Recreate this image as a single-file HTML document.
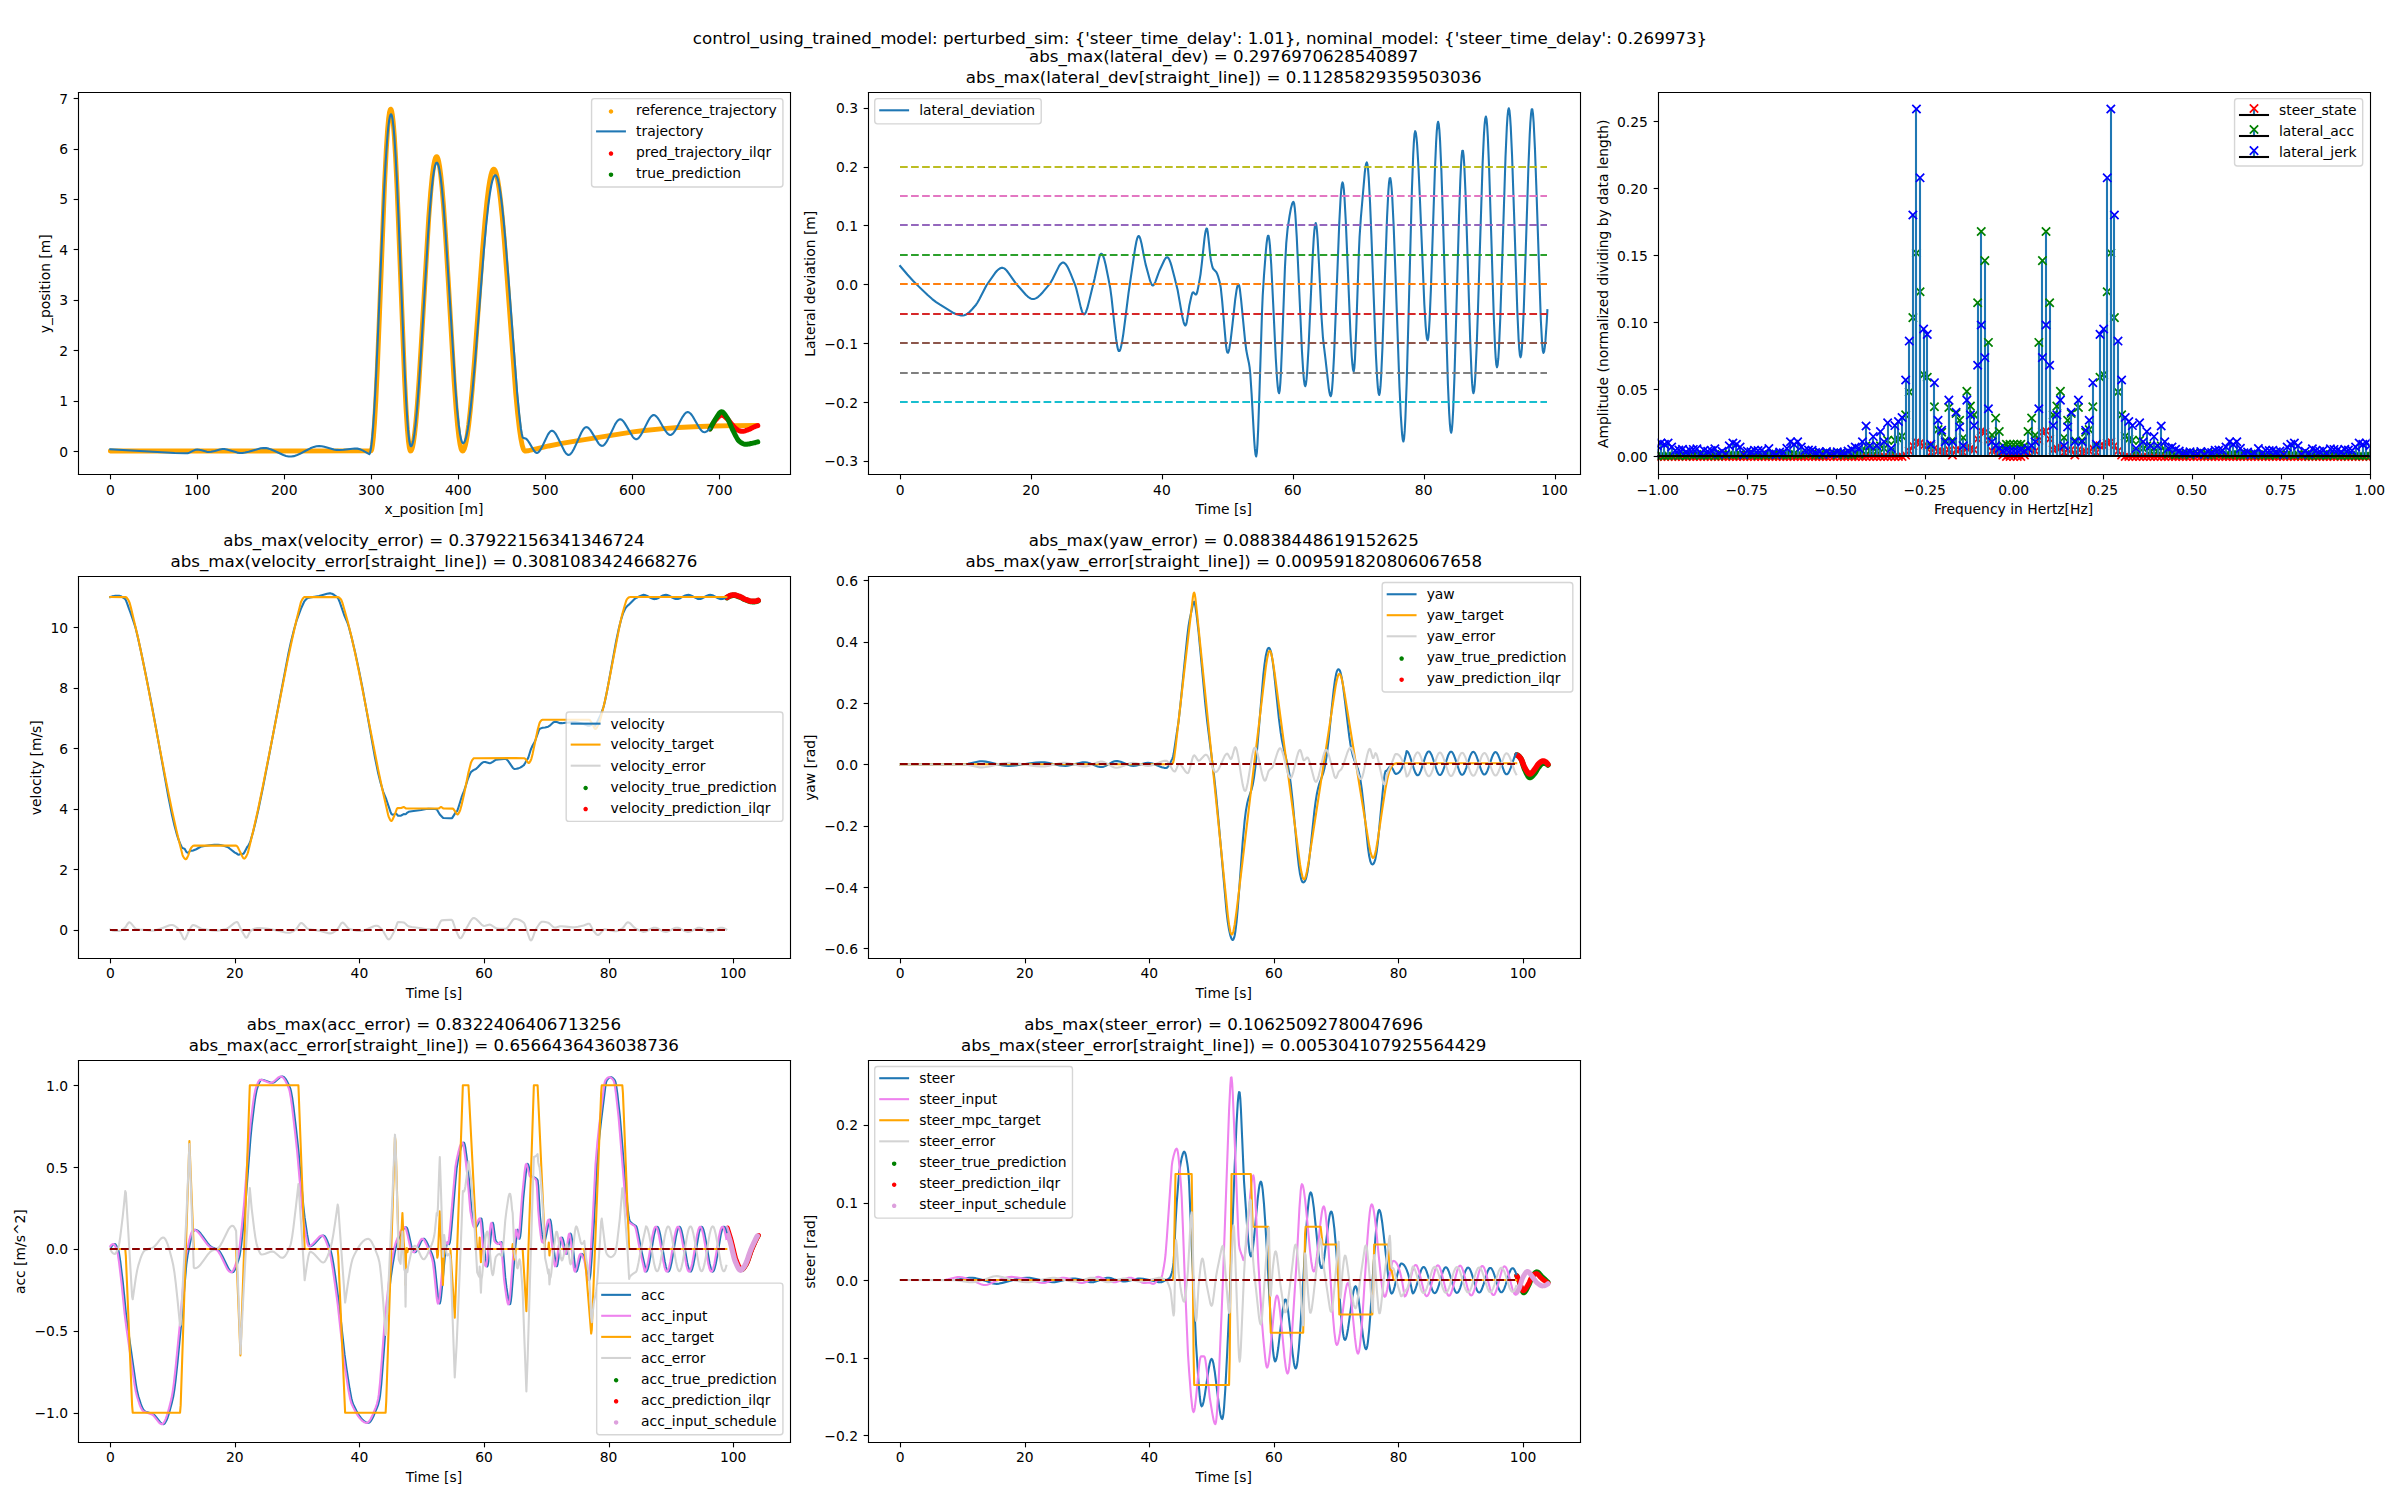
<!DOCTYPE html>
<html><head><meta charset="utf-8"><title>control_using_trained_model</title>
<style>html,body{margin:0;padding:0;background:#fff}svg{display:block}text{font-family:'DejaVu Sans','Liberation Sans',sans-serif}</style>
</head><body>
<svg width="2400" height="1500" viewBox="0 0 1728 1080" version="1.1">
<defs>
<style type="text/css">*{stroke-linejoin: round; stroke-linecap: butt}</style>
</defs>
<g id="figure_1">
<g id="patch_1">
<path d="M 0 1080 L 1728 1080 L 1728 0 L 0 0 z" style="fill: #ffffff"/>
</g>
<g id="axes_1">
<g id="patch_2">
<path d="M 56.090 341.140 L 568.71 341.140 L 568.71 65.998 L 56.090 65.998 z" style="fill: #ffffff"/>
</g>
<g id="line2d_1">
<path d="M 79.414 324.733 L 267.159 324.660 L 267.472 324.079 L 267.785 322.920 L 268.255 320.110 L 268.882 314.413 L 269.664 304.317 L 270.604 288.242 L 271.700 264.908 L 273.266 225.636 L 276.867 132.747 L 278.120 107.661 L 279.060 93.397 L 279.842 84.997 L 280.469 80.743 L 280.939 79.048 L 281.252 78.641 L 281.408 78.656 L 281.721 79.121 L 282.035 80.165 L 282.504 82.804 L 283.131 88.282 L 283.914 98.122 L 284.853 113.926 L 285.949 137.009 L 287.515 176.070 L 291.273 272.703 L 292.369 294.602 L 293.309 309.151 L 294.092 317.817 L 294.718 322.296 L 295.188 324.163 L 295.501 324.686 L 295.814 324.680 L 296.127 324.357 L 296.597 323.325 L 297.067 321.642 L 297.693 318.404 L 298.476 312.810 L 299.416 303.963 L 300.512 290.980 L 301.764 273.180 L 303.487 244.960 L 308.654 157.302 L 310.063 138.755 L 311.159 127.372 L 312.099 120.063 L 312.882 115.840 L 313.508 113.741 L 313.978 112.928 L 314.291 112.752 L 314.604 112.869 L 314.917 113.280 L 315.387 114.442 L 315.857 116.254 L 316.483 119.661 L 317.266 125.455 L 318.206 134.526 L 319.302 147.737 L 320.711 168.179 L 322.590 199.604 L 326.974 274.608 L 328.384 294.180 L 329.480 306.539 L 330.419 314.782 L 331.202 319.834 L 331.829 322.621 L 332.298 323.957 L 332.768 324.639 L 333.081 324.729 L 333.394 324.593 L 333.864 324.027 L 334.334 323.029 L 334.960 321.033 L 335.743 317.490 L 336.526 312.825 L 337.466 305.823 L 338.562 295.874 L 339.971 280.630 L 341.693 259.063 L 344.355 222.171 L 347.487 179.345 L 349.209 158.842 L 350.619 144.775 L 351.715 135.901 L 352.654 129.912 L 353.437 126.141 L 354.220 123.528 L 354.846 122.293 L 355.316 121.872 L 355.629 121.834 L 355.943 121.989 L 356.412 122.583 L 356.882 123.610 L 357.508 125.644 L 358.291 129.233 L 359.231 135.014 L 360.327 143.664 L 361.580 155.811 L 362.989 171.913 L 364.868 196.343 L 371.288 282.804 L 372.697 297.707 L 373.950 308.562 L 375.046 315.937 L 375.985 320.543 L 376.768 323.109 L 377.395 324.306 L 377.864 324.698 L 378.334 324.720 L 380.057 324.551 L 381.936 324.147 L 386.946 322.939 L 395.089 321.117 L 404.484 319.290 L 416.384 317.265 L 455.843 310.957 L 463.986 309.953 L 477.765 308.601 L 488.413 307.802 L 499.687 307.225 L 514.093 306.738 L 527.872 306.470 L 545.410 306.329 L 545.410 306.329" clip-path="url(#paa9dff0b9c)" style="fill: none; stroke: #ffa500; stroke-width: 3.5; stroke-linecap: round"/>
</g>
<g id="PathCollection_1"/>
<g id="PathCollection_2"/>
<g id="PathCollection_3"/>
<g id="line2d_2">
<path d="M 511.274 308.834 L 511.975 307.449 L 512.675 306.145 L 513.376 304.940 L 514.076 303.850 L 514.777 302.894 L 515.477 302.085 L 516.178 301.306 L 516.878 300.540 L 517.579 299.851 L 518.279 299.299 L 518.980 298.947 L 519.680 298.858 L 520.381 299.041 L 521.081 299.437 L 521.781 299.978 L 522.482 300.600 L 523.182 301.236 L 523.883 301.862 L 524.583 302.606 L 525.284 303.446 L 525.984 304.333 L 526.685 305.219 L 527.385 306.056 L 528.086 306.805 L 528.786 307.558 L 529.487 308.295 L 530.187 308.942 L 530.888 309.427 L 531.588 309.770 L 532.289 310.085 L 532.989 310.346 L 533.690 310.520 L 534.390 310.576 L 535.090 310.519 L 535.791 310.383 L 536.491 310.189 L 537.192 309.956 L 537.892 309.707 L 538.593 309.462 L 539.293 309.177 L 539.994 308.834 L 540.694 308.463 L 541.395 308.092 L 542.095 307.753 L 542.796 307.455 L 543.496 307.172 L 544.197 306.901 L 544.897 306.645 L 545.598 306.402" clip-path="url(#paa9dff0b9c)" style="fill: none; stroke: #ff0000; stroke-width: 3.6; stroke-linecap: round"/>
</g>
<g id="line2d_3">
<path d="M 511.274 308.834 L 511.975 307.398 L 512.675 306.025 L 513.376 304.722 L 514.076 303.497 L 514.777 302.358 L 515.477 301.308 L 516.178 300.206 L 516.878 299.068 L 517.579 298.008 L 518.279 297.139 L 518.980 296.575 L 519.680 296.429 L 520.381 296.723 L 521.081 297.360 L 521.781 298.239 L 522.482 299.260 L 523.182 300.324 L 523.883 301.406 L 524.583 302.759 L 525.284 304.324 L 525.984 305.996 L 526.685 307.669 L 527.385 309.239 L 528.086 310.618 L 528.786 311.992 L 529.487 313.384 L 530.187 314.726 L 530.888 315.948 L 531.588 316.982 L 532.289 317.758 L 532.989 318.270 L 533.690 318.729 L 534.390 319.142 L 535.090 319.486 L 535.791 319.740 L 536.491 319.882 L 537.192 319.899 L 537.892 319.848 L 538.593 319.754 L 539.293 319.630 L 539.994 319.492 L 540.694 319.351 L 541.395 319.217 L 542.095 319.073 L 542.796 318.914 L 543.496 318.743 L 544.197 318.560 L 544.897 318.366 L 545.598 318.163" clip-path="url(#paa9dff0b9c)" style="fill: none; stroke: #008000; stroke-width: 3.6; stroke-linecap: round"/>
</g>
<g id="matplotlib.axis_1">
<g id="xtick_1">
<g id="line2d_4">
<defs>
<path id="md68f95e51d" d="M 0 0 L 0 3.5" style="stroke: #000000; stroke-width: 0.8"/>
</defs>
<g>
<use href="#md68f95e51d" x="79.56" y="341.64" style="stroke: #000000; stroke-width: 0.8"/>
</g>
</g>
<g id="text_1">
<text style="font-size: 10px; font-family: 'DejaVu Sans'; text-anchor: middle" x="79.414" y="356.060">0</text>
</g>
</g>
<g id="xtick_2">
<g id="line2d_5">
<g>
<use href="#md68f95e51d" x="142.2" y="341.64" style="stroke: #000000; stroke-width: 0.8"/>
</g>
</g>
<g id="text_2">
<text style="font-size: 10px; font-family: 'DejaVu Sans'; text-anchor: middle" x="142.048" y="356.060">100</text>
</g>
</g>
<g id="xtick_3">
<g id="line2d_6">
<g>
<use href="#md68f95e51d" x="204.84" y="341.64" style="stroke: #000000; stroke-width: 0.8"/>
</g>
</g>
<g id="text_3">
<text style="font-size: 10px; font-family: 'DejaVu Sans'; text-anchor: middle" x="204.682" y="356.060">200</text>
</g>
</g>
<g id="xtick_4">
<g id="line2d_7">
<g>
<use href="#md68f95e51d" x="267.48" y="341.64" style="stroke: #000000; stroke-width: 0.8"/>
</g>
</g>
<g id="text_4">
<text style="font-size: 10px; font-family: 'DejaVu Sans'; text-anchor: middle" x="267.316" y="356.060">300</text>
</g>
</g>
<g id="xtick_5">
<g id="line2d_8">
<g>
<use href="#md68f95e51d" x="330.12" y="341.64" style="stroke: #000000; stroke-width: 0.8"/>
</g>
</g>
<g id="text_5">
<text style="font-size: 10px; font-family: 'DejaVu Sans'; text-anchor: middle" x="329.949" y="356.060">400</text>
</g>
</g>
<g id="xtick_6">
<g id="line2d_9">
<g>
<use href="#md68f95e51d" x="392.76" y="341.64" style="stroke: #000000; stroke-width: 0.8"/>
</g>
</g>
<g id="text_6">
<text style="font-size: 10px; font-family: 'DejaVu Sans'; text-anchor: middle" x="392.583" y="356.060">500</text>
</g>
</g>
<g id="xtick_7">
<g id="line2d_10">
<g>
<use href="#md68f95e51d" x="455.4" y="341.64" style="stroke: #000000; stroke-width: 0.8"/>
</g>
</g>
<g id="text_7">
<text style="font-size: 10px; font-family: 'DejaVu Sans'; text-anchor: middle" x="455.217" y="356.060">600</text>
</g>
</g>
<g id="xtick_8">
<g id="line2d_11">
<g>
<use href="#md68f95e51d" x="518.04" y="341.64" style="stroke: #000000; stroke-width: 0.8"/>
</g>
</g>
<g id="text_8">
<text style="font-size: 10px; font-family: 'DejaVu Sans'; text-anchor: middle" x="517.851" y="356.060">700</text>
</g>
</g>
<g id="text_9">
<text style="font-size: 10px; font-family: 'DejaVu Sans'; text-anchor: middle" x="312.400" y="370.140">x_position [m]</text>
</g>
</g>
<g id="matplotlib.axis_2">
<g id="ytick_1">
<g id="line2d_12">
<defs>
<path id="me6279a2b69" d="M 0 0 L -3.5 0" style="stroke: #000000; stroke-width: 0.8"/>
</defs>
<g>
<use href="#me6279a2b69" x="56.52" y="325.08" style="stroke: #000000; stroke-width: 0.8"/>
</g>
</g>
<g id="text_10">
<text style="font-size: 10px; font-family: 'DejaVu Sans'; text-anchor: end" x="49.090" y="328.693">0</text>
</g>
</g>
<g id="ytick_2">
<g id="line2d_13">
<g>
<use href="#me6279a2b69" x="56.52" y="289.08" style="stroke: #000000; stroke-width: 0.8"/>
</g>
</g>
<g id="text_11">
<text style="font-size: 10px; font-family: 'DejaVu Sans'; text-anchor: end" x="49.090" y="292.394">1</text>
</g>
</g>
<g id="ytick_3">
<g id="line2d_14">
<g>
<use href="#me6279a2b69" x="56.52" y="252.36" style="stroke: #000000; stroke-width: 0.8"/>
</g>
</g>
<g id="text_12">
<text style="font-size: 10px; font-family: 'DejaVu Sans'; text-anchor: end" x="49.090" y="256.096">2</text>
</g>
</g>
<g id="ytick_4">
<g id="line2d_15">
<g>
<use href="#me6279a2b69" x="56.52" y="216.36" style="stroke: #000000; stroke-width: 0.8"/>
</g>
</g>
<g id="text_13">
<text style="font-size: 10px; font-family: 'DejaVu Sans'; text-anchor: end" x="49.090" y="219.798">3</text>
</g>
</g>
<g id="ytick_5">
<g id="line2d_16">
<g>
<use href="#me6279a2b69" x="56.52" y="179.64" style="stroke: #000000; stroke-width: 0.8"/>
</g>
</g>
<g id="text_14">
<text style="font-size: 10px; font-family: 'DejaVu Sans'; text-anchor: end" x="49.090" y="183.499">4</text>
</g>
</g>
<g id="ytick_6">
<g id="line2d_17">
<g>
<use href="#me6279a2b69" x="56.52" y="143.64" style="stroke: #000000; stroke-width: 0.8"/>
</g>
</g>
<g id="text_15">
<text style="font-size: 10px; font-family: 'DejaVu Sans'; text-anchor: end" x="49.090" y="147.201">5</text>
</g>
</g>
<g id="ytick_7">
<g id="line2d_18">
<g>
<use href="#me6279a2b69" x="56.52" y="107.64" style="stroke: #000000; stroke-width: 0.8"/>
</g>
</g>
<g id="text_16">
<text style="font-size: 10px; font-family: 'DejaVu Sans'; text-anchor: end" x="49.090" y="110.903">6</text>
</g>
</g>
<g id="ytick_8">
<g id="line2d_19">
<g>
<use href="#me6279a2b69" x="56.52" y="70.92" style="stroke: #000000; stroke-width: 0.8"/>
</g>
</g>
<g id="text_17">
<text style="font-size: 10px; font-family: 'DejaVu Sans'; text-anchor: end" x="49.090" y="74.604">7</text>
</g>
</g>
<g id="text_18">
<text style="font-size: 10px; font-family: 'DejaVu Sans'; text-anchor: middle" x="35.718" y="204.289" transform="rotate(-90 35.718 204.289)">y_position [m]</text>
</g>
</g>
<g id="line2d_20">
<path d="M 79.414 323.462 L 125.763 326.201 L 133.279 326.399 L 135.158 326.305 L 136.411 325.894 L 138.916 324.628 L 140.795 323.836 L 142.048 323.644 L 143.301 323.759 L 145.180 324.243 L 148.938 325.343 L 150.191 325.459 L 152.070 325.279 L 154.575 324.655 L 158.333 323.586 L 160.212 323.302 L 161.465 323.302 L 163.344 323.583 L 165.849 324.303 L 170.860 325.883 L 172.739 326.164 L 174.618 326.128 L 176.497 325.857 L 179.002 325.244 L 187.771 322.770 L 189.650 322.569 L 191.529 322.633 L 193.408 323.012 L 195.287 323.637 L 197.792 324.727 L 204.056 327.643 L 205.935 328.268 L 207.814 328.647 L 209.693 328.705 L 211.572 328.417 L 213.451 327.842 L 215.956 326.749 L 219.714 324.741 L 223.472 322.779 L 225.977 321.767 L 227.856 321.280 L 229.735 321.103 L 231.614 321.250 L 233.493 321.633 L 236.625 322.555 L 240.383 323.625 L 242.262 323.939 L 244.141 323.999 L 247.273 323.771 L 255.415 322.926 L 257.294 323.016 L 259.173 323.492 L 261.052 324.285 L 263.558 325.688 L 265.906 327.033 L 266.220 326.557 L 266.533 325.609 L 267.003 323.307 L 267.629 318.630 L 268.412 310.308 L 269.351 296.964 L 270.447 277.369 L 271.857 247.261 L 274.519 183.419 L 276.398 140.844 L 277.650 117.042 L 278.746 100.619 L 279.529 91.872 L 280.156 86.835 L 280.782 83.627 L 281.252 82.452 L 281.565 82.262 L 281.878 82.600 L 282.191 83.498 L 282.661 85.886 L 283.287 90.972 L 283.914 98.140 L 284.697 109.820 L 285.636 127.363 L 286.889 155.491 L 289.081 211.638 L 291.117 262.055 L 292.369 287.779 L 293.309 302.939 L 294.092 312.335 L 294.718 317.527 L 295.188 319.998 L 295.657 321.219 L 295.971 321.344 L 296.284 321.116 L 296.597 320.602 L 297.067 319.301 L 297.693 316.590 L 298.319 312.789 L 299.102 306.575 L 300.042 297.116 L 301.138 283.627 L 302.547 263.124 L 304.583 229.477 L 308.184 169.578 L 309.594 149.938 L 310.846 135.730 L 311.786 127.489 L 312.569 122.375 L 313.195 119.498 L 313.821 117.735 L 314.291 117.158 L 314.604 117.128 L 314.917 117.374 L 315.387 118.253 L 315.857 119.740 L 316.483 122.651 L 317.266 127.736 L 318.206 135.843 L 319.302 147.811 L 320.554 164.307 L 322.277 190.615 L 327.914 280.076 L 329.167 295.214 L 330.263 305.750 L 331.202 312.486 L 331.985 316.352 L 332.611 318.254 L 333.081 318.970 L 333.394 319.106 L 333.708 319.020 L 334.177 318.567 L 334.647 317.726 L 335.273 316.011 L 336.056 312.927 L 336.839 308.832 L 337.779 302.650 L 338.875 293.817 L 340.284 280.199 L 342.007 260.781 L 344.355 231.209 L 348.426 179.689 L 350.149 160.917 L 351.558 147.996 L 352.811 138.766 L 353.750 133.407 L 354.533 130.036 L 355.316 127.702 L 355.943 126.599 L 356.412 126.223 L 356.725 126.189 L 357.039 126.341 L 357.508 126.922 L 357.978 127.926 L 358.604 129.915 L 359.387 133.423 L 360.327 139.074 L 361.423 147.530 L 362.676 159.403 L 364.085 175.138 L 365.964 199.006 L 372.384 283.373 L 373.793 297.882 L 375.046 308.432 L 375.610 311.930 L 376.236 314.629 L 376.549 315.253 L 377.175 315.455 L 378.428 315.704 L 379.054 316.098 L 379.994 317.127 L 381.247 319.067 L 384.378 324.402 L 385.318 325.482 L 385.944 325.919 L 386.570 326.076 L 387.197 325.922 L 387.823 325.486 L 388.763 324.383 L 389.702 322.852 L 391.268 319.688 L 394.400 313.140 L 395.339 311.659 L 396.279 310.622 L 396.905 310.240 L 397.531 310.146 L 398.158 310.338 L 398.784 310.781 L 399.724 311.849 L 400.663 313.312 L 401.916 315.702 L 406.613 325.216 L 407.553 326.481 L 408.492 327.297 L 409.119 327.541 L 409.745 327.513 L 410.371 327.217 L 410.998 326.679 L 411.937 325.480 L 413.190 323.297 L 414.756 319.944 L 418.514 311.551 L 419.766 309.427 L 420.706 308.287 L 421.332 307.795 L 421.959 307.550 L 422.585 307.571 L 423.211 307.828 L 424.151 308.591 L 425.090 309.722 L 426.343 311.642 L 431.040 319.403 L 431.980 320.374 L 432.606 320.798 L 433.233 321.011 L 433.859 320.983 L 434.485 320.707 L 435.112 320.207 L 436.051 319.090 L 437.304 317.052 L 438.870 313.910 L 442.941 305.394 L 444.194 303.468 L 445.133 302.463 L 445.759 302.049 L 446.386 301.870 L 447.012 301.943 L 447.638 302.246 L 448.578 303.074 L 449.517 304.266 L 450.770 306.263 L 455.468 314.353 L 456.407 315.410 L 457.347 316.065 L 457.973 316.234 L 458.599 316.158 L 459.226 315.846 L 460.165 314.987 L 461.105 313.738 L 462.357 311.615 L 464.236 307.870 L 466.742 302.905 L 467.994 300.899 L 468.934 299.770 L 469.873 299.061 L 470.500 298.863 L 471.126 298.909 L 471.752 299.176 L 472.692 299.935 L 473.631 301.050 L 474.884 302.943 L 477.389 307.372 L 479.268 310.465 L 480.521 312.042 L 481.461 312.828 L 482.087 313.116 L 482.713 313.185 L 483.340 313.020 L 483.966 312.640 L 484.905 311.717 L 485.845 310.446 L 487.098 308.350 L 489.603 303.521 L 491.482 300.108 L 492.735 298.298 L 493.674 297.324 L 494.301 296.903 L 494.927 296.693 L 495.553 296.717 L 496.180 296.966 L 497.119 297.707 L 498.059 298.815 L 499.311 300.713 L 501.503 304.621 L 503.382 307.863 L 504.635 309.609 L 505.575 310.557 L 506.514 311.099 L 507.140 311.193 L 508.080 311.002 L 509.019 310.511 L 509.959 309.768 L 511.212 308.471 L 511.212 308.471" clip-path="url(#paa9dff0b9c)" style="fill: none; stroke: #1f77b4; stroke-width: 1.5; stroke-linecap: square"/>
</g>
<g id="patch_3">
<path d="M 56.52 341.64 L 56.52 66.6" style="fill: none; stroke: #000000; stroke-width: 0.8; stroke-linejoin: miter; stroke-linecap: square"/>
</g>
<g id="patch_4">
<path d="M 569.16 341.64 L 569.16 66.6" style="fill: none; stroke: #000000; stroke-width: 0.8; stroke-linejoin: miter; stroke-linecap: square"/>
</g>
<g id="patch_5">
<path d="M 56.52 341.64 L 569.16 341.64" style="fill: none; stroke: #000000; stroke-width: 0.8; stroke-linejoin: miter; stroke-linecap: square"/>
</g>
<g id="patch_6">
<path d="M 56.52 66.6 L 569.16 66.6" style="fill: none; stroke: #000000; stroke-width: 0.8; stroke-linejoin: miter; stroke-linecap: square"/>
</g>
<g id="legend_1">
<g id="patch_7">
<path d="M 427.92 134.622 L 561.71 134.622 Q 563.71 134.622 563.71 132.622 L 563.71 72.998 Q 563.71 70.998 561.71 70.998 L 427.92 70.998 Q 425.92 70.998 425.92 72.998 L 425.92 132.622 Q 425.92 134.622 427.92 134.622 z" style="fill: #ffffff; opacity: 0.8; stroke: #cccccc; stroke-linejoin: miter"/>
</g>
<g id="PathCollection_4">
<defs>
<path id="ma696efecd9" d="M 0 1.118 C 0.296 1.118 0.580 1.000 0.790 0.790 C 1.000 0.580 1.118 0.296 1.118 0 C 1.118 -0.296 1.000 -0.580 0.790 -0.790 C 0.580 -1.000 0.296 -1.118 0 -1.118 C -0.296 -1.118 -0.580 -1.000 -0.790 -0.790 C -1.000 -0.580 -1.118 -0.296 -1.118 0 C -1.118 0.296 -1.000 0.580 -0.790 0.790 C -0.580 1.000 -0.296 1.118 0 1.118 z" style="stroke: #ffa500"/>
</defs>
<g>
<use href="#ma696efecd9" x="439.92" y="80.293" style="fill: #ffa500; stroke: #ffa500"/>
</g>
</g>
<g id="text_19">
<text style="font-size: 10px; font-family: 'DejaVu Sans'; text-anchor: start" x="457.92" y="82.918">reference_trajectory</text>
</g>
<g id="line2d_21">
<path d="M 429.92 94.599 L 439.92 94.599 L 449.92 94.599" style="fill: none; stroke: #1f77b4; stroke-width: 1.5; stroke-linecap: square"/>
</g>
<g id="text_20">
<text style="font-size: 10px; font-family: 'DejaVu Sans'; text-anchor: start" x="457.92" y="98.099">trajectory</text>
</g>
<g id="PathCollection_5">
<defs>
<path id="me06b111425" d="M 0 1.118 C 0.296 1.118 0.580 1.000 0.790 0.790 C 1.000 0.580 1.118 0.296 1.118 0 C 1.118 -0.296 1.000 -0.580 0.790 -0.790 C 0.580 -1.000 0.296 -1.118 0 -1.118 C -0.296 -1.118 -0.580 -1.000 -0.790 -0.790 C -1.000 -0.580 -1.118 -0.296 -1.118 0 C -1.118 0.296 -1.000 0.580 -0.790 0.790 C -0.580 1.000 -0.296 1.118 0 1.118 z" style="stroke: #ff0000"/>
</defs>
<g>
<use href="#me06b111425" x="439.92" y="110.554" style="fill: #ff0000; stroke: #ff0000"/>
</g>
</g>
<g id="text_21">
<text style="font-size: 10px; font-family: 'DejaVu Sans'; text-anchor: start" x="457.92" y="113.179">pred_trajectory_ilqr</text>
</g>
<g id="PathCollection_6">
<defs>
<path id="m0045b0ffa0" d="M 0 1.118 C 0.296 1.118 0.580 1.000 0.790 0.790 C 1.000 0.580 1.118 0.296 1.118 0 C 1.118 -0.296 1.000 -0.580 0.790 -0.790 C 0.580 -1.000 0.296 -1.118 0 -1.118 C -0.296 -1.118 -0.580 -1.000 -0.790 -0.790 C -1.000 -0.580 -1.118 -0.296 -1.118 0 C -1.118 0.296 -1.000 0.580 -0.790 0.790 C -0.580 1.000 -0.296 1.118 0 1.118 z" style="stroke: #008000"/>
</defs>
<g>
<use href="#m0045b0ffa0" x="439.92" y="125.736" style="fill: #008000; stroke: #008000"/>
</g>
</g>
<g id="text_22">
<text style="font-size: 10px; font-family: 'DejaVu Sans'; text-anchor: start" x="457.92" y="128.361">true_prediction</text>
</g>
</g>
</g>
<g id="axes_2">
<g id="patch_8">
<path d="M 624.800 341.140 L 1137.42 341.140 L 1137.42 65.998 L 624.800 65.998 z" style="fill: #ffffff"/>
</g>
<g id="matplotlib.axis_3">
<g id="xtick_9">
<g id="line2d_22">
<g>
<use href="#md68f95e51d" x="648.36" y="341.64" style="stroke: #000000; stroke-width: 0.8"/>
</g>
</g>
<g id="text_23">
<text style="font-size: 10px; font-family: 'DejaVu Sans'; text-anchor: middle" x="648.100" y="356.060">0</text>
</g>
</g>
<g id="xtick_10">
<g id="line2d_23">
<g>
<use href="#md68f95e51d" x="742.68" y="341.64" style="stroke: #000000; stroke-width: 0.8"/>
</g>
</g>
<g id="text_24">
<text style="font-size: 10px; font-family: 'DejaVu Sans'; text-anchor: middle" x="742.341" y="356.060">20</text>
</g>
</g>
<g id="xtick_11">
<g id="line2d_24">
<g>
<use href="#md68f95e51d" x="837" y="341.64" style="stroke: #000000; stroke-width: 0.8"/>
</g>
</g>
<g id="text_25">
<text style="font-size: 10px; font-family: 'DejaVu Sans'; text-anchor: middle" x="836.581" y="356.060">40</text>
</g>
</g>
<g id="xtick_12">
<g id="line2d_25">
<g>
<use href="#md68f95e51d" x="931.32" y="341.64" style="stroke: #000000; stroke-width: 0.8"/>
</g>
</g>
<g id="text_26">
<text style="font-size: 10px; font-family: 'DejaVu Sans'; text-anchor: middle" x="930.821" y="356.060">60</text>
</g>
</g>
<g id="xtick_13">
<g id="line2d_26">
<g>
<use href="#md68f95e51d" x="1025.64" y="341.64" style="stroke: #000000; stroke-width: 0.8"/>
</g>
</g>
<g id="text_27">
<text style="font-size: 10px; font-family: 'DejaVu Sans'; text-anchor: middle" x="1025.062" y="356.060">80</text>
</g>
</g>
<g id="xtick_14">
<g id="line2d_27">
<g>
<use href="#md68f95e51d" x="1119.96" y="341.64" style="stroke: #000000; stroke-width: 0.8"/>
</g>
</g>
<g id="text_28">
<text style="font-size: 10px; font-family: 'DejaVu Sans'; text-anchor: middle" x="1119.302" y="356.060">100</text>
</g>
</g>
<g id="text_29">
<text style="font-size: 10px; font-family: 'DejaVu Sans'; text-anchor: middle" x="881.110" y="370.140">Time [s]</text>
</g>
</g>
<g id="matplotlib.axis_4">
<g id="ytick_9">
<g id="line2d_28">
<g>
<use href="#me6279a2b69" x="625.32" y="332.28" style="stroke: #000000; stroke-width: 0.8"/>
</g>
</g>
<g id="text_30">
<text style="font-size: 10px; font-family: 'DejaVu Sans'; text-anchor: end" x="617.800" y="335.856">−0.3</text>
</g>
</g>
<g id="ytick_10">
<g id="line2d_29">
<g>
<use href="#me6279a2b69" x="625.32" y="289.8" style="stroke: #000000; stroke-width: 0.8"/>
</g>
</g>
<g id="text_31">
<text style="font-size: 10px; font-family: 'DejaVu Sans'; text-anchor: end" x="617.800" y="293.455">−0.2</text>
</g>
</g>
<g id="ytick_11">
<g id="line2d_30">
<g>
<use href="#me6279a2b69" x="625.32" y="247.32" style="stroke: #000000; stroke-width: 0.8"/>
</g>
</g>
<g id="text_32">
<text style="font-size: 10px; font-family: 'DejaVu Sans'; text-anchor: end" x="617.800" y="251.054">−0.1</text>
</g>
</g>
<g id="ytick_12">
<g id="line2d_31">
<g>
<use href="#me6279a2b69" x="625.32" y="204.84" style="stroke: #000000; stroke-width: 0.8"/>
</g>
</g>
<g id="text_33">
<text style="font-size: 10px; font-family: 'DejaVu Sans'; text-anchor: end" x="617.800" y="208.652">0.0</text>
</g>
</g>
<g id="ytick_13">
<g id="line2d_32">
<g>
<use href="#me6279a2b69" x="625.32" y="162.36" style="stroke: #000000; stroke-width: 0.8"/>
</g>
</g>
<g id="text_34">
<text style="font-size: 10px; font-family: 'DejaVu Sans'; text-anchor: end" x="617.800" y="166.251">0.1</text>
</g>
</g>
<g id="ytick_14">
<g id="line2d_33">
<g>
<use href="#me6279a2b69" x="625.32" y="120.6" style="stroke: #000000; stroke-width: 0.8"/>
</g>
</g>
<g id="text_35">
<text style="font-size: 10px; font-family: 'DejaVu Sans'; text-anchor: end" x="617.800" y="123.850">0.2</text>
</g>
</g>
<g id="ytick_15">
<g id="line2d_34">
<g>
<use href="#me6279a2b69" x="625.32" y="78.12" style="stroke: #000000; stroke-width: 0.8"/>
</g>
</g>
<g id="text_36">
<text style="font-size: 10px; font-family: 'DejaVu Sans'; text-anchor: end" x="617.800" y="81.449">0.3</text>
</g>
</g>
<g id="text_37">
<text style="font-size: 10px; font-family: 'DejaVu Sans'; text-anchor: middle" x="586.71" y="204.289" transform="rotate(-90 586.71 204.289)">Lateral deviation [m]</text>
</g>
</g>
<g id="line2d_35">
<path d="M 648.100 191.548 L 653.284 197.660 L 657.524 202.296 L 661.765 206.556 L 667.891 212.450 L 671.189 215.332 L 674.017 217.528 L 676.844 219.402 L 685.797 224.953 L 688.153 226.046 L 690.037 226.688 L 691.922 227.073 L 693.336 227.165 L 694.278 227.041 L 695.221 226.691 L 696.634 225.808 L 698.048 224.588 L 699.933 222.620 L 702.760 219.386 L 703.702 218.000 L 705.116 215.461 L 710.299 205.379 L 716.425 196.590 L 717.838 194.954 L 719.252 193.708 L 720.194 193.153 L 721.137 192.858 L 722.079 192.871 L 723.021 193.254 L 723.964 193.963 L 724.906 194.938 L 726.320 196.769 L 731.503 204.187 L 734.801 207.881 L 738.571 212.232 L 739.985 213.560 L 741.398 214.571 L 742.341 215.022 L 743.283 215.261 L 744.226 215.264 L 745.168 215.044 L 746.110 214.627 L 747.524 213.680 L 748.938 212.420 L 750.822 210.387 L 755.534 204.692 L 756.477 203.400 L 757.890 200.865 L 762.602 191.446 L 763.545 190.158 L 764.487 189.310 L 764.958 189.083 L 765.430 189.004 L 765.901 189.085 L 766.372 189.319 L 767.314 190.204 L 768.257 191.568 L 769.199 193.319 L 770.613 196.473 L 773.911 204.692 L 774.854 207.547 L 776.267 213.327 L 778.152 221.307 L 779.094 224.333 L 779.566 225.395 L 780.037 226.077 L 780.508 226.317 L 780.979 226.111 L 781.450 225.523 L 781.922 224.597 L 782.864 221.906 L 784.278 216.434 L 787.105 204.692 L 788.047 200.853 L 791.346 185.698 L 791.817 184.277 L 792.288 183.259 L 792.759 182.715 L 793.230 182.703 L 793.702 183.158 L 794.173 184.022 L 795.115 186.788 L 796.058 190.619 L 797.942 199.952 L 799.356 207.330 L 800.298 214.340 L 802.183 231.814 L 803.597 244.025 L 804.539 249.874 L 805.010 251.739 L 805.482 252.730 L 805.953 252.770 L 806.424 252.077 L 806.895 250.756 L 807.838 246.504 L 808.780 240.562 L 810.194 229.682 L 812.550 210.862 L 817.262 178.908 L 818.204 173.887 L 818.675 172.029 L 819.147 170.711 L 819.618 170.014 L 820.089 170.012 L 820.560 170.682 L 821.031 171.923 L 821.974 175.713 L 823.859 185.659 L 824.801 190.181 L 828.099 202.284 L 829.042 204.636 L 829.513 205.303 L 829.984 205.540 L 830.455 205.349 L 830.927 204.814 L 831.869 202.943 L 833.283 199.008 L 834.696 195.111 L 838.466 187.021 L 839.408 185.693 L 839.879 185.320 L 840.351 185.188 L 840.822 185.361 L 841.293 185.856 L 841.764 186.642 L 842.707 188.944 L 843.649 191.998 L 845.534 199.275 L 847.890 208.807 L 849.303 216.820 L 851.188 227.650 L 852.131 231.718 L 852.602 233.141 L 853.073 234.052 L 853.544 234.373 L 854.015 233.661 L 854.487 231.769 L 855.429 225.908 L 856.371 219.717 L 857.785 213.366 L 858.256 211.643 L 858.727 210.606 L 859.199 210.517 L 859.670 210.899 L 860.612 211.941 L 861.083 212.155 L 861.555 211.625 L 862.026 210.200 L 862.968 205.643 L 864.382 197.547 L 865.324 189.593 L 867.209 171.868 L 867.680 168.467 L 868.151 165.962 L 868.623 164.594 L 869.094 164.721 L 869.565 166.941 L 870.507 175.381 L 871.450 184.572 L 871.921 187.732 L 872.863 191.963 L 873.335 193.244 L 873.806 193.924 L 875.691 195.788 L 876.162 196.675 L 877.104 199.226 L 878.047 202.679 L 878.518 204.692 L 878.989 207.498 L 879.932 216.464 L 882.759 248.994 L 883.230 252.145 L 883.701 253.861 L 884.172 253.956 L 884.644 252.939 L 885.115 251.031 L 886.057 245.071 L 887.471 232.750 L 889.356 215.551 L 890.298 208.998 L 890.769 206.694 L 891.240 205.215 L 891.712 204.692 L 892.183 205.540 L 892.654 207.881 L 893.596 215.835 L 896.424 244.830 L 897.366 252.394 L 898.308 257.231 L 899.251 261.568 L 899.722 264.478 L 900.193 268.982 L 901.136 283.249 L 903.020 316.880 L 903.492 323.029 L 903.963 327.136 L 904.434 328.631 L 904.905 326.278 L 905.376 319.751 L 905.848 309.846 L 906.790 283.094 L 908.675 224.140 L 909.146 212.916 L 910.088 198.132 L 911.502 179.713 L 911.973 175.036 L 912.444 171.610 L 912.916 169.747 L 913.387 169.806 L 913.858 172.146 L 914.329 176.535 L 915.272 190.246 L 916.685 218.591 L 918.570 258.154 L 919.512 273.231 L 919.984 278.531 L 920.455 281.933 L 920.926 283.135 L 921.397 281.110 L 921.868 275.487 L 922.340 266.946 L 923.282 243.822 L 925.167 192.424 L 926.109 175.012 L 927.052 164.898 L 928.465 155.527 L 929.408 150.333 L 930.350 146.699 L 930.821 145.687 L 931.292 145.331 L 931.764 146.514 L 932.235 149.882 L 932.706 155.161 L 933.648 170.363 L 935.062 200.674 L 937.418 253.014 L 938.360 268.216 L 938.832 273.495 L 939.303 276.863 L 939.774 278.047 L 940.245 276.727 L 940.716 273.000 L 941.188 267.207 L 942.130 250.806 L 943.544 219.321 L 944.957 187.836 L 945.900 171.434 L 946.371 165.642 L 946.842 161.914 L 947.313 160.595 L 947.785 162.107 L 948.256 166.310 L 948.727 172.704 L 949.669 190.070 L 951.554 229.139 L 952.497 242.854 L 953.439 251.090 L 954.381 258.697 L 956.737 279.807 L 957.209 282.681 L 957.680 284.573 L 958.151 285.255 L 958.622 283.882 L 959.093 279.976 L 959.565 273.854 L 960.507 256.224 L 961.921 221.070 L 964.277 160.369 L 965.219 142.740 L 965.690 136.617 L 966.161 132.711 L 966.633 131.338 L 967.104 132.696 L 967.575 136.547 L 968.046 142.558 L 968.989 159.735 L 970.402 193.394 L 972.287 239.050 L 973.229 256.226 L 973.701 262.238 L 974.172 266.089 L 974.643 267.446 L 975.114 265.021 L 975.585 258.360 L 976.528 236.024 L 978.413 181.121 L 978.884 170.647 L 979.826 156.744 L 982.653 124.133 L 983.125 120.338 L 983.596 117.829 L 984.067 116.922 L 984.538 118.265 L 985.009 122.099 L 985.481 128.130 L 986.423 145.613 L 987.365 168.371 L 990.664 255.715 L 991.606 273.199 L 992.077 279.230 L 992.549 283.064 L 993.020 284.407 L 993.491 282.752 L 993.962 278.068 L 994.433 270.771 L 995.376 250.012 L 996.789 209.731 L 998.674 156.511 L 999.617 137.633 L 1000.088 131.590 L 1000.559 128.369 L 1001.030 128.280 L 1001.501 130.848 L 1001.973 135.732 L 1002.444 142.667 L 1003.386 161.629 L 1004.800 198.837 L 1007.627 278.612 L 1008.569 299.029 L 1009.512 312.832 L 1009.983 316.592 L 1010.454 317.904 L 1010.925 315.911 L 1011.397 310.241 L 1011.868 301.351 L 1012.810 275.757 L 1014.224 224.721 L 1016.580 136.596 L 1017.522 111.001 L 1017.994 102.112 L 1018.465 96.442 L 1018.936 94.449 L 1019.407 95.656 L 1019.878 99.102 L 1020.350 104.522 L 1021.292 120.235 L 1022.234 140.688 L 1025.533 219.188 L 1026.475 234.901 L 1026.946 240.321 L 1027.418 243.767 L 1027.889 244.974 L 1028.360 243.207 L 1028.831 238.214 L 1029.302 230.456 L 1030.245 208.488 L 1031.658 166.319 L 1033.072 124.150 L 1034.014 102.182 L 1034.486 94.424 L 1034.957 89.432 L 1035.428 87.665 L 1035.899 89.288 L 1036.370 93.934 L 1036.842 101.266 L 1037.784 122.646 L 1038.726 150.743 L 1042.496 276.562 L 1043.438 297.943 L 1043.910 305.275 L 1044.381 309.920 L 1044.852 311.543 L 1045.323 309.626 L 1045.794 304.176 L 1046.266 295.651 L 1047.208 271.194 L 1048.622 222.832 L 1050.506 155.691 L 1051.449 129.184 L 1051.920 119.292 L 1052.391 112.247 L 1052.862 108.507 L 1053.334 108.490 L 1053.805 112.096 L 1054.276 118.860 L 1055.218 139.989 L 1056.632 183.669 L 1058.517 244.639 L 1059.459 267.873 L 1059.930 276.040 L 1060.402 281.283 L 1060.873 283.135 L 1061.344 281.537 L 1061.815 276.975 L 1062.286 269.799 L 1063.229 248.995 L 1064.171 221.917 L 1067.470 117.988 L 1068.412 97.185 L 1068.883 90.009 L 1069.354 85.447 L 1069.826 83.849 L 1070.297 85.650 L 1070.768 90.761 L 1071.239 98.739 L 1072.182 121.534 L 1073.595 166.204 L 1075.480 226.793 L 1076.422 249.588 L 1076.894 257.566 L 1077.365 262.677 L 1077.836 264.478 L 1078.307 262.815 L 1078.778 258.080 L 1079.250 250.658 L 1080.192 229.289 L 1081.606 186.679 L 1083.962 113.102 L 1084.904 91.732 L 1085.375 84.311 L 1085.847 79.576 L 1086.318 77.913 L 1086.789 79.512 L 1087.260 84.064 L 1087.731 91.198 L 1088.674 111.742 L 1090.087 152.706 L 1092.443 223.441 L 1093.386 243.984 L 1093.857 251.119 L 1094.328 255.671 L 1094.799 257.270 L 1095.271 255.584 L 1095.742 250.793 L 1096.213 243.297 L 1097.155 221.796 L 1098.569 179.278 L 1100.454 120.250 L 1101.396 96.946 L 1101.867 88.249 L 1102.339 82.055 L 1102.810 78.767 L 1103.281 78.759 L 1103.752 81.989 L 1104.223 88.072 L 1105.166 107.224 L 1106.108 133.065 L 1109.407 230.741 L 1110.349 247.728 L 1110.820 252.434 L 1111.291 254.090 L 1111.763 253.062 L 1112.234 250.118 L 1112.705 245.466 L 1113.647 231.873 L 1114.119 223.349 L 1114.119 223.349" clip-path="url(#p4e9524a545)" style="fill: none; stroke: #1f77b4; stroke-width: 1.5; stroke-linecap: square"/>
</g>
<g id="line2d_36">
<path d="M 648 204.48 L 1113.84 204.48" clip-path="url(#p4e9524a545)" style="fill: none; stroke-dasharray: 5.55,2.4; stroke-dashoffset: 0; stroke: #ff7f0e; stroke-width: 1.5"/>
</g>
<g id="line2d_37">
<path d="M 648 183.6 L 1113.84 183.6" clip-path="url(#p4e9524a545)" style="fill: none; stroke-dasharray: 5.55,2.4; stroke-dashoffset: 0; stroke: #2ca02c; stroke-width: 1.5"/>
</g>
<g id="line2d_38">
<path d="M 648 226.08 L 1113.84 226.08" clip-path="url(#p4e9524a545)" style="fill: none; stroke-dasharray: 5.55,2.4; stroke-dashoffset: 0; stroke: #d62728; stroke-width: 1.5"/>
</g>
<g id="line2d_39">
<path d="M 648 162 L 1113.84 162" clip-path="url(#p4e9524a545)" style="fill: none; stroke-dasharray: 5.55,2.4; stroke-dashoffset: 0; stroke: #9467bd; stroke-width: 1.5"/>
</g>
<g id="line2d_40">
<path d="M 648 246.96 L 1113.84 246.96" clip-path="url(#p4e9524a545)" style="fill: none; stroke-dasharray: 5.55,2.4; stroke-dashoffset: 0; stroke: #8c564b; stroke-width: 1.5"/>
</g>
<g id="line2d_41">
<path d="M 648 141.12 L 1113.84 141.12" clip-path="url(#p4e9524a545)" style="fill: none; stroke-dasharray: 5.55,2.4; stroke-dashoffset: 0; stroke: #e377c2; stroke-width: 1.5"/>
</g>
<g id="line2d_42">
<path d="M 648 268.56 L 1113.84 268.56" clip-path="url(#p4e9524a545)" style="fill: none; stroke-dasharray: 5.55,2.4; stroke-dashoffset: 0; stroke: #7f7f7f; stroke-width: 1.5"/>
</g>
<g id="line2d_43">
<path d="M 648 120.24 L 1113.84 120.24" clip-path="url(#p4e9524a545)" style="fill: none; stroke-dasharray: 5.55,2.4; stroke-dashoffset: 0; stroke: #bcbd22; stroke-width: 1.5"/>
</g>
<g id="line2d_44">
<path d="M 648 289.44 L 1113.84 289.44" clip-path="url(#p4e9524a545)" style="fill: none; stroke-dasharray: 5.55,2.4; stroke-dashoffset: 0; stroke: #17becf; stroke-width: 1.5"/>
</g>
<g id="patch_9">
<path d="M 625.32 341.64 L 625.32 66.6" style="fill: none; stroke: #000000; stroke-width: 0.8; stroke-linejoin: miter; stroke-linecap: square"/>
</g>
<g id="patch_10">
<path d="M 1137.96 341.64 L 1137.96 66.6" style="fill: none; stroke: #000000; stroke-width: 0.8; stroke-linejoin: miter; stroke-linecap: square"/>
</g>
<g id="patch_11">
<path d="M 625.32 341.64 L 1137.96 341.64" style="fill: none; stroke: #000000; stroke-width: 0.8; stroke-linejoin: miter; stroke-linecap: square"/>
</g>
<g id="patch_12">
<path d="M 625.32 66.6 L 1137.96 66.6" style="fill: none; stroke: #000000; stroke-width: 0.8; stroke-linejoin: miter; stroke-linecap: square"/>
</g>
<g id="text_38">
<text style="font-size: 12px; font-family: 'DejaVu Sans'; text-anchor: middle" x="881.11" y="44.831">abs_max(lateral_dev) = 0.2976970628540897</text>
<text style="font-size: 12px; font-family: 'DejaVu Sans'; text-anchor: middle" x="881.11" y="59.998">abs_max(lateral_dev[straight_line]) = 0.11285829359503036</text>
</g>
<g id="legend_2">
<g id="patch_13">
<path d="M 631.800 89.179 L 747.680 89.179 Q 749.680 89.179 749.680 87.179 L 749.680 72.998 Q 749.680 70.998 747.680 70.998 L 631.800 70.998 Q 629.800 70.998 629.800 72.998 L 629.800 87.179 Q 629.800 89.179 631.800 89.179 z" style="fill: #ffffff; opacity: 0.8; stroke: #cccccc; stroke-linejoin: miter"/>
</g>
<g id="line2d_45">
<path d="M 633.800 79.418 L 643.800 79.418 L 653.800 79.418" style="fill: none; stroke: #1f77b4; stroke-width: 1.5; stroke-linecap: square"/>
</g>
<g id="text_39">
<text style="font-size: 10px; font-family: 'DejaVu Sans'; text-anchor: start" x="661.800" y="82.918">lateral_deviation</text>
</g>
</g>
</g>
<g id="axes_3">
<g id="patch_14">
<path d="M 1193.510 341.140 L 1706.13 341.140 L 1706.13 65.998 L 1193.510 65.998 z" style="fill: #ffffff"/>
</g>
<g id="matplotlib.axis_5">
<g id="xtick_15">
<g id="line2d_46">
<g>
<use href="#md68f95e51d" x="1194.12" y="341.64" style="stroke: #000000; stroke-width: 0.8"/>
</g>
</g>
<g id="text_40">
<text style="font-size: 10px; font-family: 'DejaVu Sans'; text-anchor: middle" x="1193.510" y="356.060">−1.00</text>
</g>
</g>
<g id="xtick_16">
<g id="line2d_47">
<g>
<use href="#md68f95e51d" x="1258.2" y="341.64" style="stroke: #000000; stroke-width: 0.8"/>
</g>
</g>
<g id="text_41">
<text style="font-size: 10px; font-family: 'DejaVu Sans'; text-anchor: middle" x="1257.587" y="356.060">−0.75</text>
</g>
</g>
<g id="xtick_17">
<g id="line2d_48">
<g>
<use href="#md68f95e51d" x="1322.28" y="341.64" style="stroke: #000000; stroke-width: 0.8"/>
</g>
</g>
<g id="text_42">
<text style="font-size: 10px; font-family: 'DejaVu Sans'; text-anchor: middle" x="1321.665" y="356.060">−0.50</text>
</g>
</g>
<g id="xtick_18">
<g id="line2d_49">
<g>
<use href="#md68f95e51d" x="1386.36" y="341.64" style="stroke: #000000; stroke-width: 0.8"/>
</g>
</g>
<g id="text_43">
<text style="font-size: 10px; font-family: 'DejaVu Sans'; text-anchor: middle" x="1385.742" y="356.060">−0.25</text>
</g>
</g>
<g id="xtick_19">
<g id="line2d_50">
<g>
<use href="#md68f95e51d" x="1450.44" y="341.64" style="stroke: #000000; stroke-width: 0.8"/>
</g>
</g>
<g id="text_44">
<text style="font-size: 10px; font-family: 'DejaVu Sans'; text-anchor: middle" x="1449.820" y="356.060">0.00</text>
</g>
</g>
<g id="xtick_20">
<g id="line2d_51">
<g>
<use href="#md68f95e51d" x="1514.52" y="341.64" style="stroke: #000000; stroke-width: 0.8"/>
</g>
</g>
<g id="text_45">
<text style="font-size: 10px; font-family: 'DejaVu Sans'; text-anchor: middle" x="1513.897" y="356.060">0.25</text>
</g>
</g>
<g id="xtick_21">
<g id="line2d_52">
<g>
<use href="#md68f95e51d" x="1578.6" y="341.64" style="stroke: #000000; stroke-width: 0.8"/>
</g>
</g>
<g id="text_46">
<text style="font-size: 10px; font-family: 'DejaVu Sans'; text-anchor: middle" x="1577.975" y="356.060">0.50</text>
</g>
</g>
<g id="xtick_22">
<g id="line2d_53">
<g>
<use href="#md68f95e51d" x="1642.68" y="341.64" style="stroke: #000000; stroke-width: 0.8"/>
</g>
</g>
<g id="text_47">
<text style="font-size: 10px; font-family: 'DejaVu Sans'; text-anchor: middle" x="1642.052" y="356.060">0.75</text>
</g>
</g>
<g id="xtick_23">
<g id="line2d_54">
<g>
<use href="#md68f95e51d" x="1706.76" y="341.64" style="stroke: #000000; stroke-width: 0.8"/>
</g>
</g>
<g id="text_48">
<text style="font-size: 10px; font-family: 'DejaVu Sans'; text-anchor: middle" x="1706.13" y="356.060">1.00</text>
</g>
</g>
<g id="text_49">
<text style="font-size: 10px; font-family: 'DejaVu Sans'; text-anchor: middle" x="1449.820" y="370.140">Frequency in Hertz[Hz]</text>
</g>
</g>
<g id="matplotlib.axis_6">
<g id="ytick_16">
<g id="line2d_55">
<g>
<use href="#me6279a2b69" x="1194.12" y="328.68" style="stroke: #000000; stroke-width: 0.8"/>
</g>
</g>
<g id="text_50">
<text style="font-size: 10px; font-family: 'DejaVu Sans'; text-anchor: end" x="1186.510" y="332.593">0.00</text>
</g>
</g>
<g id="ytick_17">
<g id="line2d_56">
<g>
<use href="#me6279a2b69" x="1194.12" y="280.44" style="stroke: #000000; stroke-width: 0.8"/>
</g>
</g>
<g id="text_51">
<text style="font-size: 10px; font-family: 'DejaVu Sans'; text-anchor: end" x="1186.510" y="284.306">0.05</text>
</g>
</g>
<g id="ytick_18">
<g id="line2d_57">
<g>
<use href="#me6279a2b69" x="1194.12" y="232.2" style="stroke: #000000; stroke-width: 0.8"/>
</g>
</g>
<g id="text_52">
<text style="font-size: 10px; font-family: 'DejaVu Sans'; text-anchor: end" x="1186.510" y="236.018">0.10</text>
</g>
</g>
<g id="ytick_19">
<g id="line2d_58">
<g>
<use href="#me6279a2b69" x="1194.12" y="183.96" style="stroke: #000000; stroke-width: 0.8"/>
</g>
</g>
<g id="text_53">
<text style="font-size: 10px; font-family: 'DejaVu Sans'; text-anchor: end" x="1186.510" y="187.731">0.15</text>
</g>
</g>
<g id="ytick_20">
<g id="line2d_59">
<g>
<use href="#me6279a2b69" x="1194.12" y="135.72" style="stroke: #000000; stroke-width: 0.8"/>
</g>
</g>
<g id="text_54">
<text style="font-size: 10px; font-family: 'DejaVu Sans'; text-anchor: end" x="1186.510" y="139.444">0.20</text>
</g>
</g>
<g id="ytick_21">
<g id="line2d_60">
<g>
<use href="#me6279a2b69" x="1194.12" y="87.48" style="stroke: #000000; stroke-width: 0.8"/>
</g>
</g>
<g id="text_55">
<text style="font-size: 10px; font-family: 'DejaVu Sans'; text-anchor: end" x="1186.510" y="91.156">0.25</text>
</g>
</g>
<g id="text_56">
<text style="font-size: 10px; font-family: 'DejaVu Sans'; text-anchor: middle" x="1157.49" y="204.289" transform="rotate(-90 1157.49 204.289)">Amplitude (normalized dividing by data length)</text>
</g>
</g>
<g id="LineCollection_1">
<path d="M 1182.96 328.32 L 1182.96 328.32" clip-path="url(#p6fe620b129)" style="fill: none; stroke: #1f77b4; stroke-width: 1.5"/>
<path d="M 1185.12 328.32 L 1185.12 328.32" clip-path="url(#p6fe620b129)" style="fill: none; stroke: #1f77b4; stroke-width: 1.5"/>
<path d="M 1188 328.32 L 1188 328.32" clip-path="url(#p6fe620b129)" style="fill: none; stroke: #1f77b4; stroke-width: 1.5"/>
<path d="M 1190.88 328.32 L 1190.88 328.32" clip-path="url(#p6fe620b129)" style="fill: none; stroke: #1f77b4; stroke-width: 1.5"/>
<path d="M 1193.04 328.32 L 1193.04 328.32" clip-path="url(#p6fe620b129)" style="fill: none; stroke: #1f77b4; stroke-width: 1.5"/>
<path d="M 1195.92 328.32 L 1195.92 328.32" clip-path="url(#p6fe620b129)" style="fill: none; stroke: #1f77b4; stroke-width: 1.5"/>
<path d="M 1198.08 328.32 L 1198.08 328.32" clip-path="url(#p6fe620b129)" style="fill: none; stroke: #1f77b4; stroke-width: 1.5"/>
<path d="M 1200.96 328.32 L 1200.96 328.32" clip-path="url(#p6fe620b129)" style="fill: none; stroke: #1f77b4; stroke-width: 1.5"/>
<path d="M 1203.84 328.32 L 1203.84 328.32" clip-path="url(#p6fe620b129)" style="fill: none; stroke: #1f77b4; stroke-width: 1.5"/>
<path d="M 1206 328.32 L 1206 328.32" clip-path="url(#p6fe620b129)" style="fill: none; stroke: #1f77b4; stroke-width: 1.5"/>
<path d="M 1208.88 328.32 L 1208.88 328.32" clip-path="url(#p6fe620b129)" style="fill: none; stroke: #1f77b4; stroke-width: 1.5"/>
<path d="M 1211.04 328.32 L 1211.04 328.32" clip-path="url(#p6fe620b129)" style="fill: none; stroke: #1f77b4; stroke-width: 1.5"/>
<path d="M 1213.92 328.32 L 1213.92 328.32" clip-path="url(#p6fe620b129)" style="fill: none; stroke: #1f77b4; stroke-width: 1.5"/>
<path d="M 1216.8 328.32 L 1216.8 328.32" clip-path="url(#p6fe620b129)" style="fill: none; stroke: #1f77b4; stroke-width: 1.5"/>
<path d="M 1218.96 328.32 L 1218.96 328.32" clip-path="url(#p6fe620b129)" style="fill: none; stroke: #1f77b4; stroke-width: 1.5"/>
<path d="M 1221.84 328.32 L 1221.84 328.32" clip-path="url(#p6fe620b129)" style="fill: none; stroke: #1f77b4; stroke-width: 1.5"/>
<path d="M 1224 328.32 L 1224 328.32" clip-path="url(#p6fe620b129)" style="fill: none; stroke: #1f77b4; stroke-width: 1.5"/>
<path d="M 1226.88 328.32 L 1226.88 328.32" clip-path="url(#p6fe620b129)" style="fill: none; stroke: #1f77b4; stroke-width: 1.5"/>
<path d="M 1229.76 328.32 L 1229.76 328.32" clip-path="url(#p6fe620b129)" style="fill: none; stroke: #1f77b4; stroke-width: 1.5"/>
<path d="M 1231.92 328.32 L 1231.92 328.32" clip-path="url(#p6fe620b129)" style="fill: none; stroke: #1f77b4; stroke-width: 1.5"/>
<path d="M 1234.8 328.32 L 1234.8 328.32" clip-path="url(#p6fe620b129)" style="fill: none; stroke: #1f77b4; stroke-width: 1.5"/>
<path d="M 1236.96 328.32 L 1236.96 328.32" clip-path="url(#p6fe620b129)" style="fill: none; stroke: #1f77b4; stroke-width: 1.5"/>
<path d="M 1239.84 328.32 L 1239.84 328.32" clip-path="url(#p6fe620b129)" style="fill: none; stroke: #1f77b4; stroke-width: 1.5"/>
<path d="M 1242.72 328.32 L 1242.72 328.32" clip-path="url(#p6fe620b129)" style="fill: none; stroke: #1f77b4; stroke-width: 1.5"/>
<path d="M 1244.88 328.32 L 1244.88 328.32" clip-path="url(#p6fe620b129)" style="fill: none; stroke: #1f77b4; stroke-width: 1.5"/>
<path d="M 1247.76 328.32 L 1247.76 328.32" clip-path="url(#p6fe620b129)" style="fill: none; stroke: #1f77b4; stroke-width: 1.5"/>
<path d="M 1249.92 328.32 L 1249.92 328.32" clip-path="url(#p6fe620b129)" style="fill: none; stroke: #1f77b4; stroke-width: 1.5"/>
<path d="M 1252.8 328.32 L 1252.8 328.32" clip-path="url(#p6fe620b129)" style="fill: none; stroke: #1f77b4; stroke-width: 1.5"/>
<path d="M 1255.68 328.32 L 1255.68 328.32" clip-path="url(#p6fe620b129)" style="fill: none; stroke: #1f77b4; stroke-width: 1.5"/>
<path d="M 1257.84 328.32 L 1257.84 328.32" clip-path="url(#p6fe620b129)" style="fill: none; stroke: #1f77b4; stroke-width: 1.5"/>
<path d="M 1260.72 328.32 L 1260.72 328.32" clip-path="url(#p6fe620b129)" style="fill: none; stroke: #1f77b4; stroke-width: 1.5"/>
<path d="M 1262.88 328.32 L 1262.88 328.32" clip-path="url(#p6fe620b129)" style="fill: none; stroke: #1f77b4; stroke-width: 1.5"/>
<path d="M 1265.76 328.32 L 1265.76 328.32" clip-path="url(#p6fe620b129)" style="fill: none; stroke: #1f77b4; stroke-width: 1.5"/>
<path d="M 1268.64 328.32 L 1268.64 328.32" clip-path="url(#p6fe620b129)" style="fill: none; stroke: #1f77b4; stroke-width: 1.5"/>
<path d="M 1270.8 328.32 L 1270.8 328.32" clip-path="url(#p6fe620b129)" style="fill: none; stroke: #1f77b4; stroke-width: 1.5"/>
<path d="M 1273.68 328.32 L 1273.68 328.32" clip-path="url(#p6fe620b129)" style="fill: none; stroke: #1f77b4; stroke-width: 1.5"/>
<path d="M 1275.84 328.32 L 1275.84 328.32" clip-path="url(#p6fe620b129)" style="fill: none; stroke: #1f77b4; stroke-width: 1.5"/>
<path d="M 1278.72 328.32 L 1278.72 328.32" clip-path="url(#p6fe620b129)" style="fill: none; stroke: #1f77b4; stroke-width: 1.5"/>
<path d="M 1281.6 328.32 L 1281.6 328.32" clip-path="url(#p6fe620b129)" style="fill: none; stroke: #1f77b4; stroke-width: 1.5"/>
<path d="M 1283.76 328.32 L 1283.76 328.32" clip-path="url(#p6fe620b129)" style="fill: none; stroke: #1f77b4; stroke-width: 1.5"/>
<path d="M 1286.64 328.32 L 1286.64 328.32" clip-path="url(#p6fe620b129)" style="fill: none; stroke: #1f77b4; stroke-width: 1.5"/>
<path d="M 1288.8 328.32 L 1288.8 328.32" clip-path="url(#p6fe620b129)" style="fill: none; stroke: #1f77b4; stroke-width: 1.5"/>
<path d="M 1291.68 328.32 L 1291.68 328.32" clip-path="url(#p6fe620b129)" style="fill: none; stroke: #1f77b4; stroke-width: 1.5"/>
<path d="M 1294.56 328.32 L 1294.56 328.32" clip-path="url(#p6fe620b129)" style="fill: none; stroke: #1f77b4; stroke-width: 1.5"/>
<path d="M 1296.72 328.32 L 1296.72 328.32" clip-path="url(#p6fe620b129)" style="fill: none; stroke: #1f77b4; stroke-width: 1.5"/>
<path d="M 1299.6 328.32 L 1299.6 328.32" clip-path="url(#p6fe620b129)" style="fill: none; stroke: #1f77b4; stroke-width: 1.5"/>
<path d="M 1301.76 328.32 L 1301.76 328.32" clip-path="url(#p6fe620b129)" style="fill: none; stroke: #1f77b4; stroke-width: 1.5"/>
<path d="M 1304.64 328.32 L 1304.64 328.32" clip-path="url(#p6fe620b129)" style="fill: none; stroke: #1f77b4; stroke-width: 1.5"/>
<path d="M 1307.52 328.32 L 1307.52 328.32" clip-path="url(#p6fe620b129)" style="fill: none; stroke: #1f77b4; stroke-width: 1.5"/>
<path d="M 1309.68 328.32 L 1309.68 328.32" clip-path="url(#p6fe620b129)" style="fill: none; stroke: #1f77b4; stroke-width: 1.5"/>
<path d="M 1312.56 328.32 L 1312.56 328.32" clip-path="url(#p6fe620b129)" style="fill: none; stroke: #1f77b4; stroke-width: 1.5"/>
<path d="M 1314.72 328.32 L 1314.72 328.32" clip-path="url(#p6fe620b129)" style="fill: none; stroke: #1f77b4; stroke-width: 1.5"/>
<path d="M 1317.6 328.32 L 1317.6 328.32" clip-path="url(#p6fe620b129)" style="fill: none; stroke: #1f77b4; stroke-width: 1.5"/>
<path d="M 1320.48 328.32 L 1320.48 328.32" clip-path="url(#p6fe620b129)" style="fill: none; stroke: #1f77b4; stroke-width: 1.5"/>
<path d="M 1322.64 328.32 L 1322.64 328.32" clip-path="url(#p6fe620b129)" style="fill: none; stroke: #1f77b4; stroke-width: 1.5"/>
<path d="M 1325.52 328.32 L 1325.52 328.32" clip-path="url(#p6fe620b129)" style="fill: none; stroke: #1f77b4; stroke-width: 1.5"/>
<path d="M 1327.68 328.32 L 1327.68 328.32" clip-path="url(#p6fe620b129)" style="fill: none; stroke: #1f77b4; stroke-width: 1.5"/>
<path d="M 1330.56 328.32 L 1330.56 328.32" clip-path="url(#p6fe620b129)" style="fill: none; stroke: #1f77b4; stroke-width: 1.5"/>
<path d="M 1333.44 328.32 L 1333.44 328.32" clip-path="url(#p6fe620b129)" style="fill: none; stroke: #1f77b4; stroke-width: 1.5"/>
<path d="M 1335.6 328.32 L 1335.6 328.32" clip-path="url(#p6fe620b129)" style="fill: none; stroke: #1f77b4; stroke-width: 1.5"/>
<path d="M 1338.48 328.32 L 1338.48 328.32" clip-path="url(#p6fe620b129)" style="fill: none; stroke: #1f77b4; stroke-width: 1.5"/>
<path d="M 1340.64 328.32 L 1340.64 328.32" clip-path="url(#p6fe620b129)" style="fill: none; stroke: #1f77b4; stroke-width: 1.5"/>
<path d="M 1343.52 328.32 L 1343.52 328.32" clip-path="url(#p6fe620b129)" style="fill: none; stroke: #1f77b4; stroke-width: 1.5"/>
<path d="M 1346.4 328.32 L 1346.4 328.32" clip-path="url(#p6fe620b129)" style="fill: none; stroke: #1f77b4; stroke-width: 1.5"/>
<path d="M 1348.56 328.32 L 1348.56 328.32" clip-path="url(#p6fe620b129)" style="fill: none; stroke: #1f77b4; stroke-width: 1.5"/>
<path d="M 1351.44 328.32 L 1351.44 328.32" clip-path="url(#p6fe620b129)" style="fill: none; stroke: #1f77b4; stroke-width: 1.5"/>
<path d="M 1353.6 328.32 L 1353.6 328.32" clip-path="url(#p6fe620b129)" style="fill: none; stroke: #1f77b4; stroke-width: 1.5"/>
<path d="M 1356.48 328.32 L 1356.48 328.32" clip-path="url(#p6fe620b129)" style="fill: none; stroke: #1f77b4; stroke-width: 1.5"/>
<path d="M 1359.36 328.32 L 1359.36 328.32" clip-path="url(#p6fe620b129)" style="fill: none; stroke: #1f77b4; stroke-width: 1.5"/>
<path d="M 1361.52 328.32 L 1361.52 328.32" clip-path="url(#p6fe620b129)" style="fill: none; stroke: #1f77b4; stroke-width: 1.5"/>
<path d="M 1364.4 328.32 L 1364.4 328.32" clip-path="url(#p6fe620b129)" style="fill: none; stroke: #1f77b4; stroke-width: 1.5"/>
<path d="M 1366.56 328.32 L 1366.56 328.32" clip-path="url(#p6fe620b129)" style="fill: none; stroke: #1f77b4; stroke-width: 1.5"/>
<path d="M 1369.44 328.32 L 1369.44 328.32" clip-path="url(#p6fe620b129)" style="fill: none; stroke: #1f77b4; stroke-width: 1.5"/>
<path d="M 1372.32 328.32 L 1372.32 327.6" clip-path="url(#p6fe620b129)" style="fill: none; stroke: #1f77b4; stroke-width: 1.5"/>
<path d="M 1374.48 328.32 L 1374.48 324.72" clip-path="url(#p6fe620b129)" style="fill: none; stroke: #1f77b4; stroke-width: 1.5"/>
<path d="M 1377.36 328.32 L 1377.36 321.12" clip-path="url(#p6fe620b129)" style="fill: none; stroke: #1f77b4; stroke-width: 1.5"/>
<path d="M 1379.52 328.32 L 1379.52 318.24" clip-path="url(#p6fe620b129)" style="fill: none; stroke: #1f77b4; stroke-width: 1.5"/>
<path d="M 1382.4 328.32 L 1382.4 318.96" clip-path="url(#p6fe620b129)" style="fill: none; stroke: #1f77b4; stroke-width: 1.5"/>
<path d="M 1385.28 328.32 L 1385.28 321.12" clip-path="url(#p6fe620b129)" style="fill: none; stroke: #1f77b4; stroke-width: 1.5"/>
<path d="M 1387.44 328.32 L 1387.44 321.12" clip-path="url(#p6fe620b129)" style="fill: none; stroke: #1f77b4; stroke-width: 1.5"/>
<path d="M 1390.32 328.32 L 1390.32 325.44" clip-path="url(#p6fe620b129)" style="fill: none; stroke: #1f77b4; stroke-width: 1.5"/>
<path d="M 1392.48 328.32 L 1392.48 322.56" clip-path="url(#p6fe620b129)" style="fill: none; stroke: #1f77b4; stroke-width: 1.5"/>
<path d="M 1395.36 328.32 L 1395.36 324.72" clip-path="url(#p6fe620b129)" style="fill: none; stroke: #1f77b4; stroke-width: 1.5"/>
<path d="M 1398.24 328.32 L 1398.24 324.72" clip-path="url(#p6fe620b129)" style="fill: none; stroke: #1f77b4; stroke-width: 1.5"/>
<path d="M 1400.4 328.32 L 1400.4 325.44" clip-path="url(#p6fe620b129)" style="fill: none; stroke: #1f77b4; stroke-width: 1.5"/>
<path d="M 1403.28 328.32 L 1403.28 324" clip-path="url(#p6fe620b129)" style="fill: none; stroke: #1f77b4; stroke-width: 1.5"/>
<path d="M 1405.44 328.32 L 1405.44 327.6" clip-path="url(#p6fe620b129)" style="fill: none; stroke: #1f77b4; stroke-width: 1.5"/>
<path d="M 1408.32 328.32 L 1408.32 324" clip-path="url(#p6fe620b129)" style="fill: none; stroke: #1f77b4; stroke-width: 1.5"/>
<path d="M 1411.2 328.32 L 1411.2 324" clip-path="url(#p6fe620b129)" style="fill: none; stroke: #1f77b4; stroke-width: 1.5"/>
<path d="M 1413.36 328.32 L 1413.36 325.44" clip-path="url(#p6fe620b129)" style="fill: none; stroke: #1f77b4; stroke-width: 1.5"/>
<path d="M 1416.24 328.32 L 1416.24 321.84" clip-path="url(#p6fe620b129)" style="fill: none; stroke: #1f77b4; stroke-width: 1.5"/>
<path d="M 1418.4 328.32 L 1418.4 322.56" clip-path="url(#p6fe620b129)" style="fill: none; stroke: #1f77b4; stroke-width: 1.5"/>
<path d="M 1421.28 328.32 L 1421.28 324" clip-path="url(#p6fe620b129)" style="fill: none; stroke: #1f77b4; stroke-width: 1.5"/>
<path d="M 1424.16 328.32 L 1424.16 316.08" clip-path="url(#p6fe620b129)" style="fill: none; stroke: #1f77b4; stroke-width: 1.5"/>
<path d="M 1426.32 328.32 L 1426.32 310.32" clip-path="url(#p6fe620b129)" style="fill: none; stroke: #1f77b4; stroke-width: 1.5"/>
<path d="M 1429.2 328.32 L 1429.2 311.04" clip-path="url(#p6fe620b129)" style="fill: none; stroke: #1f77b4; stroke-width: 1.5"/>
<path d="M 1431.36 328.32 L 1431.36 316.8" clip-path="url(#p6fe620b129)" style="fill: none; stroke: #1f77b4; stroke-width: 1.5"/>
<path d="M 1434.24 328.32 L 1434.24 324.72" clip-path="url(#p6fe620b129)" style="fill: none; stroke: #1f77b4; stroke-width: 1.5"/>
<path d="M 1437.12 328.32 L 1437.12 324" clip-path="url(#p6fe620b129)" style="fill: none; stroke: #1f77b4; stroke-width: 1.5"/>
<path d="M 1439.28 328.32 L 1439.28 325.44" clip-path="url(#p6fe620b129)" style="fill: none; stroke: #1f77b4; stroke-width: 1.5"/>
<path d="M 1442.16 328.32 L 1442.16 327.6" clip-path="url(#p6fe620b129)" style="fill: none; stroke: #1f77b4; stroke-width: 1.5"/>
<path d="M 1444.32 328.32 L 1444.32 328.32" clip-path="url(#p6fe620b129)" style="fill: none; stroke: #1f77b4; stroke-width: 1.5"/>
<path d="M 1447.2 328.32 L 1447.2 328.32" clip-path="url(#p6fe620b129)" style="fill: none; stroke: #1f77b4; stroke-width: 1.5"/>
<path d="M 1450.08 328.32 L 1450.08 328.32" clip-path="url(#p6fe620b129)" style="fill: none; stroke: #1f77b4; stroke-width: 1.5"/>
<path d="M 1452.24 328.32 L 1452.24 328.32" clip-path="url(#p6fe620b129)" style="fill: none; stroke: #1f77b4; stroke-width: 1.5"/>
<path d="M 1455.12 328.32 L 1455.12 328.32" clip-path="url(#p6fe620b129)" style="fill: none; stroke: #1f77b4; stroke-width: 1.5"/>
<path d="M 1457.28 328.32 L 1457.28 327.6" clip-path="url(#p6fe620b129)" style="fill: none; stroke: #1f77b4; stroke-width: 1.5"/>
<path d="M 1460.16 328.32 L 1460.16 325.44" clip-path="url(#p6fe620b129)" style="fill: none; stroke: #1f77b4; stroke-width: 1.5"/>
<path d="M 1463.04 328.32 L 1463.04 324" clip-path="url(#p6fe620b129)" style="fill: none; stroke: #1f77b4; stroke-width: 1.5"/>
<path d="M 1465.2 328.32 L 1465.2 324.72" clip-path="url(#p6fe620b129)" style="fill: none; stroke: #1f77b4; stroke-width: 1.5"/>
<path d="M 1468.08 328.32 L 1468.08 316.8" clip-path="url(#p6fe620b129)" style="fill: none; stroke: #1f77b4; stroke-width: 1.5"/>
<path d="M 1470.24 328.32 L 1470.24 311.04" clip-path="url(#p6fe620b129)" style="fill: none; stroke: #1f77b4; stroke-width: 1.5"/>
<path d="M 1473.12 328.32 L 1473.12 310.32" clip-path="url(#p6fe620b129)" style="fill: none; stroke: #1f77b4; stroke-width: 1.5"/>
<path d="M 1476 328.32 L 1476 316.08" clip-path="url(#p6fe620b129)" style="fill: none; stroke: #1f77b4; stroke-width: 1.5"/>
<path d="M 1478.16 328.32 L 1478.16 324" clip-path="url(#p6fe620b129)" style="fill: none; stroke: #1f77b4; stroke-width: 1.5"/>
<path d="M 1481.04 328.32 L 1481.04 322.56" clip-path="url(#p6fe620b129)" style="fill: none; stroke: #1f77b4; stroke-width: 1.5"/>
<path d="M 1483.2 328.32 L 1483.2 321.84" clip-path="url(#p6fe620b129)" style="fill: none; stroke: #1f77b4; stroke-width: 1.5"/>
<path d="M 1486.08 328.32 L 1486.08 325.44" clip-path="url(#p6fe620b129)" style="fill: none; stroke: #1f77b4; stroke-width: 1.5"/>
<path d="M 1488.96 328.32 L 1488.96 324" clip-path="url(#p6fe620b129)" style="fill: none; stroke: #1f77b4; stroke-width: 1.5"/>
<path d="M 1491.12 328.32 L 1491.12 324" clip-path="url(#p6fe620b129)" style="fill: none; stroke: #1f77b4; stroke-width: 1.5"/>
<path d="M 1494 328.32 L 1494 327.6" clip-path="url(#p6fe620b129)" style="fill: none; stroke: #1f77b4; stroke-width: 1.5"/>
<path d="M 1496.16 328.32 L 1496.16 324" clip-path="url(#p6fe620b129)" style="fill: none; stroke: #1f77b4; stroke-width: 1.5"/>
<path d="M 1499.04 328.32 L 1499.04 325.44" clip-path="url(#p6fe620b129)" style="fill: none; stroke: #1f77b4; stroke-width: 1.5"/>
<path d="M 1501.92 328.32 L 1501.92 324.72" clip-path="url(#p6fe620b129)" style="fill: none; stroke: #1f77b4; stroke-width: 1.5"/>
<path d="M 1504.08 328.32 L 1504.08 324.72" clip-path="url(#p6fe620b129)" style="fill: none; stroke: #1f77b4; stroke-width: 1.5"/>
<path d="M 1506.96 328.32 L 1506.96 322.56" clip-path="url(#p6fe620b129)" style="fill: none; stroke: #1f77b4; stroke-width: 1.5"/>
<path d="M 1509.12 328.32 L 1509.12 325.44" clip-path="url(#p6fe620b129)" style="fill: none; stroke: #1f77b4; stroke-width: 1.5"/>
<path d="M 1512 328.32 L 1512 321.12" clip-path="url(#p6fe620b129)" style="fill: none; stroke: #1f77b4; stroke-width: 1.5"/>
<path d="M 1514.88 328.32 L 1514.88 321.12" clip-path="url(#p6fe620b129)" style="fill: none; stroke: #1f77b4; stroke-width: 1.5"/>
<path d="M 1517.04 328.32 L 1517.04 318.96" clip-path="url(#p6fe620b129)" style="fill: none; stroke: #1f77b4; stroke-width: 1.5"/>
<path d="M 1519.92 328.32 L 1519.92 318.24" clip-path="url(#p6fe620b129)" style="fill: none; stroke: #1f77b4; stroke-width: 1.5"/>
<path d="M 1522.08 328.32 L 1522.08 321.12" clip-path="url(#p6fe620b129)" style="fill: none; stroke: #1f77b4; stroke-width: 1.5"/>
<path d="M 1524.96 328.32 L 1524.96 324.72" clip-path="url(#p6fe620b129)" style="fill: none; stroke: #1f77b4; stroke-width: 1.5"/>
<path d="M 1527.84 328.32 L 1527.84 327.6" clip-path="url(#p6fe620b129)" style="fill: none; stroke: #1f77b4; stroke-width: 1.5"/>
<path d="M 1530 328.32 L 1530 328.32" clip-path="url(#p6fe620b129)" style="fill: none; stroke: #1f77b4; stroke-width: 1.5"/>
<path d="M 1532.88 328.32 L 1532.88 328.32" clip-path="url(#p6fe620b129)" style="fill: none; stroke: #1f77b4; stroke-width: 1.5"/>
<path d="M 1535.04 328.32 L 1535.04 328.32" clip-path="url(#p6fe620b129)" style="fill: none; stroke: #1f77b4; stroke-width: 1.5"/>
<path d="M 1537.92 328.32 L 1537.92 328.32" clip-path="url(#p6fe620b129)" style="fill: none; stroke: #1f77b4; stroke-width: 1.5"/>
<path d="M 1540.8 328.32 L 1540.8 328.32" clip-path="url(#p6fe620b129)" style="fill: none; stroke: #1f77b4; stroke-width: 1.5"/>
<path d="M 1542.96 328.32 L 1542.96 328.32" clip-path="url(#p6fe620b129)" style="fill: none; stroke: #1f77b4; stroke-width: 1.5"/>
<path d="M 1545.84 328.32 L 1545.84 328.32" clip-path="url(#p6fe620b129)" style="fill: none; stroke: #1f77b4; stroke-width: 1.5"/>
<path d="M 1548 328.32 L 1548 328.32" clip-path="url(#p6fe620b129)" style="fill: none; stroke: #1f77b4; stroke-width: 1.5"/>
<path d="M 1550.88 328.32 L 1550.88 328.32" clip-path="url(#p6fe620b129)" style="fill: none; stroke: #1f77b4; stroke-width: 1.5"/>
<path d="M 1553.76 328.32 L 1553.76 328.32" clip-path="url(#p6fe620b129)" style="fill: none; stroke: #1f77b4; stroke-width: 1.5"/>
<path d="M 1555.92 328.32 L 1555.92 328.32" clip-path="url(#p6fe620b129)" style="fill: none; stroke: #1f77b4; stroke-width: 1.5"/>
<path d="M 1558.8 328.32 L 1558.8 328.32" clip-path="url(#p6fe620b129)" style="fill: none; stroke: #1f77b4; stroke-width: 1.5"/>
<path d="M 1560.96 328.32 L 1560.96 328.32" clip-path="url(#p6fe620b129)" style="fill: none; stroke: #1f77b4; stroke-width: 1.5"/>
<path d="M 1563.84 328.32 L 1563.84 328.32" clip-path="url(#p6fe620b129)" style="fill: none; stroke: #1f77b4; stroke-width: 1.5"/>
<path d="M 1566.72 328.32 L 1566.72 328.32" clip-path="url(#p6fe620b129)" style="fill: none; stroke: #1f77b4; stroke-width: 1.5"/>
<path d="M 1568.88 328.32 L 1568.88 328.32" clip-path="url(#p6fe620b129)" style="fill: none; stroke: #1f77b4; stroke-width: 1.5"/>
<path d="M 1571.76 328.32 L 1571.76 328.32" clip-path="url(#p6fe620b129)" style="fill: none; stroke: #1f77b4; stroke-width: 1.5"/>
<path d="M 1573.92 328.32 L 1573.92 328.32" clip-path="url(#p6fe620b129)" style="fill: none; stroke: #1f77b4; stroke-width: 1.5"/>
<path d="M 1576.8 328.32 L 1576.8 328.32" clip-path="url(#p6fe620b129)" style="fill: none; stroke: #1f77b4; stroke-width: 1.5"/>
<path d="M 1579.68 328.32 L 1579.68 328.32" clip-path="url(#p6fe620b129)" style="fill: none; stroke: #1f77b4; stroke-width: 1.5"/>
<path d="M 1581.84 328.32 L 1581.84 328.32" clip-path="url(#p6fe620b129)" style="fill: none; stroke: #1f77b4; stroke-width: 1.5"/>
<path d="M 1584.72 328.32 L 1584.72 328.32" clip-path="url(#p6fe620b129)" style="fill: none; stroke: #1f77b4; stroke-width: 1.5"/>
<path d="M 1586.88 328.32 L 1586.88 328.32" clip-path="url(#p6fe620b129)" style="fill: none; stroke: #1f77b4; stroke-width: 1.5"/>
<path d="M 1589.76 328.32 L 1589.76 328.32" clip-path="url(#p6fe620b129)" style="fill: none; stroke: #1f77b4; stroke-width: 1.5"/>
<path d="M 1592.64 328.32 L 1592.64 328.32" clip-path="url(#p6fe620b129)" style="fill: none; stroke: #1f77b4; stroke-width: 1.5"/>
<path d="M 1594.8 328.32 L 1594.8 328.32" clip-path="url(#p6fe620b129)" style="fill: none; stroke: #1f77b4; stroke-width: 1.5"/>
<path d="M 1597.68 328.32 L 1597.68 328.32" clip-path="url(#p6fe620b129)" style="fill: none; stroke: #1f77b4; stroke-width: 1.5"/>
<path d="M 1599.84 328.32 L 1599.84 328.32" clip-path="url(#p6fe620b129)" style="fill: none; stroke: #1f77b4; stroke-width: 1.5"/>
<path d="M 1602.72 328.32 L 1602.72 328.32" clip-path="url(#p6fe620b129)" style="fill: none; stroke: #1f77b4; stroke-width: 1.5"/>
<path d="M 1605.6 328.32 L 1605.6 328.32" clip-path="url(#p6fe620b129)" style="fill: none; stroke: #1f77b4; stroke-width: 1.5"/>
<path d="M 1607.76 328.32 L 1607.76 328.32" clip-path="url(#p6fe620b129)" style="fill: none; stroke: #1f77b4; stroke-width: 1.5"/>
<path d="M 1610.64 328.32 L 1610.64 328.32" clip-path="url(#p6fe620b129)" style="fill: none; stroke: #1f77b4; stroke-width: 1.5"/>
<path d="M 1612.8 328.32 L 1612.8 328.32" clip-path="url(#p6fe620b129)" style="fill: none; stroke: #1f77b4; stroke-width: 1.5"/>
<path d="M 1615.68 328.32 L 1615.68 328.32" clip-path="url(#p6fe620b129)" style="fill: none; stroke: #1f77b4; stroke-width: 1.5"/>
<path d="M 1618.56 328.32 L 1618.56 328.32" clip-path="url(#p6fe620b129)" style="fill: none; stroke: #1f77b4; stroke-width: 1.5"/>
<path d="M 1620.72 328.32 L 1620.72 328.32" clip-path="url(#p6fe620b129)" style="fill: none; stroke: #1f77b4; stroke-width: 1.5"/>
<path d="M 1623.6 328.32 L 1623.6 328.32" clip-path="url(#p6fe620b129)" style="fill: none; stroke: #1f77b4; stroke-width: 1.5"/>
<path d="M 1625.76 328.32 L 1625.76 328.32" clip-path="url(#p6fe620b129)" style="fill: none; stroke: #1f77b4; stroke-width: 1.5"/>
<path d="M 1628.64 328.32 L 1628.64 328.32" clip-path="url(#p6fe620b129)" style="fill: none; stroke: #1f77b4; stroke-width: 1.5"/>
<path d="M 1631.52 328.32 L 1631.52 328.32" clip-path="url(#p6fe620b129)" style="fill: none; stroke: #1f77b4; stroke-width: 1.5"/>
<path d="M 1633.68 328.32 L 1633.68 328.32" clip-path="url(#p6fe620b129)" style="fill: none; stroke: #1f77b4; stroke-width: 1.5"/>
<path d="M 1636.56 328.32 L 1636.56 328.32" clip-path="url(#p6fe620b129)" style="fill: none; stroke: #1f77b4; stroke-width: 1.5"/>
<path d="M 1638.72 328.32 L 1638.72 328.32" clip-path="url(#p6fe620b129)" style="fill: none; stroke: #1f77b4; stroke-width: 1.5"/>
<path d="M 1641.6 328.32 L 1641.6 328.32" clip-path="url(#p6fe620b129)" style="fill: none; stroke: #1f77b4; stroke-width: 1.5"/>
<path d="M 1644.48 328.32 L 1644.48 328.32" clip-path="url(#p6fe620b129)" style="fill: none; stroke: #1f77b4; stroke-width: 1.5"/>
<path d="M 1646.64 328.32 L 1646.64 328.32" clip-path="url(#p6fe620b129)" style="fill: none; stroke: #1f77b4; stroke-width: 1.5"/>
<path d="M 1649.52 328.32 L 1649.52 328.32" clip-path="url(#p6fe620b129)" style="fill: none; stroke: #1f77b4; stroke-width: 1.5"/>
<path d="M 1651.68 328.32 L 1651.68 328.32" clip-path="url(#p6fe620b129)" style="fill: none; stroke: #1f77b4; stroke-width: 1.5"/>
<path d="M 1654.56 328.32 L 1654.56 328.32" clip-path="url(#p6fe620b129)" style="fill: none; stroke: #1f77b4; stroke-width: 1.5"/>
<path d="M 1657.44 328.32 L 1657.44 328.32" clip-path="url(#p6fe620b129)" style="fill: none; stroke: #1f77b4; stroke-width: 1.5"/>
<path d="M 1659.6 328.32 L 1659.6 328.32" clip-path="url(#p6fe620b129)" style="fill: none; stroke: #1f77b4; stroke-width: 1.5"/>
<path d="M 1662.48 328.32 L 1662.48 328.32" clip-path="url(#p6fe620b129)" style="fill: none; stroke: #1f77b4; stroke-width: 1.5"/>
<path d="M 1664.64 328.32 L 1664.64 328.32" clip-path="url(#p6fe620b129)" style="fill: none; stroke: #1f77b4; stroke-width: 1.5"/>
<path d="M 1667.52 328.32 L 1667.52 328.32" clip-path="url(#p6fe620b129)" style="fill: none; stroke: #1f77b4; stroke-width: 1.5"/>
<path d="M 1670.4 328.32 L 1670.4 328.32" clip-path="url(#p6fe620b129)" style="fill: none; stroke: #1f77b4; stroke-width: 1.5"/>
<path d="M 1672.56 328.32 L 1672.56 328.32" clip-path="url(#p6fe620b129)" style="fill: none; stroke: #1f77b4; stroke-width: 1.5"/>
<path d="M 1675.44 328.32 L 1675.44 328.32" clip-path="url(#p6fe620b129)" style="fill: none; stroke: #1f77b4; stroke-width: 1.5"/>
<path d="M 1677.6 328.32 L 1677.6 328.32" clip-path="url(#p6fe620b129)" style="fill: none; stroke: #1f77b4; stroke-width: 1.5"/>
<path d="M 1680.48 328.32 L 1680.48 328.32" clip-path="url(#p6fe620b129)" style="fill: none; stroke: #1f77b4; stroke-width: 1.5"/>
<path d="M 1683.36 328.32 L 1683.36 328.32" clip-path="url(#p6fe620b129)" style="fill: none; stroke: #1f77b4; stroke-width: 1.5"/>
<path d="M 1685.52 328.32 L 1685.52 328.32" clip-path="url(#p6fe620b129)" style="fill: none; stroke: #1f77b4; stroke-width: 1.5"/>
<path d="M 1688.4 328.32 L 1688.4 328.32" clip-path="url(#p6fe620b129)" style="fill: none; stroke: #1f77b4; stroke-width: 1.5"/>
<path d="M 1690.56 328.32 L 1690.56 328.32" clip-path="url(#p6fe620b129)" style="fill: none; stroke: #1f77b4; stroke-width: 1.5"/>
<path d="M 1693.44 328.32 L 1693.44 328.32" clip-path="url(#p6fe620b129)" style="fill: none; stroke: #1f77b4; stroke-width: 1.5"/>
<path d="M 1696.32 328.32 L 1696.32 328.32" clip-path="url(#p6fe620b129)" style="fill: none; stroke: #1f77b4; stroke-width: 1.5"/>
<path d="M 1698.48 328.32 L 1698.48 328.32" clip-path="url(#p6fe620b129)" style="fill: none; stroke: #1f77b4; stroke-width: 1.5"/>
<path d="M 1701.36 328.32 L 1701.36 328.32" clip-path="url(#p6fe620b129)" style="fill: none; stroke: #1f77b4; stroke-width: 1.5"/>
<path d="M 1703.52 328.32 L 1703.52 328.32" clip-path="url(#p6fe620b129)" style="fill: none; stroke: #1f77b4; stroke-width: 1.5"/>
<path d="M 1706.4 328.32 L 1706.4 328.32" clip-path="url(#p6fe620b129)" style="fill: none; stroke: #1f77b4; stroke-width: 1.5"/>
<path d="M 1709.28 328.32 L 1709.28 328.32" clip-path="url(#p6fe620b129)" style="fill: none; stroke: #1f77b4; stroke-width: 1.5"/>
<path d="M 1711.44 328.32 L 1711.44 328.32" clip-path="url(#p6fe620b129)" style="fill: none; stroke: #1f77b4; stroke-width: 1.5"/>
<path d="M 1714.32 328.32 L 1714.32 328.32" clip-path="url(#p6fe620b129)" style="fill: none; stroke: #1f77b4; stroke-width: 1.5"/>
<path d="M 1716.48 328.32 L 1716.48 328.32" clip-path="url(#p6fe620b129)" style="fill: none; stroke: #1f77b4; stroke-width: 1.5"/>
</g>
<g id="line2d_61">
<defs>
<path id="m13b112fa2a" d="M -3 3 L 3 -3 M -3 -3 L 3 3" style="stroke: #ff0000; stroke-width: 1.25"/>
</defs>
<g clip-path="url(#p6fe620b129)">
<use href="#m13b112fa2a" x="1182.884" y="328.633" style="fill: #ff0000; stroke: #ff0000; stroke-width: 1.25"/>
<use href="#m13b112fa2a" x="1185.476" y="328.633" style="fill: #ff0000; stroke: #ff0000; stroke-width: 1.25"/>
<use href="#m13b112fa2a" x="1188.067" y="328.633" style="fill: #ff0000; stroke: #ff0000; stroke-width: 1.25"/>
<use href="#m13b112fa2a" x="1190.659" y="328.633" style="fill: #ff0000; stroke: #ff0000; stroke-width: 1.25"/>
<use href="#m13b112fa2a" x="1193.250" y="328.633" style="fill: #ff0000; stroke: #ff0000; stroke-width: 1.25"/>
<use href="#m13b112fa2a" x="1195.842" y="328.633" style="fill: #ff0000; stroke: #ff0000; stroke-width: 1.25"/>
<use href="#m13b112fa2a" x="1198.434" y="328.633" style="fill: #ff0000; stroke: #ff0000; stroke-width: 1.25"/>
<use href="#m13b112fa2a" x="1201.025" y="328.633" style="fill: #ff0000; stroke: #ff0000; stroke-width: 1.25"/>
<use href="#m13b112fa2a" x="1203.617" y="328.633" style="fill: #ff0000; stroke: #ff0000; stroke-width: 1.25"/>
<use href="#m13b112fa2a" x="1206.208" y="328.633" style="fill: #ff0000; stroke: #ff0000; stroke-width: 1.25"/>
<use href="#m13b112fa2a" x="1208.800" y="328.633" style="fill: #ff0000; stroke: #ff0000; stroke-width: 1.25"/>
<use href="#m13b112fa2a" x="1211.392" y="328.633" style="fill: #ff0000; stroke: #ff0000; stroke-width: 1.25"/>
<use href="#m13b112fa2a" x="1213.983" y="328.633" style="fill: #ff0000; stroke: #ff0000; stroke-width: 1.25"/>
<use href="#m13b112fa2a" x="1216.575" y="328.633" style="fill: #ff0000; stroke: #ff0000; stroke-width: 1.25"/>
<use href="#m13b112fa2a" x="1219.166" y="328.633" style="fill: #ff0000; stroke: #ff0000; stroke-width: 1.25"/>
<use href="#m13b112fa2a" x="1221.758" y="328.633" style="fill: #ff0000; stroke: #ff0000; stroke-width: 1.25"/>
<use href="#m13b112fa2a" x="1224.350" y="328.633" style="fill: #ff0000; stroke: #ff0000; stroke-width: 1.25"/>
<use href="#m13b112fa2a" x="1226.941" y="328.633" style="fill: #ff0000; stroke: #ff0000; stroke-width: 1.25"/>
<use href="#m13b112fa2a" x="1229.533" y="328.633" style="fill: #ff0000; stroke: #ff0000; stroke-width: 1.25"/>
<use href="#m13b112fa2a" x="1232.124" y="328.633" style="fill: #ff0000; stroke: #ff0000; stroke-width: 1.25"/>
<use href="#m13b112fa2a" x="1234.716" y="328.633" style="fill: #ff0000; stroke: #ff0000; stroke-width: 1.25"/>
<use href="#m13b112fa2a" x="1237.308" y="328.633" style="fill: #ff0000; stroke: #ff0000; stroke-width: 1.25"/>
<use href="#m13b112fa2a" x="1239.899" y="328.633" style="fill: #ff0000; stroke: #ff0000; stroke-width: 1.25"/>
<use href="#m13b112fa2a" x="1242.491" y="328.633" style="fill: #ff0000; stroke: #ff0000; stroke-width: 1.25"/>
<use href="#m13b112fa2a" x="1245.083" y="328.633" style="fill: #ff0000; stroke: #ff0000; stroke-width: 1.25"/>
<use href="#m13b112fa2a" x="1247.674" y="328.633" style="fill: #ff0000; stroke: #ff0000; stroke-width: 1.25"/>
<use href="#m13b112fa2a" x="1250.266" y="328.633" style="fill: #ff0000; stroke: #ff0000; stroke-width: 1.25"/>
<use href="#m13b112fa2a" x="1252.857" y="328.633" style="fill: #ff0000; stroke: #ff0000; stroke-width: 1.25"/>
<use href="#m13b112fa2a" x="1255.449" y="328.633" style="fill: #ff0000; stroke: #ff0000; stroke-width: 1.25"/>
<use href="#m13b112fa2a" x="1258.041" y="328.633" style="fill: #ff0000; stroke: #ff0000; stroke-width: 1.25"/>
<use href="#m13b112fa2a" x="1260.632" y="328.633" style="fill: #ff0000; stroke: #ff0000; stroke-width: 1.25"/>
<use href="#m13b112fa2a" x="1263.224" y="328.633" style="fill: #ff0000; stroke: #ff0000; stroke-width: 1.25"/>
<use href="#m13b112fa2a" x="1265.815" y="328.633" style="fill: #ff0000; stroke: #ff0000; stroke-width: 1.25"/>
<use href="#m13b112fa2a" x="1268.407" y="328.633" style="fill: #ff0000; stroke: #ff0000; stroke-width: 1.25"/>
<use href="#m13b112fa2a" x="1270.999" y="328.633" style="fill: #ff0000; stroke: #ff0000; stroke-width: 1.25"/>
<use href="#m13b112fa2a" x="1273.590" y="328.633" style="fill: #ff0000; stroke: #ff0000; stroke-width: 1.25"/>
<use href="#m13b112fa2a" x="1276.182" y="328.633" style="fill: #ff0000; stroke: #ff0000; stroke-width: 1.25"/>
<use href="#m13b112fa2a" x="1278.773" y="328.633" style="fill: #ff0000; stroke: #ff0000; stroke-width: 1.25"/>
<use href="#m13b112fa2a" x="1281.365" y="328.633" style="fill: #ff0000; stroke: #ff0000; stroke-width: 1.25"/>
<use href="#m13b112fa2a" x="1283.957" y="328.633" style="fill: #ff0000; stroke: #ff0000; stroke-width: 1.25"/>
<use href="#m13b112fa2a" x="1286.548" y="328.633" style="fill: #ff0000; stroke: #ff0000; stroke-width: 1.25"/>
<use href="#m13b112fa2a" x="1289.140" y="328.633" style="fill: #ff0000; stroke: #ff0000; stroke-width: 1.25"/>
<use href="#m13b112fa2a" x="1291.731" y="328.633" style="fill: #ff0000; stroke: #ff0000; stroke-width: 1.25"/>
<use href="#m13b112fa2a" x="1294.323" y="328.633" style="fill: #ff0000; stroke: #ff0000; stroke-width: 1.25"/>
<use href="#m13b112fa2a" x="1296.915" y="328.633" style="fill: #ff0000; stroke: #ff0000; stroke-width: 1.25"/>
<use href="#m13b112fa2a" x="1299.506" y="328.633" style="fill: #ff0000; stroke: #ff0000; stroke-width: 1.25"/>
<use href="#m13b112fa2a" x="1302.098" y="328.633" style="fill: #ff0000; stroke: #ff0000; stroke-width: 1.25"/>
<use href="#m13b112fa2a" x="1304.689" y="328.633" style="fill: #ff0000; stroke: #ff0000; stroke-width: 1.25"/>
<use href="#m13b112fa2a" x="1307.281" y="328.633" style="fill: #ff0000; stroke: #ff0000; stroke-width: 1.25"/>
<use href="#m13b112fa2a" x="1309.873" y="328.633" style="fill: #ff0000; stroke: #ff0000; stroke-width: 1.25"/>
<use href="#m13b112fa2a" x="1312.464" y="328.633" style="fill: #ff0000; stroke: #ff0000; stroke-width: 1.25"/>
<use href="#m13b112fa2a" x="1315.056" y="328.633" style="fill: #ff0000; stroke: #ff0000; stroke-width: 1.25"/>
<use href="#m13b112fa2a" x="1317.648" y="328.633" style="fill: #ff0000; stroke: #ff0000; stroke-width: 1.25"/>
<use href="#m13b112fa2a" x="1320.239" y="328.633" style="fill: #ff0000; stroke: #ff0000; stroke-width: 1.25"/>
<use href="#m13b112fa2a" x="1322.831" y="328.633" style="fill: #ff0000; stroke: #ff0000; stroke-width: 1.25"/>
<use href="#m13b112fa2a" x="1325.422" y="328.633" style="fill: #ff0000; stroke: #ff0000; stroke-width: 1.25"/>
<use href="#m13b112fa2a" x="1328.014" y="328.633" style="fill: #ff0000; stroke: #ff0000; stroke-width: 1.25"/>
<use href="#m13b112fa2a" x="1330.606" y="328.633" style="fill: #ff0000; stroke: #ff0000; stroke-width: 1.25"/>
<use href="#m13b112fa2a" x="1333.197" y="328.633" style="fill: #ff0000; stroke: #ff0000; stroke-width: 1.25"/>
<use href="#m13b112fa2a" x="1335.789" y="328.633" style="fill: #ff0000; stroke: #ff0000; stroke-width: 1.25"/>
<use href="#m13b112fa2a" x="1338.380" y="328.633" style="fill: #ff0000; stroke: #ff0000; stroke-width: 1.25"/>
<use href="#m13b112fa2a" x="1340.972" y="328.633" style="fill: #ff0000; stroke: #ff0000; stroke-width: 1.25"/>
<use href="#m13b112fa2a" x="1343.564" y="328.633" style="fill: #ff0000; stroke: #ff0000; stroke-width: 1.25"/>
<use href="#m13b112fa2a" x="1346.155" y="328.633" style="fill: #ff0000; stroke: #ff0000; stroke-width: 1.25"/>
<use href="#m13b112fa2a" x="1348.747" y="328.633" style="fill: #ff0000; stroke: #ff0000; stroke-width: 1.25"/>
<use href="#m13b112fa2a" x="1351.338" y="328.633" style="fill: #ff0000; stroke: #ff0000; stroke-width: 1.25"/>
<use href="#m13b112fa2a" x="1353.930" y="328.633" style="fill: #ff0000; stroke: #ff0000; stroke-width: 1.25"/>
<use href="#m13b112fa2a" x="1356.522" y="328.633" style="fill: #ff0000; stroke: #ff0000; stroke-width: 1.25"/>
<use href="#m13b112fa2a" x="1359.113" y="328.633" style="fill: #ff0000; stroke: #ff0000; stroke-width: 1.25"/>
<use href="#m13b112fa2a" x="1361.705" y="328.633" style="fill: #ff0000; stroke: #ff0000; stroke-width: 1.25"/>
<use href="#m13b112fa2a" x="1364.296" y="328.633" style="fill: #ff0000; stroke: #ff0000; stroke-width: 1.25"/>
<use href="#m13b112fa2a" x="1366.888" y="328.633" style="fill: #ff0000; stroke: #ff0000; stroke-width: 1.25"/>
<use href="#m13b112fa2a" x="1369.480" y="328.633" style="fill: #ff0000; stroke: #ff0000; stroke-width: 1.25"/>
<use href="#m13b112fa2a" x="1372.071" y="327.667" style="fill: #ff0000; stroke: #ff0000; stroke-width: 1.25"/>
<use href="#m13b112fa2a" x="1374.663" y="324.770" style="fill: #ff0000; stroke: #ff0000; stroke-width: 1.25"/>
<use href="#m13b112fa2a" x="1377.254" y="320.907" style="fill: #ff0000; stroke: #ff0000; stroke-width: 1.25"/>
<use href="#m13b112fa2a" x="1379.846" y="318.010" style="fill: #ff0000; stroke: #ff0000; stroke-width: 1.25"/>
<use href="#m13b112fa2a" x="1382.438" y="318.976" style="fill: #ff0000; stroke: #ff0000; stroke-width: 1.25"/>
<use href="#m13b112fa2a" x="1385.029" y="320.907" style="fill: #ff0000; stroke: #ff0000; stroke-width: 1.25"/>
<use href="#m13b112fa2a" x="1387.621" y="320.907" style="fill: #ff0000; stroke: #ff0000; stroke-width: 1.25"/>
<use href="#m13b112fa2a" x="1390.213" y="325.736" style="fill: #ff0000; stroke: #ff0000; stroke-width: 1.25"/>
<use href="#m13b112fa2a" x="1392.804" y="322.839" style="fill: #ff0000; stroke: #ff0000; stroke-width: 1.25"/>
<use href="#m13b112fa2a" x="1395.396" y="324.770" style="fill: #ff0000; stroke: #ff0000; stroke-width: 1.25"/>
<use href="#m13b112fa2a" x="1397.987" y="324.770" style="fill: #ff0000; stroke: #ff0000; stroke-width: 1.25"/>
<use href="#m13b112fa2a" x="1400.579" y="325.736" style="fill: #ff0000; stroke: #ff0000; stroke-width: 1.25"/>
<use href="#m13b112fa2a" x="1403.171" y="323.804" style="fill: #ff0000; stroke: #ff0000; stroke-width: 1.25"/>
<use href="#m13b112fa2a" x="1405.762" y="327.667" style="fill: #ff0000; stroke: #ff0000; stroke-width: 1.25"/>
<use href="#m13b112fa2a" x="1408.354" y="323.804" style="fill: #ff0000; stroke: #ff0000; stroke-width: 1.25"/>
<use href="#m13b112fa2a" x="1410.945" y="323.804" style="fill: #ff0000; stroke: #ff0000; stroke-width: 1.25"/>
<use href="#m13b112fa2a" x="1413.537" y="325.736" style="fill: #ff0000; stroke: #ff0000; stroke-width: 1.25"/>
<use href="#m13b112fa2a" x="1416.129" y="321.873" style="fill: #ff0000; stroke: #ff0000; stroke-width: 1.25"/>
<use href="#m13b112fa2a" x="1418.720" y="322.839" style="fill: #ff0000; stroke: #ff0000; stroke-width: 1.25"/>
<use href="#m13b112fa2a" x="1421.312" y="323.804" style="fill: #ff0000; stroke: #ff0000; stroke-width: 1.25"/>
<use href="#m13b112fa2a" x="1423.903" y="316.078" style="fill: #ff0000; stroke: #ff0000; stroke-width: 1.25"/>
<use href="#m13b112fa2a" x="1426.495" y="310.284" style="fill: #ff0000; stroke: #ff0000; stroke-width: 1.25"/>
<use href="#m13b112fa2a" x="1429.087" y="311.250" style="fill: #ff0000; stroke: #ff0000; stroke-width: 1.25"/>
<use href="#m13b112fa2a" x="1431.678" y="317.044" style="fill: #ff0000; stroke: #ff0000; stroke-width: 1.25"/>
<use href="#m13b112fa2a" x="1434.270" y="324.770" style="fill: #ff0000; stroke: #ff0000; stroke-width: 1.25"/>
<use href="#m13b112fa2a" x="1436.861" y="323.804" style="fill: #ff0000; stroke: #ff0000; stroke-width: 1.25"/>
<use href="#m13b112fa2a" x="1439.453" y="325.736" style="fill: #ff0000; stroke: #ff0000; stroke-width: 1.25"/>
<use href="#m13b112fa2a" x="1442.045" y="327.667" style="fill: #ff0000; stroke: #ff0000; stroke-width: 1.25"/>
<use href="#m13b112fa2a" x="1444.636" y="328.633" style="fill: #ff0000; stroke: #ff0000; stroke-width: 1.25"/>
<use href="#m13b112fa2a" x="1447.228" y="328.633" style="fill: #ff0000; stroke: #ff0000; stroke-width: 1.25"/>
<use href="#m13b112fa2a" x="1449.820" y="328.633" style="fill: #ff0000; stroke: #ff0000; stroke-width: 1.25"/>
<use href="#m13b112fa2a" x="1452.411" y="328.633" style="fill: #ff0000; stroke: #ff0000; stroke-width: 1.25"/>
<use href="#m13b112fa2a" x="1455.003" y="328.633" style="fill: #ff0000; stroke: #ff0000; stroke-width: 1.25"/>
<use href="#m13b112fa2a" x="1457.594" y="327.667" style="fill: #ff0000; stroke: #ff0000; stroke-width: 1.25"/>
<use href="#m13b112fa2a" x="1460.186" y="325.736" style="fill: #ff0000; stroke: #ff0000; stroke-width: 1.25"/>
<use href="#m13b112fa2a" x="1462.778" y="323.804" style="fill: #ff0000; stroke: #ff0000; stroke-width: 1.25"/>
<use href="#m13b112fa2a" x="1465.369" y="324.770" style="fill: #ff0000; stroke: #ff0000; stroke-width: 1.25"/>
<use href="#m13b112fa2a" x="1467.961" y="317.044" style="fill: #ff0000; stroke: #ff0000; stroke-width: 1.25"/>
<use href="#m13b112fa2a" x="1470.552" y="311.250" style="fill: #ff0000; stroke: #ff0000; stroke-width: 1.25"/>
<use href="#m13b112fa2a" x="1473.144" y="310.284" style="fill: #ff0000; stroke: #ff0000; stroke-width: 1.25"/>
<use href="#m13b112fa2a" x="1475.736" y="316.078" style="fill: #ff0000; stroke: #ff0000; stroke-width: 1.25"/>
<use href="#m13b112fa2a" x="1478.327" y="323.804" style="fill: #ff0000; stroke: #ff0000; stroke-width: 1.25"/>
<use href="#m13b112fa2a" x="1480.919" y="322.839" style="fill: #ff0000; stroke: #ff0000; stroke-width: 1.25"/>
<use href="#m13b112fa2a" x="1483.510" y="321.873" style="fill: #ff0000; stroke: #ff0000; stroke-width: 1.25"/>
<use href="#m13b112fa2a" x="1486.102" y="325.736" style="fill: #ff0000; stroke: #ff0000; stroke-width: 1.25"/>
<use href="#m13b112fa2a" x="1488.694" y="323.804" style="fill: #ff0000; stroke: #ff0000; stroke-width: 1.25"/>
<use href="#m13b112fa2a" x="1491.285" y="323.804" style="fill: #ff0000; stroke: #ff0000; stroke-width: 1.25"/>
<use href="#m13b112fa2a" x="1493.877" y="327.667" style="fill: #ff0000; stroke: #ff0000; stroke-width: 1.25"/>
<use href="#m13b112fa2a" x="1496.468" y="323.804" style="fill: #ff0000; stroke: #ff0000; stroke-width: 1.25"/>
<use href="#m13b112fa2a" x="1499.060" y="325.736" style="fill: #ff0000; stroke: #ff0000; stroke-width: 1.25"/>
<use href="#m13b112fa2a" x="1501.652" y="324.770" style="fill: #ff0000; stroke: #ff0000; stroke-width: 1.25"/>
<use href="#m13b112fa2a" x="1504.243" y="324.770" style="fill: #ff0000; stroke: #ff0000; stroke-width: 1.25"/>
<use href="#m13b112fa2a" x="1506.835" y="322.839" style="fill: #ff0000; stroke: #ff0000; stroke-width: 1.25"/>
<use href="#m13b112fa2a" x="1509.426" y="325.736" style="fill: #ff0000; stroke: #ff0000; stroke-width: 1.25"/>
<use href="#m13b112fa2a" x="1512.018" y="320.907" style="fill: #ff0000; stroke: #ff0000; stroke-width: 1.25"/>
<use href="#m13b112fa2a" x="1514.610" y="320.907" style="fill: #ff0000; stroke: #ff0000; stroke-width: 1.25"/>
<use href="#m13b112fa2a" x="1517.201" y="318.976" style="fill: #ff0000; stroke: #ff0000; stroke-width: 1.25"/>
<use href="#m13b112fa2a" x="1519.793" y="318.010" style="fill: #ff0000; stroke: #ff0000; stroke-width: 1.25"/>
<use href="#m13b112fa2a" x="1522.385" y="320.907" style="fill: #ff0000; stroke: #ff0000; stroke-width: 1.25"/>
<use href="#m13b112fa2a" x="1524.976" y="324.770" style="fill: #ff0000; stroke: #ff0000; stroke-width: 1.25"/>
<use href="#m13b112fa2a" x="1527.568" y="327.667" style="fill: #ff0000; stroke: #ff0000; stroke-width: 1.25"/>
<use href="#m13b112fa2a" x="1530.159" y="328.633" style="fill: #ff0000; stroke: #ff0000; stroke-width: 1.25"/>
<use href="#m13b112fa2a" x="1532.751" y="328.633" style="fill: #ff0000; stroke: #ff0000; stroke-width: 1.25"/>
<use href="#m13b112fa2a" x="1535.343" y="328.633" style="fill: #ff0000; stroke: #ff0000; stroke-width: 1.25"/>
<use href="#m13b112fa2a" x="1537.934" y="328.633" style="fill: #ff0000; stroke: #ff0000; stroke-width: 1.25"/>
<use href="#m13b112fa2a" x="1540.526" y="328.633" style="fill: #ff0000; stroke: #ff0000; stroke-width: 1.25"/>
<use href="#m13b112fa2a" x="1543.117" y="328.633" style="fill: #ff0000; stroke: #ff0000; stroke-width: 1.25"/>
<use href="#m13b112fa2a" x="1545.709" y="328.633" style="fill: #ff0000; stroke: #ff0000; stroke-width: 1.25"/>
<use href="#m13b112fa2a" x="1548.301" y="328.633" style="fill: #ff0000; stroke: #ff0000; stroke-width: 1.25"/>
<use href="#m13b112fa2a" x="1550.892" y="328.633" style="fill: #ff0000; stroke: #ff0000; stroke-width: 1.25"/>
<use href="#m13b112fa2a" x="1553.484" y="328.633" style="fill: #ff0000; stroke: #ff0000; stroke-width: 1.25"/>
<use href="#m13b112fa2a" x="1556.075" y="328.633" style="fill: #ff0000; stroke: #ff0000; stroke-width: 1.25"/>
<use href="#m13b112fa2a" x="1558.667" y="328.633" style="fill: #ff0000; stroke: #ff0000; stroke-width: 1.25"/>
<use href="#m13b112fa2a" x="1561.259" y="328.633" style="fill: #ff0000; stroke: #ff0000; stroke-width: 1.25"/>
<use href="#m13b112fa2a" x="1563.850" y="328.633" style="fill: #ff0000; stroke: #ff0000; stroke-width: 1.25"/>
<use href="#m13b112fa2a" x="1566.442" y="328.633" style="fill: #ff0000; stroke: #ff0000; stroke-width: 1.25"/>
<use href="#m13b112fa2a" x="1569.033" y="328.633" style="fill: #ff0000; stroke: #ff0000; stroke-width: 1.25"/>
<use href="#m13b112fa2a" x="1571.625" y="328.633" style="fill: #ff0000; stroke: #ff0000; stroke-width: 1.25"/>
<use href="#m13b112fa2a" x="1574.217" y="328.633" style="fill: #ff0000; stroke: #ff0000; stroke-width: 1.25"/>
<use href="#m13b112fa2a" x="1576.808" y="328.633" style="fill: #ff0000; stroke: #ff0000; stroke-width: 1.25"/>
<use href="#m13b112fa2a" x="1579.400" y="328.633" style="fill: #ff0000; stroke: #ff0000; stroke-width: 1.25"/>
<use href="#m13b112fa2a" x="1581.991" y="328.633" style="fill: #ff0000; stroke: #ff0000; stroke-width: 1.25"/>
<use href="#m13b112fa2a" x="1584.583" y="328.633" style="fill: #ff0000; stroke: #ff0000; stroke-width: 1.25"/>
<use href="#m13b112fa2a" x="1587.175" y="328.633" style="fill: #ff0000; stroke: #ff0000; stroke-width: 1.25"/>
<use href="#m13b112fa2a" x="1589.766" y="328.633" style="fill: #ff0000; stroke: #ff0000; stroke-width: 1.25"/>
<use href="#m13b112fa2a" x="1592.358" y="328.633" style="fill: #ff0000; stroke: #ff0000; stroke-width: 1.25"/>
<use href="#m13b112fa2a" x="1594.950" y="328.633" style="fill: #ff0000; stroke: #ff0000; stroke-width: 1.25"/>
<use href="#m13b112fa2a" x="1597.541" y="328.633" style="fill: #ff0000; stroke: #ff0000; stroke-width: 1.25"/>
<use href="#m13b112fa2a" x="1600.133" y="328.633" style="fill: #ff0000; stroke: #ff0000; stroke-width: 1.25"/>
<use href="#m13b112fa2a" x="1602.724" y="328.633" style="fill: #ff0000; stroke: #ff0000; stroke-width: 1.25"/>
<use href="#m13b112fa2a" x="1605.316" y="328.633" style="fill: #ff0000; stroke: #ff0000; stroke-width: 1.25"/>
<use href="#m13b112fa2a" x="1607.908" y="328.633" style="fill: #ff0000; stroke: #ff0000; stroke-width: 1.25"/>
<use href="#m13b112fa2a" x="1610.499" y="328.633" style="fill: #ff0000; stroke: #ff0000; stroke-width: 1.25"/>
<use href="#m13b112fa2a" x="1613.091" y="328.633" style="fill: #ff0000; stroke: #ff0000; stroke-width: 1.25"/>
<use href="#m13b112fa2a" x="1615.682" y="328.633" style="fill: #ff0000; stroke: #ff0000; stroke-width: 1.25"/>
<use href="#m13b112fa2a" x="1618.274" y="328.633" style="fill: #ff0000; stroke: #ff0000; stroke-width: 1.25"/>
<use href="#m13b112fa2a" x="1620.866" y="328.633" style="fill: #ff0000; stroke: #ff0000; stroke-width: 1.25"/>
<use href="#m13b112fa2a" x="1623.457" y="328.633" style="fill: #ff0000; stroke: #ff0000; stroke-width: 1.25"/>
<use href="#m13b112fa2a" x="1626.049" y="328.633" style="fill: #ff0000; stroke: #ff0000; stroke-width: 1.25"/>
<use href="#m13b112fa2a" x="1628.640" y="328.633" style="fill: #ff0000; stroke: #ff0000; stroke-width: 1.25"/>
<use href="#m13b112fa2a" x="1631.232" y="328.633" style="fill: #ff0000; stroke: #ff0000; stroke-width: 1.25"/>
<use href="#m13b112fa2a" x="1633.824" y="328.633" style="fill: #ff0000; stroke: #ff0000; stroke-width: 1.25"/>
<use href="#m13b112fa2a" x="1636.415" y="328.633" style="fill: #ff0000; stroke: #ff0000; stroke-width: 1.25"/>
<use href="#m13b112fa2a" x="1639.007" y="328.633" style="fill: #ff0000; stroke: #ff0000; stroke-width: 1.25"/>
<use href="#m13b112fa2a" x="1641.598" y="328.633" style="fill: #ff0000; stroke: #ff0000; stroke-width: 1.25"/>
<use href="#m13b112fa2a" x="1644.190" y="328.633" style="fill: #ff0000; stroke: #ff0000; stroke-width: 1.25"/>
<use href="#m13b112fa2a" x="1646.782" y="328.633" style="fill: #ff0000; stroke: #ff0000; stroke-width: 1.25"/>
<use href="#m13b112fa2a" x="1649.373" y="328.633" style="fill: #ff0000; stroke: #ff0000; stroke-width: 1.25"/>
<use href="#m13b112fa2a" x="1651.965" y="328.633" style="fill: #ff0000; stroke: #ff0000; stroke-width: 1.25"/>
<use href="#m13b112fa2a" x="1654.557" y="328.633" style="fill: #ff0000; stroke: #ff0000; stroke-width: 1.25"/>
<use href="#m13b112fa2a" x="1657.148" y="328.633" style="fill: #ff0000; stroke: #ff0000; stroke-width: 1.25"/>
<use href="#m13b112fa2a" x="1659.740" y="328.633" style="fill: #ff0000; stroke: #ff0000; stroke-width: 1.25"/>
<use href="#m13b112fa2a" x="1662.331" y="328.633" style="fill: #ff0000; stroke: #ff0000; stroke-width: 1.25"/>
<use href="#m13b112fa2a" x="1664.923" y="328.633" style="fill: #ff0000; stroke: #ff0000; stroke-width: 1.25"/>
<use href="#m13b112fa2a" x="1667.515" y="328.633" style="fill: #ff0000; stroke: #ff0000; stroke-width: 1.25"/>
<use href="#m13b112fa2a" x="1670.106" y="328.633" style="fill: #ff0000; stroke: #ff0000; stroke-width: 1.25"/>
<use href="#m13b112fa2a" x="1672.698" y="328.633" style="fill: #ff0000; stroke: #ff0000; stroke-width: 1.25"/>
<use href="#m13b112fa2a" x="1675.289" y="328.633" style="fill: #ff0000; stroke: #ff0000; stroke-width: 1.25"/>
<use href="#m13b112fa2a" x="1677.881" y="328.633" style="fill: #ff0000; stroke: #ff0000; stroke-width: 1.25"/>
<use href="#m13b112fa2a" x="1680.473" y="328.633" style="fill: #ff0000; stroke: #ff0000; stroke-width: 1.25"/>
<use href="#m13b112fa2a" x="1683.064" y="328.633" style="fill: #ff0000; stroke: #ff0000; stroke-width: 1.25"/>
<use href="#m13b112fa2a" x="1685.656" y="328.633" style="fill: #ff0000; stroke: #ff0000; stroke-width: 1.25"/>
<use href="#m13b112fa2a" x="1688.247" y="328.633" style="fill: #ff0000; stroke: #ff0000; stroke-width: 1.25"/>
<use href="#m13b112fa2a" x="1690.839" y="328.633" style="fill: #ff0000; stroke: #ff0000; stroke-width: 1.25"/>
<use href="#m13b112fa2a" x="1693.431" y="328.633" style="fill: #ff0000; stroke: #ff0000; stroke-width: 1.25"/>
<use href="#m13b112fa2a" x="1696.022" y="328.633" style="fill: #ff0000; stroke: #ff0000; stroke-width: 1.25"/>
<use href="#m13b112fa2a" x="1698.614" y="328.633" style="fill: #ff0000; stroke: #ff0000; stroke-width: 1.25"/>
<use href="#m13b112fa2a" x="1701.205" y="328.633" style="fill: #ff0000; stroke: #ff0000; stroke-width: 1.25"/>
<use href="#m13b112fa2a" x="1703.797" y="328.633" style="fill: #ff0000; stroke: #ff0000; stroke-width: 1.25"/>
<use href="#m13b112fa2a" x="1706.389" y="328.633" style="fill: #ff0000; stroke: #ff0000; stroke-width: 1.25"/>
<use href="#m13b112fa2a" x="1708.980" y="328.633" style="fill: #ff0000; stroke: #ff0000; stroke-width: 1.25"/>
<use href="#m13b112fa2a" x="1711.572" y="328.633" style="fill: #ff0000; stroke: #ff0000; stroke-width: 1.25"/>
<use href="#m13b112fa2a" x="1714.163" y="328.633" style="fill: #ff0000; stroke: #ff0000; stroke-width: 1.25"/>
<use href="#m13b112fa2a" x="1716.755" y="328.633" style="fill: #ff0000; stroke: #ff0000; stroke-width: 1.25"/>
</g>
</g>
<g id="line2d_62">
<path d="M 1182.96 328.32 L 1716.48 328.32" clip-path="url(#p6fe620b129)" style="fill: none; stroke: #000000; stroke-width: 1.5; stroke-linecap: square"/>
</g>
<g id="LineCollection_2">
<path d="M 1182.96 328.32 L 1182.96 327.6" clip-path="url(#p6fe620b129)" style="fill: none; stroke: #1f77b4; stroke-width: 1.5"/>
<path d="M 1185.12 328.32 L 1185.12 327.6" clip-path="url(#p6fe620b129)" style="fill: none; stroke: #1f77b4; stroke-width: 1.5"/>
<path d="M 1188 328.32 L 1188 327.6" clip-path="url(#p6fe620b129)" style="fill: none; stroke: #1f77b4; stroke-width: 1.5"/>
<path d="M 1190.88 328.32 L 1190.88 328.32" clip-path="url(#p6fe620b129)" style="fill: none; stroke: #1f77b4; stroke-width: 1.5"/>
<path d="M 1193.04 328.32 L 1193.04 328.32" clip-path="url(#p6fe620b129)" style="fill: none; stroke: #1f77b4; stroke-width: 1.5"/>
<path d="M 1195.92 328.32 L 1195.92 327.6" clip-path="url(#p6fe620b129)" style="fill: none; stroke: #1f77b4; stroke-width: 1.5"/>
<path d="M 1198.08 328.32 L 1198.08 328.32" clip-path="url(#p6fe620b129)" style="fill: none; stroke: #1f77b4; stroke-width: 1.5"/>
<path d="M 1200.96 328.32 L 1200.96 328.32" clip-path="url(#p6fe620b129)" style="fill: none; stroke: #1f77b4; stroke-width: 1.5"/>
<path d="M 1203.84 328.32 L 1203.84 327.6" clip-path="url(#p6fe620b129)" style="fill: none; stroke: #1f77b4; stroke-width: 1.5"/>
<path d="M 1206 328.32 L 1206 327.6" clip-path="url(#p6fe620b129)" style="fill: none; stroke: #1f77b4; stroke-width: 1.5"/>
<path d="M 1208.88 328.32 L 1208.88 328.32" clip-path="url(#p6fe620b129)" style="fill: none; stroke: #1f77b4; stroke-width: 1.5"/>
<path d="M 1211.04 328.32 L 1211.04 327.6" clip-path="url(#p6fe620b129)" style="fill: none; stroke: #1f77b4; stroke-width: 1.5"/>
<path d="M 1213.92 328.32 L 1213.92 328.32" clip-path="url(#p6fe620b129)" style="fill: none; stroke: #1f77b4; stroke-width: 1.5"/>
<path d="M 1216.8 328.32 L 1216.8 327.6" clip-path="url(#p6fe620b129)" style="fill: none; stroke: #1f77b4; stroke-width: 1.5"/>
<path d="M 1218.96 328.32 L 1218.96 327.6" clip-path="url(#p6fe620b129)" style="fill: none; stroke: #1f77b4; stroke-width: 1.5"/>
<path d="M 1221.84 328.32 L 1221.84 327.6" clip-path="url(#p6fe620b129)" style="fill: none; stroke: #1f77b4; stroke-width: 1.5"/>
<path d="M 1224 328.32 L 1224 328.32" clip-path="url(#p6fe620b129)" style="fill: none; stroke: #1f77b4; stroke-width: 1.5"/>
<path d="M 1226.88 328.32 L 1226.88 327.6" clip-path="url(#p6fe620b129)" style="fill: none; stroke: #1f77b4; stroke-width: 1.5"/>
<path d="M 1229.76 328.32 L 1229.76 327.6" clip-path="url(#p6fe620b129)" style="fill: none; stroke: #1f77b4; stroke-width: 1.5"/>
<path d="M 1231.92 328.32 L 1231.92 327.6" clip-path="url(#p6fe620b129)" style="fill: none; stroke: #1f77b4; stroke-width: 1.5"/>
<path d="M 1234.8 328.32 L 1234.8 328.32" clip-path="url(#p6fe620b129)" style="fill: none; stroke: #1f77b4; stroke-width: 1.5"/>
<path d="M 1236.96 328.32 L 1236.96 328.32" clip-path="url(#p6fe620b129)" style="fill: none; stroke: #1f77b4; stroke-width: 1.5"/>
<path d="M 1239.84 328.32 L 1239.84 327.6" clip-path="url(#p6fe620b129)" style="fill: none; stroke: #1f77b4; stroke-width: 1.5"/>
<path d="M 1242.72 328.32 L 1242.72 327.6" clip-path="url(#p6fe620b129)" style="fill: none; stroke: #1f77b4; stroke-width: 1.5"/>
<path d="M 1244.88 328.32 L 1244.88 326.88" clip-path="url(#p6fe620b129)" style="fill: none; stroke: #1f77b4; stroke-width: 1.5"/>
<path d="M 1247.76 328.32 L 1247.76 327.6" clip-path="url(#p6fe620b129)" style="fill: none; stroke: #1f77b4; stroke-width: 1.5"/>
<path d="M 1249.92 328.32 L 1249.92 327.6" clip-path="url(#p6fe620b129)" style="fill: none; stroke: #1f77b4; stroke-width: 1.5"/>
<path d="M 1252.8 328.32 L 1252.8 326.88" clip-path="url(#p6fe620b129)" style="fill: none; stroke: #1f77b4; stroke-width: 1.5"/>
<path d="M 1255.68 328.32 L 1255.68 327.6" clip-path="url(#p6fe620b129)" style="fill: none; stroke: #1f77b4; stroke-width: 1.5"/>
<path d="M 1257.84 328.32 L 1257.84 326.88" clip-path="url(#p6fe620b129)" style="fill: none; stroke: #1f77b4; stroke-width: 1.5"/>
<path d="M 1260.72 328.32 L 1260.72 327.6" clip-path="url(#p6fe620b129)" style="fill: none; stroke: #1f77b4; stroke-width: 1.5"/>
<path d="M 1262.88 328.32 L 1262.88 326.88" clip-path="url(#p6fe620b129)" style="fill: none; stroke: #1f77b4; stroke-width: 1.5"/>
<path d="M 1265.76 328.32 L 1265.76 327.6" clip-path="url(#p6fe620b129)" style="fill: none; stroke: #1f77b4; stroke-width: 1.5"/>
<path d="M 1268.64 328.32 L 1268.64 327.6" clip-path="url(#p6fe620b129)" style="fill: none; stroke: #1f77b4; stroke-width: 1.5"/>
<path d="M 1270.8 328.32 L 1270.8 327.6" clip-path="url(#p6fe620b129)" style="fill: none; stroke: #1f77b4; stroke-width: 1.5"/>
<path d="M 1273.68 328.32 L 1273.68 327.6" clip-path="url(#p6fe620b129)" style="fill: none; stroke: #1f77b4; stroke-width: 1.5"/>
<path d="M 1275.84 328.32 L 1275.84 327.6" clip-path="url(#p6fe620b129)" style="fill: none; stroke: #1f77b4; stroke-width: 1.5"/>
<path d="M 1278.72 328.32 L 1278.72 326.88" clip-path="url(#p6fe620b129)" style="fill: none; stroke: #1f77b4; stroke-width: 1.5"/>
<path d="M 1281.6 328.32 L 1281.6 326.88" clip-path="url(#p6fe620b129)" style="fill: none; stroke: #1f77b4; stroke-width: 1.5"/>
<path d="M 1283.76 328.32 L 1283.76 327.6" clip-path="url(#p6fe620b129)" style="fill: none; stroke: #1f77b4; stroke-width: 1.5"/>
<path d="M 1286.64 328.32 L 1286.64 327.6" clip-path="url(#p6fe620b129)" style="fill: none; stroke: #1f77b4; stroke-width: 1.5"/>
<path d="M 1288.8 328.32 L 1288.8 326.88" clip-path="url(#p6fe620b129)" style="fill: none; stroke: #1f77b4; stroke-width: 1.5"/>
<path d="M 1291.68 328.32 L 1291.68 326.88" clip-path="url(#p6fe620b129)" style="fill: none; stroke: #1f77b4; stroke-width: 1.5"/>
<path d="M 1294.56 328.32 L 1294.56 327.6" clip-path="url(#p6fe620b129)" style="fill: none; stroke: #1f77b4; stroke-width: 1.5"/>
<path d="M 1296.72 328.32 L 1296.72 326.88" clip-path="url(#p6fe620b129)" style="fill: none; stroke: #1f77b4; stroke-width: 1.5"/>
<path d="M 1299.6 328.32 L 1299.6 326.88" clip-path="url(#p6fe620b129)" style="fill: none; stroke: #1f77b4; stroke-width: 1.5"/>
<path d="M 1301.76 328.32 L 1301.76 326.16" clip-path="url(#p6fe620b129)" style="fill: none; stroke: #1f77b4; stroke-width: 1.5"/>
<path d="M 1304.64 328.32 L 1304.64 326.88" clip-path="url(#p6fe620b129)" style="fill: none; stroke: #1f77b4; stroke-width: 1.5"/>
<path d="M 1307.52 328.32 L 1307.52 327.6" clip-path="url(#p6fe620b129)" style="fill: none; stroke: #1f77b4; stroke-width: 1.5"/>
<path d="M 1309.68 328.32 L 1309.68 327.6" clip-path="url(#p6fe620b129)" style="fill: none; stroke: #1f77b4; stroke-width: 1.5"/>
<path d="M 1312.56 328.32 L 1312.56 326.88" clip-path="url(#p6fe620b129)" style="fill: none; stroke: #1f77b4; stroke-width: 1.5"/>
<path d="M 1314.72 328.32 L 1314.72 326.16" clip-path="url(#p6fe620b129)" style="fill: none; stroke: #1f77b4; stroke-width: 1.5"/>
<path d="M 1317.6 328.32 L 1317.6 326.16" clip-path="url(#p6fe620b129)" style="fill: none; stroke: #1f77b4; stroke-width: 1.5"/>
<path d="M 1320.48 328.32 L 1320.48 326.16" clip-path="url(#p6fe620b129)" style="fill: none; stroke: #1f77b4; stroke-width: 1.5"/>
<path d="M 1322.64 328.32 L 1322.64 327.6" clip-path="url(#p6fe620b129)" style="fill: none; stroke: #1f77b4; stroke-width: 1.5"/>
<path d="M 1325.52 328.32 L 1325.52 326.16" clip-path="url(#p6fe620b129)" style="fill: none; stroke: #1f77b4; stroke-width: 1.5"/>
<path d="M 1327.68 328.32 L 1327.68 326.88" clip-path="url(#p6fe620b129)" style="fill: none; stroke: #1f77b4; stroke-width: 1.5"/>
<path d="M 1330.56 328.32 L 1330.56 326.88" clip-path="url(#p6fe620b129)" style="fill: none; stroke: #1f77b4; stroke-width: 1.5"/>
<path d="M 1333.44 328.32 L 1333.44 327.6" clip-path="url(#p6fe620b129)" style="fill: none; stroke: #1f77b4; stroke-width: 1.5"/>
<path d="M 1335.6 328.32 L 1335.6 326.16" clip-path="url(#p6fe620b129)" style="fill: none; stroke: #1f77b4; stroke-width: 1.5"/>
<path d="M 1338.48 328.32 L 1338.48 326.88" clip-path="url(#p6fe620b129)" style="fill: none; stroke: #1f77b4; stroke-width: 1.5"/>
<path d="M 1340.64 328.32 L 1340.64 324.72" clip-path="url(#p6fe620b129)" style="fill: none; stroke: #1f77b4; stroke-width: 1.5"/>
<path d="M 1343.52 328.32 L 1343.52 321.12" clip-path="url(#p6fe620b129)" style="fill: none; stroke: #1f77b4; stroke-width: 1.5"/>
<path d="M 1346.4 328.32 L 1346.4 324.72" clip-path="url(#p6fe620b129)" style="fill: none; stroke: #1f77b4; stroke-width: 1.5"/>
<path d="M 1348.56 328.32 L 1348.56 322.56" clip-path="url(#p6fe620b129)" style="fill: none; stroke: #1f77b4; stroke-width: 1.5"/>
<path d="M 1351.44 328.32 L 1351.44 324.72" clip-path="url(#p6fe620b129)" style="fill: none; stroke: #1f77b4; stroke-width: 1.5"/>
<path d="M 1353.6 328.32 L 1353.6 321.12" clip-path="url(#p6fe620b129)" style="fill: none; stroke: #1f77b4; stroke-width: 1.5"/>
<path d="M 1356.48 328.32 L 1356.48 322.56" clip-path="url(#p6fe620b129)" style="fill: none; stroke: #1f77b4; stroke-width: 1.5"/>
<path d="M 1359.36 328.32 L 1359.36 316.8" clip-path="url(#p6fe620b129)" style="fill: none; stroke: #1f77b4; stroke-width: 1.5"/>
<path d="M 1361.52 328.32 L 1361.52 324.72" clip-path="url(#p6fe620b129)" style="fill: none; stroke: #1f77b4; stroke-width: 1.5"/>
<path d="M 1364.4 328.32 L 1364.4 316.8" clip-path="url(#p6fe620b129)" style="fill: none; stroke: #1f77b4; stroke-width: 1.5"/>
<path d="M 1366.56 328.32 L 1366.56 316.08" clip-path="url(#p6fe620b129)" style="fill: none; stroke: #1f77b4; stroke-width: 1.5"/>
<path d="M 1369.44 328.32 L 1369.44 313.92" clip-path="url(#p6fe620b129)" style="fill: none; stroke: #1f77b4; stroke-width: 1.5"/>
<path d="M 1372.32 328.32 L 1372.32 298.8" clip-path="url(#p6fe620b129)" style="fill: none; stroke: #1f77b4; stroke-width: 1.5"/>
<path d="M 1374.48 328.32 L 1374.48 282.24" clip-path="url(#p6fe620b129)" style="fill: none; stroke: #1f77b4; stroke-width: 1.5"/>
<path d="M 1377.36 328.32 L 1377.36 228.96" clip-path="url(#p6fe620b129)" style="fill: none; stroke: #1f77b4; stroke-width: 1.5"/>
<path d="M 1379.52 328.32 L 1379.52 182.16" clip-path="url(#p6fe620b129)" style="fill: none; stroke: #1f77b4; stroke-width: 1.5"/>
<path d="M 1382.4 328.32 L 1382.4 210.24" clip-path="url(#p6fe620b129)" style="fill: none; stroke: #1f77b4; stroke-width: 1.5"/>
<path d="M 1385.28 328.32 L 1385.28 270" clip-path="url(#p6fe620b129)" style="fill: none; stroke: #1f77b4; stroke-width: 1.5"/>
<path d="M 1387.44 328.32 L 1387.44 271.44" clip-path="url(#p6fe620b129)" style="fill: none; stroke: #1f77b4; stroke-width: 1.5"/>
<path d="M 1390.32 328.32 L 1390.32 321.12" clip-path="url(#p6fe620b129)" style="fill: none; stroke: #1f77b4; stroke-width: 1.5"/>
<path d="M 1392.48 328.32 L 1392.48 293.04" clip-path="url(#p6fe620b129)" style="fill: none; stroke: #1f77b4; stroke-width: 1.5"/>
<path d="M 1395.36 328.32 L 1395.36 309.6" clip-path="url(#p6fe620b129)" style="fill: none; stroke: #1f77b4; stroke-width: 1.5"/>
<path d="M 1398.24 328.32 L 1398.24 311.04" clip-path="url(#p6fe620b129)" style="fill: none; stroke: #1f77b4; stroke-width: 1.5"/>
<path d="M 1400.4 328.32 L 1400.4 316.8" clip-path="url(#p6fe620b129)" style="fill: none; stroke: #1f77b4; stroke-width: 1.5"/>
<path d="M 1403.28 328.32 L 1403.28 293.04" clip-path="url(#p6fe620b129)" style="fill: none; stroke: #1f77b4; stroke-width: 1.5"/>
<path d="M 1405.44 328.32 L 1405.44 316.8" clip-path="url(#p6fe620b129)" style="fill: none; stroke: #1f77b4; stroke-width: 1.5"/>
<path d="M 1408.32 328.32 L 1408.32 298.08" clip-path="url(#p6fe620b129)" style="fill: none; stroke: #1f77b4; stroke-width: 1.5"/>
<path d="M 1411.2 328.32 L 1411.2 302.4" clip-path="url(#p6fe620b129)" style="fill: none; stroke: #1f77b4; stroke-width: 1.5"/>
<path d="M 1413.36 328.32 L 1413.36 315.36" clip-path="url(#p6fe620b129)" style="fill: none; stroke: #1f77b4; stroke-width: 1.5"/>
<path d="M 1416.24 328.32 L 1416.24 281.52" clip-path="url(#p6fe620b129)" style="fill: none; stroke: #1f77b4; stroke-width: 1.5"/>
<path d="M 1418.4 328.32 L 1418.4 292.32" clip-path="url(#p6fe620b129)" style="fill: none; stroke: #1f77b4; stroke-width: 1.5"/>
<path d="M 1421.28 328.32 L 1421.28 298.8" clip-path="url(#p6fe620b129)" style="fill: none; stroke: #1f77b4; stroke-width: 1.5"/>
<path d="M 1424.16 328.32 L 1424.16 218.16" clip-path="url(#p6fe620b129)" style="fill: none; stroke: #1f77b4; stroke-width: 1.5"/>
<path d="M 1426.32 328.32 L 1426.32 166.32" clip-path="url(#p6fe620b129)" style="fill: none; stroke: #1f77b4; stroke-width: 1.5"/>
<path d="M 1429.2 328.32 L 1429.2 187.92" clip-path="url(#p6fe620b129)" style="fill: none; stroke: #1f77b4; stroke-width: 1.5"/>
<path d="M 1431.36 328.32 L 1431.36 246.24" clip-path="url(#p6fe620b129)" style="fill: none; stroke: #1f77b4; stroke-width: 1.5"/>
<path d="M 1434.24 328.32 L 1434.24 313.2" clip-path="url(#p6fe620b129)" style="fill: none; stroke: #1f77b4; stroke-width: 1.5"/>
<path d="M 1437.12 328.32 L 1437.12 300.96" clip-path="url(#p6fe620b129)" style="fill: none; stroke: #1f77b4; stroke-width: 1.5"/>
<path d="M 1439.28 328.32 L 1439.28 310.32" clip-path="url(#p6fe620b129)" style="fill: none; stroke: #1f77b4; stroke-width: 1.5"/>
<path d="M 1442.16 328.32 L 1442.16 321.12" clip-path="url(#p6fe620b129)" style="fill: none; stroke: #1f77b4; stroke-width: 1.5"/>
<path d="M 1444.32 328.32 L 1444.32 319.68" clip-path="url(#p6fe620b129)" style="fill: none; stroke: #1f77b4; stroke-width: 1.5"/>
<path d="M 1447.2 328.32 L 1447.2 319.68" clip-path="url(#p6fe620b129)" style="fill: none; stroke: #1f77b4; stroke-width: 1.5"/>
<path d="M 1450.08 328.32 L 1450.08 319.68" clip-path="url(#p6fe620b129)" style="fill: none; stroke: #1f77b4; stroke-width: 1.5"/>
<path d="M 1452.24 328.32 L 1452.24 319.68" clip-path="url(#p6fe620b129)" style="fill: none; stroke: #1f77b4; stroke-width: 1.5"/>
<path d="M 1455.12 328.32 L 1455.12 319.68" clip-path="url(#p6fe620b129)" style="fill: none; stroke: #1f77b4; stroke-width: 1.5"/>
<path d="M 1457.28 328.32 L 1457.28 321.12" clip-path="url(#p6fe620b129)" style="fill: none; stroke: #1f77b4; stroke-width: 1.5"/>
<path d="M 1460.16 328.32 L 1460.16 310.32" clip-path="url(#p6fe620b129)" style="fill: none; stroke: #1f77b4; stroke-width: 1.5"/>
<path d="M 1463.04 328.32 L 1463.04 300.96" clip-path="url(#p6fe620b129)" style="fill: none; stroke: #1f77b4; stroke-width: 1.5"/>
<path d="M 1465.2 328.32 L 1465.2 313.2" clip-path="url(#p6fe620b129)" style="fill: none; stroke: #1f77b4; stroke-width: 1.5"/>
<path d="M 1468.08 328.32 L 1468.08 246.24" clip-path="url(#p6fe620b129)" style="fill: none; stroke: #1f77b4; stroke-width: 1.5"/>
<path d="M 1470.24 328.32 L 1470.24 187.92" clip-path="url(#p6fe620b129)" style="fill: none; stroke: #1f77b4; stroke-width: 1.5"/>
<path d="M 1473.12 328.32 L 1473.12 166.32" clip-path="url(#p6fe620b129)" style="fill: none; stroke: #1f77b4; stroke-width: 1.5"/>
<path d="M 1476 328.32 L 1476 218.16" clip-path="url(#p6fe620b129)" style="fill: none; stroke: #1f77b4; stroke-width: 1.5"/>
<path d="M 1478.16 328.32 L 1478.16 298.8" clip-path="url(#p6fe620b129)" style="fill: none; stroke: #1f77b4; stroke-width: 1.5"/>
<path d="M 1481.04 328.32 L 1481.04 292.32" clip-path="url(#p6fe620b129)" style="fill: none; stroke: #1f77b4; stroke-width: 1.5"/>
<path d="M 1483.2 328.32 L 1483.2 281.52" clip-path="url(#p6fe620b129)" style="fill: none; stroke: #1f77b4; stroke-width: 1.5"/>
<path d="M 1486.08 328.32 L 1486.08 315.36" clip-path="url(#p6fe620b129)" style="fill: none; stroke: #1f77b4; stroke-width: 1.5"/>
<path d="M 1488.96 328.32 L 1488.96 302.4" clip-path="url(#p6fe620b129)" style="fill: none; stroke: #1f77b4; stroke-width: 1.5"/>
<path d="M 1491.12 328.32 L 1491.12 298.08" clip-path="url(#p6fe620b129)" style="fill: none; stroke: #1f77b4; stroke-width: 1.5"/>
<path d="M 1494 328.32 L 1494 316.8" clip-path="url(#p6fe620b129)" style="fill: none; stroke: #1f77b4; stroke-width: 1.5"/>
<path d="M 1496.16 328.32 L 1496.16 293.04" clip-path="url(#p6fe620b129)" style="fill: none; stroke: #1f77b4; stroke-width: 1.5"/>
<path d="M 1499.04 328.32 L 1499.04 316.8" clip-path="url(#p6fe620b129)" style="fill: none; stroke: #1f77b4; stroke-width: 1.5"/>
<path d="M 1501.92 328.32 L 1501.92 311.04" clip-path="url(#p6fe620b129)" style="fill: none; stroke: #1f77b4; stroke-width: 1.5"/>
<path d="M 1504.08 328.32 L 1504.08 309.6" clip-path="url(#p6fe620b129)" style="fill: none; stroke: #1f77b4; stroke-width: 1.5"/>
<path d="M 1506.96 328.32 L 1506.96 293.04" clip-path="url(#p6fe620b129)" style="fill: none; stroke: #1f77b4; stroke-width: 1.5"/>
<path d="M 1509.12 328.32 L 1509.12 321.12" clip-path="url(#p6fe620b129)" style="fill: none; stroke: #1f77b4; stroke-width: 1.5"/>
<path d="M 1512 328.32 L 1512 271.44" clip-path="url(#p6fe620b129)" style="fill: none; stroke: #1f77b4; stroke-width: 1.5"/>
<path d="M 1514.88 328.32 L 1514.88 270" clip-path="url(#p6fe620b129)" style="fill: none; stroke: #1f77b4; stroke-width: 1.5"/>
<path d="M 1517.04 328.32 L 1517.04 210.24" clip-path="url(#p6fe620b129)" style="fill: none; stroke: #1f77b4; stroke-width: 1.5"/>
<path d="M 1519.92 328.32 L 1519.92 182.16" clip-path="url(#p6fe620b129)" style="fill: none; stroke: #1f77b4; stroke-width: 1.5"/>
<path d="M 1522.08 328.32 L 1522.08 228.96" clip-path="url(#p6fe620b129)" style="fill: none; stroke: #1f77b4; stroke-width: 1.5"/>
<path d="M 1524.96 328.32 L 1524.96 282.24" clip-path="url(#p6fe620b129)" style="fill: none; stroke: #1f77b4; stroke-width: 1.5"/>
<path d="M 1527.84 328.32 L 1527.84 298.8" clip-path="url(#p6fe620b129)" style="fill: none; stroke: #1f77b4; stroke-width: 1.5"/>
<path d="M 1530 328.32 L 1530 313.92" clip-path="url(#p6fe620b129)" style="fill: none; stroke: #1f77b4; stroke-width: 1.5"/>
<path d="M 1532.88 328.32 L 1532.88 316.08" clip-path="url(#p6fe620b129)" style="fill: none; stroke: #1f77b4; stroke-width: 1.5"/>
<path d="M 1535.04 328.32 L 1535.04 316.8" clip-path="url(#p6fe620b129)" style="fill: none; stroke: #1f77b4; stroke-width: 1.5"/>
<path d="M 1537.92 328.32 L 1537.92 324.72" clip-path="url(#p6fe620b129)" style="fill: none; stroke: #1f77b4; stroke-width: 1.5"/>
<path d="M 1540.8 328.32 L 1540.8 316.8" clip-path="url(#p6fe620b129)" style="fill: none; stroke: #1f77b4; stroke-width: 1.5"/>
<path d="M 1542.96 328.32 L 1542.96 322.56" clip-path="url(#p6fe620b129)" style="fill: none; stroke: #1f77b4; stroke-width: 1.5"/>
<path d="M 1545.84 328.32 L 1545.84 321.12" clip-path="url(#p6fe620b129)" style="fill: none; stroke: #1f77b4; stroke-width: 1.5"/>
<path d="M 1548 328.32 L 1548 324.72" clip-path="url(#p6fe620b129)" style="fill: none; stroke: #1f77b4; stroke-width: 1.5"/>
<path d="M 1550.88 328.32 L 1550.88 322.56" clip-path="url(#p6fe620b129)" style="fill: none; stroke: #1f77b4; stroke-width: 1.5"/>
<path d="M 1553.76 328.32 L 1553.76 324.72" clip-path="url(#p6fe620b129)" style="fill: none; stroke: #1f77b4; stroke-width: 1.5"/>
<path d="M 1555.92 328.32 L 1555.92 321.12" clip-path="url(#p6fe620b129)" style="fill: none; stroke: #1f77b4; stroke-width: 1.5"/>
<path d="M 1558.8 328.32 L 1558.8 324.72" clip-path="url(#p6fe620b129)" style="fill: none; stroke: #1f77b4; stroke-width: 1.5"/>
<path d="M 1560.96 328.32 L 1560.96 326.88" clip-path="url(#p6fe620b129)" style="fill: none; stroke: #1f77b4; stroke-width: 1.5"/>
<path d="M 1563.84 328.32 L 1563.84 326.16" clip-path="url(#p6fe620b129)" style="fill: none; stroke: #1f77b4; stroke-width: 1.5"/>
<path d="M 1566.72 328.32 L 1566.72 327.6" clip-path="url(#p6fe620b129)" style="fill: none; stroke: #1f77b4; stroke-width: 1.5"/>
<path d="M 1568.88 328.32 L 1568.88 326.88" clip-path="url(#p6fe620b129)" style="fill: none; stroke: #1f77b4; stroke-width: 1.5"/>
<path d="M 1571.76 328.32 L 1571.76 326.88" clip-path="url(#p6fe620b129)" style="fill: none; stroke: #1f77b4; stroke-width: 1.5"/>
<path d="M 1573.92 328.32 L 1573.92 326.16" clip-path="url(#p6fe620b129)" style="fill: none; stroke: #1f77b4; stroke-width: 1.5"/>
<path d="M 1576.8 328.32 L 1576.8 327.6" clip-path="url(#p6fe620b129)" style="fill: none; stroke: #1f77b4; stroke-width: 1.5"/>
<path d="M 1579.68 328.32 L 1579.68 326.16" clip-path="url(#p6fe620b129)" style="fill: none; stroke: #1f77b4; stroke-width: 1.5"/>
<path d="M 1581.84 328.32 L 1581.84 326.16" clip-path="url(#p6fe620b129)" style="fill: none; stroke: #1f77b4; stroke-width: 1.5"/>
<path d="M 1584.72 328.32 L 1584.72 326.16" clip-path="url(#p6fe620b129)" style="fill: none; stroke: #1f77b4; stroke-width: 1.5"/>
<path d="M 1586.88 328.32 L 1586.88 326.88" clip-path="url(#p6fe620b129)" style="fill: none; stroke: #1f77b4; stroke-width: 1.5"/>
<path d="M 1589.76 328.32 L 1589.76 327.6" clip-path="url(#p6fe620b129)" style="fill: none; stroke: #1f77b4; stroke-width: 1.5"/>
<path d="M 1592.64 328.32 L 1592.64 327.6" clip-path="url(#p6fe620b129)" style="fill: none; stroke: #1f77b4; stroke-width: 1.5"/>
<path d="M 1594.8 328.32 L 1594.8 326.88" clip-path="url(#p6fe620b129)" style="fill: none; stroke: #1f77b4; stroke-width: 1.5"/>
<path d="M 1597.68 328.32 L 1597.68 326.16" clip-path="url(#p6fe620b129)" style="fill: none; stroke: #1f77b4; stroke-width: 1.5"/>
<path d="M 1599.84 328.32 L 1599.84 326.88" clip-path="url(#p6fe620b129)" style="fill: none; stroke: #1f77b4; stroke-width: 1.5"/>
<path d="M 1602.72 328.32 L 1602.72 326.88" clip-path="url(#p6fe620b129)" style="fill: none; stroke: #1f77b4; stroke-width: 1.5"/>
<path d="M 1605.6 328.32 L 1605.6 327.6" clip-path="url(#p6fe620b129)" style="fill: none; stroke: #1f77b4; stroke-width: 1.5"/>
<path d="M 1607.76 328.32 L 1607.76 326.88" clip-path="url(#p6fe620b129)" style="fill: none; stroke: #1f77b4; stroke-width: 1.5"/>
<path d="M 1610.64 328.32 L 1610.64 326.88" clip-path="url(#p6fe620b129)" style="fill: none; stroke: #1f77b4; stroke-width: 1.5"/>
<path d="M 1612.8 328.32 L 1612.8 327.6" clip-path="url(#p6fe620b129)" style="fill: none; stroke: #1f77b4; stroke-width: 1.5"/>
<path d="M 1615.68 328.32 L 1615.68 327.6" clip-path="url(#p6fe620b129)" style="fill: none; stroke: #1f77b4; stroke-width: 1.5"/>
<path d="M 1618.56 328.32 L 1618.56 326.88" clip-path="url(#p6fe620b129)" style="fill: none; stroke: #1f77b4; stroke-width: 1.5"/>
<path d="M 1620.72 328.32 L 1620.72 326.88" clip-path="url(#p6fe620b129)" style="fill: none; stroke: #1f77b4; stroke-width: 1.5"/>
<path d="M 1623.6 328.32 L 1623.6 327.6" clip-path="url(#p6fe620b129)" style="fill: none; stroke: #1f77b4; stroke-width: 1.5"/>
<path d="M 1625.76 328.32 L 1625.76 327.6" clip-path="url(#p6fe620b129)" style="fill: none; stroke: #1f77b4; stroke-width: 1.5"/>
<path d="M 1628.64 328.32 L 1628.64 327.6" clip-path="url(#p6fe620b129)" style="fill: none; stroke: #1f77b4; stroke-width: 1.5"/>
<path d="M 1631.52 328.32 L 1631.52 327.6" clip-path="url(#p6fe620b129)" style="fill: none; stroke: #1f77b4; stroke-width: 1.5"/>
<path d="M 1633.68 328.32 L 1633.68 327.6" clip-path="url(#p6fe620b129)" style="fill: none; stroke: #1f77b4; stroke-width: 1.5"/>
<path d="M 1636.56 328.32 L 1636.56 326.88" clip-path="url(#p6fe620b129)" style="fill: none; stroke: #1f77b4; stroke-width: 1.5"/>
<path d="M 1638.72 328.32 L 1638.72 327.6" clip-path="url(#p6fe620b129)" style="fill: none; stroke: #1f77b4; stroke-width: 1.5"/>
<path d="M 1641.6 328.32 L 1641.6 326.88" clip-path="url(#p6fe620b129)" style="fill: none; stroke: #1f77b4; stroke-width: 1.5"/>
<path d="M 1644.48 328.32 L 1644.48 327.6" clip-path="url(#p6fe620b129)" style="fill: none; stroke: #1f77b4; stroke-width: 1.5"/>
<path d="M 1646.64 328.32 L 1646.64 326.88" clip-path="url(#p6fe620b129)" style="fill: none; stroke: #1f77b4; stroke-width: 1.5"/>
<path d="M 1649.52 328.32 L 1649.52 327.6" clip-path="url(#p6fe620b129)" style="fill: none; stroke: #1f77b4; stroke-width: 1.5"/>
<path d="M 1651.68 328.32 L 1651.68 327.6" clip-path="url(#p6fe620b129)" style="fill: none; stroke: #1f77b4; stroke-width: 1.5"/>
<path d="M 1654.56 328.32 L 1654.56 326.88" clip-path="url(#p6fe620b129)" style="fill: none; stroke: #1f77b4; stroke-width: 1.5"/>
<path d="M 1657.44 328.32 L 1657.44 327.6" clip-path="url(#p6fe620b129)" style="fill: none; stroke: #1f77b4; stroke-width: 1.5"/>
<path d="M 1659.6 328.32 L 1659.6 327.6" clip-path="url(#p6fe620b129)" style="fill: none; stroke: #1f77b4; stroke-width: 1.5"/>
<path d="M 1662.48 328.32 L 1662.48 328.32" clip-path="url(#p6fe620b129)" style="fill: none; stroke: #1f77b4; stroke-width: 1.5"/>
<path d="M 1664.64 328.32 L 1664.64 328.32" clip-path="url(#p6fe620b129)" style="fill: none; stroke: #1f77b4; stroke-width: 1.5"/>
<path d="M 1667.52 328.32 L 1667.52 327.6" clip-path="url(#p6fe620b129)" style="fill: none; stroke: #1f77b4; stroke-width: 1.5"/>
<path d="M 1670.4 328.32 L 1670.4 327.6" clip-path="url(#p6fe620b129)" style="fill: none; stroke: #1f77b4; stroke-width: 1.5"/>
<path d="M 1672.56 328.32 L 1672.56 327.6" clip-path="url(#p6fe620b129)" style="fill: none; stroke: #1f77b4; stroke-width: 1.5"/>
<path d="M 1675.44 328.32 L 1675.44 328.32" clip-path="url(#p6fe620b129)" style="fill: none; stroke: #1f77b4; stroke-width: 1.5"/>
<path d="M 1677.6 328.32 L 1677.6 327.6" clip-path="url(#p6fe620b129)" style="fill: none; stroke: #1f77b4; stroke-width: 1.5"/>
<path d="M 1680.48 328.32 L 1680.48 327.6" clip-path="url(#p6fe620b129)" style="fill: none; stroke: #1f77b4; stroke-width: 1.5"/>
<path d="M 1683.36 328.32 L 1683.36 327.6" clip-path="url(#p6fe620b129)" style="fill: none; stroke: #1f77b4; stroke-width: 1.5"/>
<path d="M 1685.52 328.32 L 1685.52 328.32" clip-path="url(#p6fe620b129)" style="fill: none; stroke: #1f77b4; stroke-width: 1.5"/>
<path d="M 1688.4 328.32 L 1688.4 327.6" clip-path="url(#p6fe620b129)" style="fill: none; stroke: #1f77b4; stroke-width: 1.5"/>
<path d="M 1690.56 328.32 L 1690.56 328.32" clip-path="url(#p6fe620b129)" style="fill: none; stroke: #1f77b4; stroke-width: 1.5"/>
<path d="M 1693.44 328.32 L 1693.44 327.6" clip-path="url(#p6fe620b129)" style="fill: none; stroke: #1f77b4; stroke-width: 1.5"/>
<path d="M 1696.32 328.32 L 1696.32 327.6" clip-path="url(#p6fe620b129)" style="fill: none; stroke: #1f77b4; stroke-width: 1.5"/>
<path d="M 1698.48 328.32 L 1698.48 328.32" clip-path="url(#p6fe620b129)" style="fill: none; stroke: #1f77b4; stroke-width: 1.5"/>
<path d="M 1701.36 328.32 L 1701.36 328.32" clip-path="url(#p6fe620b129)" style="fill: none; stroke: #1f77b4; stroke-width: 1.5"/>
<path d="M 1703.52 328.32 L 1703.52 327.6" clip-path="url(#p6fe620b129)" style="fill: none; stroke: #1f77b4; stroke-width: 1.5"/>
<path d="M 1706.4 328.32 L 1706.4 328.32" clip-path="url(#p6fe620b129)" style="fill: none; stroke: #1f77b4; stroke-width: 1.5"/>
<path d="M 1709.28 328.32 L 1709.28 328.32" clip-path="url(#p6fe620b129)" style="fill: none; stroke: #1f77b4; stroke-width: 1.5"/>
<path d="M 1711.44 328.32 L 1711.44 327.6" clip-path="url(#p6fe620b129)" style="fill: none; stroke: #1f77b4; stroke-width: 1.5"/>
<path d="M 1714.32 328.32 L 1714.32 327.6" clip-path="url(#p6fe620b129)" style="fill: none; stroke: #1f77b4; stroke-width: 1.5"/>
<path d="M 1716.48 328.32 L 1716.48 327.6" clip-path="url(#p6fe620b129)" style="fill: none; stroke: #1f77b4; stroke-width: 1.5"/>
</g>
<g id="line2d_63">
<defs>
<path id="m3e2bcab6c5" d="M -3 3 L 3 -3 M -3 -3 L 3 3" style="stroke: #008000; stroke-width: 1.25"/>
</defs>
<g clip-path="url(#p6fe620b129)">
<use href="#m3e2bcab6c5" x="1182.884" y="327.863" style="fill: #008000; stroke: #008000; stroke-width: 1.25"/>
<use href="#m3e2bcab6c5" x="1185.476" y="327.912" style="fill: #008000; stroke: #008000; stroke-width: 1.25"/>
<use href="#m3e2bcab6c5" x="1188.067" y="327.945" style="fill: #008000; stroke: #008000; stroke-width: 1.25"/>
<use href="#m3e2bcab6c5" x="1190.659" y="328.122" style="fill: #008000; stroke: #008000; stroke-width: 1.25"/>
<use href="#m3e2bcab6c5" x="1193.250" y="328.196" style="fill: #008000; stroke: #008000; stroke-width: 1.25"/>
<use href="#m3e2bcab6c5" x="1195.842" y="327.831" style="fill: #008000; stroke: #008000; stroke-width: 1.25"/>
<use href="#m3e2bcab6c5" x="1198.434" y="328.180" style="fill: #008000; stroke: #008000; stroke-width: 1.25"/>
<use href="#m3e2bcab6c5" x="1201.025" y="328.179" style="fill: #008000; stroke: #008000; stroke-width: 1.25"/>
<use href="#m3e2bcab6c5" x="1203.617" y="327.865" style="fill: #008000; stroke: #008000; stroke-width: 1.25"/>
<use href="#m3e2bcab6c5" x="1206.208" y="327.490" style="fill: #008000; stroke: #008000; stroke-width: 1.25"/>
<use href="#m3e2bcab6c5" x="1208.800" y="328.161" style="fill: #008000; stroke: #008000; stroke-width: 1.25"/>
<use href="#m3e2bcab6c5" x="1211.392" y="327.798" style="fill: #008000; stroke: #008000; stroke-width: 1.25"/>
<use href="#m3e2bcab6c5" x="1213.983" y="328.135" style="fill: #008000; stroke: #008000; stroke-width: 1.25"/>
<use href="#m3e2bcab6c5" x="1216.575" y="327.460" style="fill: #008000; stroke: #008000; stroke-width: 1.25"/>
<use href="#m3e2bcab6c5" x="1219.166" y="327.733" style="fill: #008000; stroke: #008000; stroke-width: 1.25"/>
<use href="#m3e2bcab6c5" x="1221.758" y="327.285" style="fill: #008000; stroke: #008000; stroke-width: 1.25"/>
<use href="#m3e2bcab6c5" x="1224.350" y="328.024" style="fill: #008000; stroke: #008000; stroke-width: 1.25"/>
<use href="#m3e2bcab6c5" x="1226.941" y="327.674" style="fill: #008000; stroke: #008000; stroke-width: 1.25"/>
<use href="#m3e2bcab6c5" x="1229.533" y="327.861" style="fill: #008000; stroke: #008000; stroke-width: 1.25"/>
<use href="#m3e2bcab6c5" x="1232.124" y="327.421" style="fill: #008000; stroke: #008000; stroke-width: 1.25"/>
<use href="#m3e2bcab6c5" x="1234.716" y="328.082" style="fill: #008000; stroke: #008000; stroke-width: 1.25"/>
<use href="#m3e2bcab6c5" x="1237.308" y="328.083" style="fill: #008000; stroke: #008000; stroke-width: 1.25"/>
<use href="#m3e2bcab6c5" x="1239.899" y="327.259" style="fill: #008000; stroke: #008000; stroke-width: 1.25"/>
<use href="#m3e2bcab6c5" x="1242.491" y="327.382" style="fill: #008000; stroke: #008000; stroke-width: 1.25"/>
<use href="#m3e2bcab6c5" x="1245.083" y="327.098" style="fill: #008000; stroke: #008000; stroke-width: 1.25"/>
<use href="#m3e2bcab6c5" x="1247.674" y="327.724" style="fill: #008000; stroke: #008000; stroke-width: 1.25"/>
<use href="#m3e2bcab6c5" x="1250.266" y="327.262" style="fill: #008000; stroke: #008000; stroke-width: 1.25"/>
<use href="#m3e2bcab6c5" x="1252.857" y="327.000" style="fill: #008000; stroke: #008000; stroke-width: 1.25"/>
<use href="#m3e2bcab6c5" x="1255.449" y="327.805" style="fill: #008000; stroke: #008000; stroke-width: 1.25"/>
<use href="#m3e2bcab6c5" x="1258.041" y="327.164" style="fill: #008000; stroke: #008000; stroke-width: 1.25"/>
<use href="#m3e2bcab6c5" x="1260.632" y="327.421" style="fill: #008000; stroke: #008000; stroke-width: 1.25"/>
<use href="#m3e2bcab6c5" x="1263.224" y="327.041" style="fill: #008000; stroke: #008000; stroke-width: 1.25"/>
<use href="#m3e2bcab6c5" x="1265.815" y="327.912" style="fill: #008000; stroke: #008000; stroke-width: 1.25"/>
<use href="#m3e2bcab6c5" x="1268.407" y="327.353" style="fill: #008000; stroke: #008000; stroke-width: 1.25"/>
<use href="#m3e2bcab6c5" x="1270.999" y="327.467" style="fill: #008000; stroke: #008000; stroke-width: 1.25"/>
<use href="#m3e2bcab6c5" x="1273.590" y="327.641" style="fill: #008000; stroke: #008000; stroke-width: 1.25"/>
<use href="#m3e2bcab6c5" x="1276.182" y="327.578" style="fill: #008000; stroke: #008000; stroke-width: 1.25"/>
<use href="#m3e2bcab6c5" x="1278.773" y="326.858" style="fill: #008000; stroke: #008000; stroke-width: 1.25"/>
<use href="#m3e2bcab6c5" x="1281.365" y="326.850" style="fill: #008000; stroke: #008000; stroke-width: 1.25"/>
<use href="#m3e2bcab6c5" x="1283.957" y="327.659" style="fill: #008000; stroke: #008000; stroke-width: 1.25"/>
<use href="#m3e2bcab6c5" x="1286.548" y="327.814" style="fill: #008000; stroke: #008000; stroke-width: 1.25"/>
<use href="#m3e2bcab6c5" x="1289.140" y="326.702" style="fill: #008000; stroke: #008000; stroke-width: 1.25"/>
<use href="#m3e2bcab6c5" x="1291.731" y="326.725" style="fill: #008000; stroke: #008000; stroke-width: 1.25"/>
<use href="#m3e2bcab6c5" x="1294.323" y="327.488" style="fill: #008000; stroke: #008000; stroke-width: 1.25"/>
<use href="#m3e2bcab6c5" x="1296.915" y="327.180" style="fill: #008000; stroke: #008000; stroke-width: 1.25"/>
<use href="#m3e2bcab6c5" x="1299.506" y="326.830" style="fill: #008000; stroke: #008000; stroke-width: 1.25"/>
<use href="#m3e2bcab6c5" x="1302.098" y="326.392" style="fill: #008000; stroke: #008000; stroke-width: 1.25"/>
<use href="#m3e2bcab6c5" x="1304.689" y="326.568" style="fill: #008000; stroke: #008000; stroke-width: 1.25"/>
<use href="#m3e2bcab6c5" x="1307.281" y="327.462" style="fill: #008000; stroke: #008000; stroke-width: 1.25"/>
<use href="#m3e2bcab6c5" x="1309.873" y="327.500" style="fill: #008000; stroke: #008000; stroke-width: 1.25"/>
<use href="#m3e2bcab6c5" x="1312.464" y="327.214" style="fill: #008000; stroke: #008000; stroke-width: 1.25"/>
<use href="#m3e2bcab6c5" x="1315.056" y="326.187" style="fill: #008000; stroke: #008000; stroke-width: 1.25"/>
<use href="#m3e2bcab6c5" x="1317.648" y="326.437" style="fill: #008000; stroke: #008000; stroke-width: 1.25"/>
<use href="#m3e2bcab6c5" x="1320.239" y="326.261" style="fill: #008000; stroke: #008000; stroke-width: 1.25"/>
<use href="#m3e2bcab6c5" x="1322.831" y="327.491" style="fill: #008000; stroke: #008000; stroke-width: 1.25"/>
<use href="#m3e2bcab6c5" x="1325.422" y="326.186" style="fill: #008000; stroke: #008000; stroke-width: 1.25"/>
<use href="#m3e2bcab6c5" x="1328.014" y="326.971" style="fill: #008000; stroke: #008000; stroke-width: 1.25"/>
<use href="#m3e2bcab6c5" x="1330.606" y="327.138" style="fill: #008000; stroke: #008000; stroke-width: 1.25"/>
<use href="#m3e2bcab6c5" x="1333.197" y="327.438" style="fill: #008000; stroke: #008000; stroke-width: 1.25"/>
<use href="#m3e2bcab6c5" x="1335.789" y="326.303" style="fill: #008000; stroke: #008000; stroke-width: 1.25"/>
<use href="#m3e2bcab6c5" x="1338.380" y="326.974" style="fill: #008000; stroke: #008000; stroke-width: 1.25"/>
<use href="#m3e2bcab6c5" x="1340.972" y="324.770" style="fill: #008000; stroke: #008000; stroke-width: 1.25"/>
<use href="#m3e2bcab6c5" x="1343.564" y="320.907" style="fill: #008000; stroke: #008000; stroke-width: 1.25"/>
<use href="#m3e2bcab6c5" x="1346.155" y="324.770" style="fill: #008000; stroke: #008000; stroke-width: 1.25"/>
<use href="#m3e2bcab6c5" x="1348.747" y="322.839" style="fill: #008000; stroke: #008000; stroke-width: 1.25"/>
<use href="#m3e2bcab6c5" x="1351.338" y="324.770" style="fill: #008000; stroke: #008000; stroke-width: 1.25"/>
<use href="#m3e2bcab6c5" x="1353.930" y="320.907" style="fill: #008000; stroke: #008000; stroke-width: 1.25"/>
<use href="#m3e2bcab6c5" x="1356.522" y="322.839" style="fill: #008000; stroke: #008000; stroke-width: 1.25"/>
<use href="#m3e2bcab6c5" x="1359.113" y="317.044" style="fill: #008000; stroke: #008000; stroke-width: 1.25"/>
<use href="#m3e2bcab6c5" x="1361.705" y="324.770" style="fill: #008000; stroke: #008000; stroke-width: 1.25"/>
<use href="#m3e2bcab6c5" x="1364.296" y="317.044" style="fill: #008000; stroke: #008000; stroke-width: 1.25"/>
<use href="#m3e2bcab6c5" x="1366.888" y="316.078" style="fill: #008000; stroke: #008000; stroke-width: 1.25"/>
<use href="#m3e2bcab6c5" x="1369.480" y="314.147" style="fill: #008000; stroke: #008000; stroke-width: 1.25"/>
<use href="#m3e2bcab6c5" x="1372.071" y="298.695" style="fill: #008000; stroke: #008000; stroke-width: 1.25"/>
<use href="#m3e2bcab6c5" x="1374.663" y="282.277" style="fill: #008000; stroke: #008000; stroke-width: 1.25"/>
<use href="#m3e2bcab6c5" x="1377.254" y="228.678" style="fill: #008000; stroke: #008000; stroke-width: 1.25"/>
<use href="#m3e2bcab6c5" x="1379.846" y="182.226" style="fill: #008000; stroke: #008000; stroke-width: 1.25"/>
<use href="#m3e2bcab6c5" x="1382.438" y="210.039" style="fill: #008000; stroke: #008000; stroke-width: 1.25"/>
<use href="#m3e2bcab6c5" x="1385.029" y="269.722" style="fill: #008000; stroke: #008000; stroke-width: 1.25"/>
<use href="#m3e2bcab6c5" x="1387.621" y="271.654" style="fill: #008000; stroke: #008000; stroke-width: 1.25"/>
<use href="#m3e2bcab6c5" x="1390.213" y="320.907" style="fill: #008000; stroke: #008000; stroke-width: 1.25"/>
<use href="#m3e2bcab6c5" x="1392.804" y="292.900" style="fill: #008000; stroke: #008000; stroke-width: 1.25"/>
<use href="#m3e2bcab6c5" x="1395.396" y="309.318" style="fill: #008000; stroke: #008000; stroke-width: 1.25"/>
<use href="#m3e2bcab6c5" x="1397.987" y="311.250" style="fill: #008000; stroke: #008000; stroke-width: 1.25"/>
<use href="#m3e2bcab6c5" x="1400.579" y="317.044" style="fill: #008000; stroke: #008000; stroke-width: 1.25"/>
<use href="#m3e2bcab6c5" x="1403.171" y="293.383" style="fill: #008000; stroke: #008000; stroke-width: 1.25"/>
<use href="#m3e2bcab6c5" x="1405.762" y="317.044" style="fill: #008000; stroke: #008000; stroke-width: 1.25"/>
<use href="#m3e2bcab6c5" x="1408.354" y="297.729" style="fill: #008000; stroke: #008000; stroke-width: 1.25"/>
<use href="#m3e2bcab6c5" x="1410.945" y="302.558" style="fill: #008000; stroke: #008000; stroke-width: 1.25"/>
<use href="#m3e2bcab6c5" x="1413.537" y="315.113" style="fill: #008000; stroke: #008000; stroke-width: 1.25"/>
<use href="#m3e2bcab6c5" x="1416.129" y="281.794" style="fill: #008000; stroke: #008000; stroke-width: 1.25"/>
<use href="#m3e2bcab6c5" x="1418.720" y="292.418" style="fill: #008000; stroke: #008000; stroke-width: 1.25"/>
<use href="#m3e2bcab6c5" x="1421.312" y="298.695" style="fill: #008000; stroke: #008000; stroke-width: 1.25"/>
<use href="#m3e2bcab6c5" x="1423.903" y="217.958" style="fill: #008000; stroke: #008000; stroke-width: 1.25"/>
<use href="#m3e2bcab6c5" x="1426.495" y="166.677" style="fill: #008000; stroke: #008000; stroke-width: 1.25"/>
<use href="#m3e2bcab6c5" x="1429.087" y="187.634" style="fill: #008000; stroke: #008000; stroke-width: 1.25"/>
<use href="#m3e2bcab6c5" x="1431.678" y="246.545" style="fill: #008000; stroke: #008000; stroke-width: 1.25"/>
<use href="#m3e2bcab6c5" x="1434.270" y="313.181" style="fill: #008000; stroke: #008000; stroke-width: 1.25"/>
<use href="#m3e2bcab6c5" x="1436.861" y="301.013" style="fill: #008000; stroke: #008000; stroke-width: 1.25"/>
<use href="#m3e2bcab6c5" x="1439.453" y="310.670" style="fill: #008000; stroke: #008000; stroke-width: 1.25"/>
<use href="#m3e2bcab6c5" x="1442.045" y="320.907" style="fill: #008000; stroke: #008000; stroke-width: 1.25"/>
<use href="#m3e2bcab6c5" x="1444.636" y="319.941" style="fill: #008000; stroke: #008000; stroke-width: 1.25"/>
<use href="#m3e2bcab6c5" x="1447.228" y="319.941" style="fill: #008000; stroke: #008000; stroke-width: 1.25"/>
<use href="#m3e2bcab6c5" x="1449.820" y="319.941" style="fill: #008000; stroke: #008000; stroke-width: 1.25"/>
<use href="#m3e2bcab6c5" x="1452.411" y="319.941" style="fill: #008000; stroke: #008000; stroke-width: 1.25"/>
<use href="#m3e2bcab6c5" x="1455.003" y="319.941" style="fill: #008000; stroke: #008000; stroke-width: 1.25"/>
<use href="#m3e2bcab6c5" x="1457.594" y="320.907" style="fill: #008000; stroke: #008000; stroke-width: 1.25"/>
<use href="#m3e2bcab6c5" x="1460.186" y="310.670" style="fill: #008000; stroke: #008000; stroke-width: 1.25"/>
<use href="#m3e2bcab6c5" x="1462.778" y="301.013" style="fill: #008000; stroke: #008000; stroke-width: 1.25"/>
<use href="#m3e2bcab6c5" x="1465.369" y="313.181" style="fill: #008000; stroke: #008000; stroke-width: 1.25"/>
<use href="#m3e2bcab6c5" x="1467.961" y="246.545" style="fill: #008000; stroke: #008000; stroke-width: 1.25"/>
<use href="#m3e2bcab6c5" x="1470.552" y="187.634" style="fill: #008000; stroke: #008000; stroke-width: 1.25"/>
<use href="#m3e2bcab6c5" x="1473.144" y="166.677" style="fill: #008000; stroke: #008000; stroke-width: 1.25"/>
<use href="#m3e2bcab6c5" x="1475.736" y="217.958" style="fill: #008000; stroke: #008000; stroke-width: 1.25"/>
<use href="#m3e2bcab6c5" x="1478.327" y="298.695" style="fill: #008000; stroke: #008000; stroke-width: 1.25"/>
<use href="#m3e2bcab6c5" x="1480.919" y="292.418" style="fill: #008000; stroke: #008000; stroke-width: 1.25"/>
<use href="#m3e2bcab6c5" x="1483.510" y="281.794" style="fill: #008000; stroke: #008000; stroke-width: 1.25"/>
<use href="#m3e2bcab6c5" x="1486.102" y="315.113" style="fill: #008000; stroke: #008000; stroke-width: 1.25"/>
<use href="#m3e2bcab6c5" x="1488.694" y="302.558" style="fill: #008000; stroke: #008000; stroke-width: 1.25"/>
<use href="#m3e2bcab6c5" x="1491.285" y="297.729" style="fill: #008000; stroke: #008000; stroke-width: 1.25"/>
<use href="#m3e2bcab6c5" x="1493.877" y="317.044" style="fill: #008000; stroke: #008000; stroke-width: 1.25"/>
<use href="#m3e2bcab6c5" x="1496.468" y="293.383" style="fill: #008000; stroke: #008000; stroke-width: 1.25"/>
<use href="#m3e2bcab6c5" x="1499.060" y="317.044" style="fill: #008000; stroke: #008000; stroke-width: 1.25"/>
<use href="#m3e2bcab6c5" x="1501.652" y="311.250" style="fill: #008000; stroke: #008000; stroke-width: 1.25"/>
<use href="#m3e2bcab6c5" x="1504.243" y="309.318" style="fill: #008000; stroke: #008000; stroke-width: 1.25"/>
<use href="#m3e2bcab6c5" x="1506.835" y="292.900" style="fill: #008000; stroke: #008000; stroke-width: 1.25"/>
<use href="#m3e2bcab6c5" x="1509.426" y="320.907" style="fill: #008000; stroke: #008000; stroke-width: 1.25"/>
<use href="#m3e2bcab6c5" x="1512.018" y="271.654" style="fill: #008000; stroke: #008000; stroke-width: 1.25"/>
<use href="#m3e2bcab6c5" x="1514.610" y="269.722" style="fill: #008000; stroke: #008000; stroke-width: 1.25"/>
<use href="#m3e2bcab6c5" x="1517.201" y="210.039" style="fill: #008000; stroke: #008000; stroke-width: 1.25"/>
<use href="#m3e2bcab6c5" x="1519.793" y="182.226" style="fill: #008000; stroke: #008000; stroke-width: 1.25"/>
<use href="#m3e2bcab6c5" x="1522.385" y="228.678" style="fill: #008000; stroke: #008000; stroke-width: 1.25"/>
<use href="#m3e2bcab6c5" x="1524.976" y="282.277" style="fill: #008000; stroke: #008000; stroke-width: 1.25"/>
<use href="#m3e2bcab6c5" x="1527.568" y="298.695" style="fill: #008000; stroke: #008000; stroke-width: 1.25"/>
<use href="#m3e2bcab6c5" x="1530.159" y="314.147" style="fill: #008000; stroke: #008000; stroke-width: 1.25"/>
<use href="#m3e2bcab6c5" x="1532.751" y="316.078" style="fill: #008000; stroke: #008000; stroke-width: 1.25"/>
<use href="#m3e2bcab6c5" x="1535.343" y="317.044" style="fill: #008000; stroke: #008000; stroke-width: 1.25"/>
<use href="#m3e2bcab6c5" x="1537.934" y="324.770" style="fill: #008000; stroke: #008000; stroke-width: 1.25"/>
<use href="#m3e2bcab6c5" x="1540.526" y="317.044" style="fill: #008000; stroke: #008000; stroke-width: 1.25"/>
<use href="#m3e2bcab6c5" x="1543.117" y="322.839" style="fill: #008000; stroke: #008000; stroke-width: 1.25"/>
<use href="#m3e2bcab6c5" x="1545.709" y="320.907" style="fill: #008000; stroke: #008000; stroke-width: 1.25"/>
<use href="#m3e2bcab6c5" x="1548.301" y="324.770" style="fill: #008000; stroke: #008000; stroke-width: 1.25"/>
<use href="#m3e2bcab6c5" x="1550.892" y="322.839" style="fill: #008000; stroke: #008000; stroke-width: 1.25"/>
<use href="#m3e2bcab6c5" x="1553.484" y="324.770" style="fill: #008000; stroke: #008000; stroke-width: 1.25"/>
<use href="#m3e2bcab6c5" x="1556.075" y="320.907" style="fill: #008000; stroke: #008000; stroke-width: 1.25"/>
<use href="#m3e2bcab6c5" x="1558.667" y="324.770" style="fill: #008000; stroke: #008000; stroke-width: 1.25"/>
<use href="#m3e2bcab6c5" x="1561.259" y="326.974" style="fill: #008000; stroke: #008000; stroke-width: 1.25"/>
<use href="#m3e2bcab6c5" x="1563.850" y="326.303" style="fill: #008000; stroke: #008000; stroke-width: 1.25"/>
<use href="#m3e2bcab6c5" x="1566.442" y="327.438" style="fill: #008000; stroke: #008000; stroke-width: 1.25"/>
<use href="#m3e2bcab6c5" x="1569.033" y="327.138" style="fill: #008000; stroke: #008000; stroke-width: 1.25"/>
<use href="#m3e2bcab6c5" x="1571.625" y="326.971" style="fill: #008000; stroke: #008000; stroke-width: 1.25"/>
<use href="#m3e2bcab6c5" x="1574.217" y="326.186" style="fill: #008000; stroke: #008000; stroke-width: 1.25"/>
<use href="#m3e2bcab6c5" x="1576.808" y="327.491" style="fill: #008000; stroke: #008000; stroke-width: 1.25"/>
<use href="#m3e2bcab6c5" x="1579.400" y="326.261" style="fill: #008000; stroke: #008000; stroke-width: 1.25"/>
<use href="#m3e2bcab6c5" x="1581.991" y="326.437" style="fill: #008000; stroke: #008000; stroke-width: 1.25"/>
<use href="#m3e2bcab6c5" x="1584.583" y="326.187" style="fill: #008000; stroke: #008000; stroke-width: 1.25"/>
<use href="#m3e2bcab6c5" x="1587.175" y="327.214" style="fill: #008000; stroke: #008000; stroke-width: 1.25"/>
<use href="#m3e2bcab6c5" x="1589.766" y="327.500" style="fill: #008000; stroke: #008000; stroke-width: 1.25"/>
<use href="#m3e2bcab6c5" x="1592.358" y="327.462" style="fill: #008000; stroke: #008000; stroke-width: 1.25"/>
<use href="#m3e2bcab6c5" x="1594.950" y="326.568" style="fill: #008000; stroke: #008000; stroke-width: 1.25"/>
<use href="#m3e2bcab6c5" x="1597.541" y="326.392" style="fill: #008000; stroke: #008000; stroke-width: 1.25"/>
<use href="#m3e2bcab6c5" x="1600.133" y="326.830" style="fill: #008000; stroke: #008000; stroke-width: 1.25"/>
<use href="#m3e2bcab6c5" x="1602.724" y="327.180" style="fill: #008000; stroke: #008000; stroke-width: 1.25"/>
<use href="#m3e2bcab6c5" x="1605.316" y="327.488" style="fill: #008000; stroke: #008000; stroke-width: 1.25"/>
<use href="#m3e2bcab6c5" x="1607.908" y="326.725" style="fill: #008000; stroke: #008000; stroke-width: 1.25"/>
<use href="#m3e2bcab6c5" x="1610.499" y="326.702" style="fill: #008000; stroke: #008000; stroke-width: 1.25"/>
<use href="#m3e2bcab6c5" x="1613.091" y="327.814" style="fill: #008000; stroke: #008000; stroke-width: 1.25"/>
<use href="#m3e2bcab6c5" x="1615.682" y="327.659" style="fill: #008000; stroke: #008000; stroke-width: 1.25"/>
<use href="#m3e2bcab6c5" x="1618.274" y="326.850" style="fill: #008000; stroke: #008000; stroke-width: 1.25"/>
<use href="#m3e2bcab6c5" x="1620.866" y="326.858" style="fill: #008000; stroke: #008000; stroke-width: 1.25"/>
<use href="#m3e2bcab6c5" x="1623.457" y="327.578" style="fill: #008000; stroke: #008000; stroke-width: 1.25"/>
<use href="#m3e2bcab6c5" x="1626.049" y="327.641" style="fill: #008000; stroke: #008000; stroke-width: 1.25"/>
<use href="#m3e2bcab6c5" x="1628.640" y="327.467" style="fill: #008000; stroke: #008000; stroke-width: 1.25"/>
<use href="#m3e2bcab6c5" x="1631.232" y="327.353" style="fill: #008000; stroke: #008000; stroke-width: 1.25"/>
<use href="#m3e2bcab6c5" x="1633.824" y="327.912" style="fill: #008000; stroke: #008000; stroke-width: 1.25"/>
<use href="#m3e2bcab6c5" x="1636.415" y="327.041" style="fill: #008000; stroke: #008000; stroke-width: 1.25"/>
<use href="#m3e2bcab6c5" x="1639.007" y="327.421" style="fill: #008000; stroke: #008000; stroke-width: 1.25"/>
<use href="#m3e2bcab6c5" x="1641.598" y="327.164" style="fill: #008000; stroke: #008000; stroke-width: 1.25"/>
<use href="#m3e2bcab6c5" x="1644.190" y="327.805" style="fill: #008000; stroke: #008000; stroke-width: 1.25"/>
<use href="#m3e2bcab6c5" x="1646.782" y="327.000" style="fill: #008000; stroke: #008000; stroke-width: 1.25"/>
<use href="#m3e2bcab6c5" x="1649.373" y="327.262" style="fill: #008000; stroke: #008000; stroke-width: 1.25"/>
<use href="#m3e2bcab6c5" x="1651.965" y="327.724" style="fill: #008000; stroke: #008000; stroke-width: 1.25"/>
<use href="#m3e2bcab6c5" x="1654.557" y="327.098" style="fill: #008000; stroke: #008000; stroke-width: 1.25"/>
<use href="#m3e2bcab6c5" x="1657.148" y="327.382" style="fill: #008000; stroke: #008000; stroke-width: 1.25"/>
<use href="#m3e2bcab6c5" x="1659.740" y="327.259" style="fill: #008000; stroke: #008000; stroke-width: 1.25"/>
<use href="#m3e2bcab6c5" x="1662.331" y="328.083" style="fill: #008000; stroke: #008000; stroke-width: 1.25"/>
<use href="#m3e2bcab6c5" x="1664.923" y="328.082" style="fill: #008000; stroke: #008000; stroke-width: 1.25"/>
<use href="#m3e2bcab6c5" x="1667.515" y="327.421" style="fill: #008000; stroke: #008000; stroke-width: 1.25"/>
<use href="#m3e2bcab6c5" x="1670.106" y="327.861" style="fill: #008000; stroke: #008000; stroke-width: 1.25"/>
<use href="#m3e2bcab6c5" x="1672.698" y="327.674" style="fill: #008000; stroke: #008000; stroke-width: 1.25"/>
<use href="#m3e2bcab6c5" x="1675.289" y="328.024" style="fill: #008000; stroke: #008000; stroke-width: 1.25"/>
<use href="#m3e2bcab6c5" x="1677.881" y="327.285" style="fill: #008000; stroke: #008000; stroke-width: 1.25"/>
<use href="#m3e2bcab6c5" x="1680.473" y="327.733" style="fill: #008000; stroke: #008000; stroke-width: 1.25"/>
<use href="#m3e2bcab6c5" x="1683.064" y="327.460" style="fill: #008000; stroke: #008000; stroke-width: 1.25"/>
<use href="#m3e2bcab6c5" x="1685.656" y="328.135" style="fill: #008000; stroke: #008000; stroke-width: 1.25"/>
<use href="#m3e2bcab6c5" x="1688.247" y="327.798" style="fill: #008000; stroke: #008000; stroke-width: 1.25"/>
<use href="#m3e2bcab6c5" x="1690.839" y="328.161" style="fill: #008000; stroke: #008000; stroke-width: 1.25"/>
<use href="#m3e2bcab6c5" x="1693.431" y="327.490" style="fill: #008000; stroke: #008000; stroke-width: 1.25"/>
<use href="#m3e2bcab6c5" x="1696.022" y="327.865" style="fill: #008000; stroke: #008000; stroke-width: 1.25"/>
<use href="#m3e2bcab6c5" x="1698.614" y="328.179" style="fill: #008000; stroke: #008000; stroke-width: 1.25"/>
<use href="#m3e2bcab6c5" x="1701.205" y="328.180" style="fill: #008000; stroke: #008000; stroke-width: 1.25"/>
<use href="#m3e2bcab6c5" x="1703.797" y="327.831" style="fill: #008000; stroke: #008000; stroke-width: 1.25"/>
<use href="#m3e2bcab6c5" x="1706.389" y="328.196" style="fill: #008000; stroke: #008000; stroke-width: 1.25"/>
<use href="#m3e2bcab6c5" x="1708.980" y="328.122" style="fill: #008000; stroke: #008000; stroke-width: 1.25"/>
<use href="#m3e2bcab6c5" x="1711.572" y="327.945" style="fill: #008000; stroke: #008000; stroke-width: 1.25"/>
<use href="#m3e2bcab6c5" x="1714.163" y="327.912" style="fill: #008000; stroke: #008000; stroke-width: 1.25"/>
<use href="#m3e2bcab6c5" x="1716.755" y="327.863" style="fill: #008000; stroke: #008000; stroke-width: 1.25"/>
</g>
</g>
<g id="line2d_64">
<path d="M 1182.96 328.32 L 1716.48 328.32" clip-path="url(#p6fe620b129)" style="fill: none; stroke: #000000; stroke-width: 1.5; stroke-linecap: square"/>
</g>
<g id="LineCollection_3">
<path d="M 1182.96 328.32 L 1182.96 323.28" clip-path="url(#p6fe620b129)" style="fill: none; stroke: #1f77b4; stroke-width: 1.5"/>
<path d="M 1185.12 328.32 L 1185.12 324" clip-path="url(#p6fe620b129)" style="fill: none; stroke: #1f77b4; stroke-width: 1.5"/>
<path d="M 1188 328.32 L 1188 324" clip-path="url(#p6fe620b129)" style="fill: none; stroke: #1f77b4; stroke-width: 1.5"/>
<path d="M 1190.88 328.32 L 1190.88 326.88" clip-path="url(#p6fe620b129)" style="fill: none; stroke: #1f77b4; stroke-width: 1.5"/>
<path d="M 1193.04 328.32 L 1193.04 321.12" clip-path="url(#p6fe620b129)" style="fill: none; stroke: #1f77b4; stroke-width: 1.5"/>
<path d="M 1195.92 328.32 L 1195.92 318.96" clip-path="url(#p6fe620b129)" style="fill: none; stroke: #1f77b4; stroke-width: 1.5"/>
<path d="M 1198.08 328.32 L 1198.08 319.68" clip-path="url(#p6fe620b129)" style="fill: none; stroke: #1f77b4; stroke-width: 1.5"/>
<path d="M 1200.96 328.32 L 1200.96 318.96" clip-path="url(#p6fe620b129)" style="fill: none; stroke: #1f77b4; stroke-width: 1.5"/>
<path d="M 1203.84 328.32 L 1203.84 321.84" clip-path="url(#p6fe620b129)" style="fill: none; stroke: #1f77b4; stroke-width: 1.5"/>
<path d="M 1206 328.32 L 1206 324.72" clip-path="url(#p6fe620b129)" style="fill: none; stroke: #1f77b4; stroke-width: 1.5"/>
<path d="M 1208.88 328.32 L 1208.88 324" clip-path="url(#p6fe620b129)" style="fill: none; stroke: #1f77b4; stroke-width: 1.5"/>
<path d="M 1211.04 328.32 L 1211.04 323.28" clip-path="url(#p6fe620b129)" style="fill: none; stroke: #1f77b4; stroke-width: 1.5"/>
<path d="M 1213.92 328.32 L 1213.92 325.44" clip-path="url(#p6fe620b129)" style="fill: none; stroke: #1f77b4; stroke-width: 1.5"/>
<path d="M 1216.8 328.32 L 1216.8 324" clip-path="url(#p6fe620b129)" style="fill: none; stroke: #1f77b4; stroke-width: 1.5"/>
<path d="M 1218.96 328.32 L 1218.96 323.28" clip-path="url(#p6fe620b129)" style="fill: none; stroke: #1f77b4; stroke-width: 1.5"/>
<path d="M 1221.84 328.32 L 1221.84 323.28" clip-path="url(#p6fe620b129)" style="fill: none; stroke: #1f77b4; stroke-width: 1.5"/>
<path d="M 1224 328.32 L 1224 326.16" clip-path="url(#p6fe620b129)" style="fill: none; stroke: #1f77b4; stroke-width: 1.5"/>
<path d="M 1226.88 328.32 L 1226.88 324" clip-path="url(#p6fe620b129)" style="fill: none; stroke: #1f77b4; stroke-width: 1.5"/>
<path d="M 1229.76 328.32 L 1229.76 324.72" clip-path="url(#p6fe620b129)" style="fill: none; stroke: #1f77b4; stroke-width: 1.5"/>
<path d="M 1231.92 328.32 L 1231.92 324" clip-path="url(#p6fe620b129)" style="fill: none; stroke: #1f77b4; stroke-width: 1.5"/>
<path d="M 1234.8 328.32 L 1234.8 323.28" clip-path="url(#p6fe620b129)" style="fill: none; stroke: #1f77b4; stroke-width: 1.5"/>
<path d="M 1236.96 328.32 L 1236.96 326.88" clip-path="url(#p6fe620b129)" style="fill: none; stroke: #1f77b4; stroke-width: 1.5"/>
<path d="M 1239.84 328.32 L 1239.84 324.72" clip-path="url(#p6fe620b129)" style="fill: none; stroke: #1f77b4; stroke-width: 1.5"/>
<path d="M 1242.72 328.32 L 1242.72 326.88" clip-path="url(#p6fe620b129)" style="fill: none; stroke: #1f77b4; stroke-width: 1.5"/>
<path d="M 1244.88 328.32 L 1244.88 321.12" clip-path="url(#p6fe620b129)" style="fill: none; stroke: #1f77b4; stroke-width: 1.5"/>
<path d="M 1247.76 328.32 L 1247.76 318.96" clip-path="url(#p6fe620b129)" style="fill: none; stroke: #1f77b4; stroke-width: 1.5"/>
<path d="M 1249.92 328.32 L 1249.92 319.68" clip-path="url(#p6fe620b129)" style="fill: none; stroke: #1f77b4; stroke-width: 1.5"/>
<path d="M 1252.8 328.32 L 1252.8 321.84" clip-path="url(#p6fe620b129)" style="fill: none; stroke: #1f77b4; stroke-width: 1.5"/>
<path d="M 1255.68 328.32 L 1255.68 326.88" clip-path="url(#p6fe620b129)" style="fill: none; stroke: #1f77b4; stroke-width: 1.5"/>
<path d="M 1257.84 328.32 L 1257.84 324.72" clip-path="url(#p6fe620b129)" style="fill: none; stroke: #1f77b4; stroke-width: 1.5"/>
<path d="M 1260.72 328.32 L 1260.72 325.44" clip-path="url(#p6fe620b129)" style="fill: none; stroke: #1f77b4; stroke-width: 1.5"/>
<path d="M 1262.88 328.32 L 1262.88 324" clip-path="url(#p6fe620b129)" style="fill: none; stroke: #1f77b4; stroke-width: 1.5"/>
<path d="M 1265.76 328.32 L 1265.76 324.72" clip-path="url(#p6fe620b129)" style="fill: none; stroke: #1f77b4; stroke-width: 1.5"/>
<path d="M 1268.64 328.32 L 1268.64 324" clip-path="url(#p6fe620b129)" style="fill: none; stroke: #1f77b4; stroke-width: 1.5"/>
<path d="M 1270.8 328.32 L 1270.8 326.16" clip-path="url(#p6fe620b129)" style="fill: none; stroke: #1f77b4; stroke-width: 1.5"/>
<path d="M 1273.68 328.32 L 1273.68 323.28" clip-path="url(#p6fe620b129)" style="fill: none; stroke: #1f77b4; stroke-width: 1.5"/>
<path d="M 1275.84 328.32 L 1275.84 326.16" clip-path="url(#p6fe620b129)" style="fill: none; stroke: #1f77b4; stroke-width: 1.5"/>
<path d="M 1278.72 328.32 L 1278.72 326.88" clip-path="url(#p6fe620b129)" style="fill: none; stroke: #1f77b4; stroke-width: 1.5"/>
<path d="M 1281.6 328.32 L 1281.6 325.44" clip-path="url(#p6fe620b129)" style="fill: none; stroke: #1f77b4; stroke-width: 1.5"/>
<path d="M 1283.76 328.32 L 1283.76 326.16" clip-path="url(#p6fe620b129)" style="fill: none; stroke: #1f77b4; stroke-width: 1.5"/>
<path d="M 1286.64 328.32 L 1286.64 322.56" clip-path="url(#p6fe620b129)" style="fill: none; stroke: #1f77b4; stroke-width: 1.5"/>
<path d="M 1288.8 328.32 L 1288.8 318.24" clip-path="url(#p6fe620b129)" style="fill: none; stroke: #1f77b4; stroke-width: 1.5"/>
<path d="M 1291.68 328.32 L 1291.68 319.68" clip-path="url(#p6fe620b129)" style="fill: none; stroke: #1f77b4; stroke-width: 1.5"/>
<path d="M 1294.56 328.32 L 1294.56 318.24" clip-path="url(#p6fe620b129)" style="fill: none; stroke: #1f77b4; stroke-width: 1.5"/>
<path d="M 1296.72 328.32 L 1296.72 321.84" clip-path="url(#p6fe620b129)" style="fill: none; stroke: #1f77b4; stroke-width: 1.5"/>
<path d="M 1299.6 328.32 L 1299.6 324" clip-path="url(#p6fe620b129)" style="fill: none; stroke: #1f77b4; stroke-width: 1.5"/>
<path d="M 1301.76 328.32 L 1301.76 324" clip-path="url(#p6fe620b129)" style="fill: none; stroke: #1f77b4; stroke-width: 1.5"/>
<path d="M 1304.64 328.32 L 1304.64 324" clip-path="url(#p6fe620b129)" style="fill: none; stroke: #1f77b4; stroke-width: 1.5"/>
<path d="M 1307.52 328.32 L 1307.52 325.44" clip-path="url(#p6fe620b129)" style="fill: none; stroke: #1f77b4; stroke-width: 1.5"/>
<path d="M 1309.68 328.32 L 1309.68 325.44" clip-path="url(#p6fe620b129)" style="fill: none; stroke: #1f77b4; stroke-width: 1.5"/>
<path d="M 1312.56 328.32 L 1312.56 326.88" clip-path="url(#p6fe620b129)" style="fill: none; stroke: #1f77b4; stroke-width: 1.5"/>
<path d="M 1314.72 328.32 L 1314.72 325.44" clip-path="url(#p6fe620b129)" style="fill: none; stroke: #1f77b4; stroke-width: 1.5"/>
<path d="M 1317.6 328.32 L 1317.6 326.88" clip-path="url(#p6fe620b129)" style="fill: none; stroke: #1f77b4; stroke-width: 1.5"/>
<path d="M 1320.48 328.32 L 1320.48 326.88" clip-path="url(#p6fe620b129)" style="fill: none; stroke: #1f77b4; stroke-width: 1.5"/>
<path d="M 1322.64 328.32 L 1322.64 325.44" clip-path="url(#p6fe620b129)" style="fill: none; stroke: #1f77b4; stroke-width: 1.5"/>
<path d="M 1325.52 328.32 L 1325.52 326.16" clip-path="url(#p6fe620b129)" style="fill: none; stroke: #1f77b4; stroke-width: 1.5"/>
<path d="M 1327.68 328.32 L 1327.68 326.16" clip-path="url(#p6fe620b129)" style="fill: none; stroke: #1f77b4; stroke-width: 1.5"/>
<path d="M 1330.56 328.32 L 1330.56 324.72" clip-path="url(#p6fe620b129)" style="fill: none; stroke: #1f77b4; stroke-width: 1.5"/>
<path d="M 1333.44 328.32 L 1333.44 323.28" clip-path="url(#p6fe620b129)" style="fill: none; stroke: #1f77b4; stroke-width: 1.5"/>
<path d="M 1335.6 328.32 L 1335.6 321.84" clip-path="url(#p6fe620b129)" style="fill: none; stroke: #1f77b4; stroke-width: 1.5"/>
<path d="M 1338.48 328.32 L 1338.48 322.56" clip-path="url(#p6fe620b129)" style="fill: none; stroke: #1f77b4; stroke-width: 1.5"/>
<path d="M 1340.64 328.32 L 1340.64 318.24" clip-path="url(#p6fe620b129)" style="fill: none; stroke: #1f77b4; stroke-width: 1.5"/>
<path d="M 1343.52 328.32 L 1343.52 306.72" clip-path="url(#p6fe620b129)" style="fill: none; stroke: #1f77b4; stroke-width: 1.5"/>
<path d="M 1346.4 328.32 L 1346.4 321.12" clip-path="url(#p6fe620b129)" style="fill: none; stroke: #1f77b4; stroke-width: 1.5"/>
<path d="M 1348.56 328.32 L 1348.56 314.64" clip-path="url(#p6fe620b129)" style="fill: none; stroke: #1f77b4; stroke-width: 1.5"/>
<path d="M 1351.44 328.32 L 1351.44 321.12" clip-path="url(#p6fe620b129)" style="fill: none; stroke: #1f77b4; stroke-width: 1.5"/>
<path d="M 1353.6 328.32 L 1353.6 311.04" clip-path="url(#p6fe620b129)" style="fill: none; stroke: #1f77b4; stroke-width: 1.5"/>
<path d="M 1356.48 328.32 L 1356.48 318.24" clip-path="url(#p6fe620b129)" style="fill: none; stroke: #1f77b4; stroke-width: 1.5"/>
<path d="M 1359.36 328.32 L 1359.36 304.56" clip-path="url(#p6fe620b129)" style="fill: none; stroke: #1f77b4; stroke-width: 1.5"/>
<path d="M 1361.52 328.32 L 1361.52 322.56" clip-path="url(#p6fe620b129)" style="fill: none; stroke: #1f77b4; stroke-width: 1.5"/>
<path d="M 1364.4 328.32 L 1364.4 306.72" clip-path="url(#p6fe620b129)" style="fill: none; stroke: #1f77b4; stroke-width: 1.5"/>
<path d="M 1366.56 328.32 L 1366.56 303.84" clip-path="url(#p6fe620b129)" style="fill: none; stroke: #1f77b4; stroke-width: 1.5"/>
<path d="M 1369.44 328.32 L 1369.44 300.96" clip-path="url(#p6fe620b129)" style="fill: none; stroke: #1f77b4; stroke-width: 1.5"/>
<path d="M 1372.32 328.32 L 1372.32 273.6" clip-path="url(#p6fe620b129)" style="fill: none; stroke: #1f77b4; stroke-width: 1.5"/>
<path d="M 1374.48 328.32 L 1374.48 245.52" clip-path="url(#p6fe620b129)" style="fill: none; stroke: #1f77b4; stroke-width: 1.5"/>
<path d="M 1377.36 328.32 L 1377.36 154.8" clip-path="url(#p6fe620b129)" style="fill: none; stroke: #1f77b4; stroke-width: 1.5"/>
<path d="M 1379.52 328.32 L 1379.52 78.48" clip-path="url(#p6fe620b129)" style="fill: none; stroke: #1f77b4; stroke-width: 1.5"/>
<path d="M 1382.4 328.32 L 1382.4 128.16" clip-path="url(#p6fe620b129)" style="fill: none; stroke: #1f77b4; stroke-width: 1.5"/>
<path d="M 1385.28 328.32 L 1385.28 236.88" clip-path="url(#p6fe620b129)" style="fill: none; stroke: #1f77b4; stroke-width: 1.5"/>
<path d="M 1387.44 328.32 L 1387.44 240.48" clip-path="url(#p6fe620b129)" style="fill: none; stroke: #1f77b4; stroke-width: 1.5"/>
<path d="M 1390.32 328.32 L 1390.32 319.68" clip-path="url(#p6fe620b129)" style="fill: none; stroke: #1f77b4; stroke-width: 1.5"/>
<path d="M 1392.48 328.32 L 1392.48 275.76" clip-path="url(#p6fe620b129)" style="fill: none; stroke: #1f77b4; stroke-width: 1.5"/>
<path d="M 1395.36 328.32 L 1395.36 302.4" clip-path="url(#p6fe620b129)" style="fill: none; stroke: #1f77b4; stroke-width: 1.5"/>
<path d="M 1398.24 328.32 L 1398.24 309.6" clip-path="url(#p6fe620b129)" style="fill: none; stroke: #1f77b4; stroke-width: 1.5"/>
<path d="M 1400.4 328.32 L 1400.4 318.24" clip-path="url(#p6fe620b129)" style="fill: none; stroke: #1f77b4; stroke-width: 1.5"/>
<path d="M 1403.28 328.32 L 1403.28 288" clip-path="url(#p6fe620b129)" style="fill: none; stroke: #1f77b4; stroke-width: 1.5"/>
<path d="M 1405.44 328.32 L 1405.44 318.24" clip-path="url(#p6fe620b129)" style="fill: none; stroke: #1f77b4; stroke-width: 1.5"/>
<path d="M 1408.32 328.32 L 1408.32 296.64" clip-path="url(#p6fe620b129)" style="fill: none; stroke: #1f77b4; stroke-width: 1.5"/>
<path d="M 1411.2 328.32 L 1411.2 307.44" clip-path="url(#p6fe620b129)" style="fill: none; stroke: #1f77b4; stroke-width: 1.5"/>
<path d="M 1413.36 328.32 L 1413.36 321.12" clip-path="url(#p6fe620b129)" style="fill: none; stroke: #1f77b4; stroke-width: 1.5"/>
<path d="M 1416.24 328.32 L 1416.24 288" clip-path="url(#p6fe620b129)" style="fill: none; stroke: #1f77b4; stroke-width: 1.5"/>
<path d="M 1418.4 328.32 L 1418.4 298.8" clip-path="url(#p6fe620b129)" style="fill: none; stroke: #1f77b4; stroke-width: 1.5"/>
<path d="M 1421.28 328.32 L 1421.28 306.72" clip-path="url(#p6fe620b129)" style="fill: none; stroke: #1f77b4; stroke-width: 1.5"/>
<path d="M 1424.16 328.32 L 1424.16 262.8" clip-path="url(#p6fe620b129)" style="fill: none; stroke: #1f77b4; stroke-width: 1.5"/>
<path d="M 1426.32 328.32 L 1426.32 234" clip-path="url(#p6fe620b129)" style="fill: none; stroke: #1f77b4; stroke-width: 1.5"/>
<path d="M 1429.2 328.32 L 1429.2 257.76" clip-path="url(#p6fe620b129)" style="fill: none; stroke: #1f77b4; stroke-width: 1.5"/>
<path d="M 1431.36 328.32 L 1431.36 294.48" clip-path="url(#p6fe620b129)" style="fill: none; stroke: #1f77b4; stroke-width: 1.5"/>
<path d="M 1434.24 328.32 L 1434.24 318.24" clip-path="url(#p6fe620b129)" style="fill: none; stroke: #1f77b4; stroke-width: 1.5"/>
<path d="M 1437.12 328.32 L 1437.12 321.12" clip-path="url(#p6fe620b129)" style="fill: none; stroke: #1f77b4; stroke-width: 1.5"/>
<path d="M 1439.28 328.32 L 1439.28 322.56" clip-path="url(#p6fe620b129)" style="fill: none; stroke: #1f77b4; stroke-width: 1.5"/>
<path d="M 1442.16 328.32 L 1442.16 324.72" clip-path="url(#p6fe620b129)" style="fill: none; stroke: #1f77b4; stroke-width: 1.5"/>
<path d="M 1444.32 328.32 L 1444.32 324" clip-path="url(#p6fe620b129)" style="fill: none; stroke: #1f77b4; stroke-width: 1.5"/>
<path d="M 1447.2 328.32 L 1447.2 324.72" clip-path="url(#p6fe620b129)" style="fill: none; stroke: #1f77b4; stroke-width: 1.5"/>
<path d="M 1450.08 328.32 L 1450.08 324.72" clip-path="url(#p6fe620b129)" style="fill: none; stroke: #1f77b4; stroke-width: 1.5"/>
<path d="M 1452.24 328.32 L 1452.24 324.72" clip-path="url(#p6fe620b129)" style="fill: none; stroke: #1f77b4; stroke-width: 1.5"/>
<path d="M 1455.12 328.32 L 1455.12 324" clip-path="url(#p6fe620b129)" style="fill: none; stroke: #1f77b4; stroke-width: 1.5"/>
<path d="M 1457.28 328.32 L 1457.28 324.72" clip-path="url(#p6fe620b129)" style="fill: none; stroke: #1f77b4; stroke-width: 1.5"/>
<path d="M 1460.16 328.32 L 1460.16 322.56" clip-path="url(#p6fe620b129)" style="fill: none; stroke: #1f77b4; stroke-width: 1.5"/>
<path d="M 1463.04 328.32 L 1463.04 321.12" clip-path="url(#p6fe620b129)" style="fill: none; stroke: #1f77b4; stroke-width: 1.5"/>
<path d="M 1465.2 328.32 L 1465.2 318.24" clip-path="url(#p6fe620b129)" style="fill: none; stroke: #1f77b4; stroke-width: 1.5"/>
<path d="M 1468.08 328.32 L 1468.08 294.48" clip-path="url(#p6fe620b129)" style="fill: none; stroke: #1f77b4; stroke-width: 1.5"/>
<path d="M 1470.24 328.32 L 1470.24 257.76" clip-path="url(#p6fe620b129)" style="fill: none; stroke: #1f77b4; stroke-width: 1.5"/>
<path d="M 1473.12 328.32 L 1473.12 234" clip-path="url(#p6fe620b129)" style="fill: none; stroke: #1f77b4; stroke-width: 1.5"/>
<path d="M 1476 328.32 L 1476 262.8" clip-path="url(#p6fe620b129)" style="fill: none; stroke: #1f77b4; stroke-width: 1.5"/>
<path d="M 1478.16 328.32 L 1478.16 306.72" clip-path="url(#p6fe620b129)" style="fill: none; stroke: #1f77b4; stroke-width: 1.5"/>
<path d="M 1481.04 328.32 L 1481.04 298.8" clip-path="url(#p6fe620b129)" style="fill: none; stroke: #1f77b4; stroke-width: 1.5"/>
<path d="M 1483.2 328.32 L 1483.2 288" clip-path="url(#p6fe620b129)" style="fill: none; stroke: #1f77b4; stroke-width: 1.5"/>
<path d="M 1486.08 328.32 L 1486.08 321.12" clip-path="url(#p6fe620b129)" style="fill: none; stroke: #1f77b4; stroke-width: 1.5"/>
<path d="M 1488.96 328.32 L 1488.96 307.44" clip-path="url(#p6fe620b129)" style="fill: none; stroke: #1f77b4; stroke-width: 1.5"/>
<path d="M 1491.12 328.32 L 1491.12 296.64" clip-path="url(#p6fe620b129)" style="fill: none; stroke: #1f77b4; stroke-width: 1.5"/>
<path d="M 1494 328.32 L 1494 318.24" clip-path="url(#p6fe620b129)" style="fill: none; stroke: #1f77b4; stroke-width: 1.5"/>
<path d="M 1496.16 328.32 L 1496.16 288" clip-path="url(#p6fe620b129)" style="fill: none; stroke: #1f77b4; stroke-width: 1.5"/>
<path d="M 1499.04 328.32 L 1499.04 318.24" clip-path="url(#p6fe620b129)" style="fill: none; stroke: #1f77b4; stroke-width: 1.5"/>
<path d="M 1501.92 328.32 L 1501.92 309.6" clip-path="url(#p6fe620b129)" style="fill: none; stroke: #1f77b4; stroke-width: 1.5"/>
<path d="M 1504.08 328.32 L 1504.08 302.4" clip-path="url(#p6fe620b129)" style="fill: none; stroke: #1f77b4; stroke-width: 1.5"/>
<path d="M 1506.96 328.32 L 1506.96 275.76" clip-path="url(#p6fe620b129)" style="fill: none; stroke: #1f77b4; stroke-width: 1.5"/>
<path d="M 1509.12 328.32 L 1509.12 319.68" clip-path="url(#p6fe620b129)" style="fill: none; stroke: #1f77b4; stroke-width: 1.5"/>
<path d="M 1512 328.32 L 1512 240.48" clip-path="url(#p6fe620b129)" style="fill: none; stroke: #1f77b4; stroke-width: 1.5"/>
<path d="M 1514.88 328.32 L 1514.88 236.88" clip-path="url(#p6fe620b129)" style="fill: none; stroke: #1f77b4; stroke-width: 1.5"/>
<path d="M 1517.04 328.32 L 1517.04 128.16" clip-path="url(#p6fe620b129)" style="fill: none; stroke: #1f77b4; stroke-width: 1.5"/>
<path d="M 1519.92 328.32 L 1519.92 78.48" clip-path="url(#p6fe620b129)" style="fill: none; stroke: #1f77b4; stroke-width: 1.5"/>
<path d="M 1522.08 328.32 L 1522.08 154.8" clip-path="url(#p6fe620b129)" style="fill: none; stroke: #1f77b4; stroke-width: 1.5"/>
<path d="M 1524.96 328.32 L 1524.96 245.52" clip-path="url(#p6fe620b129)" style="fill: none; stroke: #1f77b4; stroke-width: 1.5"/>
<path d="M 1527.84 328.32 L 1527.84 273.6" clip-path="url(#p6fe620b129)" style="fill: none; stroke: #1f77b4; stroke-width: 1.5"/>
<path d="M 1530 328.32 L 1530 300.96" clip-path="url(#p6fe620b129)" style="fill: none; stroke: #1f77b4; stroke-width: 1.5"/>
<path d="M 1532.88 328.32 L 1532.88 303.84" clip-path="url(#p6fe620b129)" style="fill: none; stroke: #1f77b4; stroke-width: 1.5"/>
<path d="M 1535.04 328.32 L 1535.04 306.72" clip-path="url(#p6fe620b129)" style="fill: none; stroke: #1f77b4; stroke-width: 1.5"/>
<path d="M 1537.92 328.32 L 1537.92 322.56" clip-path="url(#p6fe620b129)" style="fill: none; stroke: #1f77b4; stroke-width: 1.5"/>
<path d="M 1540.8 328.32 L 1540.8 304.56" clip-path="url(#p6fe620b129)" style="fill: none; stroke: #1f77b4; stroke-width: 1.5"/>
<path d="M 1542.96 328.32 L 1542.96 318.24" clip-path="url(#p6fe620b129)" style="fill: none; stroke: #1f77b4; stroke-width: 1.5"/>
<path d="M 1545.84 328.32 L 1545.84 311.04" clip-path="url(#p6fe620b129)" style="fill: none; stroke: #1f77b4; stroke-width: 1.5"/>
<path d="M 1548 328.32 L 1548 321.12" clip-path="url(#p6fe620b129)" style="fill: none; stroke: #1f77b4; stroke-width: 1.5"/>
<path d="M 1550.88 328.32 L 1550.88 314.64" clip-path="url(#p6fe620b129)" style="fill: none; stroke: #1f77b4; stroke-width: 1.5"/>
<path d="M 1553.76 328.32 L 1553.76 321.12" clip-path="url(#p6fe620b129)" style="fill: none; stroke: #1f77b4; stroke-width: 1.5"/>
<path d="M 1555.92 328.32 L 1555.92 306.72" clip-path="url(#p6fe620b129)" style="fill: none; stroke: #1f77b4; stroke-width: 1.5"/>
<path d="M 1558.8 328.32 L 1558.8 318.24" clip-path="url(#p6fe620b129)" style="fill: none; stroke: #1f77b4; stroke-width: 1.5"/>
<path d="M 1560.96 328.32 L 1560.96 322.56" clip-path="url(#p6fe620b129)" style="fill: none; stroke: #1f77b4; stroke-width: 1.5"/>
<path d="M 1563.84 328.32 L 1563.84 321.84" clip-path="url(#p6fe620b129)" style="fill: none; stroke: #1f77b4; stroke-width: 1.5"/>
<path d="M 1566.72 328.32 L 1566.72 323.28" clip-path="url(#p6fe620b129)" style="fill: none; stroke: #1f77b4; stroke-width: 1.5"/>
<path d="M 1568.88 328.32 L 1568.88 324.72" clip-path="url(#p6fe620b129)" style="fill: none; stroke: #1f77b4; stroke-width: 1.5"/>
<path d="M 1571.76 328.32 L 1571.76 326.16" clip-path="url(#p6fe620b129)" style="fill: none; stroke: #1f77b4; stroke-width: 1.5"/>
<path d="M 1573.92 328.32 L 1573.92 326.16" clip-path="url(#p6fe620b129)" style="fill: none; stroke: #1f77b4; stroke-width: 1.5"/>
<path d="M 1576.8 328.32 L 1576.8 325.44" clip-path="url(#p6fe620b129)" style="fill: none; stroke: #1f77b4; stroke-width: 1.5"/>
<path d="M 1579.68 328.32 L 1579.68 326.88" clip-path="url(#p6fe620b129)" style="fill: none; stroke: #1f77b4; stroke-width: 1.5"/>
<path d="M 1581.84 328.32 L 1581.84 326.88" clip-path="url(#p6fe620b129)" style="fill: none; stroke: #1f77b4; stroke-width: 1.5"/>
<path d="M 1584.72 328.32 L 1584.72 325.44" clip-path="url(#p6fe620b129)" style="fill: none; stroke: #1f77b4; stroke-width: 1.5"/>
<path d="M 1586.88 328.32 L 1586.88 326.88" clip-path="url(#p6fe620b129)" style="fill: none; stroke: #1f77b4; stroke-width: 1.5"/>
<path d="M 1589.76 328.32 L 1589.76 325.44" clip-path="url(#p6fe620b129)" style="fill: none; stroke: #1f77b4; stroke-width: 1.5"/>
<path d="M 1592.64 328.32 L 1592.64 325.44" clip-path="url(#p6fe620b129)" style="fill: none; stroke: #1f77b4; stroke-width: 1.5"/>
<path d="M 1594.8 328.32 L 1594.8 324" clip-path="url(#p6fe620b129)" style="fill: none; stroke: #1f77b4; stroke-width: 1.5"/>
<path d="M 1597.68 328.32 L 1597.68 324" clip-path="url(#p6fe620b129)" style="fill: none; stroke: #1f77b4; stroke-width: 1.5"/>
<path d="M 1599.84 328.32 L 1599.84 324" clip-path="url(#p6fe620b129)" style="fill: none; stroke: #1f77b4; stroke-width: 1.5"/>
<path d="M 1602.72 328.32 L 1602.72 321.84" clip-path="url(#p6fe620b129)" style="fill: none; stroke: #1f77b4; stroke-width: 1.5"/>
<path d="M 1605.6 328.32 L 1605.6 318.24" clip-path="url(#p6fe620b129)" style="fill: none; stroke: #1f77b4; stroke-width: 1.5"/>
<path d="M 1607.76 328.32 L 1607.76 319.68" clip-path="url(#p6fe620b129)" style="fill: none; stroke: #1f77b4; stroke-width: 1.5"/>
<path d="M 1610.64 328.32 L 1610.64 318.24" clip-path="url(#p6fe620b129)" style="fill: none; stroke: #1f77b4; stroke-width: 1.5"/>
<path d="M 1612.8 328.32 L 1612.8 322.56" clip-path="url(#p6fe620b129)" style="fill: none; stroke: #1f77b4; stroke-width: 1.5"/>
<path d="M 1615.68 328.32 L 1615.68 326.16" clip-path="url(#p6fe620b129)" style="fill: none; stroke: #1f77b4; stroke-width: 1.5"/>
<path d="M 1618.56 328.32 L 1618.56 325.44" clip-path="url(#p6fe620b129)" style="fill: none; stroke: #1f77b4; stroke-width: 1.5"/>
<path d="M 1620.72 328.32 L 1620.72 326.88" clip-path="url(#p6fe620b129)" style="fill: none; stroke: #1f77b4; stroke-width: 1.5"/>
<path d="M 1623.6 328.32 L 1623.6 326.16" clip-path="url(#p6fe620b129)" style="fill: none; stroke: #1f77b4; stroke-width: 1.5"/>
<path d="M 1625.76 328.32 L 1625.76 323.28" clip-path="url(#p6fe620b129)" style="fill: none; stroke: #1f77b4; stroke-width: 1.5"/>
<path d="M 1628.64 328.32 L 1628.64 326.16" clip-path="url(#p6fe620b129)" style="fill: none; stroke: #1f77b4; stroke-width: 1.5"/>
<path d="M 1631.52 328.32 L 1631.52 324" clip-path="url(#p6fe620b129)" style="fill: none; stroke: #1f77b4; stroke-width: 1.5"/>
<path d="M 1633.68 328.32 L 1633.68 324.72" clip-path="url(#p6fe620b129)" style="fill: none; stroke: #1f77b4; stroke-width: 1.5"/>
<path d="M 1636.56 328.32 L 1636.56 324" clip-path="url(#p6fe620b129)" style="fill: none; stroke: #1f77b4; stroke-width: 1.5"/>
<path d="M 1638.72 328.32 L 1638.72 325.44" clip-path="url(#p6fe620b129)" style="fill: none; stroke: #1f77b4; stroke-width: 1.5"/>
<path d="M 1641.6 328.32 L 1641.6 324.72" clip-path="url(#p6fe620b129)" style="fill: none; stroke: #1f77b4; stroke-width: 1.5"/>
<path d="M 1644.48 328.32 L 1644.48 326.88" clip-path="url(#p6fe620b129)" style="fill: none; stroke: #1f77b4; stroke-width: 1.5"/>
<path d="M 1646.64 328.32 L 1646.64 321.84" clip-path="url(#p6fe620b129)" style="fill: none; stroke: #1f77b4; stroke-width: 1.5"/>
<path d="M 1649.52 328.32 L 1649.52 319.68" clip-path="url(#p6fe620b129)" style="fill: none; stroke: #1f77b4; stroke-width: 1.5"/>
<path d="M 1651.68 328.32 L 1651.68 318.96" clip-path="url(#p6fe620b129)" style="fill: none; stroke: #1f77b4; stroke-width: 1.5"/>
<path d="M 1654.56 328.32 L 1654.56 321.12" clip-path="url(#p6fe620b129)" style="fill: none; stroke: #1f77b4; stroke-width: 1.5"/>
<path d="M 1657.44 328.32 L 1657.44 326.88" clip-path="url(#p6fe620b129)" style="fill: none; stroke: #1f77b4; stroke-width: 1.5"/>
<path d="M 1659.6 328.32 L 1659.6 324.72" clip-path="url(#p6fe620b129)" style="fill: none; stroke: #1f77b4; stroke-width: 1.5"/>
<path d="M 1662.48 328.32 L 1662.48 326.88" clip-path="url(#p6fe620b129)" style="fill: none; stroke: #1f77b4; stroke-width: 1.5"/>
<path d="M 1664.64 328.32 L 1664.64 323.28" clip-path="url(#p6fe620b129)" style="fill: none; stroke: #1f77b4; stroke-width: 1.5"/>
<path d="M 1667.52 328.32 L 1667.52 324" clip-path="url(#p6fe620b129)" style="fill: none; stroke: #1f77b4; stroke-width: 1.5"/>
<path d="M 1670.4 328.32 L 1670.4 324.72" clip-path="url(#p6fe620b129)" style="fill: none; stroke: #1f77b4; stroke-width: 1.5"/>
<path d="M 1672.56 328.32 L 1672.56 324" clip-path="url(#p6fe620b129)" style="fill: none; stroke: #1f77b4; stroke-width: 1.5"/>
<path d="M 1675.44 328.32 L 1675.44 326.16" clip-path="url(#p6fe620b129)" style="fill: none; stroke: #1f77b4; stroke-width: 1.5"/>
<path d="M 1677.6 328.32 L 1677.6 323.28" clip-path="url(#p6fe620b129)" style="fill: none; stroke: #1f77b4; stroke-width: 1.5"/>
<path d="M 1680.48 328.32 L 1680.48 323.28" clip-path="url(#p6fe620b129)" style="fill: none; stroke: #1f77b4; stroke-width: 1.5"/>
<path d="M 1683.36 328.32 L 1683.36 324" clip-path="url(#p6fe620b129)" style="fill: none; stroke: #1f77b4; stroke-width: 1.5"/>
<path d="M 1685.52 328.32 L 1685.52 325.44" clip-path="url(#p6fe620b129)" style="fill: none; stroke: #1f77b4; stroke-width: 1.5"/>
<path d="M 1688.4 328.32 L 1688.4 323.28" clip-path="url(#p6fe620b129)" style="fill: none; stroke: #1f77b4; stroke-width: 1.5"/>
<path d="M 1690.56 328.32 L 1690.56 324" clip-path="url(#p6fe620b129)" style="fill: none; stroke: #1f77b4; stroke-width: 1.5"/>
<path d="M 1693.44 328.32 L 1693.44 324.72" clip-path="url(#p6fe620b129)" style="fill: none; stroke: #1f77b4; stroke-width: 1.5"/>
<path d="M 1696.32 328.32 L 1696.32 321.84" clip-path="url(#p6fe620b129)" style="fill: none; stroke: #1f77b4; stroke-width: 1.5"/>
<path d="M 1698.48 328.32 L 1698.48 318.96" clip-path="url(#p6fe620b129)" style="fill: none; stroke: #1f77b4; stroke-width: 1.5"/>
<path d="M 1701.36 328.32 L 1701.36 319.68" clip-path="url(#p6fe620b129)" style="fill: none; stroke: #1f77b4; stroke-width: 1.5"/>
<path d="M 1703.52 328.32 L 1703.52 318.96" clip-path="url(#p6fe620b129)" style="fill: none; stroke: #1f77b4; stroke-width: 1.5"/>
<path d="M 1706.4 328.32 L 1706.4 321.12" clip-path="url(#p6fe620b129)" style="fill: none; stroke: #1f77b4; stroke-width: 1.5"/>
<path d="M 1709.28 328.32 L 1709.28 326.88" clip-path="url(#p6fe620b129)" style="fill: none; stroke: #1f77b4; stroke-width: 1.5"/>
<path d="M 1711.44 328.32 L 1711.44 324" clip-path="url(#p6fe620b129)" style="fill: none; stroke: #1f77b4; stroke-width: 1.5"/>
<path d="M 1714.32 328.32 L 1714.32 324" clip-path="url(#p6fe620b129)" style="fill: none; stroke: #1f77b4; stroke-width: 1.5"/>
<path d="M 1716.48 328.32 L 1716.48 323.28" clip-path="url(#p6fe620b129)" style="fill: none; stroke: #1f77b4; stroke-width: 1.5"/>
</g>
<g id="line2d_65">
<defs>
<path id="mf4270b9513" d="M -3 3 L 3 -3 M -3 -3 L 3 3" style="stroke: #0000ff; stroke-width: 1.25"/>
</defs>
<g clip-path="url(#p6fe620b129)">
<use href="#mf4270b9513" x="1182.884" y="322.968" style="fill: #0000ff; stroke: #0000ff; stroke-width: 1.25"/>
<use href="#mf4270b9513" x="1185.476" y="323.836" style="fill: #0000ff; stroke: #0000ff; stroke-width: 1.25"/>
<use href="#mf4270b9513" x="1188.067" y="324.110" style="fill: #0000ff; stroke: #0000ff; stroke-width: 1.25"/>
<use href="#mf4270b9513" x="1190.659" y="326.584" style="fill: #0000ff; stroke: #0000ff; stroke-width: 1.25"/>
<use href="#mf4270b9513" x="1193.250" y="320.907" style="fill: #0000ff; stroke: #0000ff; stroke-width: 1.25"/>
<use href="#mf4270b9513" x="1195.842" y="318.976" style="fill: #0000ff; stroke: #0000ff; stroke-width: 1.25"/>
<use href="#mf4270b9513" x="1198.434" y="319.941" style="fill: #0000ff; stroke: #0000ff; stroke-width: 1.25"/>
<use href="#mf4270b9513" x="1201.025" y="318.976" style="fill: #0000ff; stroke: #0000ff; stroke-width: 1.25"/>
<use href="#mf4270b9513" x="1203.617" y="321.873" style="fill: #0000ff; stroke: #0000ff; stroke-width: 1.25"/>
<use href="#mf4270b9513" x="1206.208" y="324.413" style="fill: #0000ff; stroke: #0000ff; stroke-width: 1.25"/>
<use href="#mf4270b9513" x="1208.800" y="324.022" style="fill: #0000ff; stroke: #0000ff; stroke-width: 1.25"/>
<use href="#mf4270b9513" x="1211.392" y="323.571" style="fill: #0000ff; stroke: #0000ff; stroke-width: 1.25"/>
<use href="#mf4270b9513" x="1213.983" y="325.248" style="fill: #0000ff; stroke: #0000ff; stroke-width: 1.25"/>
<use href="#mf4270b9513" x="1216.575" y="324.107" style="fill: #0000ff; stroke: #0000ff; stroke-width: 1.25"/>
<use href="#mf4270b9513" x="1219.166" y="323.584" style="fill: #0000ff; stroke: #0000ff; stroke-width: 1.25"/>
<use href="#mf4270b9513" x="1221.758" y="323.178" style="fill: #0000ff; stroke: #0000ff; stroke-width: 1.25"/>
<use href="#mf4270b9513" x="1224.350" y="326.251" style="fill: #0000ff; stroke: #0000ff; stroke-width: 1.25"/>
<use href="#mf4270b9513" x="1226.941" y="324.196" style="fill: #0000ff; stroke: #0000ff; stroke-width: 1.25"/>
<use href="#mf4270b9513" x="1229.533" y="324.966" style="fill: #0000ff; stroke: #0000ff; stroke-width: 1.25"/>
<use href="#mf4270b9513" x="1232.124" y="324.315" style="fill: #0000ff; stroke: #0000ff; stroke-width: 1.25"/>
<use href="#mf4270b9513" x="1234.716" y="323.061" style="fill: #0000ff; stroke: #0000ff; stroke-width: 1.25"/>
<use href="#mf4270b9513" x="1237.308" y="326.604" style="fill: #0000ff; stroke: #0000ff; stroke-width: 1.25"/>
<use href="#mf4270b9513" x="1239.899" y="324.909" style="fill: #0000ff; stroke: #0000ff; stroke-width: 1.25"/>
<use href="#mf4270b9513" x="1242.491" y="326.875" style="fill: #0000ff; stroke: #0000ff; stroke-width: 1.25"/>
<use href="#mf4270b9513" x="1245.083" y="320.907" style="fill: #0000ff; stroke: #0000ff; stroke-width: 1.25"/>
<use href="#mf4270b9513" x="1247.674" y="318.976" style="fill: #0000ff; stroke: #0000ff; stroke-width: 1.25"/>
<use href="#mf4270b9513" x="1250.266" y="319.941" style="fill: #0000ff; stroke: #0000ff; stroke-width: 1.25"/>
<use href="#mf4270b9513" x="1252.857" y="321.873" style="fill: #0000ff; stroke: #0000ff; stroke-width: 1.25"/>
<use href="#mf4270b9513" x="1255.449" y="327.164" style="fill: #0000ff; stroke: #0000ff; stroke-width: 1.25"/>
<use href="#mf4270b9513" x="1258.041" y="324.708" style="fill: #0000ff; stroke: #0000ff; stroke-width: 1.25"/>
<use href="#mf4270b9513" x="1260.632" y="325.272" style="fill: #0000ff; stroke: #0000ff; stroke-width: 1.25"/>
<use href="#mf4270b9513" x="1263.224" y="324.118" style="fill: #0000ff; stroke: #0000ff; stroke-width: 1.25"/>
<use href="#mf4270b9513" x="1265.815" y="324.459" style="fill: #0000ff; stroke: #0000ff; stroke-width: 1.25"/>
<use href="#mf4270b9513" x="1268.407" y="324.269" style="fill: #0000ff; stroke: #0000ff; stroke-width: 1.25"/>
<use href="#mf4270b9513" x="1270.999" y="326.405" style="fill: #0000ff; stroke: #0000ff; stroke-width: 1.25"/>
<use href="#mf4270b9513" x="1273.590" y="322.970" style="fill: #0000ff; stroke: #0000ff; stroke-width: 1.25"/>
<use href="#mf4270b9513" x="1276.182" y="326.349" style="fill: #0000ff; stroke: #0000ff; stroke-width: 1.25"/>
<use href="#mf4270b9513" x="1278.773" y="327.189" style="fill: #0000ff; stroke: #0000ff; stroke-width: 1.25"/>
<use href="#mf4270b9513" x="1281.365" y="325.411" style="fill: #0000ff; stroke: #0000ff; stroke-width: 1.25"/>
<use href="#mf4270b9513" x="1283.957" y="325.964" style="fill: #0000ff; stroke: #0000ff; stroke-width: 1.25"/>
<use href="#mf4270b9513" x="1286.548" y="322.839" style="fill: #0000ff; stroke: #0000ff; stroke-width: 1.25"/>
<use href="#mf4270b9513" x="1289.140" y="318.010" style="fill: #0000ff; stroke: #0000ff; stroke-width: 1.25"/>
<use href="#mf4270b9513" x="1291.731" y="319.941" style="fill: #0000ff; stroke: #0000ff; stroke-width: 1.25"/>
<use href="#mf4270b9513" x="1294.323" y="318.010" style="fill: #0000ff; stroke: #0000ff; stroke-width: 1.25"/>
<use href="#mf4270b9513" x="1296.915" y="321.873" style="fill: #0000ff; stroke: #0000ff; stroke-width: 1.25"/>
<use href="#mf4270b9513" x="1299.506" y="324.271" style="fill: #0000ff; stroke: #0000ff; stroke-width: 1.25"/>
<use href="#mf4270b9513" x="1302.098" y="324.013" style="fill: #0000ff; stroke: #0000ff; stroke-width: 1.25"/>
<use href="#mf4270b9513" x="1304.689" y="324.194" style="fill: #0000ff; stroke: #0000ff; stroke-width: 1.25"/>
<use href="#mf4270b9513" x="1307.281" y="325.795" style="fill: #0000ff; stroke: #0000ff; stroke-width: 1.25"/>
<use href="#mf4270b9513" x="1309.873" y="325.232" style="fill: #0000ff; stroke: #0000ff; stroke-width: 1.25"/>
<use href="#mf4270b9513" x="1312.464" y="327.070" style="fill: #0000ff; stroke: #0000ff; stroke-width: 1.25"/>
<use href="#mf4270b9513" x="1315.056" y="325.091" style="fill: #0000ff; stroke: #0000ff; stroke-width: 1.25"/>
<use href="#mf4270b9513" x="1317.648" y="326.541" style="fill: #0000ff; stroke: #0000ff; stroke-width: 1.25"/>
<use href="#mf4270b9513" x="1320.239" y="326.522" style="fill: #0000ff; stroke: #0000ff; stroke-width: 1.25"/>
<use href="#mf4270b9513" x="1322.831" y="325.367" style="fill: #0000ff; stroke: #0000ff; stroke-width: 1.25"/>
<use href="#mf4270b9513" x="1325.422" y="326.186" style="fill: #0000ff; stroke: #0000ff; stroke-width: 1.25"/>
<use href="#mf4270b9513" x="1328.014" y="326.160" style="fill: #0000ff; stroke: #0000ff; stroke-width: 1.25"/>
<use href="#mf4270b9513" x="1330.606" y="324.757" style="fill: #0000ff; stroke: #0000ff; stroke-width: 1.25"/>
<use href="#mf4270b9513" x="1333.197" y="323.485" style="fill: #0000ff; stroke: #0000ff; stroke-width: 1.25"/>
<use href="#mf4270b9513" x="1335.789" y="321.873" style="fill: #0000ff; stroke: #0000ff; stroke-width: 1.25"/>
<use href="#mf4270b9513" x="1338.380" y="322.839" style="fill: #0000ff; stroke: #0000ff; stroke-width: 1.25"/>
<use href="#mf4270b9513" x="1340.972" y="318.010" style="fill: #0000ff; stroke: #0000ff; stroke-width: 1.25"/>
<use href="#mf4270b9513" x="1343.564" y="306.711" style="fill: #0000ff; stroke: #0000ff; stroke-width: 1.25"/>
<use href="#mf4270b9513" x="1346.155" y="320.907" style="fill: #0000ff; stroke: #0000ff; stroke-width: 1.25"/>
<use href="#mf4270b9513" x="1348.747" y="314.340" style="fill: #0000ff; stroke: #0000ff; stroke-width: 1.25"/>
<use href="#mf4270b9513" x="1351.338" y="320.907" style="fill: #0000ff; stroke: #0000ff; stroke-width: 1.25"/>
<use href="#mf4270b9513" x="1353.930" y="310.767" style="fill: #0000ff; stroke: #0000ff; stroke-width: 1.25"/>
<use href="#mf4270b9513" x="1356.522" y="318.010" style="fill: #0000ff; stroke: #0000ff; stroke-width: 1.25"/>
<use href="#mf4270b9513" x="1359.113" y="304.489" style="fill: #0000ff; stroke: #0000ff; stroke-width: 1.25"/>
<use href="#mf4270b9513" x="1361.705" y="322.839" style="fill: #0000ff; stroke: #0000ff; stroke-width: 1.25"/>
<use href="#mf4270b9513" x="1364.296" y="306.421" style="fill: #0000ff; stroke: #0000ff; stroke-width: 1.25"/>
<use href="#mf4270b9513" x="1366.888" y="303.524" style="fill: #0000ff; stroke: #0000ff; stroke-width: 1.25"/>
<use href="#mf4270b9513" x="1369.480" y="300.626" style="fill: #0000ff; stroke: #0000ff; stroke-width: 1.25"/>
<use href="#mf4270b9513" x="1372.071" y="273.585" style="fill: #0000ff; stroke: #0000ff; stroke-width: 1.25"/>
<use href="#mf4270b9513" x="1374.663" y="245.579" style="fill: #0000ff; stroke: #0000ff; stroke-width: 1.25"/>
<use href="#mf4270b9513" x="1377.254" y="154.799" style="fill: #0000ff; stroke: #0000ff; stroke-width: 1.25"/>
<use href="#mf4270b9513" x="1379.846" y="78.504" style="fill: #0000ff; stroke: #0000ff; stroke-width: 1.25"/>
<use href="#mf4270b9513" x="1382.438" y="128.047" style="fill: #0000ff; stroke: #0000ff; stroke-width: 1.25"/>
<use href="#mf4270b9513" x="1385.029" y="236.887" style="fill: #0000ff; stroke: #0000ff; stroke-width: 1.25"/>
<use href="#mf4270b9513" x="1387.621" y="240.750" style="fill: #0000ff; stroke: #0000ff; stroke-width: 1.25"/>
<use href="#mf4270b9513" x="1390.213" y="319.941" style="fill: #0000ff; stroke: #0000ff; stroke-width: 1.25"/>
<use href="#mf4270b9513" x="1392.804" y="275.517" style="fill: #0000ff; stroke: #0000ff; stroke-width: 1.25"/>
<use href="#mf4270b9513" x="1395.396" y="302.558" style="fill: #0000ff; stroke: #0000ff; stroke-width: 1.25"/>
<use href="#mf4270b9513" x="1397.987" y="309.801" style="fill: #0000ff; stroke: #0000ff; stroke-width: 1.25"/>
<use href="#mf4270b9513" x="1400.579" y="318.010" style="fill: #0000ff; stroke: #0000ff; stroke-width: 1.25"/>
<use href="#mf4270b9513" x="1403.171" y="288.072" style="fill: #0000ff; stroke: #0000ff; stroke-width: 1.25"/>
<use href="#mf4270b9513" x="1405.762" y="318.010" style="fill: #0000ff; stroke: #0000ff; stroke-width: 1.25"/>
<use href="#mf4270b9513" x="1408.354" y="296.763" style="fill: #0000ff; stroke: #0000ff; stroke-width: 1.25"/>
<use href="#mf4270b9513" x="1410.945" y="307.387" style="fill: #0000ff; stroke: #0000ff; stroke-width: 1.25"/>
<use href="#mf4270b9513" x="1413.537" y="320.907" style="fill: #0000ff; stroke: #0000ff; stroke-width: 1.25"/>
<use href="#mf4270b9513" x="1416.129" y="288.072" style="fill: #0000ff; stroke: #0000ff; stroke-width: 1.25"/>
<use href="#mf4270b9513" x="1418.720" y="298.695" style="fill: #0000ff; stroke: #0000ff; stroke-width: 1.25"/>
<use href="#mf4270b9513" x="1421.312" y="306.421" style="fill: #0000ff; stroke: #0000ff; stroke-width: 1.25"/>
<use href="#mf4270b9513" x="1423.903" y="262.962" style="fill: #0000ff; stroke: #0000ff; stroke-width: 1.25"/>
<use href="#mf4270b9513" x="1426.495" y="233.990" style="fill: #0000ff; stroke: #0000ff; stroke-width: 1.25"/>
<use href="#mf4270b9513" x="1429.087" y="257.457" style="fill: #0000ff; stroke: #0000ff; stroke-width: 1.25"/>
<use href="#mf4270b9513" x="1431.678" y="294.252" style="fill: #0000ff; stroke: #0000ff; stroke-width: 1.25"/>
<use href="#mf4270b9513" x="1434.270" y="318.010" style="fill: #0000ff; stroke: #0000ff; stroke-width: 1.25"/>
<use href="#mf4270b9513" x="1436.861" y="320.907" style="fill: #0000ff; stroke: #0000ff; stroke-width: 1.25"/>
<use href="#mf4270b9513" x="1439.453" y="322.839" style="fill: #0000ff; stroke: #0000ff; stroke-width: 1.25"/>
<use href="#mf4270b9513" x="1442.045" y="324.770" style="fill: #0000ff; stroke: #0000ff; stroke-width: 1.25"/>
<use href="#mf4270b9513" x="1444.636" y="323.804" style="fill: #0000ff; stroke: #0000ff; stroke-width: 1.25"/>
<use href="#mf4270b9513" x="1447.228" y="324.770" style="fill: #0000ff; stroke: #0000ff; stroke-width: 1.25"/>
<use href="#mf4270b9513" x="1449.820" y="324.770" style="fill: #0000ff; stroke: #0000ff; stroke-width: 1.25"/>
<use href="#mf4270b9513" x="1452.411" y="324.770" style="fill: #0000ff; stroke: #0000ff; stroke-width: 1.25"/>
<use href="#mf4270b9513" x="1455.003" y="323.804" style="fill: #0000ff; stroke: #0000ff; stroke-width: 1.25"/>
<use href="#mf4270b9513" x="1457.594" y="324.770" style="fill: #0000ff; stroke: #0000ff; stroke-width: 1.25"/>
<use href="#mf4270b9513" x="1460.186" y="322.839" style="fill: #0000ff; stroke: #0000ff; stroke-width: 1.25"/>
<use href="#mf4270b9513" x="1462.778" y="320.907" style="fill: #0000ff; stroke: #0000ff; stroke-width: 1.25"/>
<use href="#mf4270b9513" x="1465.369" y="318.010" style="fill: #0000ff; stroke: #0000ff; stroke-width: 1.25"/>
<use href="#mf4270b9513" x="1467.961" y="294.252" style="fill: #0000ff; stroke: #0000ff; stroke-width: 1.25"/>
<use href="#mf4270b9513" x="1470.552" y="257.457" style="fill: #0000ff; stroke: #0000ff; stroke-width: 1.25"/>
<use href="#mf4270b9513" x="1473.144" y="233.990" style="fill: #0000ff; stroke: #0000ff; stroke-width: 1.25"/>
<use href="#mf4270b9513" x="1475.736" y="262.962" style="fill: #0000ff; stroke: #0000ff; stroke-width: 1.25"/>
<use href="#mf4270b9513" x="1478.327" y="306.421" style="fill: #0000ff; stroke: #0000ff; stroke-width: 1.25"/>
<use href="#mf4270b9513" x="1480.919" y="298.695" style="fill: #0000ff; stroke: #0000ff; stroke-width: 1.25"/>
<use href="#mf4270b9513" x="1483.510" y="288.072" style="fill: #0000ff; stroke: #0000ff; stroke-width: 1.25"/>
<use href="#mf4270b9513" x="1486.102" y="320.907" style="fill: #0000ff; stroke: #0000ff; stroke-width: 1.25"/>
<use href="#mf4270b9513" x="1488.694" y="307.387" style="fill: #0000ff; stroke: #0000ff; stroke-width: 1.25"/>
<use href="#mf4270b9513" x="1491.285" y="296.763" style="fill: #0000ff; stroke: #0000ff; stroke-width: 1.25"/>
<use href="#mf4270b9513" x="1493.877" y="318.010" style="fill: #0000ff; stroke: #0000ff; stroke-width: 1.25"/>
<use href="#mf4270b9513" x="1496.468" y="288.072" style="fill: #0000ff; stroke: #0000ff; stroke-width: 1.25"/>
<use href="#mf4270b9513" x="1499.060" y="318.010" style="fill: #0000ff; stroke: #0000ff; stroke-width: 1.25"/>
<use href="#mf4270b9513" x="1501.652" y="309.801" style="fill: #0000ff; stroke: #0000ff; stroke-width: 1.25"/>
<use href="#mf4270b9513" x="1504.243" y="302.558" style="fill: #0000ff; stroke: #0000ff; stroke-width: 1.25"/>
<use href="#mf4270b9513" x="1506.835" y="275.517" style="fill: #0000ff; stroke: #0000ff; stroke-width: 1.25"/>
<use href="#mf4270b9513" x="1509.426" y="319.941" style="fill: #0000ff; stroke: #0000ff; stroke-width: 1.25"/>
<use href="#mf4270b9513" x="1512.018" y="240.750" style="fill: #0000ff; stroke: #0000ff; stroke-width: 1.25"/>
<use href="#mf4270b9513" x="1514.610" y="236.887" style="fill: #0000ff; stroke: #0000ff; stroke-width: 1.25"/>
<use href="#mf4270b9513" x="1517.201" y="128.047" style="fill: #0000ff; stroke: #0000ff; stroke-width: 1.25"/>
<use href="#mf4270b9513" x="1519.793" y="78.504" style="fill: #0000ff; stroke: #0000ff; stroke-width: 1.25"/>
<use href="#mf4270b9513" x="1522.385" y="154.799" style="fill: #0000ff; stroke: #0000ff; stroke-width: 1.25"/>
<use href="#mf4270b9513" x="1524.976" y="245.579" style="fill: #0000ff; stroke: #0000ff; stroke-width: 1.25"/>
<use href="#mf4270b9513" x="1527.568" y="273.585" style="fill: #0000ff; stroke: #0000ff; stroke-width: 1.25"/>
<use href="#mf4270b9513" x="1530.159" y="300.626" style="fill: #0000ff; stroke: #0000ff; stroke-width: 1.25"/>
<use href="#mf4270b9513" x="1532.751" y="303.524" style="fill: #0000ff; stroke: #0000ff; stroke-width: 1.25"/>
<use href="#mf4270b9513" x="1535.343" y="306.421" style="fill: #0000ff; stroke: #0000ff; stroke-width: 1.25"/>
<use href="#mf4270b9513" x="1537.934" y="322.839" style="fill: #0000ff; stroke: #0000ff; stroke-width: 1.25"/>
<use href="#mf4270b9513" x="1540.526" y="304.489" style="fill: #0000ff; stroke: #0000ff; stroke-width: 1.25"/>
<use href="#mf4270b9513" x="1543.117" y="318.010" style="fill: #0000ff; stroke: #0000ff; stroke-width: 1.25"/>
<use href="#mf4270b9513" x="1545.709" y="310.767" style="fill: #0000ff; stroke: #0000ff; stroke-width: 1.25"/>
<use href="#mf4270b9513" x="1548.301" y="320.907" style="fill: #0000ff; stroke: #0000ff; stroke-width: 1.25"/>
<use href="#mf4270b9513" x="1550.892" y="314.340" style="fill: #0000ff; stroke: #0000ff; stroke-width: 1.25"/>
<use href="#mf4270b9513" x="1553.484" y="320.907" style="fill: #0000ff; stroke: #0000ff; stroke-width: 1.25"/>
<use href="#mf4270b9513" x="1556.075" y="306.711" style="fill: #0000ff; stroke: #0000ff; stroke-width: 1.25"/>
<use href="#mf4270b9513" x="1558.667" y="318.010" style="fill: #0000ff; stroke: #0000ff; stroke-width: 1.25"/>
<use href="#mf4270b9513" x="1561.259" y="322.839" style="fill: #0000ff; stroke: #0000ff; stroke-width: 1.25"/>
<use href="#mf4270b9513" x="1563.850" y="321.873" style="fill: #0000ff; stroke: #0000ff; stroke-width: 1.25"/>
<use href="#mf4270b9513" x="1566.442" y="323.485" style="fill: #0000ff; stroke: #0000ff; stroke-width: 1.25"/>
<use href="#mf4270b9513" x="1569.033" y="324.757" style="fill: #0000ff; stroke: #0000ff; stroke-width: 1.25"/>
<use href="#mf4270b9513" x="1571.625" y="326.160" style="fill: #0000ff; stroke: #0000ff; stroke-width: 1.25"/>
<use href="#mf4270b9513" x="1574.217" y="326.186" style="fill: #0000ff; stroke: #0000ff; stroke-width: 1.25"/>
<use href="#mf4270b9513" x="1576.808" y="325.367" style="fill: #0000ff; stroke: #0000ff; stroke-width: 1.25"/>
<use href="#mf4270b9513" x="1579.400" y="326.522" style="fill: #0000ff; stroke: #0000ff; stroke-width: 1.25"/>
<use href="#mf4270b9513" x="1581.991" y="326.541" style="fill: #0000ff; stroke: #0000ff; stroke-width: 1.25"/>
<use href="#mf4270b9513" x="1584.583" y="325.091" style="fill: #0000ff; stroke: #0000ff; stroke-width: 1.25"/>
<use href="#mf4270b9513" x="1587.175" y="327.070" style="fill: #0000ff; stroke: #0000ff; stroke-width: 1.25"/>
<use href="#mf4270b9513" x="1589.766" y="325.232" style="fill: #0000ff; stroke: #0000ff; stroke-width: 1.25"/>
<use href="#mf4270b9513" x="1592.358" y="325.795" style="fill: #0000ff; stroke: #0000ff; stroke-width: 1.25"/>
<use href="#mf4270b9513" x="1594.950" y="324.194" style="fill: #0000ff; stroke: #0000ff; stroke-width: 1.25"/>
<use href="#mf4270b9513" x="1597.541" y="324.013" style="fill: #0000ff; stroke: #0000ff; stroke-width: 1.25"/>
<use href="#mf4270b9513" x="1600.133" y="324.271" style="fill: #0000ff; stroke: #0000ff; stroke-width: 1.25"/>
<use href="#mf4270b9513" x="1602.724" y="321.873" style="fill: #0000ff; stroke: #0000ff; stroke-width: 1.25"/>
<use href="#mf4270b9513" x="1605.316" y="318.010" style="fill: #0000ff; stroke: #0000ff; stroke-width: 1.25"/>
<use href="#mf4270b9513" x="1607.908" y="319.941" style="fill: #0000ff; stroke: #0000ff; stroke-width: 1.25"/>
<use href="#mf4270b9513" x="1610.499" y="318.010" style="fill: #0000ff; stroke: #0000ff; stroke-width: 1.25"/>
<use href="#mf4270b9513" x="1613.091" y="322.839" style="fill: #0000ff; stroke: #0000ff; stroke-width: 1.25"/>
<use href="#mf4270b9513" x="1615.682" y="325.964" style="fill: #0000ff; stroke: #0000ff; stroke-width: 1.25"/>
<use href="#mf4270b9513" x="1618.274" y="325.411" style="fill: #0000ff; stroke: #0000ff; stroke-width: 1.25"/>
<use href="#mf4270b9513" x="1620.866" y="327.189" style="fill: #0000ff; stroke: #0000ff; stroke-width: 1.25"/>
<use href="#mf4270b9513" x="1623.457" y="326.349" style="fill: #0000ff; stroke: #0000ff; stroke-width: 1.25"/>
<use href="#mf4270b9513" x="1626.049" y="322.970" style="fill: #0000ff; stroke: #0000ff; stroke-width: 1.25"/>
<use href="#mf4270b9513" x="1628.640" y="326.405" style="fill: #0000ff; stroke: #0000ff; stroke-width: 1.25"/>
<use href="#mf4270b9513" x="1631.232" y="324.269" style="fill: #0000ff; stroke: #0000ff; stroke-width: 1.25"/>
<use href="#mf4270b9513" x="1633.824" y="324.459" style="fill: #0000ff; stroke: #0000ff; stroke-width: 1.25"/>
<use href="#mf4270b9513" x="1636.415" y="324.118" style="fill: #0000ff; stroke: #0000ff; stroke-width: 1.25"/>
<use href="#mf4270b9513" x="1639.007" y="325.272" style="fill: #0000ff; stroke: #0000ff; stroke-width: 1.25"/>
<use href="#mf4270b9513" x="1641.598" y="324.708" style="fill: #0000ff; stroke: #0000ff; stroke-width: 1.25"/>
<use href="#mf4270b9513" x="1644.190" y="327.164" style="fill: #0000ff; stroke: #0000ff; stroke-width: 1.25"/>
<use href="#mf4270b9513" x="1646.782" y="321.873" style="fill: #0000ff; stroke: #0000ff; stroke-width: 1.25"/>
<use href="#mf4270b9513" x="1649.373" y="319.941" style="fill: #0000ff; stroke: #0000ff; stroke-width: 1.25"/>
<use href="#mf4270b9513" x="1651.965" y="318.976" style="fill: #0000ff; stroke: #0000ff; stroke-width: 1.25"/>
<use href="#mf4270b9513" x="1654.557" y="320.907" style="fill: #0000ff; stroke: #0000ff; stroke-width: 1.25"/>
<use href="#mf4270b9513" x="1657.148" y="326.875" style="fill: #0000ff; stroke: #0000ff; stroke-width: 1.25"/>
<use href="#mf4270b9513" x="1659.740" y="324.909" style="fill: #0000ff; stroke: #0000ff; stroke-width: 1.25"/>
<use href="#mf4270b9513" x="1662.331" y="326.604" style="fill: #0000ff; stroke: #0000ff; stroke-width: 1.25"/>
<use href="#mf4270b9513" x="1664.923" y="323.061" style="fill: #0000ff; stroke: #0000ff; stroke-width: 1.25"/>
<use href="#mf4270b9513" x="1667.515" y="324.315" style="fill: #0000ff; stroke: #0000ff; stroke-width: 1.25"/>
<use href="#mf4270b9513" x="1670.106" y="324.966" style="fill: #0000ff; stroke: #0000ff; stroke-width: 1.25"/>
<use href="#mf4270b9513" x="1672.698" y="324.196" style="fill: #0000ff; stroke: #0000ff; stroke-width: 1.25"/>
<use href="#mf4270b9513" x="1675.289" y="326.251" style="fill: #0000ff; stroke: #0000ff; stroke-width: 1.25"/>
<use href="#mf4270b9513" x="1677.881" y="323.178" style="fill: #0000ff; stroke: #0000ff; stroke-width: 1.25"/>
<use href="#mf4270b9513" x="1680.473" y="323.584" style="fill: #0000ff; stroke: #0000ff; stroke-width: 1.25"/>
<use href="#mf4270b9513" x="1683.064" y="324.107" style="fill: #0000ff; stroke: #0000ff; stroke-width: 1.25"/>
<use href="#mf4270b9513" x="1685.656" y="325.248" style="fill: #0000ff; stroke: #0000ff; stroke-width: 1.25"/>
<use href="#mf4270b9513" x="1688.247" y="323.571" style="fill: #0000ff; stroke: #0000ff; stroke-width: 1.25"/>
<use href="#mf4270b9513" x="1690.839" y="324.022" style="fill: #0000ff; stroke: #0000ff; stroke-width: 1.25"/>
<use href="#mf4270b9513" x="1693.431" y="324.413" style="fill: #0000ff; stroke: #0000ff; stroke-width: 1.25"/>
<use href="#mf4270b9513" x="1696.022" y="321.873" style="fill: #0000ff; stroke: #0000ff; stroke-width: 1.25"/>
<use href="#mf4270b9513" x="1698.614" y="318.976" style="fill: #0000ff; stroke: #0000ff; stroke-width: 1.25"/>
<use href="#mf4270b9513" x="1701.205" y="319.941" style="fill: #0000ff; stroke: #0000ff; stroke-width: 1.25"/>
<use href="#mf4270b9513" x="1703.797" y="318.976" style="fill: #0000ff; stroke: #0000ff; stroke-width: 1.25"/>
<use href="#mf4270b9513" x="1706.389" y="320.907" style="fill: #0000ff; stroke: #0000ff; stroke-width: 1.25"/>
<use href="#mf4270b9513" x="1708.980" y="326.584" style="fill: #0000ff; stroke: #0000ff; stroke-width: 1.25"/>
<use href="#mf4270b9513" x="1711.572" y="324.110" style="fill: #0000ff; stroke: #0000ff; stroke-width: 1.25"/>
<use href="#mf4270b9513" x="1714.163" y="323.836" style="fill: #0000ff; stroke: #0000ff; stroke-width: 1.25"/>
<use href="#mf4270b9513" x="1716.755" y="322.968" style="fill: #0000ff; stroke: #0000ff; stroke-width: 1.25"/>
</g>
</g>
<g id="line2d_66">
<path d="M 1182.96 328.32 L 1716.48 328.32" clip-path="url(#p6fe620b129)" style="fill: none; stroke: #000000; stroke-width: 1.5; stroke-linecap: square"/>
</g>
<g id="patch_15">
<path d="M 1194.12 341.64 L 1194.12 66.6" style="fill: none; stroke: #000000; stroke-width: 0.8; stroke-linejoin: miter; stroke-linecap: square"/>
</g>
<g id="patch_16">
<path d="M 1706.76 341.64 L 1706.76 66.6" style="fill: none; stroke: #000000; stroke-width: 0.8; stroke-linejoin: miter; stroke-linecap: square"/>
</g>
<g id="patch_17">
<path d="M 1194.12 341.64 L 1706.76 341.64" style="fill: none; stroke: #000000; stroke-width: 0.8; stroke-linejoin: miter; stroke-linecap: square"/>
</g>
<g id="patch_18">
<path d="M 1194.12 66.6 L 1706.76 66.6" style="fill: none; stroke: #000000; stroke-width: 0.8; stroke-linejoin: miter; stroke-linecap: square"/>
</g>
<g id="legend_3">
<g id="patch_19">
<path d="M 1610.88 119.542 L 1699.13 119.542 Q 1701.13 119.542 1701.13 117.542 L 1701.13 72.998 Q 1701.13 70.998 1699.13 70.998 L 1610.88 70.998 Q 1608.88 70.998 1608.88 72.998 L 1608.88 117.542 Q 1608.88 119.542 1610.88 119.542 z" style="fill: #ffffff; opacity: 0.8; stroke: #cccccc; stroke-linejoin: miter"/>
</g>
<g id="line2d_67">
<path d="M 1622.88 82.8 L 1622.88 77.76" style="fill: none; stroke: #1f77b4; stroke-width: 1.5"/>
</g>
<g id="line2d_68">
<path d="M 1612.8 82.8 L 1632.96 82.8" style="fill: none; stroke: #000000; stroke-width: 1.5; stroke-linecap: square"/>
</g>
<g id="line2d_69">
<g>
<use href="#m13b112fa2a" x="1622.88" y="78.106" style="fill: #ff0000; stroke: #ff0000; stroke-width: 1.25"/>
</g>
</g>
<g id="text_57">
<text style="font-size: 10px; font-family: 'DejaVu Sans'; text-anchor: start" x="1640.88" y="82.918">steer_state</text>
</g>
<g id="line2d_70">
<path d="M 1622.88 97.92 L 1622.88 93.6" style="fill: none; stroke: #1f77b4; stroke-width: 1.5"/>
</g>
<g id="line2d_71">
<path d="M 1612.8 97.92 L 1632.96 97.92" style="fill: none; stroke: #000000; stroke-width: 1.5; stroke-linecap: square"/>
</g>
<g id="line2d_72">
<g>
<use href="#m3e2bcab6c5" x="1622.88" y="93.287" style="fill: #008000; stroke: #008000; stroke-width: 1.25"/>
</g>
</g>
<g id="text_58">
<text style="font-size: 10px; font-family: 'DejaVu Sans'; text-anchor: start" x="1640.88" y="98.099">lateral_acc</text>
</g>
<g id="line2d_73">
<path d="M 1622.88 113.04 L 1622.88 108.72" style="fill: none; stroke: #1f77b4; stroke-width: 1.5"/>
</g>
<g id="line2d_74">
<path d="M 1612.8 113.04 L 1632.96 113.04" style="fill: none; stroke: #000000; stroke-width: 1.5; stroke-linecap: square"/>
</g>
<g id="line2d_75">
<g>
<use href="#mf4270b9513" x="1622.88" y="108.468" style="fill: #0000ff; stroke: #0000ff; stroke-width: 1.25"/>
</g>
</g>
<g id="text_59">
<text style="font-size: 10px; font-family: 'DejaVu Sans'; text-anchor: start" x="1640.88" y="113.281">lateral_jerk</text>
</g>
</g>
</g>
<g id="axes_4">
<g id="patch_20">
<path d="M 56.090 689.590 L 568.71 689.590 L 568.71 414.448 L 56.090 414.448 z" style="fill: #ffffff"/>
</g>
<g id="line2d_76">
<path d="M 523.412 430.320 L 523.861 430.022 L 524.309 429.751 L 524.758 429.507 L 525.206 429.291 L 525.655 429.104 L 526.103 428.944 L 526.552 428.813 L 527.000 428.711 L 527.449 428.637 L 527.897 428.593 L 528.346 428.578 L 528.794 428.601 L 529.243 428.662 L 529.691 428.758 L 530.140 428.880 L 530.588 429.022 L 531.037 429.179 L 531.485 429.342 L 531.934 429.508 L 532.382 429.667 L 532.831 429.839 L 533.279 430.039 L 533.728 430.262 L 534.176 430.500 L 534.625 430.745 L 535.073 430.991 L 535.522 431.232 L 535.970 431.458 L 536.418 431.665 L 536.867 431.844 L 537.315 432.013 L 537.764 432.189 L 538.212 432.367 L 538.661 432.539 L 539.109 432.702 L 539.558 432.848 L 540.006 432.971 L 540.455 433.067 L 540.903 433.129 L 541.352 433.151 L 541.800 433.151 L 542.249 433.151 L 542.697 433.151 L 543.146 433.151 L 543.594 433.151 L 544.043 433.114 L 544.491 433.015 L 544.940 432.869 L 545.388 432.691 L 545.837 432.498" clip-path="url(#p5ef1e9b4c9)" style="fill: none; stroke: #008000; stroke-width: 4; stroke-linecap: round"/>
</g>
<g id="PathCollection_7"/>
<g id="PathCollection_8"/>
<g id="line2d_77">
<path d="M 523.412 430.103 L 523.861 429.804 L 524.309 429.533 L 524.758 429.290 L 525.206 429.074 L 525.655 428.886 L 526.103 428.726 L 526.552 428.595 L 527.000 428.493 L 527.449 428.420 L 527.897 428.376 L 528.346 428.361 L 528.794 428.383 L 529.243 428.445 L 529.691 428.540 L 530.140 428.662 L 530.588 428.804 L 531.037 428.961 L 531.485 429.125 L 531.934 429.290 L 532.382 429.449 L 532.831 429.621 L 533.279 429.822 L 533.728 430.044 L 534.176 430.282 L 534.625 430.527 L 535.073 430.774 L 535.522 431.014 L 535.970 431.241 L 536.418 431.447 L 536.867 431.627 L 537.315 431.795 L 537.764 431.972 L 538.212 432.149 L 538.661 432.322 L 539.109 432.484 L 539.558 432.630 L 540.006 432.754 L 540.455 432.849 L 540.903 432.911 L 541.352 432.933 L 541.800 432.933 L 542.249 432.933 L 542.697 432.933 L 543.146 432.933 L 543.594 432.933 L 544.043 432.896 L 544.491 432.797 L 544.940 432.651 L 545.388 432.473 L 545.837 432.280" clip-path="url(#p5ef1e9b4c9)" style="fill: none; stroke: #ff0000; stroke-width: 4; stroke-linecap: round"/>
</g>
<g id="matplotlib.axis_7">
<g id="xtick_24">
<g id="line2d_78">
<g>
<use href="#md68f95e51d" x="79.56" y="690.12" style="stroke: #000000; stroke-width: 0.8"/>
</g>
</g>
<g id="text_60">
<text style="font-size: 10px; font-family: 'DejaVu Sans'; text-anchor: middle" x="79.411" y="704.510">0</text>
</g>
</g>
<g id="xtick_25">
<g id="line2d_79">
<g>
<use href="#md68f95e51d" x="169.56" y="690.12" style="stroke: #000000; stroke-width: 0.8"/>
</g>
</g>
<g id="text_61">
<text style="font-size: 10px; font-family: 'DejaVu Sans'; text-anchor: middle" x="169.108" y="704.510">20</text>
</g>
</g>
<g id="xtick_26">
<g id="line2d_80">
<g>
<use href="#md68f95e51d" x="258.84" y="690.12" style="stroke: #000000; stroke-width: 0.8"/>
</g>
</g>
<g id="text_62">
<text style="font-size: 10px; font-family: 'DejaVu Sans'; text-anchor: middle" x="258.805" y="704.510">40</text>
</g>
</g>
<g id="xtick_27">
<g id="line2d_81">
<g>
<use href="#md68f95e51d" x="348.84" y="690.12" style="stroke: #000000; stroke-width: 0.8"/>
</g>
</g>
<g id="text_63">
<text style="font-size: 10px; font-family: 'DejaVu Sans'; text-anchor: middle" x="348.503" y="704.510">60</text>
</g>
</g>
<g id="xtick_28">
<g id="line2d_82">
<g>
<use href="#md68f95e51d" x="438.84" y="690.12" style="stroke: #000000; stroke-width: 0.8"/>
</g>
</g>
<g id="text_64">
<text style="font-size: 10px; font-family: 'DejaVu Sans'; text-anchor: middle" x="438.200" y="704.510">80</text>
</g>
</g>
<g id="xtick_29">
<g id="line2d_83">
<g>
<use href="#md68f95e51d" x="528.12" y="690.12" style="stroke: #000000; stroke-width: 0.8"/>
</g>
</g>
<g id="text_65">
<text style="font-size: 10px; font-family: 'DejaVu Sans'; text-anchor: middle" x="527.897" y="704.510">100</text>
</g>
</g>
<g id="text_66">
<text style="font-size: 10px; font-family: 'DejaVu Sans'; text-anchor: middle" x="312.400" y="718.590">Time [s]</text>
</g>
</g>
<g id="matplotlib.axis_8">
<g id="ytick_22">
<g id="line2d_84">
<g>
<use href="#me6279a2b69" x="56.52" y="669.96" style="stroke: #000000; stroke-width: 0.8"/>
</g>
</g>
<g id="text_67">
<text style="font-size: 10px; font-family: 'DejaVu Sans'; text-anchor: end" x="49.090" y="673.344">0</text>
</g>
</g>
<g id="ytick_23">
<g id="line2d_85">
<g>
<use href="#me6279a2b69" x="56.52" y="626.04" style="stroke: #000000; stroke-width: 0.8"/>
</g>
</g>
<g id="text_68">
<text style="font-size: 10px; font-family: 'DejaVu Sans'; text-anchor: end" x="49.090" y="629.799">2</text>
</g>
</g>
<g id="ytick_24">
<g id="line2d_86">
<g>
<use href="#me6279a2b69" x="56.52" y="582.84" style="stroke: #000000; stroke-width: 0.8"/>
</g>
</g>
<g id="text_69">
<text style="font-size: 10px; font-family: 'DejaVu Sans'; text-anchor: end" x="49.090" y="586.254">4</text>
</g>
</g>
<g id="ytick_25">
<g id="line2d_87">
<g>
<use href="#me6279a2b69" x="56.52" y="538.92" style="stroke: #000000; stroke-width: 0.8"/>
</g>
</g>
<g id="text_70">
<text style="font-size: 10px; font-family: 'DejaVu Sans'; text-anchor: end" x="49.090" y="542.708">6</text>
</g>
</g>
<g id="ytick_26">
<g id="line2d_88">
<g>
<use href="#me6279a2b69" x="56.52" y="495.72" style="stroke: #000000; stroke-width: 0.8"/>
</g>
</g>
<g id="text_71">
<text style="font-size: 10px; font-family: 'DejaVu Sans'; text-anchor: end" x="49.090" y="499.163">8</text>
</g>
</g>
<g id="ytick_27">
<g id="line2d_89">
<g>
<use href="#me6279a2b69" x="56.52" y="451.8" style="stroke: #000000; stroke-width: 0.8"/>
</g>
</g>
<g id="text_72">
<text style="font-size: 10px; font-family: 'DejaVu Sans'; text-anchor: end" x="49.090" y="455.618">10</text>
</g>
</g>
<g id="text_73">
<text style="font-size: 10px; font-family: 'DejaVu Sans'; text-anchor: middle" x="29.52" y="552.739" transform="rotate(-90 29.52 552.739)">velocity [m/s]</text>
</g>
</g>
<g id="line2d_90">
<path d="M 79.411 429.885 L 80.756 429.386 L 82.550 429.051 L 84.793 428.950 L 86.138 429.029 L 87.035 429.326 L 88.381 430.061 L 89.726 430.973 L 90.174 431.413 L 90.623 432.086 L 91.520 434.368 L 92.865 438.193 L 93.762 440.535 L 96.005 446.988 L 97.350 451.119 L 98.696 456.536 L 101.387 468.521 L 104.975 485.819 L 109.459 508.720 L 112.599 525.737 L 121.120 573.122 L 123.811 586.645 L 125.605 594.382 L 127.399 601.036 L 128.296 603.903 L 129.641 607.224 L 130.987 610.135 L 131.435 610.645 L 132.781 611.019 L 133.229 611.615 L 134.126 613.209 L 134.575 613.686 L 135.472 614.074 L 135.920 613.788 L 136.817 612.563 L 137.266 612.421 L 138.163 612.583 L 139.060 612.352 L 141.302 611.454 L 144.441 609.675 L 146.235 609.291 L 150.720 608.577 L 154.308 608.256 L 156.999 608.223 L 158.793 608.442 L 161.035 608.964 L 163.726 609.826 L 165.072 610.705 L 169.108 613.886 L 170.454 614.528 L 170.902 615.006 L 171.351 615.299 L 171.799 615.367 L 172.696 615.047 L 173.144 614.767 L 173.593 614.698 L 174.490 614.929 L 174.938 614.858 L 175.387 614.556 L 175.835 613.945 L 178.078 609.728 L 178.526 609.292 L 179.423 607.744 L 180.320 605.536 L 182.114 599.410 L 183.908 592.241 L 186.151 582.331 L 189.290 567.039 L 193.775 543.763 L 207.678 470.428 L 209.472 462.209 L 211.714 453.233 L 213.508 446.908 L 216.648 438.353 L 218.890 433.413 L 219.787 432.156 L 220.684 431.163 L 221.581 430.582 L 223.375 430.131 L 226.514 429.653 L 229.654 429.134 L 232.345 428.361 L 235.484 427.477 L 237.278 427.231 L 238.175 427.253 L 239.072 427.500 L 240.417 428.217 L 242.211 429.536 L 243.108 430.341 L 243.557 430.999 L 244.454 433.077 L 246.248 438.183 L 248.042 443.370 L 250.284 448.622 L 251.181 451.469 L 253.424 460.095 L 255.666 469.637 L 258.357 482.146 L 261.048 495.730 L 264.187 513.049 L 270.018 545.568 L 272.260 556.613 L 274.054 563.720 L 275.848 569.919 L 277.193 573.292 L 278.090 575.454 L 281.230 584.746 L 281.678 585.746 L 282.127 586.335 L 282.575 586.523 L 283.921 586.441 L 284.818 585.742 L 285.266 585.884 L 285.715 586.323 L 286.612 587.356 L 288.405 587.293 L 288.854 587.169 L 290.648 586.187 L 291.993 586.202 L 292.442 585.917 L 293.339 585.037 L 294.236 584.514 L 296.478 584.097 L 303.206 583.133 L 306.793 582.440 L 308.587 582.360 L 313.072 582.498 L 313.969 582.555 L 314.418 582.776 L 314.866 583.318 L 316.660 586.405 L 318.903 588.776 L 319.351 588.988 L 323.387 589.177 L 325.181 589.196 L 325.630 588.886 L 328.321 584.584 L 328.769 584.335 L 329.218 583.754 L 329.666 582.647 L 332.357 573.980 L 333.254 571.661 L 334.151 569.480 L 335.048 566.769 L 336.842 560.878 L 338.636 556.708 L 339.084 555.928 L 339.981 555.171 L 340.878 554.506 L 342.672 553.702 L 344.018 552.453 L 346.709 549.581 L 347.606 548.922 L 348.503 548.598 L 349.400 548.673 L 352.539 549.566 L 353.436 549.306 L 354.781 548.501 L 356.575 547.293 L 357.472 546.906 L 358.818 546.740 L 362.854 546.518 L 364.200 546.529 L 364.648 546.709 L 365.545 547.513 L 366.442 548.728 L 369.133 552.736 L 370.030 553.486 L 370.479 553.633 L 371.824 553.547 L 373.169 553.222 L 374.515 552.667 L 375.860 551.884 L 377.206 550.876 L 378.103 549.363 L 379.000 547.640 L 379.897 546.450 L 380.345 545.569 L 381.242 542.691 L 382.139 539.796 L 383.485 536.715 L 384.382 535.237 L 384.830 534.537 L 385.279 533.526 L 387.969 525.862 L 388.418 525.028 L 388.866 524.610 L 390.660 523.963 L 392.454 523.759 L 394.697 523.204 L 395.594 522.682 L 396.939 521.442 L 398.285 520.224 L 399.182 519.744 L 400.079 519.711 L 401.424 520.102 L 403.218 520.664 L 404.563 520.677 L 407.254 520.426 L 412.188 519.905 L 413.982 519.945 L 416.224 520.298 L 420.260 521.295 L 422.054 522.013 L 423.400 522.465 L 424.297 522.500 L 425.642 522.060 L 426.539 521.688 L 426.988 521.763 L 427.885 522.555 L 428.333 522.625 L 428.782 522.222 L 429.679 520.482 L 431.024 517.602 L 431.921 515.922 L 433.267 512.647 L 434.612 508.666 L 435.509 505.060 L 437.303 496.382 L 439.994 481.705 L 443.582 461.900 L 445.376 453.329 L 447.170 446.170 L 448.515 441.811 L 449.861 438.911 L 450.758 437.292 L 451.655 436.281 L 452.552 435.544 L 457.036 431.144 L 458.382 430.342 L 460.624 429.229 L 462.418 428.546 L 463.315 428.295 L 464.212 428.389 L 465.558 428.848 L 467.352 429.840 L 469.146 430.821 L 470.491 431.264 L 471.388 431.343 L 472.285 431.236 L 473.630 430.759 L 475.424 429.759 L 477.218 428.788 L 478.564 428.363 L 479.461 428.298 L 480.358 428.419 L 481.703 428.912 L 483.946 430.185 L 485.291 430.880 L 486.636 431.287 L 487.533 431.339 L 488.430 431.204 L 489.776 430.695 L 492.018 429.415 L 493.364 428.730 L 494.709 428.341 L 495.606 428.304 L 496.503 428.452 L 497.849 428.978 L 502.334 431.226 L 503.230 431.342 L 504.127 431.272 L 505.473 430.841 L 507.267 429.866 L 509.061 428.869 L 510.406 428.398 L 511.303 428.296 L 512.200 428.380 L 513.546 428.828 L 515.340 429.813 L 517.134 430.801 L 518.479 431.255 L 519.376 431.344 L 520.273 431.245 L 521.618 430.780 L 522.964 430.053 L 522.964 430.053" clip-path="url(#p5ef1e9b4c9)" style="fill: none; stroke: #1f77b4; stroke-width: 1.5; stroke-linecap: square"/>
</g>
<g id="line2d_91">
<path d="M 79.411 429.885 L 90.623 429.922 L 91.071 430.195 L 91.968 431.348 L 92.865 432.933 L 93.314 433.999 L 94.211 437.188 L 99.593 460.113 L 102.732 474.964 L 106.768 495.299 L 113.496 530.757 L 119.775 563.493 L 123.811 583.270 L 126.950 597.505 L 129.641 608.671 L 131.435 615.664 L 131.884 616.695 L 132.781 617.976 L 133.229 618.419 L 133.678 618.641 L 134.126 618.506 L 134.575 617.886 L 135.472 616.041 L 136.369 613.417 L 136.817 612.017 L 137.266 611.034 L 138.163 609.794 L 139.060 608.978 L 139.956 608.856 L 170.005 608.856 L 170.454 609.045 L 170.902 609.552 L 171.799 611.181 L 174.490 616.624 L 174.938 617.456 L 175.387 618.030 L 175.835 618.217 L 176.284 618.003 L 176.732 617.490 L 177.629 615.885 L 178.078 614.953 L 178.526 613.740 L 179.872 608.421 L 182.563 597.251 L 185.702 583.161 L 189.290 565.958 L 194.223 541.027 L 206.781 476.923 L 210.369 460.029 L 213.508 446.294 L 216.648 433.578 L 217.545 431.717 L 218.442 430.423 L 218.890 430.029 L 219.339 429.885 L 243.557 429.912 L 244.005 430.107 L 244.902 430.903 L 245.351 431.409 L 245.799 432.119 L 246.696 434.465 L 248.490 440.771 L 250.733 449.010 L 252.975 458.166 L 255.666 470.166 L 258.805 485.246 L 263.290 508.064 L 272.260 553.963 L 275.399 568.775 L 279.436 586.597 L 279.884 588.157 L 280.781 590.082 L 281.230 590.759 L 281.678 591.101 L 282.127 590.912 L 282.575 590.235 L 283.921 587.344 L 285.715 582.340 L 286.163 581.873 L 288.854 581.768 L 290.648 580.987 L 291.096 581.164 L 291.993 581.943 L 292.442 582.119 L 315.763 582.119 L 316.212 581.943 L 317.109 581.164 L 317.557 580.987 L 318.006 581.164 L 318.903 581.943 L 319.351 582.119 L 326.078 582.192 L 326.527 582.578 L 328.321 585.151 L 328.769 585.892 L 329.218 586.378 L 329.666 586.330 L 330.115 585.798 L 331.012 584.035 L 331.460 582.878 L 332.357 579.565 L 334.151 571.674 L 337.291 556.166 L 339.084 549.168 L 339.981 547.321 L 340.878 546.125 L 341.327 545.933 L 371.375 545.847 L 377.654 545.887 L 378.103 546.269 L 380.345 549.314 L 380.794 549.377 L 381.242 548.978 L 382.139 547.457 L 382.588 546.323 L 383.485 542.800 L 385.727 532.069 L 387.072 525.685 L 388.418 520.752 L 388.866 519.806 L 389.763 518.699 L 390.212 518.348 L 390.660 518.217 L 424.297 518.235 L 424.745 518.527 L 425.642 519.821 L 427.436 523.148 L 427.885 524.082 L 428.333 524.725 L 428.782 524.861 L 429.230 524.565 L 429.679 523.973 L 430.576 522.267 L 431.473 520.266 L 432.370 517.429 L 434.612 508.652 L 436.406 500.707 L 438.648 489.459 L 446.273 449.721 L 448.067 442.157 L 449.861 435.779 L 450.758 432.904 L 451.206 431.806 L 451.655 431.069 L 452.552 430.277 L 453.000 430.012 L 453.897 429.885 L 522.964 429.885 L 522.964 429.885" clip-path="url(#p5ef1e9b4c9)" style="fill: none; stroke: #ffa500; stroke-width: 1.5; stroke-linecap: square"/>
</g>
<g id="line2d_92">
<path d="M 79.411 669.384 L 80.756 669.883 L 82.550 670.219 L 84.793 670.320 L 86.138 670.240 L 87.035 669.944 L 88.381 669.209 L 89.726 668.296 L 90.174 667.856 L 91.071 666.475 L 91.968 665.000 L 92.417 664.444 L 92.865 664.125 L 93.314 664.108 L 93.762 664.309 L 94.659 665.160 L 97.350 668.461 L 98.247 668.819 L 100.490 669.226 L 104.526 669.644 L 109.459 670.024 L 111.253 669.966 L 112.599 669.643 L 117.532 667.905 L 122.017 666.243 L 123.362 666.026 L 124.259 666.048 L 125.156 666.328 L 126.502 667.119 L 127.847 668.168 L 128.744 669.354 L 130.538 672.391 L 131.884 675.325 L 132.332 676.015 L 132.781 676.341 L 133.229 676.188 L 133.678 675.591 L 134.575 673.584 L 135.472 671.351 L 137.266 667.997 L 138.163 666.595 L 138.611 666.167 L 139.060 666.010 L 139.956 666.157 L 140.853 666.538 L 144.890 668.688 L 149.375 669.480 L 152.963 669.896 L 156.102 670.037 L 157.896 669.936 L 160.138 669.510 L 163.278 668.612 L 164.175 668.164 L 165.520 667.176 L 168.660 664.620 L 169.557 664.141 L 170.454 663.901 L 170.902 663.931 L 171.351 664.379 L 172.248 666.249 L 173.593 669.384 L 176.732 674.825 L 177.181 675.096 L 177.629 675.068 L 178.078 674.609 L 178.975 672.883 L 179.872 671.057 L 180.320 670.473 L 181.666 669.423 L 183.011 668.745 L 185.254 668.191 L 186.599 668.126 L 189.290 668.303 L 192.878 668.808 L 199.605 670.020 L 205.435 671.338 L 207.678 671.555 L 208.575 671.533 L 209.472 671.320 L 210.817 670.702 L 212.611 669.565 L 213.060 669.247 L 213.957 668.150 L 215.751 665.374 L 216.199 664.893 L 216.648 664.610 L 217.096 664.575 L 217.545 664.741 L 218.442 665.490 L 221.133 668.466 L 222.029 668.820 L 224.272 669.301 L 230.551 670.365 L 236.381 671.951 L 237.727 672.049 L 238.623 671.921 L 239.520 671.570 L 240.866 670.748 L 242.660 669.384 L 243.108 668.928 L 244.005 667.553 L 245.351 665.281 L 245.799 664.721 L 246.248 664.364 L 246.696 664.272 L 247.145 664.418 L 248.042 665.194 L 250.733 668.444 L 251.630 668.839 L 254.321 669.619 L 257.011 670.134 L 259.254 670.315 L 260.599 670.256 L 261.945 669.950 L 263.739 669.261 L 269.121 666.859 L 270.466 666.553 L 271.363 666.489 L 272.260 666.734 L 273.157 667.365 L 274.951 669.158 L 275.848 670.261 L 277.193 672.781 L 278.539 675.243 L 278.987 675.827 L 279.436 676.213 L 279.884 676.352 L 280.333 676.235 L 280.781 675.907 L 281.678 674.739 L 283.024 672.175 L 284.818 668.253 L 286.163 664.319 L 286.612 663.887 L 289.302 664.023 L 290.648 664.185 L 291.096 664.379 L 291.993 665.125 L 293.339 666.467 L 294.236 666.989 L 296.478 667.407 L 303.206 668.370 L 306.793 669.064 L 308.587 669.144 L 313.072 669.006 L 313.969 668.949 L 314.418 668.728 L 314.866 668.186 L 315.763 666.483 L 317.109 663.682 L 317.557 663.029 L 318.006 662.661 L 319.800 662.484 L 324.284 662.313 L 325.181 662.308 L 325.630 662.618 L 326.078 663.446 L 326.975 666.037 L 327.872 668.848 L 329.666 673.068 L 330.563 674.832 L 331.012 675.370 L 331.460 675.568 L 331.909 675.409 L 332.357 674.970 L 333.254 673.485 L 335.497 668.949 L 336.842 666.604 L 338.636 663.322 L 339.533 662.021 L 340.430 661.188 L 340.878 661.004 L 341.327 660.995 L 342.224 661.315 L 343.121 661.969 L 344.466 663.335 L 346.709 665.704 L 347.606 666.359 L 348.503 666.679 L 349.400 666.600 L 352.539 665.695 L 353.436 665.952 L 354.781 666.753 L 356.575 667.957 L 357.472 668.342 L 358.818 668.505 L 362.854 668.719 L 364.200 668.707 L 364.648 668.526 L 365.545 667.722 L 366.442 666.506 L 369.133 662.497 L 370.030 661.745 L 370.479 661.599 L 371.824 661.684 L 373.169 662.009 L 374.515 662.564 L 375.860 663.347 L 377.206 664.355 L 377.654 665.069 L 378.551 667.755 L 379.897 671.734 L 381.242 675.672 L 381.691 676.568 L 382.139 677.046 L 382.588 676.991 L 383.036 676.424 L 383.933 674.251 L 385.279 670.275 L 386.176 668.525 L 388.418 665.108 L 389.315 664.151 L 390.212 663.666 L 391.557 663.702 L 393.351 664.038 L 394.697 664.398 L 395.594 664.919 L 396.939 666.159 L 398.285 667.377 L 399.182 667.857 L 400.079 667.891 L 401.424 667.499 L 403.218 666.937 L 404.563 666.924 L 407.254 667.175 L 412.188 667.696 L 413.982 667.656 L 416.224 667.303 L 420.260 666.307 L 422.054 665.588 L 423.400 665.136 L 424.297 665.120 L 424.745 665.533 L 425.642 667.145 L 426.988 669.776 L 429.230 672.498 L 430.127 673.126 L 430.576 673.216 L 431.024 673.113 L 431.921 672.409 L 434.612 669.370 L 435.061 669.172 L 436.406 669.214 L 438.200 669.536 L 442.236 670.399 L 443.582 670.468 L 444.479 670.317 L 445.824 669.772 L 447.618 668.711 L 448.515 668.053 L 449.412 666.914 L 450.758 664.996 L 451.655 664.172 L 452.103 664.050 L 453.000 664.303 L 453.897 664.957 L 455.242 666.345 L 456.588 667.747 L 457.485 668.426 L 460.176 669.837 L 462.418 670.723 L 463.315 670.974 L 464.212 670.880 L 465.558 670.421 L 467.352 669.430 L 469.146 668.448 L 470.491 668.006 L 471.388 667.926 L 472.285 668.033 L 473.630 668.510 L 475.424 669.510 L 477.218 670.481 L 478.564 670.906 L 479.461 670.972 L 480.358 670.851 L 481.703 670.357 L 483.946 669.085 L 485.291 668.389 L 486.636 667.982 L 487.533 667.930 L 488.430 668.065 L 489.776 668.575 L 492.018 669.854 L 493.364 670.539 L 494.709 670.928 L 495.606 670.965 L 496.503 670.817 L 497.849 670.292 L 502.334 668.044 L 503.230 667.927 L 504.127 667.997 L 505.473 668.428 L 507.267 669.403 L 509.061 670.400 L 510.406 670.871 L 511.303 670.974 L 512.200 670.889 L 513.546 670.441 L 515.340 669.456 L 517.134 668.468 L 518.479 668.015 L 519.376 667.926 L 520.273 668.024 L 521.618 668.489 L 522.964 669.216 L 522.964 669.216" clip-path="url(#p5ef1e9b4c9)" style="fill: none; stroke: #d3d3d3; stroke-width: 1.5; stroke-linecap: square"/>
</g>
<g id="line2d_93">
<path d="M 79.2 669.6 L 522.72 669.6" clip-path="url(#p5ef1e9b4c9)" style="fill: none; stroke-dasharray: 5.55,2.4; stroke-dashoffset: 0; stroke: #8b0000; stroke-width: 1.5"/>
</g>
<g id="patch_21">
<path d="M 56.52 690.12 L 56.52 415.08" style="fill: none; stroke: #000000; stroke-width: 0.8; stroke-linejoin: miter; stroke-linecap: square"/>
</g>
<g id="patch_22">
<path d="M 569.16 690.12 L 569.16 415.08" style="fill: none; stroke: #000000; stroke-width: 0.8; stroke-linejoin: miter; stroke-linecap: square"/>
</g>
<g id="patch_23">
<path d="M 56.52 690.12 L 569.16 690.12" style="fill: none; stroke: #000000; stroke-width: 0.8; stroke-linejoin: miter; stroke-linecap: square"/>
</g>
<g id="patch_24">
<path d="M 56.52 415.08 L 569.16 415.08" style="fill: none; stroke: #000000; stroke-width: 0.8; stroke-linejoin: miter; stroke-linecap: square"/>
</g>
<g id="text_74">
<text style="font-size: 12px; font-family: 'DejaVu Sans'; text-anchor: middle" x="312.4" y="393.281">abs_max(velocity_error) = 0.37922156341346724</text>
<text style="font-size: 12px; font-family: 'DejaVu Sans'; text-anchor: middle" x="312.4" y="408.448">abs_max(velocity_error[straight_line]) = 0.3081083424668276</text>
</g>
<g id="legend_4">
<g id="patch_25">
<path d="M 409.65 591.421 L 561.71 591.421 Q 563.71 591.421 563.71 589.421 L 563.71 514.616 Q 563.71 512.616 561.71 512.616 L 409.65 512.616 Q 407.65 512.616 407.65 514.616 L 407.65 589.421 Q 407.65 591.421 409.65 591.421 z" style="fill: #ffffff; opacity: 0.8; stroke: #cccccc; stroke-linejoin: miter"/>
</g>
<g id="line2d_94">
<path d="M 411.65 521.036 L 421.65 521.036 L 431.65 521.036" style="fill: none; stroke: #1f77b4; stroke-width: 1.5; stroke-linecap: square"/>
</g>
<g id="text_75">
<text style="font-size: 10px; font-family: 'DejaVu Sans'; text-anchor: start" x="439.65" y="524.536">velocity</text>
</g>
<g id="line2d_95">
<path d="M 411.65 536.116 L 421.65 536.116 L 431.65 536.116" style="fill: none; stroke: #ffa500; stroke-width: 1.5; stroke-linecap: square"/>
</g>
<g id="text_76">
<text style="font-size: 10px; font-family: 'DejaVu Sans'; text-anchor: start" x="439.65" y="539.616">velocity_target</text>
</g>
<g id="line2d_96">
<path d="M 411.65 551.297 L 421.65 551.297 L 431.65 551.297" style="fill: none; stroke: #d3d3d3; stroke-width: 1.5; stroke-linecap: square"/>
</g>
<g id="text_77">
<text style="font-size: 10px; font-family: 'DejaVu Sans'; text-anchor: start" x="439.65" y="554.797">velocity_error</text>
</g>
<g id="PathCollection_9">
<g>
<use href="#m0045b0ffa0" x="421.65" y="567.354" style="fill: #008000; stroke: #008000"/>
</g>
</g>
<g id="text_78">
<text style="font-size: 10px; font-family: 'DejaVu Sans'; text-anchor: start" x="439.65" y="569.979">velocity_true_prediction</text>
</g>
<g id="PathCollection_10">
<g>
<use href="#me06b111425" x="421.65" y="582.535" style="fill: #ff0000; stroke: #ff0000"/>
</g>
</g>
<g id="text_79">
<text style="font-size: 10px; font-family: 'DejaVu Sans'; text-anchor: start" x="439.65" y="585.160">velocity_prediction_ilqr</text>
</g>
</g>
</g>
<g id="axes_5">
<g id="patch_26">
<path d="M 624.800 689.590 L 1137.42 689.590 L 1137.42 414.448 L 624.800 414.448 z" style="fill: #ffffff"/>
</g>
<g id="line2d_97">
<path d="M 1092.122 543.617 L 1092.571 543.712 L 1093.019 543.964 L 1093.468 544.341 L 1093.916 544.812 L 1094.365 545.347 L 1094.813 545.914 L 1095.262 546.691 L 1095.710 547.802 L 1096.159 549.130 L 1096.607 550.559 L 1097.056 551.975 L 1097.504 553.262 L 1097.953 554.304 L 1098.401 555.216 L 1098.850 556.158 L 1099.298 557.083 L 1099.747 557.945 L 1100.195 558.697 L 1100.644 559.292 L 1101.092 559.683 L 1101.541 559.824 L 1101.989 559.737 L 1102.438 559.499 L 1102.886 559.141 L 1103.335 558.697 L 1103.783 558.200 L 1104.232 557.681 L 1104.680 557.174 L 1105.128 556.609 L 1105.577 555.922 L 1106.025 555.161 L 1106.474 554.374 L 1106.922 553.606 L 1107.371 552.905 L 1107.819 552.317 L 1108.268 551.779 L 1108.716 551.222 L 1109.165 550.682 L 1109.613 550.197 L 1110.062 549.805 L 1110.510 549.542 L 1110.959 549.446 L 1111.407 549.452 L 1111.856 549.476 L 1112.304 549.533 L 1112.753 549.636 L 1113.201 549.798 L 1113.650 550.033 L 1114.098 550.352 L 1114.547 550.771" clip-path="url(#pc964f7d2d0)" style="fill: none; stroke: #008000; stroke-width: 4; stroke-linecap: round"/>
</g>
<g id="PathCollection_11"/>
<g id="PathCollection_12"/>
<g id="line2d_98">
<path d="M 1092.122 543.617 L 1092.571 543.776 L 1093.019 544.052 L 1093.468 544.424 L 1093.916 544.872 L 1094.365 545.375 L 1094.813 545.914 L 1095.262 546.622 L 1095.710 547.586 L 1096.159 548.713 L 1096.607 549.909 L 1097.056 551.081 L 1097.504 552.136 L 1097.953 552.979 L 1098.401 553.705 L 1098.850 554.447 L 1099.298 555.170 L 1099.747 555.839 L 1100.195 556.420 L 1100.644 556.877 L 1101.092 557.177 L 1101.541 557.285 L 1101.989 557.182 L 1102.438 556.901 L 1102.886 556.485 L 1103.335 555.975 L 1103.783 555.414 L 1104.232 554.843 L 1104.680 554.304 L 1105.128 553.734 L 1105.577 553.070 L 1106.025 552.356 L 1106.474 551.636 L 1106.922 550.956 L 1107.371 550.358 L 1107.819 549.888 L 1108.268 549.490 L 1108.716 549.094 L 1109.165 548.722 L 1109.613 548.395 L 1110.062 548.135 L 1110.510 547.963 L 1110.959 547.901 L 1111.407 547.938 L 1111.856 548.049 L 1112.304 548.236 L 1112.753 548.498 L 1113.201 548.838 L 1113.650 549.256 L 1114.098 549.753 L 1114.547 550.330" clip-path="url(#pc964f7d2d0)" style="fill: none; stroke: #ff0000; stroke-width: 4; stroke-linecap: round"/>
</g>
<g id="matplotlib.axis_9">
<g id="xtick_30">
<g id="line2d_99">
<g>
<use href="#md68f95e51d" x="648.36" y="690.12" style="stroke: #000000; stroke-width: 0.8"/>
</g>
</g>
<g id="text_80">
<text style="font-size: 10px; font-family: 'DejaVu Sans'; text-anchor: middle" x="648.121" y="704.510">0</text>
</g>
</g>
<g id="xtick_31">
<g id="line2d_100">
<g>
<use href="#md68f95e51d" x="738.36" y="690.12" style="stroke: #000000; stroke-width: 0.8"/>
</g>
</g>
<g id="text_81">
<text style="font-size: 10px; font-family: 'DejaVu Sans'; text-anchor: middle" x="737.818" y="704.510">20</text>
</g>
</g>
<g id="xtick_32">
<g id="line2d_101">
<g>
<use href="#md68f95e51d" x="827.64" y="690.12" style="stroke: #000000; stroke-width: 0.8"/>
</g>
</g>
<g id="text_82">
<text style="font-size: 10px; font-family: 'DejaVu Sans'; text-anchor: middle" x="827.515" y="704.510">40</text>
</g>
</g>
<g id="xtick_33">
<g id="line2d_102">
<g>
<use href="#md68f95e51d" x="917.64" y="690.12" style="stroke: #000000; stroke-width: 0.8"/>
</g>
</g>
<g id="text_83">
<text style="font-size: 10px; font-family: 'DejaVu Sans'; text-anchor: middle" x="917.213" y="704.510">60</text>
</g>
</g>
<g id="xtick_34">
<g id="line2d_103">
<g>
<use href="#md68f95e51d" x="1006.92" y="690.12" style="stroke: #000000; stroke-width: 0.8"/>
</g>
</g>
<g id="text_84">
<text style="font-size: 10px; font-family: 'DejaVu Sans'; text-anchor: middle" x="1006.910" y="704.510">80</text>
</g>
</g>
<g id="xtick_35">
<g id="line2d_104">
<g>
<use href="#md68f95e51d" x="1096.92" y="690.12" style="stroke: #000000; stroke-width: 0.8"/>
</g>
</g>
<g id="text_85">
<text style="font-size: 10px; font-family: 'DejaVu Sans'; text-anchor: middle" x="1096.607" y="704.510">100</text>
</g>
</g>
<g id="text_86">
<text style="font-size: 10px; font-family: 'DejaVu Sans'; text-anchor: middle" x="881.110" y="718.590">Time [s]</text>
</g>
</g>
<g id="matplotlib.axis_10">
<g id="ytick_28">
<g id="line2d_105">
<g>
<use href="#me6279a2b69" x="625.32" y="682.92" style="stroke: #000000; stroke-width: 0.8"/>
</g>
</g>
<g id="text_87">
<text style="font-size: 10px; font-family: 'DejaVu Sans'; text-anchor: end" x="617.800" y="686.771">−0.6</text>
</g>
</g>
<g id="ytick_29">
<g id="line2d_106">
<g>
<use href="#me6279a2b69" x="625.32" y="639" style="stroke: #000000; stroke-width: 0.8"/>
</g>
</g>
<g id="text_88">
<text style="font-size: 10px; font-family: 'DejaVu Sans'; text-anchor: end" x="617.800" y="642.610">−0.4</text>
</g>
</g>
<g id="ytick_30">
<g id="line2d_107">
<g>
<use href="#me6279a2b69" x="625.32" y="595.08" style="stroke: #000000; stroke-width: 0.8"/>
</g>
</g>
<g id="text_89">
<text style="font-size: 10px; font-family: 'DejaVu Sans'; text-anchor: end" x="617.800" y="598.450">−0.2</text>
</g>
</g>
<g id="ytick_31">
<g id="line2d_108">
<g>
<use href="#me6279a2b69" x="625.32" y="550.44" style="stroke: #000000; stroke-width: 0.8"/>
</g>
</g>
<g id="text_90">
<text style="font-size: 10px; font-family: 'DejaVu Sans'; text-anchor: end" x="617.800" y="554.290">0.0</text>
</g>
</g>
<g id="ytick_32">
<g id="line2d_109">
<g>
<use href="#me6279a2b69" x="625.32" y="506.52" style="stroke: #000000; stroke-width: 0.8"/>
</g>
</g>
<g id="text_91">
<text style="font-size: 10px; font-family: 'DejaVu Sans'; text-anchor: end" x="617.800" y="510.129">0.2</text>
</g>
</g>
<g id="ytick_33">
<g id="line2d_110">
<g>
<use href="#me6279a2b69" x="625.32" y="462.6" style="stroke: #000000; stroke-width: 0.8"/>
</g>
</g>
<g id="text_92">
<text style="font-size: 10px; font-family: 'DejaVu Sans'; text-anchor: end" x="617.800" y="465.969">0.4</text>
</g>
</g>
<g id="ytick_34">
<g id="line2d_111">
<g>
<use href="#me6279a2b69" x="625.32" y="417.96" style="stroke: #000000; stroke-width: 0.8"/>
</g>
</g>
<g id="text_93">
<text style="font-size: 10px; font-family: 'DejaVu Sans'; text-anchor: end" x="617.800" y="421.808">0.6</text>
</g>
</g>
<g id="text_94">
<text style="font-size: 10px; font-family: 'DejaVu Sans'; text-anchor: middle" x="586.71" y="552.739" transform="rotate(-90 586.71 552.739)">yaw [rad]</text>
</g>
</g>
<g id="line2d_112">
<path d="M 648.121 550.330 L 694.763 550.222 L 697.006 549.853 L 705.527 548.150 L 707.321 548.142 L 709.563 548.356 L 712.254 548.847 L 716.739 549.951 L 721.224 550.980 L 723.915 551.353 L 726.157 551.431 L 729.297 551.287 L 733.333 550.849 L 740.509 549.758 L 745.891 549.051 L 749.479 548.806 L 752.170 548.839 L 754.412 549.136 L 757.551 549.827 L 762.933 551.082 L 765.176 551.379 L 766.970 551.426 L 768.764 551.260 L 771.006 550.819 L 779.527 548.849 L 781.321 548.798 L 782.667 548.994 L 784.461 549.531 L 787.600 550.844 L 790.291 551.871 L 792.085 552.262 L 793.430 552.294 L 794.776 551.990 L 796.121 551.409 L 798.364 550.109 L 801.055 548.591 L 802.400 548.091 L 803.746 547.901 L 805.091 548.022 L 806.885 548.490 L 809.127 549.374 L 812.715 550.844 L 814.509 551.312 L 815.855 551.434 L 817.649 551.270 L 819.891 550.735 L 824.824 549.389 L 826.618 549.226 L 827.964 549.337 L 829.758 549.773 L 832.000 550.614 L 836.485 552.410 L 838.279 552.846 L 839.625 552.957 L 840.073 552.839 L 840.521 552.507 L 841.418 551.352 L 842.764 548.930 L 844.109 546.208 L 844.558 544.873 L 845.006 542.917 L 845.903 537.012 L 847.249 528.088 L 848.594 519.158 L 849.940 507.087 L 852.631 479.827 L 854.873 457.938 L 855.770 450.712 L 856.667 445.477 L 858.909 435.063 L 859.358 433.606 L 859.806 433.216 L 860.255 434.232 L 860.703 436.552 L 861.600 443.083 L 862.946 454.777 L 865.188 478.500 L 867.879 507.271 L 869.225 519.720 L 871.467 537.709 L 874.158 558.957 L 875.503 571.389 L 877.297 590.519 L 883.128 656.627 L 884.025 663.903 L 884.922 669.489 L 885.819 673.448 L 886.716 675.918 L 887.164 676.560 L 887.613 676.731 L 888.061 676.347 L 888.510 675.320 L 888.958 673.576 L 889.407 671.072 L 890.303 663.813 L 891.200 653.959 L 892.546 636.109 L 894.788 605.596 L 896.134 591.052 L 897.031 583.906 L 897.928 578.760 L 898.825 575.176 L 900.170 571.279 L 901.067 568.587 L 901.964 564.986 L 902.861 559.907 L 903.758 553.057 L 904.655 544.493 L 906.001 529.205 L 909.588 486.299 L 910.485 478.165 L 911.382 472.135 L 912.279 468.349 L 912.728 467.250 L 913.176 466.639 L 913.625 466.499 L 914.073 466.828 L 914.522 467.639 L 914.970 468.952 L 915.419 470.783 L 916.316 475.984 L 917.213 482.999 L 919.007 500.183 L 920.801 517.268 L 922.146 527.694 L 923.043 533.162 L 924.388 539.532 L 927.528 552.609 L 928.425 557.800 L 929.322 564.258 L 930.667 576.424 L 932.461 595.859 L 934.255 615.279 L 935.152 623.373 L 936.049 629.496 L 936.946 633.319 L 937.395 634.418 L 937.843 635.062 L 938.292 635.323 L 938.740 635.254 L 939.189 634.879 L 939.637 634.188 L 940.085 633.145 L 940.534 631.702 L 941.431 627.460 L 942.328 621.363 L 943.673 609.488 L 946.364 583.875 L 947.261 576.989 L 948.158 571.493 L 949.055 567.334 L 949.952 564.226 L 951.298 560.607 L 952.643 556.830 L 953.540 553.452 L 954.437 548.931 L 955.334 543.043 L 956.679 531.753 L 958.922 509.338 L 960.267 496.686 L 961.164 489.905 L 962.061 485.092 L 962.510 483.501 L 962.958 482.444 L 963.407 481.893 L 963.855 481.818 L 964.304 482.197 L 964.752 483.024 L 965.201 484.299 L 966.098 488.199 L 966.995 493.769 L 968.340 504.368 L 971.480 530.412 L 972.376 536.274 L 973.273 540.962 L 974.170 544.501 L 975.067 547.136 L 977.758 553.806 L 978.655 557.173 L 979.552 561.816 L 980.449 567.957 L 981.795 579.775 L 984.934 610.369 L 985.831 616.548 L 986.728 620.431 L 987.177 621.523 L 987.625 622.135 L 988.074 622.352 L 988.522 622.241 L 988.970 621.825 L 989.419 621.073 L 989.867 619.913 L 990.316 618.258 L 991.213 613.220 L 992.110 605.920 L 993.455 592.140 L 996.146 563.923 L 997.043 557.080 L 997.492 555.413 L 997.940 555.019 L 998.389 555.049 L 1000.631 552.045 L 1001.080 551.869 L 1001.528 551.932 L 1001.977 552.314 L 1002.874 553.881 L 1004.219 556.541 L 1004.668 557.058 L 1005.116 557.206 L 1006.013 556.966 L 1006.910 556.458 L 1007.807 555.578 L 1008.704 554.246 L 1009.601 552.391 L 1010.498 549.947 L 1011.395 546.849 L 1012.292 543.033 L 1012.740 540.835 L 1013.189 540.975 L 1013.637 541.379 L 1014.086 542.036 L 1014.983 544.016 L 1016.328 548.150 L 1018.122 554.019 L 1019.019 556.298 L 1019.916 557.745 L 1020.365 558.098 L 1020.813 558.186 L 1021.262 558.008 L 1021.710 557.569 L 1022.158 556.884 L 1023.055 554.864 L 1024.401 550.725 L 1026.195 544.948 L 1027.092 542.746 L 1027.989 541.383 L 1028.437 541.073 L 1028.886 541.025 L 1029.334 541.240 L 1029.783 541.712 L 1030.680 543.359 L 1031.577 545.761 L 1034.716 555.461 L 1035.613 557.189 L 1036.062 557.710 L 1036.510 557.979 L 1036.959 557.987 L 1037.407 557.735 L 1037.856 557.231 L 1038.752 555.536 L 1039.649 553.113 L 1042.789 543.556 L 1043.686 541.909 L 1044.134 541.430 L 1044.583 541.203 L 1045.031 541.233 L 1045.480 541.521 L 1045.928 542.056 L 1046.825 543.796 L 1047.722 546.238 L 1050.862 555.647 L 1051.759 557.213 L 1052.207 557.651 L 1052.656 557.838 L 1053.104 557.769 L 1053.553 557.447 L 1054.001 556.881 L 1054.898 555.098 L 1055.795 552.641 L 1058.486 544.427 L 1059.383 542.532 L 1059.831 541.898 L 1060.280 541.501 L 1060.728 541.354 L 1061.177 541.460 L 1061.625 541.816 L 1062.074 542.410 L 1062.971 544.234 L 1063.868 546.706 L 1066.559 554.801 L 1067.456 556.619 L 1067.904 557.212 L 1068.353 557.569 L 1068.801 557.677 L 1069.250 557.534 L 1069.698 557.146 L 1070.147 556.523 L 1071.044 554.661 L 1072.389 550.797 L 1074.183 545.341 L 1075.080 543.237 L 1075.977 541.911 L 1076.425 541.594 L 1076.874 541.524 L 1077.322 541.703 L 1077.771 542.123 L 1078.668 543.631 L 1079.565 545.861 L 1083.153 555.941 L 1084.050 557.188 L 1084.498 557.464 L 1084.947 557.497 L 1085.395 557.284 L 1085.844 556.833 L 1086.741 555.279 L 1087.638 553.028 L 1090.777 544.010 L 1091.674 542.421 L 1091.674 542.421" clip-path="url(#pc964f7d2d0)" style="fill: none; stroke: #1f77b4; stroke-width: 1.5; stroke-linecap: square"/>
</g>
<g id="line2d_113">
<path d="M 648.121 550.330 L 843.661 550.241 L 844.109 549.976 L 844.558 549.251 L 845.006 547.754 L 845.455 545.338 L 846.352 538.502 L 853.079 479.892 L 858.909 429.773 L 859.358 427.404 L 859.806 426.680 L 860.255 427.913 L 860.703 430.791 L 862.049 443.310 L 884.025 658.838 L 884.922 665.750 L 885.819 670.686 L 886.267 672.159 L 886.716 672.875 L 887.164 672.813 L 887.613 671.995 L 888.061 670.482 L 888.958 665.757 L 890.303 656.023 L 893.443 630.009 L 911.382 480.303 L 912.279 474.459 L 913.176 470.343 L 913.625 469.157 L 914.073 468.633 L 914.522 468.790 L 914.970 469.608 L 915.419 471.035 L 916.316 475.376 L 917.661 484.204 L 920.801 507.691 L 936.049 622.415 L 936.946 627.717 L 937.843 631.489 L 938.292 632.603 L 938.740 633.130 L 939.189 633.055 L 939.637 632.393 L 940.085 631.192 L 940.982 627.473 L 942.328 619.844 L 945.467 599.483 L 961.613 494.133 L 962.510 489.589 L 963.407 486.429 L 963.855 485.546 L 964.304 485.193 L 964.752 485.385 L 965.201 486.107 L 965.649 487.315 L 966.546 490.922 L 967.892 498.186 L 971.480 520.235 L 985.831 608.793 L 986.728 613.215 L 987.625 616.371 L 988.074 617.284 L 988.522 617.674 L 988.970 617.512 L 989.419 616.797 L 989.867 615.560 L 990.764 611.755 L 992.110 603.858 L 995.249 582.535 L 997.492 568.087 L 998.837 561.039 L 999.734 557.386 L 1000.631 554.599 L 1001.528 552.594 L 1002.425 551.239 L 1003.322 550.397 L 1004.219 549.927 L 1005.564 549.639 L 1007.807 549.560 L 1041.892 549.557 L 1091.674 549.557 L 1091.674 549.557" clip-path="url(#pc964f7d2d0)" style="fill: none; stroke: #ffa500; stroke-width: 1.5; stroke-linecap: square"/>
</g>
<g id="line2d_114">
<path d="M 648.121 550.330 L 694.763 550.437 L 697.006 550.807 L 705.527 552.510 L 707.321 552.517 L 709.563 552.303 L 712.254 551.813 L 716.739 550.709 L 721.224 549.680 L 723.915 549.306 L 726.157 549.228 L 729.297 549.372 L 733.333 549.810 L 740.509 550.902 L 745.891 551.609 L 749.479 551.853 L 752.170 551.820 L 754.412 551.523 L 757.551 550.832 L 762.933 549.578 L 765.176 549.281 L 766.970 549.233 L 768.764 549.399 L 771.006 549.840 L 779.527 551.810 L 781.321 551.861 L 782.667 551.666 L 784.461 551.129 L 787.600 549.816 L 790.291 548.788 L 792.085 548.398 L 793.430 548.365 L 794.776 548.670 L 796.121 549.250 L 798.364 550.550 L 801.055 552.068 L 802.400 552.569 L 803.746 552.758 L 805.091 552.637 L 806.885 552.169 L 809.127 551.285 L 812.715 549.815 L 814.509 549.347 L 815.855 549.226 L 817.649 549.389 L 819.891 549.924 L 824.824 551.270 L 826.618 551.434 L 827.964 551.322 L 829.758 550.886 L 832.000 550.046 L 836.485 548.249 L 838.279 547.814 L 839.625 547.702 L 840.073 547.821 L 840.521 548.152 L 841.418 549.307 L 842.764 551.727 L 844.109 554.098 L 845.006 555.166 L 845.455 555.437 L 845.903 555.467 L 846.352 555.002 L 847.249 553.003 L 848.146 550.851 L 848.594 550.195 L 849.043 550.052 L 849.491 550.206 L 850.388 550.985 L 851.285 552.197 L 853.528 555.564 L 854.425 556.424 L 854.873 556.631 L 855.322 556.611 L 855.770 556.030 L 856.219 554.926 L 857.115 551.704 L 858.461 546.389 L 858.909 545.039 L 859.358 544.128 L 859.806 543.794 L 860.255 544.010 L 860.703 544.569 L 862.497 547.486 L 862.946 547.702 L 863.394 547.618 L 864.291 547.033 L 865.637 545.560 L 866.982 544.088 L 867.879 543.503 L 868.328 543.419 L 868.776 543.564 L 869.225 543.974 L 870.122 545.435 L 871.019 547.492 L 873.709 554.142 L 874.606 555.487 L 875.055 555.822 L 875.503 555.883 L 875.952 555.702 L 876.400 555.318 L 877.297 554.040 L 878.194 552.258 L 881.782 544.248 L 882.679 543.064 L 883.128 542.738 L 883.576 542.624 L 884.025 542.913 L 884.922 544.578 L 885.819 546.242 L 886.267 546.532 L 886.716 546.057 L 887.164 544.833 L 888.958 538.439 L 889.407 537.965 L 889.855 538.337 L 890.303 539.389 L 890.752 541.019 L 891.649 545.616 L 893.443 557.367 L 894.788 565.271 L 895.685 568.611 L 896.134 569.403 L 896.582 569.480 L 897.031 568.839 L 897.479 567.575 L 898.376 563.561 L 899.722 555.280 L 901.516 544.079 L 902.413 540.153 L 902.861 538.946 L 903.310 538.374 L 903.758 538.465 L 904.207 539.046 L 904.655 540.044 L 905.552 543.034 L 906.897 549.053 L 908.691 557.271 L 909.588 560.319 L 910.037 561.355 L 910.485 561.980 L 910.934 562.124 L 911.382 561.528 L 912.279 558.733 L 913.176 555.673 L 913.625 554.746 L 914.522 553.885 L 915.419 553.219 L 915.867 552.758 L 916.316 552.059 L 917.213 549.898 L 919.007 544.130 L 919.904 541.440 L 920.801 539.489 L 921.249 538.935 L 921.698 538.738 L 922.146 538.962 L 922.595 539.596 L 923.043 540.585 L 923.940 543.401 L 925.285 548.876 L 927.079 556.151 L 927.976 558.764 L 928.425 559.618 L 928.873 560.095 L 929.322 560.137 L 929.770 559.705 L 930.219 558.854 L 931.116 556.159 L 932.461 550.635 L 933.807 544.930 L 934.704 541.916 L 935.152 540.845 L 935.601 540.153 L 936.049 539.908 L 936.498 540.467 L 936.946 541.866 L 938.292 546.900 L 938.740 547.459 L 939.189 547.311 L 939.637 547.018 L 940.982 545.435 L 941.431 545.428 L 941.879 545.931 L 942.328 546.861 L 943.225 549.690 L 946.364 561.526 L 946.813 562.417 L 947.261 562.873 L 947.710 562.827 L 948.158 562.315 L 948.607 561.399 L 949.504 558.594 L 950.849 552.863 L 952.643 544.912 L 953.540 541.890 L 953.989 540.829 L 954.437 540.148 L 954.886 539.908 L 955.334 540.150 L 955.782 540.833 L 956.231 541.892 L 957.128 544.875 L 960.716 558.766 L 961.164 559.645 L 961.613 560.115 L 962.061 560.050 L 962.510 559.194 L 963.855 555.629 L 964.752 554.772 L 965.649 553.951 L 966.098 553.270 L 966.995 551.266 L 968.340 547.262 L 970.134 541.773 L 971.031 539.698 L 971.480 538.971 L 971.928 538.505 L 972.376 538.340 L 972.825 538.579 L 973.273 539.255 L 973.722 540.309 L 974.619 543.306 L 975.964 549.121 L 977.758 556.804 L 978.655 559.530 L 979.104 560.402 L 979.552 560.867 L 980.001 560.852 L 980.449 560.277 L 980.898 559.208 L 981.795 555.934 L 983.140 549.468 L 984.486 543.195 L 985.383 540.264 L 985.831 539.432 L 986.280 539.135 L 986.728 539.726 L 987.625 542.985 L 988.074 544.676 L 988.522 545.756 L 988.970 545.711 L 990.316 542.248 L 990.764 542.548 L 991.213 543.390 L 991.661 544.689 L 992.558 548.316 L 995.698 562.850 L 996.146 564.021 L 996.595 564.709 L 997.043 564.760 L 997.492 563.295 L 998.389 558.474 L 999.286 555.781 L 1000.631 552.884 L 1001.977 549.860 L 1004.219 543.716 L 1004.668 543.062 L 1005.116 542.822 L 1006.013 542.966 L 1006.910 543.441 L 1007.807 544.311 L 1008.704 545.641 L 1009.601 547.496 L 1010.498 549.940 L 1011.395 553.037 L 1012.292 556.854 L 1012.740 559.051 L 1013.189 558.912 L 1013.637 558.507 L 1014.086 557.851 L 1014.983 555.871 L 1016.328 551.737 L 1018.122 545.867 L 1019.019 543.589 L 1019.916 542.141 L 1020.365 541.789 L 1020.813 541.700 L 1021.262 541.878 L 1021.710 542.317 L 1022.158 543.003 L 1023.055 545.022 L 1024.401 549.161 L 1026.195 554.939 L 1027.092 557.141 L 1027.989 558.503 L 1028.437 558.814 L 1028.886 558.862 L 1029.334 558.646 L 1029.783 558.174 L 1030.680 556.527 L 1031.577 554.125 L 1034.716 544.426 L 1035.613 542.697 L 1036.062 542.176 L 1036.510 541.908 L 1036.959 541.899 L 1037.407 542.152 L 1037.856 542.656 L 1038.752 544.350 L 1039.649 546.774 L 1042.789 556.330 L 1043.686 557.977 L 1044.134 558.456 L 1044.583 558.684 L 1045.031 558.653 L 1045.480 558.365 L 1045.928 557.830 L 1046.825 556.090 L 1047.722 553.648 L 1050.862 544.239 L 1051.759 542.673 L 1052.207 542.236 L 1052.656 542.048 L 1053.104 542.117 L 1053.553 542.439 L 1054.001 543.005 L 1054.898 544.788 L 1055.795 547.246 L 1058.486 555.460 L 1059.383 557.355 L 1059.831 557.989 L 1060.280 558.385 L 1060.728 558.533 L 1061.177 558.427 L 1061.625 558.071 L 1062.074 557.476 L 1062.971 555.652 L 1063.868 553.181 L 1066.559 545.086 L 1067.456 543.267 L 1067.904 542.674 L 1068.353 542.318 L 1068.801 542.209 L 1069.250 542.352 L 1069.698 542.741 L 1070.147 543.363 L 1071.044 545.226 L 1072.389 549.090 L 1074.183 554.545 L 1075.080 556.650 L 1075.977 557.976 L 1076.425 558.292 L 1076.874 558.362 L 1077.322 558.184 L 1077.771 557.763 L 1078.668 556.256 L 1079.565 554.026 L 1083.153 543.946 L 1084.050 542.699 L 1084.498 542.422 L 1084.947 542.390 L 1085.395 542.602 L 1085.844 543.054 L 1086.741 544.607 L 1087.638 546.858 L 1090.777 555.876 L 1091.674 557.466 L 1091.674 557.466" clip-path="url(#pc964f7d2d0)" style="fill: none; stroke: #d3d3d3; stroke-width: 1.5; stroke-linecap: square"/>
</g>
<g id="line2d_115">
<path d="M 648 550.08 L 1091.52 550.08" clip-path="url(#pc964f7d2d0)" style="fill: none; stroke-dasharray: 5.55,2.4; stroke-dashoffset: 0; stroke: #8b0000; stroke-width: 1.5"/>
</g>
<g id="patch_27">
<path d="M 625.32 690.12 L 625.32 415.08" style="fill: none; stroke: #000000; stroke-width: 0.8; stroke-linejoin: miter; stroke-linecap: square"/>
</g>
<g id="patch_28">
<path d="M 1137.96 690.12 L 1137.96 415.08" style="fill: none; stroke: #000000; stroke-width: 0.8; stroke-linejoin: miter; stroke-linecap: square"/>
</g>
<g id="patch_29">
<path d="M 625.32 690.12 L 1137.96 690.12" style="fill: none; stroke: #000000; stroke-width: 0.8; stroke-linejoin: miter; stroke-linecap: square"/>
</g>
<g id="patch_30">
<path d="M 625.32 415.08 L 1137.96 415.08" style="fill: none; stroke: #000000; stroke-width: 0.8; stroke-linejoin: miter; stroke-linecap: square"/>
</g>
<g id="text_95">
<text style="font-size: 12px; font-family: 'DejaVu Sans'; text-anchor: middle" x="881.11" y="393.281">abs_max(yaw_error) = 0.08838448619152625</text>
<text style="font-size: 12px; font-family: 'DejaVu Sans'; text-anchor: middle" x="881.11" y="408.448">abs_max(yaw_error[straight_line]) = 0.009591820806067658</text>
</g>
<g id="legend_5">
<g id="patch_31">
<path d="M 997.17 498.253 L 1130.42 498.253 Q 1132.42 498.253 1132.42 496.253 L 1132.42 421.448 Q 1132.42 419.448 1130.42 419.448 L 997.17 419.448 Q 995.17 419.448 995.17 421.448 L 995.17 496.253 Q 995.17 498.253 997.17 498.253 z" style="fill: #ffffff; opacity: 0.8; stroke: #cccccc; stroke-linejoin: miter"/>
</g>
<g id="line2d_116">
<path d="M 999.17 427.868 L 1009.17 427.868 L 1019.17 427.868" style="fill: none; stroke: #1f77b4; stroke-width: 1.5; stroke-linecap: square"/>
</g>
<g id="text_96">
<text style="font-size: 10px; font-family: 'DejaVu Sans'; text-anchor: start" x="1027.17" y="431.368">yaw</text>
</g>
<g id="line2d_117">
<path d="M 999.17 442.948 L 1009.17 442.948 L 1019.17 442.948" style="fill: none; stroke: #ffa500; stroke-width: 1.5; stroke-linecap: square"/>
</g>
<g id="text_97">
<text style="font-size: 10px; font-family: 'DejaVu Sans'; text-anchor: start" x="1027.17" y="446.448">yaw_target</text>
</g>
<g id="line2d_118">
<path d="M 999.17 458.129 L 1009.17 458.129 L 1019.17 458.129" style="fill: none; stroke: #d3d3d3; stroke-width: 1.5; stroke-linecap: square"/>
</g>
<g id="text_98">
<text style="font-size: 10px; font-family: 'DejaVu Sans'; text-anchor: start" x="1027.17" y="461.629">yaw_error</text>
</g>
<g id="PathCollection_13">
<g>
<use href="#m0045b0ffa0" x="1009.17" y="474.185" style="fill: #008000; stroke: #008000"/>
</g>
</g>
<g id="text_99">
<text style="font-size: 10px; font-family: 'DejaVu Sans'; text-anchor: start" x="1027.17" y="476.810">yaw_true_prediction</text>
</g>
<g id="PathCollection_14">
<g>
<use href="#me06b111425" x="1009.17" y="489.367" style="fill: #ff0000; stroke: #ff0000"/>
</g>
</g>
<g id="text_100">
<text style="font-size: 10px; font-family: 'DejaVu Sans'; text-anchor: start" x="1027.17" y="491.992">yaw_prediction_ilqr</text>
</g>
</g>
</g>
<g id="axes_6">
<g id="patch_32">
<path d="M 56.090 1038.039 L 568.71 1038.039 L 568.71 762.898 L 56.090 762.898 z" style="fill: #ffffff"/>
</g>
<g id="line2d_119">
<path d="M 523.861 884.545 L 524.309 885.941 L 524.758 887.367 L 525.206 888.822 L 525.655 890.310 L 526.103 891.831 L 526.552 893.385 L 527.000 895.052 L 527.449 896.868 L 527.897 898.773 L 528.346 900.708 L 528.794 902.611 L 529.243 904.422 L 529.691 906.083 L 530.140 907.531 L 530.588 908.707 L 531.037 909.742 L 531.485 910.776 L 531.934 911.768 L 532.382 912.674 L 532.831 913.453 L 533.279 914.062 L 533.728 914.459 L 534.176 914.601 L 534.625 914.489 L 535.073 914.182 L 535.522 913.717 L 535.970 913.133 L 536.418 912.471 L 536.867 911.768 L 537.315 911.065 L 537.764 910.269 L 538.212 909.288 L 538.661 908.160 L 539.109 906.922 L 539.558 905.612 L 540.006 904.266 L 540.455 902.922 L 540.903 901.618 L 541.352 900.391 L 541.800 899.278 L 542.249 898.244 L 542.697 897.227 L 543.146 896.229 L 543.594 895.251 L 544.043 894.293 L 544.491 893.356 L 544.940 892.441 L 545.388 891.550 L 545.837 890.683 L 546.285 889.841" clip-path="url(#p7e3aa7d701)" style="fill: none; stroke: #008000; stroke-width: 2.6; stroke-linecap: round"/>
</g>
<g id="PathCollection_15"/>
<g id="PathCollection_16"/>
<g id="PathCollection_17"/>
<g id="line2d_120">
<path d="M 523.861 884.074 L 524.309 885.470 L 524.758 886.895 L 525.206 888.351 L 525.655 889.839 L 526.103 891.359 L 526.552 892.914 L 527.000 894.580 L 527.449 896.397 L 527.897 898.302 L 528.346 900.236 L 528.794 902.139 L 529.243 903.951 L 529.691 905.611 L 530.140 907.060 L 530.588 908.236 L 531.037 909.270 L 531.485 910.305 L 531.934 911.296 L 532.382 912.203 L 532.831 912.982 L 533.279 913.591 L 533.728 913.988 L 534.176 914.129 L 534.625 914.018 L 535.073 913.710 L 535.522 913.245 L 535.970 912.662 L 536.418 911.999 L 536.867 911.297 L 537.315 910.593 L 537.764 909.797 L 538.212 908.817 L 538.661 907.689 L 539.109 906.451 L 539.558 905.140 L 540.006 903.794 L 540.455 902.451 L 540.903 901.147 L 541.352 899.920 L 541.800 898.807 L 542.249 897.772 L 542.697 896.756 L 543.146 895.758 L 543.594 894.779 L 544.043 893.821 L 544.491 892.884 L 544.940 891.970 L 545.388 891.079 L 545.837 890.211 L 546.285 889.369" clip-path="url(#p7e3aa7d701)" style="fill: none; stroke: #ff0000; stroke-width: 3.2; stroke-linecap: round"/>
</g>
<g id="line2d_121">
<path d="M 522.874 884.545 L 523.323 885.941 L 523.771 887.367 L 524.220 888.822 L 524.668 890.310 L 525.117 891.831 L 525.565 893.385 L 526.014 895.052 L 526.462 896.868 L 526.911 898.773 L 527.359 900.708 L 527.808 902.611 L 528.256 904.422 L 528.705 906.083 L 529.153 907.531 L 529.601 908.707 L 530.050 909.742 L 530.498 910.776 L 530.947 911.768 L 531.395 912.674 L 531.844 913.453 L 532.292 914.062 L 532.741 914.459 L 533.189 914.601 L 533.638 914.489 L 534.086 914.182 L 534.535 913.717 L 534.983 913.133 L 535.432 912.471 L 535.880 911.768 L 536.329 911.065 L 536.777 910.269 L 537.226 909.288 L 537.674 908.160 L 538.123 906.922 L 538.571 905.612 L 539.020 904.266 L 539.468 902.922 L 539.917 901.618 L 540.365 900.391 L 540.814 899.278 L 541.262 898.244 L 541.711 897.227 L 542.159 896.229 L 542.608 895.251 L 543.056 894.293 L 543.505 893.356 L 543.953 892.441 L 544.402 891.550 L 544.850 890.683 L 545.299 889.841" clip-path="url(#p7e3aa7d701)" style="fill: none; stroke: #dda0dd; stroke-width: 3.8; stroke-linecap: round"/>
</g>
<g id="matplotlib.axis_11">
<g id="xtick_36">
<g id="line2d_122">
<g>
<use href="#md68f95e51d" x="79.56" y="1038.6" style="stroke: #000000; stroke-width: 0.8"/>
</g>
</g>
<g id="text_101">
<text style="font-size: 10px; font-family: 'DejaVu Sans'; text-anchor: middle" x="79.411" y="1052.959">0</text>
</g>
</g>
<g id="xtick_37">
<g id="line2d_123">
<g>
<use href="#md68f95e51d" x="169.56" y="1038.6" style="stroke: #000000; stroke-width: 0.8"/>
</g>
</g>
<g id="text_102">
<text style="font-size: 10px; font-family: 'DejaVu Sans'; text-anchor: middle" x="169.108" y="1052.959">20</text>
</g>
</g>
<g id="xtick_38">
<g id="line2d_124">
<g>
<use href="#md68f95e51d" x="258.84" y="1038.6" style="stroke: #000000; stroke-width: 0.8"/>
</g>
</g>
<g id="text_103">
<text style="font-size: 10px; font-family: 'DejaVu Sans'; text-anchor: middle" x="258.805" y="1052.959">40</text>
</g>
</g>
<g id="xtick_39">
<g id="line2d_125">
<g>
<use href="#md68f95e51d" x="348.84" y="1038.6" style="stroke: #000000; stroke-width: 0.8"/>
</g>
</g>
<g id="text_104">
<text style="font-size: 10px; font-family: 'DejaVu Sans'; text-anchor: middle" x="348.503" y="1052.959">60</text>
</g>
</g>
<g id="xtick_40">
<g id="line2d_126">
<g>
<use href="#md68f95e51d" x="438.84" y="1038.6" style="stroke: #000000; stroke-width: 0.8"/>
</g>
</g>
<g id="text_105">
<text style="font-size: 10px; font-family: 'DejaVu Sans'; text-anchor: middle" x="438.200" y="1052.959">80</text>
</g>
</g>
<g id="xtick_41">
<g id="line2d_127">
<g>
<use href="#md68f95e51d" x="528.12" y="1038.6" style="stroke: #000000; stroke-width: 0.8"/>
</g>
</g>
<g id="text_106">
<text style="font-size: 10px; font-family: 'DejaVu Sans'; text-anchor: middle" x="527.897" y="1052.959">100</text>
</g>
</g>
<g id="text_107">
<text style="font-size: 10px; font-family: 'DejaVu Sans'; text-anchor: middle" x="312.400" y="1067.039">Time [s]</text>
</g>
</g>
<g id="matplotlib.axis_12">
<g id="ytick_35">
<g id="line2d_128">
<g>
<use href="#me6279a2b69" x="56.52" y="1017.72" style="stroke: #000000; stroke-width: 0.8"/>
</g>
</g>
<g id="text_108">
<text style="font-size: 10px; font-family: 'DejaVu Sans'; text-anchor: end" x="49.090" y="1021.102">−1.0</text>
</g>
</g>
<g id="ytick_36">
<g id="line2d_129">
<g>
<use href="#me6279a2b69" x="56.52" y="958.68" style="stroke: #000000; stroke-width: 0.8"/>
</g>
</g>
<g id="text_109">
<text style="font-size: 10px; font-family: 'DejaVu Sans'; text-anchor: end" x="49.090" y="962.170">−0.5</text>
</g>
</g>
<g id="ytick_37">
<g id="line2d_130">
<g>
<use href="#me6279a2b69" x="56.52" y="899.64" style="stroke: #000000; stroke-width: 0.8"/>
</g>
</g>
<g id="text_110">
<text style="font-size: 10px; font-family: 'DejaVu Sans'; text-anchor: end" x="49.090" y="903.238">0.0</text>
</g>
</g>
<g id="ytick_38">
<g id="line2d_131">
<g>
<use href="#me6279a2b69" x="56.52" y="840.6" style="stroke: #000000; stroke-width: 0.8"/>
</g>
</g>
<g id="text_111">
<text style="font-size: 10px; font-family: 'DejaVu Sans'; text-anchor: end" x="49.090" y="844.306">0.5</text>
</g>
</g>
<g id="ytick_39">
<g id="line2d_132">
<g>
<use href="#me6279a2b69" x="56.52" y="781.56" style="stroke: #000000; stroke-width: 0.8"/>
</g>
</g>
<g id="text_112">
<text style="font-size: 10px; font-family: 'DejaVu Sans'; text-anchor: end" x="49.090" y="785.374">1.0</text>
</g>
</g>
<g id="text_113">
<text style="font-size: 10px; font-family: 'DejaVu Sans'; text-anchor: middle" x="18" y="901.189" transform="rotate(-90 18 901.189)">acc [m/s^2]</text>
</g>
</g>
<g id="line2d_133">
<path d="M 79.411 899.278 L 80.308 897.381 L 81.205 896.273 L 82.102 895.795 L 82.550 895.742 L 82.999 895.911 L 83.447 896.378 L 84.344 897.964 L 85.241 900.225 L 85.690 902.233 L 86.587 908.041 L 88.381 922.851 L 89.278 931.459 L 90.623 945.257 L 91.968 955.842 L 97.799 996.560 L 98.696 1001.576 L 99.593 1005.356 L 101.387 1010.990 L 102.284 1013.254 L 103.181 1014.960 L 104.078 1015.964 L 105.423 1016.681 L 107.217 1017.250 L 109.459 1017.910 L 110.356 1018.321 L 111.253 1018.994 L 112.599 1020.532 L 115.290 1024.012 L 116.187 1024.850 L 117.084 1025.327 L 117.532 1025.393 L 117.981 1025.281 L 118.429 1024.955 L 118.878 1024.429 L 119.775 1022.835 L 120.672 1020.612 L 122.017 1016.348 L 123.811 1009.526 L 124.708 1005.632 L 125.605 1000.076 L 126.502 992.991 L 127.847 980.372 L 131.435 942.984 L 134.126 910.744 L 135.023 903.993 L 136.817 894.909 L 138.163 889.466 L 139.060 886.934 L 139.508 886.085 L 139.956 885.554 L 140.405 885.370 L 141.302 885.536 L 142.199 886.001 L 143.096 886.721 L 144.441 888.175 L 146.235 890.571 L 149.823 895.549 L 151.169 897.003 L 152.066 897.722 L 153.411 898.423 L 156.999 899.986 L 157.896 900.817 L 158.793 902.072 L 160.138 904.529 L 164.623 913.651 L 165.520 914.898 L 166.417 915.719 L 166.866 915.939 L 167.314 916.015 L 167.763 915.894 L 168.211 915.545 L 169.108 914.234 L 170.005 912.231 L 171.351 908.254 L 172.248 905.172 L 172.696 903.175 L 173.593 897.167 L 174.938 885.013 L 176.732 866.633 L 178.526 843.169 L 180.320 819.907 L 181.217 810.498 L 183.011 795.673 L 183.908 789.430 L 184.805 784.748 L 185.702 781.930 L 186.599 779.666 L 187.496 778.034 L 187.945 777.572 L 188.393 777.407 L 189.738 777.592 L 191.084 778.047 L 194.672 779.462 L 196.017 779.646 L 196.914 779.449 L 197.811 778.928 L 199.157 777.777 L 201.399 775.768 L 202.296 775.247 L 203.193 775.050 L 203.642 775.117 L 204.539 775.634 L 205.435 776.604 L 206.332 777.964 L 207.678 780.593 L 209.023 783.804 L 209.472 785.483 L 210.369 790.339 L 211.266 796.739 L 213.060 811.977 L 214.854 828.188 L 216.648 848.621 L 218.442 868.713 L 219.339 876.756 L 221.133 888.793 L 222.029 893.810 L 222.478 895.643 L 222.926 896.844 L 223.375 897.275 L 224.272 897.079 L 225.169 896.547 L 226.514 895.288 L 230.999 890.341 L 231.896 889.809 L 232.793 889.613 L 233.242 889.730 L 233.690 890.066 L 234.587 891.305 L 235.484 893.154 L 236.830 896.682 L 238.175 900.763 L 239.072 904.681 L 239.969 909.637 L 241.314 918.429 L 244.005 938.038 L 245.351 950.072 L 248.042 975.032 L 249.387 984.821 L 251.630 999.585 L 252.975 1006.708 L 253.872 1010.087 L 254.769 1012.204 L 256.563 1015.759 L 258.357 1018.825 L 259.702 1020.750 L 261.048 1022.312 L 262.393 1023.475 L 263.290 1024.009 L 264.187 1024.338 L 265.084 1024.450 L 265.533 1024.367 L 265.981 1024.128 L 266.878 1023.231 L 267.775 1021.860 L 269.121 1019.141 L 271.363 1013.693 L 272.260 1011.254 L 273.157 1007.713 L 273.605 1004.992 L 274.502 996.741 L 275.848 979.766 L 278.090 949.975 L 279.436 936.621 L 281.230 920.854 L 282.575 911.422 L 284.369 900.994 L 285.266 896.933 L 286.163 894.088 L 287.957 889.587 L 289.302 886.768 L 290.199 885.297 L 291.096 884.241 L 291.993 883.677 L 292.442 883.602 L 292.890 883.969 L 293.339 884.975 L 294.236 888.348 L 296.030 896.618 L 296.478 898.188 L 297.375 900.099 L 298.272 901.418 L 298.721 901.636 L 299.169 901.493 L 299.618 901.094 L 300.515 899.696 L 301.860 896.744 L 303.206 893.792 L 304.103 892.395 L 304.551 891.996 L 304.999 891.853 L 305.448 891.975 L 305.896 892.320 L 306.793 893.550 L 307.690 895.290 L 310.830 902.408 L 311.727 905.060 L 312.624 908.614 L 313.072 911.721 L 313.969 920.354 L 315.315 933.685 L 315.763 936.717 L 316.212 938.415 L 316.660 938.418 L 317.109 936.730 L 317.557 933.671 L 318.454 924.760 L 320.248 905.035 L 321.145 898.550 L 321.593 895.771 L 322.042 894.564 L 322.490 894.869 L 322.939 895.437 L 323.387 895.742 L 323.836 894.714 L 324.284 891.912 L 325.181 882.701 L 327.872 850.848 L 328.769 841.161 L 329.666 835.668 L 331.012 829.398 L 331.909 826.099 L 332.806 823.790 L 333.254 823.082 L 333.703 822.714 L 334.151 822.840 L 334.600 824.121 L 335.048 826.421 L 335.945 832.985 L 337.291 844.576 L 339.533 871.091 L 340.878 879.023 L 341.775 882.636 L 342.224 883.488 L 342.672 883.546 L 343.121 883.131 L 344.018 881.463 L 345.363 878.438 L 345.812 877.709 L 346.260 877.295 L 346.709 877.587 L 347.157 880.111 L 348.054 889.985 L 349.400 906.222 L 349.848 909.179 L 350.297 911.002 L 350.745 911.890 L 351.194 910.811 L 351.642 907.918 L 352.539 898.767 L 353.885 884.392 L 354.333 881.499 L 354.781 880.420 L 355.230 881.691 L 356.127 888.515 L 356.575 891.839 L 357.024 893.621 L 357.921 894.738 L 358.818 895.476 L 359.715 895.742 L 360.163 895.439 L 361.060 894.295 L 361.509 894.595 L 361.957 897.359 L 362.854 907.915 L 363.751 919.555 L 364.648 926.911 L 365.994 935.954 L 366.442 937.965 L 366.891 939.083 L 367.339 938.938 L 367.788 936.747 L 368.236 932.824 L 369.133 921.691 L 370.479 903.948 L 372.272 885.769 L 372.721 885.392 L 373.169 887.614 L 373.618 890.451 L 374.066 891.853 L 374.515 890.460 L 374.963 886.751 L 375.860 875.191 L 376.757 862.788 L 378.103 849.337 L 379.000 841.437 L 379.448 838.927 L 379.897 837.989 L 380.345 838.622 L 380.794 840.215 L 382.139 846.195 L 382.588 847.065 L 383.485 847.456 L 385.279 848.008 L 386.176 848.597 L 386.624 849.078 L 387.072 849.776 L 387.521 853.583 L 388.866 876.295 L 390.212 888.638 L 390.660 891.729 L 391.109 893.805 L 391.557 894.564 L 392.006 894.102 L 392.454 892.848 L 393.351 888.755 L 394.697 881.627 L 395.145 879.779 L 395.594 878.525 L 396.042 878.063 L 396.491 879.179 L 396.939 882.122 L 397.836 891.051 L 398.733 899.976 L 400.079 909.687 L 400.527 911.611 L 400.976 911.682 L 401.424 910.170 L 402.321 904.191 L 403.666 893.949 L 404.115 891.826 L 404.563 891.028 L 405.012 891.534 L 405.460 892.869 L 406.357 896.921 L 407.254 900.973 L 407.703 902.308 L 408.151 902.814 L 408.600 901.732 L 409.048 899.025 L 410.394 889.282 L 410.842 888.199 L 411.291 889.137 L 411.739 891.650 L 412.636 899.602 L 413.982 912.093 L 414.430 914.606 L 414.879 915.544 L 415.327 915.107 L 415.776 913.937 L 416.673 910.235 L 418.018 904.421 L 418.467 903.251 L 418.915 902.814 L 419.364 902.988 L 419.812 903.469 L 420.709 905.120 L 421.606 907.293 L 422.054 909.149 L 423.848 920.765 L 424.297 921.672 L 424.745 920.283 L 425.194 916.546 L 426.091 904.609 L 427.436 883.748 L 430.127 833.397 L 431.473 818.788 L 432.818 806.924 L 435.958 781.391 L 436.406 779.119 L 436.854 777.879 L 437.751 776.730 L 438.648 775.918 L 439.545 775.538 L 439.994 775.538 L 440.891 775.920 L 441.788 776.731 L 442.685 777.879 L 443.133 779.053 L 443.582 781.165 L 444.479 787.437 L 446.273 803.341 L 447.618 819.297 L 450.758 858.408 L 451.655 867.455 L 452.552 874.830 L 453.000 877.682 L 453.448 879.241 L 454.345 880.354 L 455.691 881.294 L 457.933 882.777 L 458.382 883.627 L 458.830 885.123 L 459.727 889.456 L 461.521 899.278 L 465.109 915.544 L 465.558 915.294 L 466.006 914.553 L 466.455 913.345 L 467.352 909.685 L 468.249 904.763 L 470.939 888.783 L 471.836 885.238 L 472.285 884.097 L 472.733 883.429 L 473.182 883.254 L 473.630 883.578 L 474.079 884.391 L 474.527 885.667 L 475.424 889.440 L 476.770 897.201 L 478.564 908.077 L 479.461 912.239 L 479.909 913.754 L 480.358 914.826 L 480.806 915.421 L 481.255 915.521 L 481.703 915.123 L 482.152 914.239 L 482.600 912.896 L 483.497 909.013 L 484.843 901.169 L 486.636 890.359 L 487.533 886.299 L 487.982 884.848 L 488.430 883.846 L 488.879 883.324 L 489.327 883.299 L 489.776 883.772 L 490.224 884.727 L 490.673 886.135 L 491.570 890.125 L 492.915 898.048 L 494.709 908.784 L 495.606 912.738 L 496.055 914.124 L 496.503 915.056 L 496.952 915.504 L 497.400 915.454 L 497.849 914.908 L 498.297 913.882 L 499.194 910.534 L 500.091 905.821 L 503.230 887.559 L 504.127 884.498 L 504.576 883.638 L 505.024 883.264 L 505.473 883.389 L 505.921 884.009 L 506.370 885.104 L 507.267 888.570 L 508.164 893.365 L 510.855 909.464 L 511.752 913.199 L 512.200 914.453 L 512.649 915.242 L 513.097 915.541 L 513.546 915.341 L 513.994 914.649 L 514.443 913.486 L 515.340 909.902 L 516.237 905.030 L 518.928 888.999 L 519.824 885.377 L 520.273 884.191 L 520.721 883.474 L 521.170 883.249 L 521.618 883.524 L 522.067 884.288 L 522.515 885.520 L 522.964 887.180 L 522.964 887.180" clip-path="url(#p7e3aa7d701)" style="fill: none; stroke: #1f77b4; stroke-width: 1.5; stroke-linecap: square"/>
</g>
<g id="line2d_134">
<path d="M 79.411 897.237 L 80.308 896.199 L 81.205 895.775 L 81.653 895.749 L 82.102 895.983 L 82.550 896.501 L 83.447 898.157 L 83.896 899.173 L 84.344 900.568 L 84.793 902.717 L 85.690 908.719 L 87.484 923.601 L 88.829 937.208 L 89.726 946.043 L 91.071 956.490 L 96.902 997.107 L 97.799 1002.016 L 98.696 1005.659 L 100.490 1011.237 L 101.387 1013.452 L 102.284 1015.094 L 102.732 1015.655 L 103.629 1016.294 L 104.975 1016.883 L 109.459 1018.371 L 110.356 1019.080 L 111.702 1020.648 L 114.393 1024.109 L 115.290 1024.916 L 116.187 1025.351 L 116.635 1025.388 L 117.084 1025.232 L 117.532 1024.865 L 118.429 1023.554 L 119.326 1021.569 L 120.223 1019.024 L 121.569 1014.404 L 123.362 1007.338 L 124.259 1002.504 L 125.156 995.983 L 126.502 983.909 L 129.641 952.017 L 130.987 936.278 L 132.781 914.354 L 133.678 906.245 L 134.575 901.145 L 135.920 894.498 L 136.817 890.749 L 137.714 887.822 L 138.611 885.952 L 139.060 885.489 L 139.508 885.372 L 140.405 885.570 L 141.302 886.063 L 142.199 886.805 L 143.544 888.285 L 145.338 890.699 L 148.926 895.657 L 150.272 897.085 L 151.169 897.781 L 152.514 898.460 L 155.654 899.765 L 156.550 900.428 L 157.447 901.525 L 158.344 902.986 L 159.690 905.641 L 163.278 913.055 L 164.175 914.444 L 165.072 915.448 L 165.969 915.966 L 166.417 916.010 L 166.866 915.842 L 167.314 915.449 L 168.211 914.062 L 169.108 911.998 L 170.454 907.958 L 171.351 904.836 L 171.799 902.687 L 172.696 896.448 L 174.041 884.139 L 175.835 865.561 L 177.629 841.944 L 179.423 818.872 L 180.320 809.688 L 182.114 794.996 L 183.011 788.882 L 183.908 784.389 L 184.805 781.686 L 185.702 779.468 L 186.599 777.920 L 187.048 777.513 L 187.496 777.408 L 188.841 777.615 L 190.635 778.272 L 193.326 779.361 L 194.672 779.632 L 195.569 779.573 L 196.466 779.168 L 197.811 778.111 L 200.502 775.704 L 201.399 775.211 L 202.296 775.053 L 202.745 775.147 L 203.642 775.711 L 204.539 776.724 L 205.435 778.119 L 206.781 780.788 L 208.126 784.095 L 208.575 785.883 L 209.472 790.919 L 210.369 797.443 L 212.611 816.670 L 213.957 829.125 L 215.751 849.684 L 217.545 869.602 L 218.442 877.445 L 220.236 889.353 L 221.133 894.221 L 221.581 895.938 L 222.029 896.996 L 222.478 897.273 L 223.375 897.040 L 224.272 896.478 L 225.617 895.190 L 230.102 890.275 L 230.999 889.773 L 231.896 889.618 L 232.345 889.781 L 232.793 890.157 L 233.690 891.466 L 234.587 893.366 L 235.933 896.937 L 237.278 901.101 L 238.175 905.134 L 239.520 912.997 L 241.314 925.449 L 243.108 938.779 L 244.902 955.221 L 247.145 975.766 L 248.490 985.432 L 250.733 1000.119 L 252.078 1007.103 L 252.975 1010.350 L 254.321 1013.316 L 256.114 1016.734 L 257.908 1019.636 L 259.254 1021.421 L 260.599 1022.828 L 261.945 1023.819 L 262.842 1024.232 L 263.739 1024.432 L 264.187 1024.446 L 264.636 1024.331 L 265.084 1024.062 L 265.981 1023.113 L 266.878 1021.701 L 268.224 1018.939 L 270.466 1013.469 L 271.363 1010.962 L 272.260 1007.256 L 272.708 1004.323 L 273.605 995.748 L 274.951 978.527 L 276.745 954.216 L 277.642 944.373 L 279.884 923.769 L 281.230 913.696 L 283.024 902.887 L 283.921 898.428 L 284.818 895.071 L 286.612 890.434 L 287.957 887.456 L 288.854 885.840 L 289.751 884.609 L 290.648 883.838 L 291.096 883.650 L 291.545 883.618 L 291.993 884.124 L 292.442 885.241 L 293.339 888.752 L 295.133 896.964 L 295.581 898.449 L 296.478 900.261 L 297.375 901.493 L 297.824 901.630 L 298.272 901.432 L 298.721 900.987 L 299.618 899.523 L 300.963 896.535 L 302.309 893.624 L 303.206 892.296 L 303.654 891.945 L 304.103 891.858 L 304.551 892.027 L 304.999 892.413 L 305.896 893.705 L 307.242 896.472 L 309.933 902.647 L 310.830 905.362 L 311.278 906.996 L 311.727 909.143 L 312.624 916.647 L 314.418 934.380 L 314.866 937.176 L 315.315 938.561 L 315.763 938.206 L 316.212 936.217 L 316.660 932.923 L 317.557 923.742 L 318.903 908.449 L 319.800 901.055 L 320.697 895.364 L 321.145 894.579 L 322.490 895.699 L 322.939 894.281 L 323.387 891.177 L 324.284 881.615 L 326.078 860.562 L 327.872 840.408 L 328.769 835.214 L 330.115 829.030 L 331.012 825.819 L 331.909 823.622 L 332.357 822.981 L 332.806 822.684 L 333.254 823.001 L 333.703 824.508 L 334.151 826.979 L 335.048 833.722 L 336.394 845.567 L 338.636 871.763 L 339.981 879.471 L 340.430 881.449 L 340.878 882.868 L 341.327 883.561 L 341.775 883.493 L 342.224 883.007 L 343.121 881.260 L 344.466 878.272 L 344.915 877.598 L 345.363 877.259 L 345.812 877.910 L 346.260 880.860 L 347.157 891.160 L 348.054 902.599 L 348.503 906.972 L 348.951 909.558 L 349.400 911.295 L 349.848 911.844 L 350.297 910.361 L 350.745 907.168 L 351.642 897.726 L 352.539 887.663 L 352.988 883.693 L 353.436 881.122 L 353.885 880.477 L 354.333 882.196 L 355.678 892.355 L 356.127 893.747 L 357.024 894.831 L 357.921 895.525 L 358.369 895.698 L 358.818 895.728 L 359.266 895.326 L 360.163 894.242 L 360.612 894.951 L 361.060 898.174 L 361.957 909.141 L 362.854 920.520 L 363.751 927.571 L 364.648 933.860 L 365.097 936.416 L 365.545 938.268 L 365.994 939.179 L 366.442 938.661 L 366.891 936.086 L 367.339 931.873 L 368.236 920.449 L 369.582 902.985 L 371.375 885.424 L 371.824 885.688 L 372.721 890.912 L 373.169 891.793 L 373.618 889.882 L 374.066 885.793 L 374.963 873.896 L 375.860 861.718 L 377.654 844.268 L 378.103 840.831 L 378.551 838.599 L 379.000 838.017 L 379.448 838.878 L 380.345 842.753 L 381.242 846.453 L 381.691 847.119 L 382.588 847.481 L 383.933 847.844 L 384.830 848.321 L 385.279 848.679 L 385.727 849.198 L 386.176 850.077 L 386.624 854.913 L 387.521 871.452 L 388.418 881.481 L 389.315 889.323 L 389.763 892.235 L 390.212 894.072 L 390.660 894.544 L 391.109 893.908 L 391.557 892.519 L 392.454 888.277 L 393.800 881.219 L 394.248 879.474 L 394.697 878.363 L 395.145 878.111 L 395.594 879.641 L 396.042 882.876 L 398.285 903.880 L 399.182 910.190 L 399.630 911.787 L 400.079 911.489 L 400.527 909.720 L 401.424 903.472 L 402.770 893.438 L 403.218 891.547 L 403.666 891.050 L 404.115 891.744 L 404.563 893.212 L 406.357 901.293 L 406.806 902.484 L 407.254 902.767 L 407.703 901.294 L 408.600 894.777 L 409.048 891.356 L 409.497 888.909 L 409.945 888.239 L 410.394 889.528 L 410.842 892.302 L 411.739 900.506 L 412.636 909.250 L 413.085 912.700 L 413.533 914.934 L 413.982 915.525 L 414.430 914.925 L 414.879 913.634 L 415.776 909.814 L 416.673 905.744 L 417.121 904.138 L 417.570 903.098 L 418.018 902.822 L 418.467 903.061 L 418.915 903.598 L 419.812 905.322 L 420.709 907.553 L 421.157 909.663 L 422.951 921.079 L 423.400 921.613 L 423.848 919.703 L 424.297 915.573 L 425.194 903.240 L 426.539 882.099 L 428.782 838.054 L 430.127 822.343 L 431.473 809.917 L 435.061 780.866 L 435.509 778.781 L 435.958 777.751 L 436.854 776.632 L 437.751 775.859 L 438.648 775.527 L 439.097 775.554 L 439.994 775.983 L 440.891 776.833 L 441.788 778.029 L 442.236 779.406 L 442.685 781.683 L 443.582 788.169 L 445.376 804.276 L 446.721 820.449 L 449.861 859.435 L 450.758 868.201 L 451.655 875.478 L 452.103 878.115 L 452.552 879.384 L 453.448 880.434 L 454.794 881.351 L 457.036 882.888 L 457.485 883.879 L 457.933 885.487 L 458.830 889.952 L 460.624 899.688 L 464.212 915.534 L 464.661 915.185 L 465.109 914.348 L 465.558 913.050 L 466.455 909.240 L 467.800 901.451 L 469.594 890.596 L 470.491 886.468 L 470.939 884.973 L 471.388 883.925 L 471.836 883.354 L 472.285 883.279 L 472.733 883.702 L 473.182 884.610 L 473.630 885.975 L 474.527 889.894 L 475.873 897.765 L 477.667 908.551 L 478.564 912.576 L 479.012 914.006 L 479.461 914.984 L 479.909 915.481 L 480.358 915.481 L 480.806 914.984 L 481.255 914.006 L 481.703 912.576 L 482.600 908.551 L 483.946 900.603 L 485.740 889.894 L 486.636 885.975 L 487.085 884.610 L 487.533 883.702 L 487.982 883.279 L 488.430 883.354 L 488.879 883.925 L 489.327 884.973 L 490.224 888.361 L 491.121 893.102 L 494.261 911.329 L 495.158 914.348 L 495.606 915.185 L 496.055 915.534 L 496.503 915.384 L 496.952 914.740 L 497.400 913.622 L 498.297 910.116 L 499.194 905.295 L 501.885 889.218 L 502.782 885.520 L 503.230 884.288 L 503.679 883.524 L 504.127 883.249 L 504.576 883.474 L 505.024 884.191 L 505.473 885.377 L 506.370 888.999 L 507.267 893.896 L 509.958 909.902 L 510.855 913.486 L 511.303 914.649 L 511.752 915.341 L 512.200 915.541 L 512.649 915.242 L 513.097 914.453 L 513.546 913.199 L 514.443 909.464 L 515.788 901.733 L 517.582 890.835 L 518.479 886.640 L 518.928 885.104 L 519.376 884.009 L 519.824 883.389 L 520.273 883.264 L 520.721 883.638 L 521.170 884.498 L 521.618 885.819 L 522.515 889.665 L 522.964 892.072 L 522.964 892.072" clip-path="url(#p7e3aa7d701)" style="fill: none; stroke: #ee82ee; stroke-width: 1.5; stroke-linecap: square"/>
</g>
<g id="line2d_135">
<path d="M 79.411 899.278 L 90.174 899.278 L 90.623 904.636 L 95.108 1011.785 L 95.556 1017.142 L 129.641 1017.142 L 130.090 1011.707 L 136.369 821.488 L 139.508 899.278 L 170.005 899.278 L 173.144 975.890 L 179.872 781.414 L 214.854 781.414 L 219.339 899.278 L 243.108 899.278 L 243.557 904.403 L 248.490 1017.142 L 277.642 1017.142 L 278.090 1008.986 L 284.369 818.675 L 284.818 822.456 L 287.060 899.278 L 288.405 899.278 L 289.751 873.348 L 290.648 894.092 L 291.096 899.278 L 291.545 899.278 L 291.993 925.208 L 292.442 899.278 L 292.890 898.689 L 293.339 901.636 L 293.787 899.278 L 314.418 899.278 L 314.866 905.564 L 315.315 903.488 L 316.660 872.170 L 318.903 925.208 L 319.800 899.278 L 324.284 899.278 L 327.424 948.781 L 333.254 781.414 L 337.291 781.414 L 343.121 894.078 L 343.569 899.278 L 344.915 899.278 L 345.363 891.028 L 346.260 908.707 L 346.709 899.278 L 368.685 899.278 L 369.133 895.742 L 370.479 906.855 L 370.927 905.564 L 371.375 899.278 L 376.309 899.278 L 379.000 944.067 L 384.382 781.414 L 387.072 781.414 L 392.454 899.278 L 394.697 899.278 L 395.145 894.564 L 395.594 903.993 L 396.042 899.278 L 420.709 899.278 L 425.642 960.158 L 426.091 957.253 L 432.818 787.087 L 433.267 781.414 L 448.067 781.414 L 448.515 787.027 L 453.000 899.278 L 522.964 899.278 L 522.964 899.278" clip-path="url(#p7e3aa7d701)" style="fill: none; stroke: #ffa500; stroke-width: 1.5; stroke-linecap: square"/>
</g>
<g id="line2d_136">
<path d="M 79.411 899.278 L 80.308 901.176 L 81.205 902.284 L 82.102 902.762 L 82.550 902.814 L 82.999 902.645 L 83.447 902.179 L 84.344 900.593 L 85.241 898.332 L 85.690 896.324 L 86.587 890.516 L 88.381 875.706 L 89.278 867.098 L 90.174 857.603 L 90.623 858.657 L 92.417 887.742 L 95.108 933.423 L 95.556 935.482 L 97.799 919.860 L 98.696 914.844 L 99.593 911.065 L 101.387 905.431 L 102.284 903.166 L 103.181 901.461 L 104.078 900.457 L 105.423 899.740 L 107.217 899.171 L 109.459 898.511 L 110.356 898.100 L 111.253 897.426 L 112.599 895.889 L 115.290 892.409 L 116.187 891.570 L 117.084 891.093 L 117.532 891.028 L 117.981 891.140 L 118.429 891.466 L 118.878 891.991 L 119.775 893.586 L 120.672 895.809 L 122.017 900.073 L 123.811 906.894 L 124.708 910.788 L 125.605 916.345 L 126.502 923.430 L 127.847 936.049 L 129.641 954.495 L 130.090 953.628 L 131.884 919.221 L 134.126 877.958 L 135.472 846.326 L 136.369 823.723 L 139.060 900.510 L 139.508 912.472 L 139.956 913.003 L 140.405 913.186 L 141.302 913.021 L 142.199 912.555 L 143.096 911.836 L 144.441 910.382 L 146.235 907.985 L 149.823 903.008 L 151.169 901.554 L 152.066 900.835 L 153.411 900.134 L 156.999 898.571 L 157.896 897.740 L 158.793 896.485 L 160.138 894.027 L 164.623 884.906 L 165.520 883.659 L 166.417 882.838 L 166.866 882.618 L 167.314 882.542 L 167.763 882.662 L 168.211 883.012 L 169.108 884.323 L 170.005 886.326 L 172.696 961.048 L 173.144 974.703 L 174.938 938.295 L 177.181 897.359 L 179.872 855.365 L 181.217 870.194 L 183.011 885.020 L 183.908 891.262 L 184.805 895.945 L 185.702 898.763 L 186.599 901.027 L 187.496 902.659 L 187.945 903.121 L 188.393 903.286 L 189.738 903.101 L 191.084 902.646 L 194.672 901.231 L 196.017 901.046 L 196.914 901.244 L 197.811 901.765 L 199.157 902.916 L 201.399 904.925 L 202.296 905.445 L 203.193 905.643 L 203.642 905.575 L 204.539 905.059 L 205.435 904.088 L 206.332 902.728 L 207.678 900.100 L 209.023 896.889 L 209.472 895.210 L 210.369 890.354 L 211.266 883.954 L 213.060 868.715 L 214.854 852.504 L 217.096 885.714 L 218.890 913.790 L 219.339 921.800 L 221.133 909.764 L 222.029 904.747 L 222.478 902.913 L 222.926 901.713 L 223.375 901.282 L 224.272 901.477 L 225.169 902.010 L 226.514 903.268 L 230.999 908.215 L 231.896 908.748 L 232.793 908.943 L 233.242 908.826 L 233.690 908.491 L 234.587 907.251 L 235.484 905.403 L 236.830 901.875 L 238.175 897.793 L 239.072 893.876 L 239.969 888.920 L 241.314 880.128 L 243.108 867.287 L 243.557 869.173 L 245.351 894.605 L 248.490 937.842 L 250.733 922.502 L 252.078 914.239 L 252.975 909.712 L 253.872 906.334 L 254.769 904.217 L 256.563 900.662 L 258.357 897.596 L 259.702 895.671 L 261.048 894.108 L 262.393 892.946 L 263.290 892.411 L 264.187 892.083 L 265.084 891.971 L 265.533 892.053 L 265.981 892.293 L 266.878 893.190 L 267.775 894.560 L 269.121 897.279 L 271.363 902.728 L 272.260 905.166 L 273.157 908.707 L 273.605 911.429 L 274.502 919.680 L 275.848 936.655 L 277.642 961.091 L 278.090 958.289 L 280.333 911.902 L 282.575 860.906 L 284.369 816.960 L 284.818 822.905 L 287.060 906.794 L 288.405 909.979 L 289.751 886.641 L 290.648 908.658 L 291.096 914.316 L 291.545 914.664 L 291.993 940.810 L 292.442 914.954 L 292.890 913.998 L 293.339 915.939 L 293.787 912.075 L 294.684 908.122 L 296.030 901.938 L 296.478 900.369 L 297.375 898.457 L 298.272 897.139 L 298.721 896.921 L 299.169 897.064 L 299.618 897.463 L 300.515 898.860 L 301.860 901.812 L 303.206 904.764 L 304.103 906.162 L 304.551 906.561 L 304.999 906.704 L 305.448 906.582 L 305.896 906.237 L 306.793 905.006 L 307.690 903.267 L 310.830 896.149 L 311.727 893.497 L 312.624 889.942 L 313.072 886.836 L 313.969 878.202 L 314.418 873.432 L 314.866 875.148 L 315.315 869.081 L 316.212 843.472 L 316.660 833.030 L 317.557 858.993 L 318.903 904.916 L 319.800 889.179 L 320.697 896.921 L 321.593 902.785 L 322.042 903.993 L 322.490 903.687 L 322.939 903.120 L 323.387 902.814 L 323.836 903.843 L 324.284 906.645 L 325.630 942.626 L 327.424 991.726 L 328.769 968.275 L 330.115 937.371 L 332.357 881.636 L 333.254 857.610 L 333.703 857.979 L 334.151 857.853 L 334.600 856.572 L 335.048 854.272 L 335.945 847.708 L 337.291 836.117 L 338.187 842.313 L 339.084 848.504 L 339.533 852.934 L 341.327 877.598 L 342.224 892.536 L 343.569 916.155 L 344.915 919.180 L 345.363 911.868 L 346.260 930.691 L 346.709 920.970 L 347.157 918.446 L 348.054 908.572 L 349.400 892.334 L 349.848 889.378 L 350.297 887.555 L 350.745 886.667 L 351.194 887.746 L 351.642 890.638 L 352.539 899.790 L 353.885 914.165 L 354.333 917.057 L 354.781 918.137 L 355.230 916.866 L 356.127 910.042 L 356.575 906.717 L 357.024 904.936 L 357.921 903.818 L 358.818 903.081 L 359.715 902.814 L 360.163 903.118 L 361.060 904.262 L 361.509 903.961 L 361.957 901.197 L 362.854 890.642 L 363.751 879.001 L 364.648 871.646 L 365.994 862.603 L 366.442 860.591 L 366.891 859.473 L 367.339 859.619 L 367.788 861.810 L 368.236 865.733 L 368.685 870.911 L 369.133 873.330 L 370.479 902.186 L 370.927 905.541 L 371.375 904.525 L 371.824 909.482 L 372.272 912.788 L 372.721 913.165 L 373.169 910.943 L 373.618 908.105 L 374.066 906.704 L 374.515 908.096 L 374.963 911.805 L 375.860 923.366 L 376.309 929.813 L 377.654 967.139 L 379.000 1001.908 L 379.897 978.247 L 381.242 933.260 L 383.036 874.057 L 384.382 833.016 L 385.279 832.685 L 386.176 832.096 L 386.624 831.615 L 387.072 830.917 L 387.521 836.932 L 387.969 839.027 L 388.418 840.259 L 388.866 843.686 L 390.212 860.808 L 391.109 875.286 L 392.006 894.633 L 392.454 905.709 L 393.351 909.801 L 394.697 916.930 L 395.145 914.063 L 395.594 924.746 L 396.042 920.494 L 396.491 919.377 L 396.939 916.434 L 397.836 907.506 L 398.733 898.581 L 400.079 888.870 L 400.527 886.945 L 400.976 886.875 L 401.424 888.387 L 402.321 894.365 L 403.666 904.607 L 404.115 906.731 L 404.563 907.529 L 405.012 907.022 L 405.460 905.687 L 406.357 901.636 L 407.254 897.584 L 407.703 896.249 L 408.151 895.742 L 408.600 896.825 L 409.048 899.532 L 410.394 909.275 L 410.842 910.358 L 411.291 909.420 L 411.739 906.907 L 412.636 898.955 L 413.982 886.464 L 414.430 883.951 L 414.879 883.013 L 415.327 883.450 L 415.776 884.620 L 416.673 888.321 L 418.018 894.136 L 418.467 895.306 L 418.915 895.742 L 419.364 895.569 L 419.812 895.087 L 420.709 893.437 L 422.054 906.011 L 423.848 916.533 L 424.297 921.160 L 424.745 928.084 L 425.642 948.330 L 426.091 951.922 L 427.436 938.750 L 427.885 936.115 L 429.230 930.050 L 429.679 926.395 L 430.576 914.972 L 431.921 894.440 L 432.818 879.441 L 433.267 877.413 L 435.958 899.302 L 436.406 901.574 L 436.854 902.814 L 437.751 903.963 L 438.648 904.774 L 439.545 905.155 L 439.994 905.155 L 440.891 904.773 L 441.788 903.961 L 442.685 902.814 L 443.133 901.640 L 443.582 899.528 L 444.479 893.256 L 446.273 877.351 L 447.618 861.396 L 448.067 855.618 L 448.515 855.528 L 451.655 897.426 L 453.000 920.875 L 453.448 919.315 L 454.345 918.203 L 455.691 917.263 L 457.933 915.779 L 458.382 914.930 L 458.830 913.433 L 459.727 909.101 L 461.521 899.278 L 465.109 883.013 L 465.558 883.263 L 466.006 884.003 L 466.455 885.212 L 467.352 888.872 L 468.249 893.794 L 470.939 909.774 L 471.836 913.319 L 472.285 914.459 L 472.733 915.127 L 473.182 915.302 L 473.630 914.978 L 474.079 914.166 L 474.527 912.889 L 475.424 909.117 L 476.770 901.356 L 478.564 890.480 L 479.461 886.318 L 479.909 884.802 L 480.358 883.731 L 480.806 883.136 L 481.255 883.036 L 481.703 883.434 L 482.152 884.318 L 482.600 885.661 L 483.497 889.543 L 484.843 897.388 L 486.636 908.198 L 487.533 912.257 L 487.982 913.709 L 488.430 914.711 L 488.879 915.232 L 489.327 915.257 L 489.776 914.785 L 490.224 913.830 L 490.673 912.421 L 491.570 908.432 L 492.915 900.509 L 494.709 889.773 L 495.606 885.819 L 496.055 884.432 L 496.503 883.501 L 496.952 883.053 L 497.400 883.103 L 497.849 883.649 L 498.297 884.674 L 499.194 888.022 L 500.091 892.736 L 503.230 910.997 L 504.127 914.058 L 504.576 914.919 L 505.024 915.292 L 505.473 915.167 L 505.921 914.548 L 506.370 913.453 L 507.267 909.986 L 508.164 905.192 L 510.855 889.093 L 511.752 885.357 L 512.200 884.104 L 512.649 883.315 L 513.097 883.016 L 513.546 883.215 L 513.994 883.908 L 514.443 885.071 L 515.340 888.655 L 516.237 893.527 L 518.928 909.558 L 519.824 913.180 L 520.273 914.366 L 520.721 915.083 L 521.170 915.307 L 521.618 915.033 L 522.067 914.268 L 522.515 913.037 L 522.964 911.377 L 522.964 911.377" clip-path="url(#p7e3aa7d701)" style="fill: none; stroke: #d3d3d3; stroke-width: 1.5; stroke-linecap: square"/>
</g>
<g id="line2d_137">
<path d="M 79.2 899.28 L 522.72 899.28" clip-path="url(#p7e3aa7d701)" style="fill: none; stroke-dasharray: 5.55,2.4; stroke-dashoffset: 0; stroke: #8b0000; stroke-width: 1.5"/>
</g>
<g id="patch_33">
<path d="M 56.52 1038.6 L 56.52 763.56" style="fill: none; stroke: #000000; stroke-width: 0.8; stroke-linejoin: miter; stroke-linecap: square"/>
</g>
<g id="patch_34">
<path d="M 569.16 1038.6 L 569.16 763.56" style="fill: none; stroke: #000000; stroke-width: 0.8; stroke-linejoin: miter; stroke-linecap: square"/>
</g>
<g id="patch_35">
<path d="M 56.52 1038.6 L 569.16 1038.6" style="fill: none; stroke: #000000; stroke-width: 0.8; stroke-linejoin: miter; stroke-linecap: square"/>
</g>
<g id="patch_36">
<path d="M 56.52 763.56 L 569.16 763.56" style="fill: none; stroke: #000000; stroke-width: 0.8; stroke-linejoin: miter; stroke-linecap: square"/>
</g>
<g id="text_114">
<text style="font-size: 12px; font-family: 'DejaVu Sans'; text-anchor: middle" x="312.4" y="741.731">abs_max(acc_error) = 0.8322406406713256</text>
<text style="font-size: 12px; font-family: 'DejaVu Sans'; text-anchor: middle" x="312.4" y="756.898">abs_max(acc_error[straight_line]) = 0.6566436436038736</text>
</g>
<g id="legend_6">
<g id="patch_37">
<path d="M 431.61 1033.039 L 561.71 1033.039 Q 563.71 1033.039 563.71 1031.039 L 563.71 925.872 Q 563.71 923.872 561.71 923.872 L 431.61 923.872 Q 429.61 923.872 429.61 925.872 L 429.61 1031.039 Q 429.61 1033.039 431.61 1033.039 z" style="fill: #ffffff; opacity: 0.8; stroke: #cccccc; stroke-linejoin: miter"/>
</g>
<g id="line2d_138">
<path d="M 433.61 932.292 L 443.61 932.292 L 453.61 932.292" style="fill: none; stroke: #1f77b4; stroke-width: 1.5; stroke-linecap: square"/>
</g>
<g id="text_115">
<text style="font-size: 10px; font-family: 'DejaVu Sans'; text-anchor: start" x="461.61" y="935.792">acc</text>
</g>
<g id="line2d_139">
<path d="M 433.61 947.372 L 443.61 947.372 L 453.61 947.372" style="fill: none; stroke: #ee82ee; stroke-width: 1.5; stroke-linecap: square"/>
</g>
<g id="text_116">
<text style="font-size: 10px; font-family: 'DejaVu Sans'; text-anchor: start" x="461.61" y="950.872">acc_input</text>
</g>
<g id="line2d_140">
<path d="M 433.61 962.553 L 443.61 962.553 L 453.61 962.553" style="fill: none; stroke: #ffa500; stroke-width: 1.5; stroke-linecap: square"/>
</g>
<g id="text_117">
<text style="font-size: 10px; font-family: 'DejaVu Sans'; text-anchor: start" x="461.61" y="966.053">acc_target</text>
</g>
<g id="line2d_141">
<path d="M 433.61 977.734 L 443.61 977.734 L 453.61 977.734" style="fill: none; stroke: #d3d3d3; stroke-width: 1.5; stroke-linecap: square"/>
</g>
<g id="text_118">
<text style="font-size: 10px; font-family: 'DejaVu Sans'; text-anchor: start" x="461.61" y="981.234">acc_error</text>
</g>
<g id="PathCollection_18">
<g>
<use href="#m0045b0ffa0" x="443.61" y="993.791" style="fill: #008000; stroke: #008000"/>
</g>
</g>
<g id="text_119">
<text style="font-size: 10px; font-family: 'DejaVu Sans'; text-anchor: start" x="461.61" y="996.416">acc_true_prediction</text>
</g>
<g id="PathCollection_19">
<g>
<use href="#me06b111425" x="443.61" y="1008.972" style="fill: #ff0000; stroke: #ff0000"/>
</g>
</g>
<g id="text_120">
<text style="font-size: 10px; font-family: 'DejaVu Sans'; text-anchor: start" x="461.61" y="1011.597">acc_prediction_ilqr</text>
</g>
<g id="PathCollection_20">
<defs>
<path id="m122c429c32" d="M 0 1.118 C 0.296 1.118 0.580 1.000 0.790 0.790 C 1.000 0.580 1.118 0.296 1.118 0 C 1.118 -0.296 1.000 -0.580 0.790 -0.790 C 0.580 -1.000 0.296 -1.118 0 -1.118 C -0.296 -1.118 -0.580 -1.000 -0.790 -0.790 C -1.000 -0.580 -1.118 -0.296 -1.118 0 C -1.118 0.296 -1.000 0.580 -0.790 0.790 C -0.580 1.000 -0.296 1.118 0 1.118 z" style="stroke: #dda0dd"/>
</defs>
<g>
<use href="#m122c429c32" x="443.61" y="1024.153" style="fill: #dda0dd; stroke: #dda0dd"/>
</g>
</g>
<g id="text_121">
<text style="font-size: 10px; font-family: 'DejaVu Sans'; text-anchor: start" x="461.61" y="1026.778">acc_input_schedule</text>
</g>
</g>
</g>
<g id="axes_7">
<g id="patch_38">
<path d="M 624.800 1038.039 L 1137.42 1038.039 L 1137.42 762.898 L 624.800 762.898 z" style="fill: #ffffff"/>
</g>
<g id="line2d_142">
<path d="M 1092.122 918.536 L 1092.571 919.532 L 1093.019 920.553 L 1093.468 921.600 L 1093.916 922.808 L 1094.365 924.232 L 1094.813 925.756 L 1095.262 927.264 L 1095.710 928.640 L 1096.159 929.767 L 1096.607 930.528 L 1097.056 930.808 L 1097.504 930.669 L 1097.953 930.284 L 1098.401 929.701 L 1098.850 928.969 L 1099.298 928.136 L 1099.747 927.249 L 1100.195 926.356 L 1100.644 925.506 L 1101.092 924.580 L 1101.541 923.480 L 1101.989 922.289 L 1102.438 921.088 L 1102.886 919.961 L 1103.335 918.988 L 1103.783 918.252 L 1104.232 917.657 L 1104.680 917.077 L 1105.128 916.555 L 1105.577 916.130 L 1106.025 915.845 L 1106.474 915.741 L 1106.922 915.825 L 1107.371 916.057 L 1107.819 916.408 L 1108.268 916.848 L 1108.716 917.349 L 1109.165 917.880 L 1109.613 918.414 L 1110.062 918.919 L 1110.510 919.368 L 1110.959 919.780 L 1111.407 920.194 L 1111.856 920.610 L 1112.304 921.027 L 1112.753 921.447 L 1113.201 921.868 L 1113.650 922.292 L 1114.098 922.716 L 1114.547 923.143" clip-path="url(#p34ff89f510)" style="fill: none; stroke: #008000; stroke-width: 3.6; stroke-linecap: round"/>
</g>
<g id="PathCollection_21"/>
<g id="PathCollection_22"/>
<g id="PathCollection_23"/>
<g id="line2d_143">
<path d="M 1092.122 918.596 L 1092.571 919.589 L 1093.019 920.590 L 1093.468 921.600 L 1093.916 922.743 L 1094.365 924.064 L 1094.813 925.447 L 1095.262 926.775 L 1095.710 927.930 L 1096.159 928.796 L 1096.607 929.257 L 1097.056 929.254 L 1097.504 928.988 L 1097.953 928.528 L 1098.401 927.920 L 1098.850 927.211 L 1099.298 926.449 L 1099.747 925.679 L 1100.195 924.948 L 1100.644 924.152 L 1101.092 923.202 L 1101.541 922.174 L 1101.989 921.146 L 1102.438 920.191 L 1102.886 919.388 L 1103.335 918.810 L 1103.783 918.373 L 1104.232 917.957 L 1104.680 917.588 L 1105.128 917.293 L 1105.577 917.096 L 1106.025 917.025 L 1106.474 917.108 L 1106.922 917.336 L 1107.371 917.681 L 1107.819 918.111 L 1108.268 918.596 L 1108.716 919.106 L 1109.165 919.611 L 1109.613 920.080 L 1110.062 920.484 L 1110.510 920.844 L 1110.959 921.199 L 1111.407 921.549 L 1111.856 921.895 L 1112.304 922.236 L 1112.753 922.573 L 1113.201 922.905 L 1113.650 923.232 L 1114.098 923.553 L 1114.547 923.870" clip-path="url(#p34ff89f510)" style="fill: none; stroke: #ff0000; stroke-width: 3.6; stroke-linecap: round"/>
</g>
<g id="line2d_144">
<path d="M 1092.122 930.488 L 1092.571 929.830 L 1093.019 929.094 L 1093.468 928.297 L 1093.916 927.293 L 1094.365 926.004 L 1094.813 924.548 L 1095.262 923.039 L 1095.710 921.595 L 1096.159 920.333 L 1096.607 919.368 L 1097.056 918.582 L 1097.504 917.802 L 1097.953 917.071 L 1098.401 916.429 L 1098.850 915.920 L 1099.298 915.584 L 1099.747 915.462 L 1100.195 915.573 L 1100.644 915.877 L 1101.092 916.332 L 1101.541 916.895 L 1101.989 917.522 L 1102.438 918.172 L 1102.886 918.802 L 1103.335 919.368 L 1103.783 919.921 L 1104.232 920.522 L 1104.680 921.148 L 1105.128 921.775 L 1105.577 922.380 L 1106.025 922.941 L 1106.474 923.432 L 1106.922 923.832 L 1107.371 924.184 L 1107.819 924.536 L 1108.268 924.874 L 1108.716 925.183 L 1109.165 925.449 L 1109.613 925.657 L 1110.062 925.793 L 1110.510 925.841 L 1110.959 925.829 L 1111.407 925.788 L 1111.856 925.713 L 1112.304 925.601 L 1112.753 925.445 L 1113.201 925.241 L 1113.650 924.984 L 1114.098 924.669 L 1114.547 924.292" clip-path="url(#p34ff89f510)" style="fill: none; stroke: #dda0dd; stroke-width: 3.6; stroke-linecap: round"/>
</g>
<g id="matplotlib.axis_13">
<g id="xtick_42">
<g id="line2d_145">
<g>
<use href="#md68f95e51d" x="648.36" y="1038.6" style="stroke: #000000; stroke-width: 0.8"/>
</g>
</g>
<g id="text_122">
<text style="font-size: 10px; font-family: 'DejaVu Sans'; text-anchor: middle" x="648.121" y="1052.959">0</text>
</g>
</g>
<g id="xtick_43">
<g id="line2d_146">
<g>
<use href="#md68f95e51d" x="738.36" y="1038.6" style="stroke: #000000; stroke-width: 0.8"/>
</g>
</g>
<g id="text_123">
<text style="font-size: 10px; font-family: 'DejaVu Sans'; text-anchor: middle" x="737.818" y="1052.959">20</text>
</g>
</g>
<g id="xtick_44">
<g id="line2d_147">
<g>
<use href="#md68f95e51d" x="827.64" y="1038.6" style="stroke: #000000; stroke-width: 0.8"/>
</g>
</g>
<g id="text_124">
<text style="font-size: 10px; font-family: 'DejaVu Sans'; text-anchor: middle" x="827.515" y="1052.959">40</text>
</g>
</g>
<g id="xtick_45">
<g id="line2d_148">
<g>
<use href="#md68f95e51d" x="917.64" y="1038.6" style="stroke: #000000; stroke-width: 0.8"/>
</g>
</g>
<g id="text_125">
<text style="font-size: 10px; font-family: 'DejaVu Sans'; text-anchor: middle" x="917.213" y="1052.959">60</text>
</g>
</g>
<g id="xtick_46">
<g id="line2d_149">
<g>
<use href="#md68f95e51d" x="1006.92" y="1038.6" style="stroke: #000000; stroke-width: 0.8"/>
</g>
</g>
<g id="text_126">
<text style="font-size: 10px; font-family: 'DejaVu Sans'; text-anchor: middle" x="1006.910" y="1052.959">80</text>
</g>
</g>
<g id="xtick_47">
<g id="line2d_150">
<g>
<use href="#md68f95e51d" x="1096.92" y="1038.6" style="stroke: #000000; stroke-width: 0.8"/>
</g>
</g>
<g id="text_127">
<text style="font-size: 10px; font-family: 'DejaVu Sans'; text-anchor: middle" x="1096.607" y="1052.959">100</text>
</g>
</g>
<g id="text_128">
<text style="font-size: 10px; font-family: 'DejaVu Sans'; text-anchor: middle" x="881.110" y="1067.039">Time [s]</text>
</g>
</g>
<g id="matplotlib.axis_14">
<g id="ytick_40">
<g id="line2d_151">
<g>
<use href="#me6279a2b69" x="625.32" y="1033.56" style="stroke: #000000; stroke-width: 0.8"/>
</g>
</g>
<g id="text_129">
<text style="font-size: 10px; font-family: 'DejaVu Sans'; text-anchor: end" x="617.800" y="1037.162">−0.2</text>
</g>
</g>
<g id="ytick_41">
<g id="line2d_152">
<g>
<use href="#me6279a2b69" x="625.32" y="978.12" style="stroke: #000000; stroke-width: 0.8"/>
</g>
</g>
<g id="text_130">
<text style="font-size: 10px; font-family: 'DejaVu Sans'; text-anchor: end" x="617.800" y="981.361">−0.1</text>
</g>
</g>
<g id="ytick_42">
<g id="line2d_153">
<g>
<use href="#me6279a2b69" x="625.32" y="921.96" style="stroke: #000000; stroke-width: 0.8"/>
</g>
</g>
<g id="text_131">
<text style="font-size: 10px; font-family: 'DejaVu Sans'; text-anchor: end" x="617.800" y="925.560">0.0</text>
</g>
</g>
<g id="ytick_43">
<g id="line2d_154">
<g>
<use href="#me6279a2b69" x="625.32" y="866.52" style="stroke: #000000; stroke-width: 0.8"/>
</g>
</g>
<g id="text_132">
<text style="font-size: 10px; font-family: 'DejaVu Sans'; text-anchor: end" x="617.800" y="869.760">0.1</text>
</g>
</g>
<g id="ytick_44">
<g id="line2d_155">
<g>
<use href="#me6279a2b69" x="625.32" y="810.36" style="stroke: #000000; stroke-width: 0.8"/>
</g>
</g>
<g id="text_133">
<text style="font-size: 10px; font-family: 'DejaVu Sans'; text-anchor: end" x="617.800" y="813.959">0.2</text>
</g>
</g>
<g id="text_134">
<text style="font-size: 10px; font-family: 'DejaVu Sans'; text-anchor: middle" x="586.71" y="901.189" transform="rotate(-90 586.71 901.189)">steer [rad]</text>
</g>
</g>
<g id="line2d_156">
<path d="M 648.121 921.600 L 688.036 921.514 L 690.727 921.141 L 697.903 919.976 L 700.145 919.958 L 702.388 920.269 L 705.527 921.027 L 710.012 922.306 L 714.945 924.087 L 716.291 924.338 L 717.636 924.382 L 719.430 924.186 L 721.673 923.669 L 730.194 921.335 L 736.473 920.149 L 739.164 919.932 L 741.406 920.025 L 744.097 920.452 L 752.618 922.308 L 756.206 923.088 L 758.000 923.266 L 759.345 923.228 L 761.139 922.912 L 770.558 920.680 L 772.352 920.493 L 774.145 920.558 L 776.388 920.920 L 780.873 921.946 L 784.909 923.143 L 786.255 923.274 L 787.600 923.117 L 789.394 922.565 L 795.673 920.326 L 797.018 920.000 L 798.364 919.947 L 799.709 920.217 L 801.952 921.025 L 803.746 921.600 L 808.679 922.672 L 810.024 922.702 L 811.370 922.510 L 815.855 921.389 L 819.443 920.541 L 820.788 920.492 L 823.031 920.726 L 827.515 921.600 L 829.758 922.123 L 833.794 923.118 L 835.588 923.274 L 836.485 923.126 L 837.382 922.740 L 839.625 921.548 L 840.521 921.245 L 841.418 920.785 L 842.315 919.926 L 842.764 919.158 L 843.661 916.578 L 844.109 914.763 L 844.558 912.253 L 845.006 908.766 L 845.455 901.509 L 846.352 880.866 L 847.249 865.921 L 848.594 848.587 L 849.043 844.015 L 849.940 838.178 L 850.837 833.665 L 851.734 830.432 L 852.182 829.519 L 852.631 829.195 L 853.079 829.602 L 853.528 830.760 L 853.976 832.574 L 854.873 837.788 L 855.322 840.998 L 855.770 845.222 L 856.219 852.908 L 857.564 886.260 L 861.152 967.915 L 862.946 995.158 L 863.843 1005.641 L 864.291 1009.337 L 864.740 1011.715 L 865.188 1012.555 L 865.637 1012.172 L 866.085 1011.088 L 866.534 1009.404 L 867.431 1004.635 L 868.776 995.480 L 870.122 986.326 L 871.019 981.557 L 871.467 979.873 L 871.916 978.789 L 872.364 978.405 L 872.813 978.838 L 873.261 980.065 L 873.709 981.980 L 874.606 987.451 L 875.952 998.173 L 877.746 1012.717 L 878.643 1018.188 L 879.091 1020.103 L 879.540 1021.330 L 879.988 1021.762 L 880.437 1020.738 L 880.885 1017.824 L 881.334 1013.257 L 882.231 1000.107 L 883.576 973.900 L 885.370 935.267 L 888.958 840.036 L 890.303 809.021 L 891.200 793.842 L 891.649 788.958 L 892.097 786.348 L 892.546 786.578 L 892.994 790.792 L 893.443 798.278 L 894.340 819.133 L 895.685 850.378 L 897.928 882.947 L 898.825 893.930 L 899.722 901.625 L 900.170 903.769 L 900.619 904.525 L 901.067 903.921 L 901.516 902.214 L 901.964 899.561 L 902.861 892.049 L 904.207 877.630 L 905.552 863.210 L 906.449 855.698 L 906.897 853.045 L 907.346 851.338 L 907.794 850.734 L 908.243 851.447 L 908.691 853.500 L 909.140 856.767 L 910.037 866.428 L 910.934 879.409 L 912.279 902.870 L 914.970 951.516 L 915.867 964.497 L 916.764 974.158 L 917.213 977.425 L 917.661 979.478 L 918.110 980.191 L 918.558 979.719 L 919.007 978.382 L 919.455 976.301 L 920.352 970.378 L 921.698 958.885 L 923.491 943.701 L 924.388 938.314 L 924.837 936.590 L 925.285 935.671 L 925.734 935.685 L 926.182 936.710 L 926.631 938.632 L 927.528 944.638 L 928.873 957.053 L 930.667 974.383 L 931.564 980.987 L 932.013 983.308 L 932.461 984.798 L 932.910 985.325 L 933.358 984.683 L 933.807 982.830 L 934.255 979.877 L 935.152 971.110 L 936.049 959.261 L 937.395 937.636 L 940.534 884.610 L 941.431 872.761 L 942.328 863.993 L 942.776 861.040 L 943.225 859.188 L 943.673 858.546 L 944.122 859.060 L 944.570 860.521 L 945.019 862.807 L 945.916 869.365 L 947.261 882.333 L 949.055 900.336 L 949.952 907.443 L 950.401 910.096 L 950.849 911.985 L 951.298 912.988 L 951.746 912.994 L 952.195 912.045 L 952.643 910.274 L 953.540 904.789 L 954.886 893.684 L 956.231 882.282 L 957.128 876.271 L 957.576 874.137 L 958.025 872.761 L 958.473 872.273 L 958.922 872.828 L 959.370 874.426 L 959.819 876.962 L 960.716 884.430 L 961.613 894.398 L 963.407 918.504 L 965.201 942.609 L 966.098 952.577 L 966.995 960.045 L 967.443 962.581 L 967.892 964.179 L 968.340 964.734 L 968.789 964.349 L 969.237 963.255 L 969.686 961.547 L 970.583 956.667 L 971.928 947.103 L 973.722 934.132 L 974.619 929.252 L 975.067 927.544 L 975.516 926.450 L 975.964 926.064 L 976.413 926.517 L 976.861 927.800 L 977.310 929.804 L 978.207 935.529 L 979.552 946.748 L 981.346 961.966 L 982.243 967.691 L 982.692 969.694 L 983.140 970.978 L 983.589 971.430 L 984.037 970.770 L 984.486 968.875 L 984.934 965.876 L 985.831 957.084 L 986.728 945.433 L 988.522 917.715 L 990.316 891.036 L 991.213 880.685 L 992.110 873.712 L 992.558 871.817 L 993.007 871.157 L 993.455 871.593 L 993.904 872.843 L 994.352 874.814 L 995.249 880.564 L 996.146 888.121 L 1000.183 925.104 L 1001.080 929.680 L 1001.528 930.929 L 1001.977 931.366 L 1002.425 931.110 L 1002.874 930.389 L 1003.322 929.271 L 1004.219 926.119 L 1006.013 918.062 L 1007.358 912.642 L 1008.255 910.351 L 1008.704 909.809 L 1009.152 909.724 L 1010.049 910.057 L 1010.946 910.887 L 1011.843 912.239 L 1012.740 914.140 L 1013.637 916.617 L 1014.534 919.695 L 1015.880 925.498 L 1016.777 930.195 L 1017.225 931.269 L 1017.674 930.968 L 1018.122 930.381 L 1019.019 928.434 L 1019.916 925.668 L 1023.055 914.854 L 1023.952 913.014 L 1024.401 912.486 L 1024.849 912.244 L 1025.298 912.294 L 1025.746 912.635 L 1026.195 913.256 L 1027.092 915.251 L 1027.989 918.032 L 1031.128 928.657 L 1032.025 930.403 L 1032.474 930.883 L 1032.922 931.079 L 1033.371 930.986 L 1033.819 930.607 L 1034.268 929.953 L 1035.165 927.914 L 1036.062 925.121 L 1038.752 915.855 L 1039.649 913.737 L 1040.098 913.035 L 1040.546 912.602 L 1040.995 912.451 L 1041.443 912.586 L 1041.892 913.002 L 1042.340 913.687 L 1043.237 915.768 L 1044.134 918.572 L 1046.825 927.686 L 1047.722 929.713 L 1048.171 930.368 L 1048.619 930.754 L 1049.068 930.862 L 1049.516 930.686 L 1049.965 930.234 L 1050.413 929.519 L 1051.310 927.399 L 1052.656 923.029 L 1054.450 916.899 L 1055.346 914.550 L 1056.243 913.084 L 1056.692 912.743 L 1057.140 912.679 L 1057.589 912.894 L 1058.037 913.381 L 1058.486 914.125 L 1059.383 916.281 L 1060.728 920.646 L 1062.522 926.667 L 1063.419 928.931 L 1063.868 929.743 L 1064.316 930.306 L 1064.765 930.602 L 1065.213 930.624 L 1065.662 930.370 L 1066.110 929.850 L 1067.007 928.081 L 1067.904 925.538 L 1071.044 915.436 L 1071.940 913.677 L 1072.389 913.159 L 1072.837 912.906 L 1073.286 912.926 L 1073.734 913.217 L 1074.183 913.769 L 1075.080 915.583 L 1075.977 918.143 L 1079.116 928.074 L 1080.013 929.745 L 1080.462 930.218 L 1080.910 930.428 L 1081.359 930.368 L 1081.807 930.041 L 1082.256 929.457 L 1083.153 927.601 L 1084.050 925.028 L 1086.741 916.377 L 1087.638 914.365 L 1088.086 913.688 L 1088.534 913.259 L 1088.983 913.091 L 1089.431 913.190 L 1089.880 913.552 L 1090.328 914.166 L 1091.225 916.063 L 1091.674 917.287 L 1091.674 917.287" clip-path="url(#p34ff89f510)" style="fill: none; stroke: #1f77b4; stroke-width: 1.5; stroke-linecap: square"/>
</g>
<g id="line2d_157">
<path d="M 648.121 921.600 L 680.860 921.505 L 682.654 921.142 L 689.382 919.412 L 690.727 919.380 L 692.521 919.621 L 694.763 920.238 L 700.594 922.257 L 706.873 924.902 L 708.218 925.171 L 709.563 925.211 L 710.909 924.990 L 712.703 924.383 L 715.394 923.120 L 718.085 921.904 L 722.121 920.579 L 724.812 919.786 L 726.606 919.453 L 728.400 919.373 L 731.091 919.567 L 736.024 920.273 L 739.612 920.979 L 744.097 922.113 L 749.030 923.646 L 750.376 923.820 L 751.721 923.771 L 753.067 923.488 L 755.309 922.706 L 758.448 921.600 L 764.727 919.973 L 766.073 919.940 L 767.418 920.120 L 769.212 920.593 L 774.145 922.266 L 777.285 923.541 L 778.630 923.812 L 779.527 923.807 L 780.873 923.475 L 782.667 922.662 L 785.358 921.417 L 789.843 919.466 L 790.739 919.368 L 791.636 919.472 L 792.982 919.931 L 797.915 922.088 L 800.606 923.022 L 801.952 923.257 L 802.849 923.252 L 804.194 922.960 L 806.437 922.088 L 810.024 920.794 L 812.267 920.081 L 813.612 919.926 L 814.509 920.023 L 815.855 920.442 L 819.891 922.231 L 822.582 923.578 L 823.479 923.801 L 824.376 923.802 L 827.515 923.336 L 828.412 923.714 L 829.758 924.329 L 830.206 924.390 L 830.655 924.319 L 831.552 923.790 L 832.449 922.845 L 833.346 921.600 L 834.243 921.432 L 835.140 920.974 L 836.037 920.216 L 836.485 919.183 L 836.934 917.572 L 837.831 912.997 L 838.728 907.260 L 839.176 903.402 L 840.073 892.042 L 843.661 839.616 L 844.109 836.226 L 845.006 832.159 L 845.903 829.028 L 846.352 827.947 L 846.800 827.26 L 847.249 827.018 L 847.697 827.826 L 848.146 830.085 L 848.594 833.553 L 849.491 843.141 L 850.388 854.640 L 850.837 862.230 L 851.734 884.618 L 853.079 921.600 L 855.322 974.571 L 856.219 988.100 L 857.564 1005.465 L 858.461 1013.565 L 858.909 1015.865 L 859.358 1016.685 L 859.806 1015.895 L 860.255 1013.713 L 861.152 1006.283 L 863.394 982.833 L 863.843 979.536 L 864.291 977.353 L 864.740 976.564 L 866.982 976.564 L 867.431 977.255 L 867.879 979.167 L 868.776 985.677 L 871.019 1006.288 L 872.813 1017.229 L 873.709 1022.010 L 874.158 1023.790 L 874.606 1024.965 L 875.055 1025.389 L 875.503 1024.038 L 875.952 1020.231 L 876.400 1014.336 L 877.297 997.759 L 879.540 945.595 L 880.437 923.324 L 884.922 799.676 L 885.819 781.557 L 886.267 775.899 L 886.716 775.666 L 887.164 780.063 L 887.613 787.861 L 888.510 809.501 L 891.649 889.419 L 892.097 896.359 L 892.546 899.219 L 893.443 901.977 L 893.891 903.096 L 895.237 907.260 L 895.685 906.575 L 896.134 904.639 L 896.582 901.631 L 897.479 893.114 L 898.825 876.765 L 900.170 860.415 L 901.067 851.898 L 901.516 848.890 L 901.964 846.955 L 902.413 846.270 L 902.861 848.180 L 903.310 853.382 L 904.207 870.492 L 906.001 909.324 L 908.691 952.915 L 909.588 963.786 L 910.934 977.621 L 911.382 981.260 L 911.831 983.739 L 912.279 984.655 L 912.728 984.072 L 913.176 982.425 L 913.625 979.866 L 914.522 972.619 L 915.867 958.708 L 917.213 944.797 L 918.110 937.550 L 918.558 934.990 L 919.007 933.343 L 919.455 932.761 L 919.904 933.321 L 920.352 934.911 L 920.801 937.393 L 921.698 944.484 L 923.043 958.380 L 924.837 977.229 L 925.734 984.320 L 926.182 986.802 L 926.631 988.391 L 927.079 988.952 L 927.528 988.184 L 927.976 986.005 L 928.425 982.599 L 929.322 972.843 L 930.667 953.621 L 933.807 904.254 L 935.601 869.568 L 936.498 857.332 L 936.946 853.828 L 937.395 852.575 L 937.843 853.079 L 938.292 854.519 L 938.740 856.784 L 939.637 863.348 L 940.982 876.633 L 943.225 900.609 L 944.122 908.274 L 945.019 913.519 L 945.467 914.958 L 945.916 915.462 L 946.364 914.936 L 946.813 913.448 L 947.261 911.137 L 948.158 904.591 L 949.504 892.026 L 950.849 879.461 L 951.746 872.916 L 952.195 870.604 L 952.643 869.116 L 953.092 868.590 L 953.540 869.247 L 953.989 871.132 L 954.437 874.117 L 955.334 882.865 L 956.231 894.457 L 958.025 922.036 L 959.819 948.582 L 960.716 958.881 L 961.613 965.819 L 962.061 967.704 L 962.510 968.361 L 962.958 967.963 L 963.407 966.829 L 963.855 965.050 L 964.752 959.931 L 966.098 949.723 L 968.340 932.095 L 969.237 926.976 L 969.686 925.198 L 970.134 924.064 L 970.583 923.665 L 971.031 924.237 L 971.480 925.854 L 971.928 928.367 L 972.825 935.481 L 974.170 949.138 L 975.516 962.795 L 976.413 969.909 L 976.861 972.422 L 977.310 974.039 L 977.758 974.611 L 978.207 973.965 L 978.655 972.108 L 979.104 969.161 L 980.001 960.481 L 980.898 948.894 L 982.692 920.875 L 984.486 892.856 L 985.383 881.269 L 986.280 872.589 L 986.728 869.642 L 987.177 867.785 L 987.625 867.139 L 988.074 867.578 L 988.522 868.835 L 988.970 870.827 L 989.867 876.663 L 990.764 884.398 L 992.558 902.800 L 994.352 920.512 L 995.249 927.384 L 996.146 932.013 L 996.595 933.271 L 997.043 933.709 L 997.492 933.315 L 997.940 932.215 L 998.837 928.377 L 1000.183 920.338 L 1001.528 912.463 L 1002.425 908.915 L 1002.874 908.014 L 1003.322 907.823 L 1004.219 908.121 L 1005.116 908.930 L 1006.013 910.316 L 1006.910 912.348 L 1007.807 915.092 L 1008.704 918.617 L 1009.601 922.990 L 1010.498 928.277 L 1010.946 931.285 L 1011.395 933.468 L 1011.843 933.178 L 1012.292 932.545 L 1012.740 931.589 L 1013.637 928.836 L 1014.983 923.296 L 1016.777 915.697 L 1017.674 912.857 L 1018.122 911.845 L 1018.571 911.150 L 1019.019 910.792 L 1019.468 910.782 L 1019.916 911.120 L 1020.365 911.794 L 1021.262 914.060 L 1022.158 917.298 L 1025.298 930.055 L 1026.195 932.251 L 1026.643 932.890 L 1027.092 933.192 L 1027.540 933.150 L 1027.989 932.766 L 1028.437 932.050 L 1029.334 929.728 L 1030.231 926.472 L 1033.371 913.932 L 1034.268 911.848 L 1034.716 911.266 L 1035.165 911.018 L 1035.613 911.110 L 1036.062 911.541 L 1036.510 912.295 L 1037.407 914.670 L 1038.304 917.942 L 1040.995 928.871 L 1041.892 931.390 L 1042.340 932.232 L 1042.789 932.758 L 1043.237 932.953 L 1043.686 932.811 L 1044.134 932.337 L 1044.583 931.546 L 1045.480 929.120 L 1046.377 925.835 L 1049.068 915.084 L 1049.965 912.670 L 1050.413 911.884 L 1050.862 911.412 L 1051.310 911.269 L 1051.759 911.459 L 1052.207 911.976 L 1052.656 912.803 L 1053.553 915.276 L 1054.898 920.402 L 1056.692 927.635 L 1057.589 930.424 L 1058.486 932.180 L 1058.934 932.598 L 1059.383 932.690 L 1059.831 932.453 L 1060.280 931.895 L 1060.728 931.033 L 1061.625 928.517 L 1062.971 923.395 L 1064.765 916.289 L 1065.662 913.599 L 1066.110 912.629 L 1066.559 911.952 L 1067.007 911.586 L 1067.456 911.544 L 1067.904 911.827 L 1068.353 912.425 L 1068.801 913.318 L 1069.698 915.875 L 1071.044 920.989 L 1072.837 927.965 L 1073.734 930.555 L 1074.183 931.472 L 1074.631 932.097 L 1075.080 932.410 L 1075.528 932.403 L 1075.977 932.077 L 1076.425 931.441 L 1077.322 929.330 L 1078.219 926.334 L 1081.359 914.616 L 1082.256 912.621 L 1082.704 912.049 L 1083.153 911.787 L 1083.601 911.841 L 1084.050 912.211 L 1084.498 912.883 L 1085.395 915.045 L 1086.292 918.059 L 1088.983 928.260 L 1089.880 930.652 L 1090.328 931.465 L 1090.777 931.985 L 1091.225 932.198 L 1091.674 932.097 L 1091.674 932.097" clip-path="url(#p34ff89f510)" style="fill: none; stroke: #ee82ee; stroke-width: 1.5; stroke-linecap: square"/>
</g>
<g id="line2d_158">
<path d="M 648.121 921.600 L 844.558 921.600 L 845.006 916.829 L 846.352 845.265 L 858.012 845.265 L 858.461 878.491 L 859.358 973.422 L 859.806 997.154 L 884.922 997.154 L 885.370 978.744 L 886.716 845.265 L 900.619 845.265 L 901.964 883.210 L 913.176 883.210 L 913.625 896.381 L 914.522 949.064 L 914.970 959.601 L 938.292 959.601 L 938.740 941.161 L 939.637 888.478 L 940.085 883.210 L 950.849 883.210 L 951.746 891.141 L 952.195 895.547 L 952.643 895.988 L 962.510 895.988 L 962.958 899.144 L 964.304 946.487 L 988.074 946.487 L 988.522 936.388 L 989.419 895.988 L 999.286 895.988 L 1000.631 913.408 L 1001.080 914.570 L 1001.977 914.570 L 1003.322 921.600 L 1091.674 921.600 L 1091.674 921.600" clip-path="url(#p34ff89f510)" style="fill: none; stroke: #ffa500; stroke-width: 1.5; stroke-linecap: square"/>
</g>
<g id="line2d_159">
<path d="M 648.121 921.600 L 688.036 921.687 L 690.727 922.060 L 697.903 923.224 L 700.145 923.243 L 702.388 922.932 L 705.527 922.174 L 710.012 920.895 L 714.945 919.114 L 716.291 918.863 L 717.636 918.819 L 719.430 919.015 L 721.673 919.532 L 730.194 921.866 L 736.473 923.052 L 739.164 923.269 L 741.406 923.176 L 744.097 922.749 L 752.618 920.893 L 756.206 920.113 L 758.000 919.935 L 759.345 919.973 L 761.139 920.289 L 770.558 922.521 L 772.352 922.707 L 774.145 922.643 L 776.388 922.280 L 780.873 921.255 L 784.909 920.058 L 786.255 919.926 L 787.600 920.084 L 789.394 920.636 L 795.673 922.874 L 797.018 923.201 L 798.364 923.254 L 799.709 922.984 L 801.952 922.176 L 803.746 921.600 L 808.679 920.529 L 810.024 920.499 L 811.370 920.691 L 815.855 921.812 L 819.443 922.660 L 820.788 922.709 L 823.031 922.475 L 827.515 921.600 L 829.758 921.077 L 833.794 920.083 L 835.588 919.926 L 836.485 920.075 L 837.831 920.912 L 839.176 921.172 L 839.625 921.544 L 840.521 922.923 L 841.418 924.986 L 842.315 927.543 L 842.764 929.050 L 843.212 932.068 L 844.558 944.796 L 845.006 947.204 L 845.455 944.152 L 846.352 900.804 L 846.800 892.814 L 847.249 896.378 L 848.594 916.535 L 849.940 926.551 L 850.837 932.089 L 851.734 935.894 L 852.182 936.913 L 852.631 937.214 L 853.079 936.064 L 853.528 933.323 L 854.425 924.840 L 855.322 915.006 L 856.219 898.747 L 857.115 881.069 L 857.564 875.073 L 858.012 872.775 L 858.461 881.906 L 859.358 919.258 L 860.255 939.937 L 860.703 947.582 L 861.152 950.976 L 861.600 948.344 L 862.946 926.064 L 864.291 912.884 L 864.740 909.457 L 865.188 907.081 L 865.637 906.097 L 866.085 906.708 L 866.534 908.633 L 867.431 914.950 L 868.776 925.099 L 871.467 938.623 L 871.916 939.766 L 872.364 940.182 L 872.813 939.428 L 873.261 937.389 L 874.158 930.789 L 875.503 919.579 L 876.400 914.440 L 879.540 898.891 L 879.988 897.509 L 880.437 896.992 L 880.885 898.814 L 881.334 903.442 L 883.128 926.752 L 884.473 942.522 L 884.922 945.308 L 885.370 944.786 L 885.819 935.342 L 886.716 909.480 L 887.613 888.313 L 888.061 882.271 L 888.510 884.032 L 888.958 892.997 L 891.649 968.316 L 892.097 977.048 L 892.546 980.414 L 892.994 977.515 L 893.443 969.929 L 895.685 917.802 L 897.031 893.949 L 897.928 882.246 L 899.273 868.908 L 899.722 865.697 L 900.170 863.728 L 900.619 864.247 L 901.067 877.251 L 901.516 894.373 L 901.964 903.560 L 902.861 914.515 L 906.449 948.239 L 906.897 951.089 L 907.346 952.958 L 907.794 953.630 L 908.243 952.175 L 908.691 948.270 L 909.588 935.862 L 910.934 916.015 L 913.176 885.013 L 913.625 883.893 L 914.073 904.497 L 914.522 930.951 L 914.970 932.927 L 916.316 914.196 L 917.213 906.226 L 917.661 903.197 L 918.110 901.320 L 918.558 900.970 L 919.007 902.152 L 919.455 904.542 L 920.352 911.689 L 921.698 923.583 L 924.388 941.945 L 924.837 943.872 L 925.285 944.884 L 925.734 944.771 L 926.182 943.575 L 926.631 941.493 L 927.528 935.472 L 930.667 909.808 L 931.564 901.683 L 932.013 898.597 L 932.461 896.630 L 932.910 896.135 L 933.358 897.303 L 933.807 899.898 L 934.704 908.151 L 936.498 928.839 L 937.843 950.570 L 938.292 954.232 L 938.740 946.733 L 939.637 902.453 L 940.085 903.829 L 940.982 919.092 L 941.879 931.626 L 942.776 942.088 L 943.225 944.965 L 943.673 945.198 L 944.122 943.904 L 944.570 941.566 L 945.467 934.789 L 949.952 895.234 L 950.401 892.894 L 950.849 891.835 L 951.298 893.728 L 952.195 905.014 L 953.540 915.232 L 956.679 936.664 L 957.576 942.326 L 958.025 944.001 L 958.473 944.525 L 958.922 943.487 L 959.370 940.973 L 960.267 932.907 L 962.510 907.481 L 963.407 896.248 L 963.855 894.000 L 964.304 903.250 L 964.752 923.321 L 965.201 934.435 L 965.649 930.332 L 966.546 916.312 L 967.443 908.390 L 967.892 905.491 L 968.340 904.004 L 968.789 904.267 L 969.237 905.859 L 970.134 911.713 L 971.928 925.360 L 974.619 939.096 L 975.067 940.615 L 975.516 941.610 L 975.964 941.968 L 976.413 941.332 L 976.861 939.586 L 977.758 933.717 L 980.001 916.306 L 982.692 898.308 L 983.140 896.918 L 983.589 896.589 L 984.037 897.986 L 984.486 901.038 L 985.383 910.387 L 988.074 943.140 L 988.522 944.648 L 988.970 919.348 L 989.419 903.590 L 989.867 907.330 L 991.213 927.563 L 992.558 942.796 L 993.007 945.445 L 993.455 945.550 L 993.904 943.601 L 994.352 940.196 L 996.595 918.935 L 999.734 896.080 L 1000.183 892.007 L 1000.631 889.706 L 1001.080 894.955 L 1001.528 907.591 L 1001.977 912.274 L 1003.322 913.293 L 1003.771 914.644 L 1006.013 924.213 L 1008.255 931.796 L 1008.704 933.183 L 1009.152 933.200 L 1009.601 932.804 L 1010.498 931.503 L 1011.843 929.364 L 1012.740 928.312 L 1013.189 927.896 L 1014.086 925.122 L 1014.983 921.733 L 1016.328 915.439 L 1016.777 913.005 L 1017.225 911.931 L 1017.674 912.233 L 1018.122 912.820 L 1019.019 914.767 L 1019.916 917.533 L 1023.055 928.346 L 1023.952 930.187 L 1024.401 930.715 L 1024.849 930.957 L 1025.298 930.907 L 1025.746 930.566 L 1026.195 929.945 L 1027.092 927.950 L 1027.989 925.169 L 1031.128 914.543 L 1032.025 912.798 L 1032.474 912.318 L 1032.922 912.121 L 1033.371 912.215 L 1033.819 912.594 L 1034.268 913.247 L 1035.165 915.287 L 1036.062 918.080 L 1038.752 927.346 L 1039.649 929.464 L 1040.098 930.166 L 1040.546 930.599 L 1040.995 930.750 L 1041.443 930.615 L 1041.892 930.199 L 1042.340 929.514 L 1043.237 927.433 L 1044.134 924.629 L 1046.825 915.515 L 1047.722 913.488 L 1048.171 912.833 L 1048.619 912.446 L 1049.068 912.339 L 1049.516 912.515 L 1049.965 912.967 L 1050.413 913.682 L 1051.310 915.802 L 1052.656 920.172 L 1054.450 926.302 L 1055.346 928.651 L 1056.243 930.117 L 1056.692 930.458 L 1057.140 930.522 L 1057.589 930.307 L 1058.037 929.820 L 1058.486 929.076 L 1059.383 926.920 L 1060.728 922.555 L 1062.522 916.534 L 1063.419 914.270 L 1063.868 913.458 L 1064.316 912.895 L 1064.765 912.599 L 1065.213 912.577 L 1065.662 912.831 L 1066.110 913.351 L 1067.007 915.119 L 1067.904 917.663 L 1071.044 927.765 L 1071.940 929.524 L 1072.389 930.042 L 1072.837 930.294 L 1073.286 930.275 L 1073.734 929.984 L 1074.183 929.431 L 1075.080 927.617 L 1075.977 925.058 L 1079.116 915.126 L 1080.013 913.456 L 1080.462 912.983 L 1080.910 912.773 L 1081.359 912.833 L 1081.807 913.160 L 1082.256 913.743 L 1083.153 915.600 L 1084.050 918.173 L 1086.741 926.824 L 1087.638 928.836 L 1088.086 929.513 L 1088.534 929.942 L 1088.983 930.110 L 1089.431 930.011 L 1089.880 929.649 L 1090.328 929.035 L 1091.225 927.138 L 1091.674 925.914 L 1091.674 925.914" clip-path="url(#p34ff89f510)" style="fill: none; stroke: #d3d3d3; stroke-width: 1.5; stroke-linecap: square"/>
</g>
<g id="line2d_160">
<path d="M 648 921.6 L 1091.52 921.6" clip-path="url(#p34ff89f510)" style="fill: none; stroke-dasharray: 5.55,2.4; stroke-dashoffset: 0; stroke: #8b0000; stroke-width: 1.5"/>
</g>
<g id="patch_39">
<path d="M 625.32 1038.6 L 625.32 763.56" style="fill: none; stroke: #000000; stroke-width: 0.8; stroke-linejoin: miter; stroke-linecap: square"/>
</g>
<g id="patch_40">
<path d="M 1137.96 1038.6 L 1137.96 763.56" style="fill: none; stroke: #000000; stroke-width: 0.8; stroke-linejoin: miter; stroke-linecap: square"/>
</g>
<g id="patch_41">
<path d="M 625.32 1038.6 L 1137.96 1038.6" style="fill: none; stroke: #000000; stroke-width: 0.8; stroke-linejoin: miter; stroke-linecap: square"/>
</g>
<g id="patch_42">
<path d="M 625.32 763.56 L 1137.96 763.56" style="fill: none; stroke: #000000; stroke-width: 0.8; stroke-linejoin: miter; stroke-linecap: square"/>
</g>
<g id="text_135">
<text style="font-size: 12px; font-family: 'DejaVu Sans'; text-anchor: middle" x="881.11" y="741.731">abs_max(steer_error) = 0.10625092780047696</text>
<text style="font-size: 12px; font-family: 'DejaVu Sans'; text-anchor: middle" x="881.11" y="756.898">abs_max(steer_error[straight_line]) = 0.005304107925564429</text>
</g>
<g id="legend_7">
<g id="patch_43">
<path d="M 631.800 877.066 L 770.180 877.066 Q 772.180 877.066 772.180 875.066 L 772.180 769.898 Q 772.180 767.898 770.180 767.898 L 631.800 767.898 Q 629.800 767.898 629.800 769.898 L 629.800 875.066 Q 629.800 877.066 631.800 877.066 z" style="fill: #ffffff; opacity: 0.8; stroke: #cccccc; stroke-linejoin: miter"/>
</g>
<g id="line2d_161">
<path d="M 633.800 776.318 L 643.800 776.318 L 653.800 776.318" style="fill: none; stroke: #1f77b4; stroke-width: 1.5; stroke-linecap: square"/>
</g>
<g id="text_136">
<text style="font-size: 10px; font-family: 'DejaVu Sans'; text-anchor: start" x="661.800" y="779.818">steer</text>
</g>
<g id="line2d_162">
<path d="M 633.800 791.398 L 643.800 791.398 L 653.800 791.398" style="fill: none; stroke: #ee82ee; stroke-width: 1.5; stroke-linecap: square"/>
</g>
<g id="text_137">
<text style="font-size: 10px; font-family: 'DejaVu Sans'; text-anchor: start" x="661.800" y="794.898">steer_input</text>
</g>
<g id="line2d_163">
<path d="M 633.800 806.579 L 643.800 806.579 L 653.800 806.579" style="fill: none; stroke: #ffa500; stroke-width: 1.5; stroke-linecap: square"/>
</g>
<g id="text_138">
<text style="font-size: 10px; font-family: 'DejaVu Sans'; text-anchor: start" x="661.800" y="810.079">steer_mpc_target</text>
</g>
<g id="line2d_164">
<path d="M 633.800 821.761 L 643.800 821.761 L 653.800 821.761" style="fill: none; stroke: #d3d3d3; stroke-width: 1.5; stroke-linecap: square"/>
</g>
<g id="text_139">
<text style="font-size: 10px; font-family: 'DejaVu Sans'; text-anchor: start" x="661.800" y="825.261">steer_error</text>
</g>
<g id="PathCollection_24">
<g>
<use href="#m0045b0ffa0" x="643.800" y="837.817" style="fill: #008000; stroke: #008000"/>
</g>
</g>
<g id="text_140">
<text style="font-size: 10px; font-family: 'DejaVu Sans'; text-anchor: start" x="661.800" y="840.442">steer_true_prediction</text>
</g>
<g id="PathCollection_25">
<g>
<use href="#me06b111425" x="643.800" y="852.998" style="fill: #ff0000; stroke: #ff0000"/>
</g>
</g>
<g id="text_141">
<text style="font-size: 10px; font-family: 'DejaVu Sans'; text-anchor: start" x="661.800" y="855.623">steer_prediction_ilqr</text>
</g>
<g id="PathCollection_26">
<g>
<use href="#m122c429c32" x="643.800" y="868.179" style="fill: #dda0dd; stroke: #dda0dd"/>
</g>
</g>
<g id="text_142">
<text style="font-size: 10px; font-family: 'DejaVu Sans'; text-anchor: start" x="661.800" y="870.804">steer_input_schedule</text>
</g>
</g>
</g>
<g id="text_143">
<text style="font-size: 12px; font-family: 'DejaVu Sans'; text-anchor: middle" x="864" y="31.68">control_using_trained_model: perturbed_sim: {'steer_time_delay': 1.01}, nominal_model: {'steer_time_delay': 0.269973}</text>
</g>
</g>
<defs>
<clipPath id="paa9dff0b9c">
<rect x="56.090" y="65.998" width="512.619" height="275.141"/>
</clipPath>
<clipPath id="p4e9524a545">
<rect x="624.800" y="65.998" width="512.619" height="275.141"/>
</clipPath>
<clipPath id="p6fe620b129">
<rect x="1193.510" y="65.998" width="512.619" height="275.141"/>
</clipPath>
<clipPath id="p5ef1e9b4c9">
<rect x="56.090" y="414.448" width="512.619" height="275.141"/>
</clipPath>
<clipPath id="pc964f7d2d0">
<rect x="624.800" y="414.448" width="512.619" height="275.141"/>
</clipPath>
<clipPath id="p7e3aa7d701">
<rect x="56.090" y="762.898" width="512.619" height="275.141"/>
</clipPath>
<clipPath id="p34ff89f510">
<rect x="624.800" y="762.898" width="512.619" height="275.141"/>
</clipPath>
</defs>
</svg>

</body></html>
